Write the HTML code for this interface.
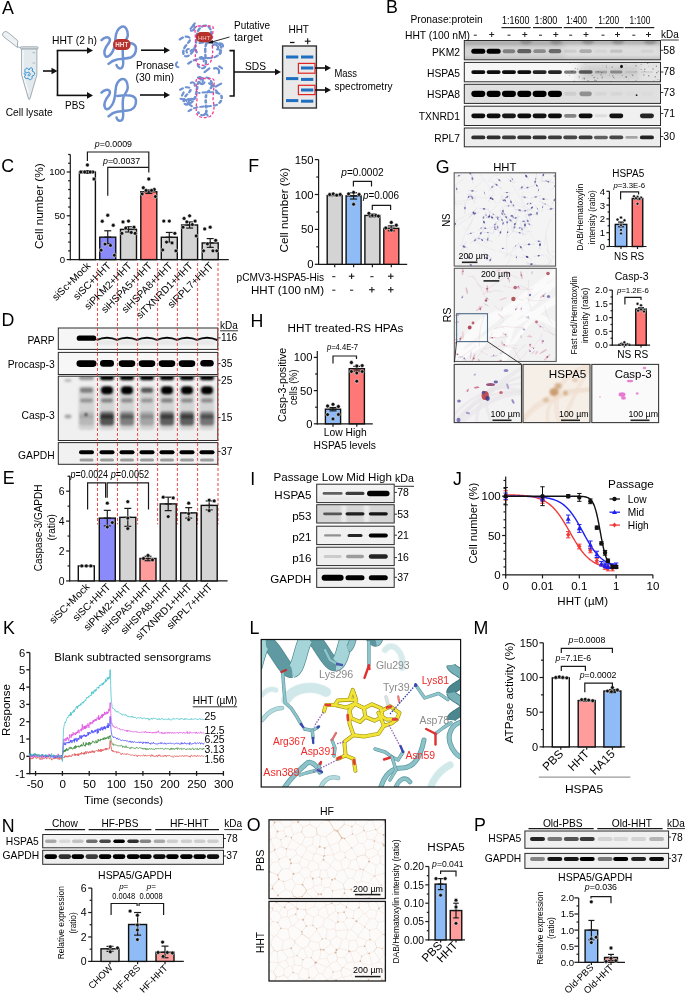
<!DOCTYPE html><html><head><meta charset="utf-8"><style>html,body{margin:0;padding:0;background:#fff;overflow:hidden}svg{display:block;will-change:transform}text{font-family:"Liberation Sans",sans-serif}</style></head><body><svg width="685" height="994" viewBox="0 0 685 994" font-family='"Liberation Sans", sans-serif'><defs><clipPath id="clb1"><rect x="464.3" y="40.5" width="196.2" height="19.3"/></clipPath><filter id="bf1_60" x="-50%" y="-100%" width="200%" height="300%"><feGaussianBlur stdDeviation="1.6"/></filter><filter id="bf2_00" x="-50%" y="-100%" width="200%" height="300%"><feGaussianBlur stdDeviation="2"/></filter><filter id="bf1_20" x="-50%" y="-100%" width="200%" height="300%"><feGaussianBlur stdDeviation="1.2"/></filter><filter id="bf1_00" x="-50%" y="-100%" width="200%" height="300%"><feGaussianBlur stdDeviation="1"/></filter><filter id="bf0_65" x="-50%" y="-100%" width="200%" height="300%"><feGaussianBlur stdDeviation="0.65"/></filter><clipPath id="clb2"><rect x="464.3" y="62.4" width="196.2" height="19.4"/></clipPath><filter id="bf4_00" x="-50%" y="-100%" width="200%" height="300%"><feGaussianBlur stdDeviation="4"/></filter><filter id="bf3_00" x="-50%" y="-100%" width="200%" height="300%"><feGaussianBlur stdDeviation="3"/></filter><clipPath id="clb3"><rect x="464.3" y="84.3" width="196.2" height="19.1"/></clipPath><clipPath id="clb4"><rect x="464.3" y="106.2" width="196.2" height="19.3"/></clipPath><clipPath id="clb5"><rect x="464.3" y="128" width="196.2" height="18.8"/></clipPath><clipPath id="clb6"><rect x="58.3" y="328" width="159.5" height="21.4"/></clipPath><filter id="bf0_45" x="-50%" y="-100%" width="200%" height="300%"><feGaussianBlur stdDeviation="0.45"/></filter><filter id="bf1_50" x="-50%" y="-100%" width="200%" height="300%"><feGaussianBlur stdDeviation="1.5"/></filter><filter id="bf0_60" x="-50%" y="-100%" width="200%" height="300%"><feGaussianBlur stdDeviation="0.6"/></filter><clipPath id="clb7"><rect x="58.3" y="352.4" width="159.5" height="22.1"/></clipPath><filter id="bf0_75" x="-50%" y="-100%" width="200%" height="300%"><feGaussianBlur stdDeviation="0.75"/></filter><clipPath id="clb8"><rect x="58.3" y="376.2" width="159.5" height="64.3"/></clipPath><clipPath id="clb9"><rect x="58.3" y="442.6" width="159.5" height="21.7"/></clipPath><clipPath id="clg1"><rect x="454.2" y="172.8" width="101.4" height="93.3"/></clipPath><clipPath id="clg2"><rect x="454.3" y="268.3" width="101.9" height="93.2"/></clipPath><clipPath id="clg3"><rect x="454.2" y="364.4" width="67.3" height="58.2"/></clipPath><clipPath id="clg4"><rect x="523" y="364.4" width="67" height="58.2"/></clipPath><clipPath id="clg5"><rect x="591.8" y="364.4" width="66.8" height="58.2"/></clipPath><clipPath id="clb10"><rect x="316.7" y="484.2" width="77.5" height="18.4"/></clipPath><filter id="bf0_70" x="-50%" y="-100%" width="200%" height="300%"><feGaussianBlur stdDeviation="0.7"/></filter><clipPath id="clb11"><rect x="316.7" y="504.7" width="77.5" height="18.3"/></clipPath><clipPath id="clb12"><rect x="316.7" y="526.2" width="77.5" height="18.4"/></clipPath><clipPath id="clb13"><rect x="316.7" y="547.2" width="77.5" height="18.4"/></clipPath><clipPath id="clb14"><rect x="316.7" y="568.2" width="77.5" height="19.2"/></clipPath><clipPath id="clL"><rect x="261.2" y="639.5" width="199.4" height="147.5"/></clipPath><clipPath id="clb15"><rect x="42.7" y="834.5" width="180.8" height="13.3"/></clipPath><clipPath id="clb16"><rect x="42.7" y="850.3" width="180.8" height="14"/></clipPath><clipPath id="clO41"><rect x="269" y="819.8" width="116.4" height="78.8"/></clipPath><clipPath id="clO42"><rect x="269" y="901.4" width="116.4" height="79.6"/></clipPath><clipPath id="clb17"><rect x="524.9" y="831" width="143.7" height="17.3"/></clipPath><clipPath id="clb18"><rect x="524.9" y="853.4" width="143.7" height="15"/></clipPath></defs><rect width="685" height="994" fill="#fff"/><path d="M17.5,47.5 L4,37 Q1.5,35 3,33 L4,32 Q5.5,30.5 8,32.5 L17,40 Q18.5,41.5 17.5,43 Z" fill="#eef2f4" stroke="#8e9aa2" stroke-width="0.8"/>
<path d="M18,47 L21,47.5" stroke="#8e9aa2" stroke-width="0.8"/>
<rect x="20.5" y="46.8" width="17.5" height="2.3" rx="0.8" fill="#dfe6ea" stroke="#8e9aa2" stroke-width="0.8"/>
<path d="M21.6,49 L21.6,75 L28.6,99.2 Q29.2,100 29.8,99.2 L36.9,75 L36.9,49 Z" fill="#e3eaee" stroke="#8e9aa2" stroke-width="0.8"/>
<path d="M23,50 L23,74 L28.5,93" stroke="#ffffff" stroke-width="1.2" fill="none" opacity="0.8"/>
<line x1="32.5" y1="52.7" x2="35.2" y2="52.7" stroke="#9aa4aa" stroke-width="0.7" />
<line x1="32.5" y1="63" x2="35.2" y2="63" stroke="#9aa4aa" stroke-width="0.7" />
<path d="M25,72 C24,68 28,67 29,70 C30,66 34,68 32,71 C36,72 35,76 32,76 C33,80 29,81 28,78 C25,80 23,76 26,75 C23,74 24,72 27,73 C28,71 31,73 30,75 C29,77 27,75 29,74" stroke="#2e8fd4" stroke-width="1" fill="none"/>
<line x1="43" y1="71" x2="52" y2="71" stroke="#111" stroke-width="1.6" />
<path d="M57.5,71 L51.5,67.7 L51.5,74.3 Z" fill="#111"/>
<line x1="57.5" y1="50.5" x2="57.5" y2="95.4" stroke="#111" stroke-width="1.6" />
<line x1="56.7" y1="50.5" x2="87.5" y2="50.5" stroke="#111" stroke-width="1.6" />
<path d="M93,50.5 L87,47.2 L87,53.8 Z" fill="#111"/>
<line x1="56.7" y1="95.4" x2="87.5" y2="95.4" stroke="#111" stroke-width="1.6" />
<path d="M93,95.4 L87,92.1 L87,98.7 Z" fill="#111"/>
<text x="52" y="43.8" font-size="10.2" textLength="45" lengthAdjust="spacingAndGlyphs" >HHT (2 h)</text>
<text x="65" y="109.2" font-size="10.2" textLength="20" lengthAdjust="spacingAndGlyphs" >PBS</text>
<text x="5.8" y="116.2" font-size="10.2" textLength="46.8" lengthAdjust="spacingAndGlyphs" >Cell lysate</text>
<path d="M101.5,40.2 C104,37.6 108,36.1 109.7,38.8 C111,41.6 107.9,43.6 106,47.1 C104.4,50.1 103.5,53.6 105.6,56.3 C107.5,58.1 111,54.6 112.6,51.6 C114.5,48.1 115.2,42.6 115.5,38.2 C115.8,33.6 116.5,29.1 121.4,26.8 C125.5,25.6 127.8,29.6 127.8,35.3 C127.5,39.6 124.3,41.1 123.2,45.6 C122.3,49.6 122.8,55.6 123.1,59.6 C123.4,63.6 123.5,66.6 121.5,68.1 C119.5,69.1 117,67.6 116.5,65.1 M108.5,63.9 C111,61.6 114,59.9 117,59.4 C121,58.6 127,58.6 130.7,57.5 C134,56.1 136,52.6 136,48.6 C136,45.1 133,43.5 130,43.1 C126,42.6 121,43.1 117.3,43.7" transform="translate(0,0)" stroke="#6f92d2" stroke-width="2.5" fill="none" stroke-linecap="round"/>
<path d="M101.5,40.2 C104,37.6 108,36.1 109.7,38.8 C111,41.6 107.9,43.6 106,47.1 C104.4,50.1 103.5,53.6 105.6,56.3 C107.5,58.1 111,54.6 112.6,51.6 C114.5,48.1 115.2,42.6 115.5,38.2 C115.8,33.6 116.5,29.1 121.4,26.8 C125.5,25.6 127.8,29.6 127.8,35.3 C127.5,39.6 124.3,41.1 123.2,45.6 C122.3,49.6 122.8,55.6 123.1,59.6 C123.4,63.6 123.5,66.6 121.5,68.1 C119.5,69.1 117,67.6 116.5,65.1 M108.5,63.9 C111,61.6 114,59.9 117,59.4 C121,58.6 127,58.6 130.7,57.5 C134,56.1 136,52.6 136,48.6 C136,45.1 133,43.5 130,43.1 C126,42.6 121,43.1 117.3,43.7" transform="translate(0,52.4)" stroke="#6f92d2" stroke-width="2.5" fill="none" stroke-linecap="round"/>
<rect x="113" y="39" width="17.6" height="11" rx="5.3" fill="#b7322c"/>
<text x="121.8" y="47.3" font-size="6.3" text-anchor="middle" fill="#f4dcdc" font-weight="bold" >HHT</text>
<line x1="141" y1="50.2" x2="164.5" y2="50.2" stroke="#111" stroke-width="1.6" />
<path d="M170,50.2 L164,46.9 L164,53.5 Z" fill="#111"/>
<line x1="140" y1="95" x2="164.5" y2="95" stroke="#111" stroke-width="1.6" />
<path d="M170,95 L164,91.7 L164,98.3 Z" fill="#111"/>
<text x="136" y="69" font-size="10.2" textLength="38" lengthAdjust="spacingAndGlyphs" >Pronase</text>
<text x="135.5" y="80.7" font-size="10.2" textLength="38.5" lengthAdjust="spacingAndGlyphs" >(30 min)</text>
<path d="M101.5,40.2 C104,37.6 108,36.1 109.7,38.8 C111,41.6 107.9,43.6 106,47.1 C104.4,50.1 103.5,53.6 105.6,56.3 C107.5,58.1 111,54.6 112.6,51.6 C114.5,48.1 115.2,42.6 115.5,38.2 C115.8,33.6 116.5,29.1 121.4,26.8 C125.5,25.6 127.8,29.6 127.8,35.3 C127.5,39.6 124.3,41.1 123.2,45.6 C122.3,49.6 122.8,55.6 123.1,59.6 C123.4,63.6 123.5,66.6 121.5,68.1 C119.5,69.1 117,67.6 116.5,65.1 M108.5,63.9 C111,61.6 114,59.9 117,59.4 C121,58.6 127,58.6 130.7,57.5 C134,56.1 136,52.6 136,48.6 C136,45.1 133,43.5 130,43.1 C126,42.6 121,43.1 117.3,43.7" transform="translate(178,25) scale(1.2,1.02) translate(-100,-26)" stroke="#6f92d2" stroke-width="2.07" fill="none" stroke-linecap="round" stroke-dasharray="3.2,2.6"/>
<path d="M101.5,40.2 C104,37.6 108,36.1 109.7,38.8 C111,41.6 107.9,43.6 106,47.1 C104.4,50.1 103.5,53.6 105.6,56.3 C107.5,58.1 111,54.6 112.6,51.6 C114.5,48.1 115.2,42.6 115.5,38.2 C115.8,33.6 116.5,29.1 121.4,26.8 C125.5,25.6 127.8,29.6 127.8,35.3 C127.5,39.6 124.3,41.1 123.2,45.6 C122.3,49.6 122.8,55.6 123.1,59.6 C123.4,63.6 123.5,66.6 121.5,68.1 C119.5,69.1 117,67.6 116.5,65.1 M108.5,63.9 C111,61.6 114,59.9 117,59.4 C121,58.6 127,58.6 130.7,57.5 C134,56.1 136,52.6 136,48.6 C136,45.1 133,43.5 130,43.1 C126,42.6 121,43.1 117.3,43.7" transform="translate(178.5,77) scale(1.2,0.9) translate(-100,-26)" stroke="#6f92d2" stroke-width="2.19" fill="none" stroke-linecap="round" stroke-dasharray="2.6,3"/>
<path d="M187.03,52.56 A2.1,2.1 0 0 1 188.71,48.95" stroke="#6f92d2" stroke-width="2.1" fill="none" stroke-linecap="round"/>
<path d="M178.42,67.22 A2.71,2.71 0 0 1 177.09,62.26" stroke="#6f92d2" stroke-width="2.1" fill="none" stroke-linecap="round"/>
<path d="M212.68,45.38 A3.3,3.3 0 0 1 218.02,48.67" stroke="#6f92d2" stroke-width="2.1" fill="none" stroke-linecap="round"/>
<path d="M199.65,57.56 A2.89,2.89 0 0 1 203.64,61.32" stroke="#6f92d2" stroke-width="2.1" fill="none" stroke-linecap="round"/>
<path d="M193.46,24.94 A3.32,3.32 0 0 1 190.98,30.73" stroke="#6f92d2" stroke-width="2.1" fill="none" stroke-linecap="round"/>
<line x1="209.42" y1="68.37" x2="204.52" y2="72.17" stroke="#6f92d2" stroke-width="2.2" stroke-linecap="round"/>
<line x1="219.17" y1="66.43" x2="222.07" y2="68.46" stroke="#6f92d2" stroke-width="2.2" stroke-linecap="round"/>
<path d="M218.68,44.22 A2.58,2.58 0 0 1 223.03,46.46" stroke="#6f92d2" stroke-width="2.1" fill="none" stroke-linecap="round"/>
<path d="M190.51,51.2 A3.39,3.39 0 0 1 196.81,52.53" stroke="#6f92d2" stroke-width="2.1" fill="none" stroke-linecap="round"/>
<path d="M214.05,68.55 A3.45,3.45 0 0 1 218.81,73.04" stroke="#6f92d2" stroke-width="2.1" fill="none" stroke-linecap="round"/>
<path d="M217.16,49.39 A2.86,2.86 0 0 1 219.99,54.03" stroke="#6f92d2" stroke-width="2.1" fill="none" stroke-linecap="round"/>
<line x1="190.54" y1="28.92" x2="194.77" y2="23.39" stroke="#6f92d2" stroke-width="2.2" stroke-linecap="round"/>
<path d="M190.76,82.81 A2.55,2.55 0 0 1 194.68,85.65" stroke="#6f92d2" stroke-width="2.1" fill="none" stroke-linecap="round"/>
<line x1="180.55" y1="98.79" x2="185.16" y2="99.9" stroke="#6f92d2" stroke-width="2.2" stroke-linecap="round"/>
<line x1="181.99" y1="95.56" x2="183.61" y2="92.46" stroke="#6f92d2" stroke-width="2.2" stroke-linecap="round"/>
<path d="M203.78,115 A2.07,2.07 0 0 1 207.65,115.64" stroke="#6f92d2" stroke-width="2.1" fill="none" stroke-linecap="round"/>
<line x1="215.77" y1="90.29" x2="217.91" y2="93.03" stroke="#6f92d2" stroke-width="2.2" stroke-linecap="round"/>
<line x1="213.91" y1="86.05" x2="209.07" y2="83.32" stroke="#6f92d2" stroke-width="2.2" stroke-linecap="round"/>
<path d="M204.56,82.41 A2.64,2.64 0 0 1 199.55,82.15" stroke="#6f92d2" stroke-width="2.1" fill="none" stroke-linecap="round"/>
<path d="M188.9,102.72 A3.05,3.05 0 0 1 193.63,99.38" stroke="#6f92d2" stroke-width="2.1" fill="none" stroke-linecap="round"/>
<path d="M186.34,101.02 A2.43,2.43 0 0 1 190.89,100.27" stroke="#6f92d2" stroke-width="2.1" fill="none" stroke-linecap="round"/>
<line x1="221.13" y1="83.6" x2="215.88" y2="86.57" stroke="#6f92d2" stroke-width="2.2" stroke-linecap="round"/>
<path d="M197.89,77.64 A3.31,3.31 0 0 1 202.55,81.87" stroke="#6f92d2" stroke-width="2.1" fill="none" stroke-linecap="round"/>
<line x1="191.8" y1="106.12" x2="187.39" y2="103.14" stroke="#6f92d2" stroke-width="2.2" stroke-linecap="round"/>
<path d="M198,26 L211,26 Q214,26 213,30 L212,44 Q214,56 210,63 Q205,67 198,64 Q194,60 196,50 L195,30 Q195,26 198,26 Z" stroke="#ee3d96" stroke-width="1.3" stroke-dasharray="3,1.8" fill="none"/>
<path d="M198,78.5 L212,78.5 Q215,79 214,84 L213,100 Q216,112 210,116.5 Q204,119 198,116 Q195,112 197,100 L196,82 Q196,78.5 198,78.5 Z" stroke="#ee3d96" stroke-width="1.3" stroke-dasharray="3,1.8" fill="none"/>
<rect x="196" y="32" width="16.3" height="10.3" rx="5" fill="#b7322c"/>
<text x="204.2" y="39.6" font-size="6" text-anchor="middle" fill="#f0c8c8" >HHT</text>
<line x1="229.5" y1="37" x2="209.5" y2="42.6" stroke="#111" stroke-width="0.9" />
<path d="M207.5,43.2 L212.5,40 L213.2,43.6 Z" fill="#111"/>
<text x="234" y="29.2" font-size="10.2" textLength="36" lengthAdjust="spacingAndGlyphs" >Putative</text>
<text x="234" y="41.4" font-size="10.2" textLength="28.6" lengthAdjust="spacingAndGlyphs" >target</text>
<polyline points="229.5,50.6 234,50.6 234,96 229.5,96" stroke="#111" stroke-width="1.6" fill="none" />
<line x1="234" y1="72" x2="275.5" y2="72" stroke="#111" stroke-width="1.6" />
<path d="M281,72 L275,68.7 L275,75.3 Z" fill="#111"/>
<text x="245" y="69.6" font-size="10.2" textLength="21" lengthAdjust="spacingAndGlyphs" >SDS</text>
<rect x="282.6" y="46" width="33.8" height="62" fill="#e9e9ea" stroke="#333" stroke-width="1.4" />
<rect x="286" y="55.5" width="12.3" height="3" fill="#1e6fc0" />
<rect x="301" y="55.5" width="12.3" height="3" fill="#1e6fc0" />
<rect x="301" y="66.5" width="12.3" height="3" fill="#1e6fc0" />
<rect x="286" y="77.1" width="12.3" height="3" fill="#1e6fc0" />
<rect x="301" y="77.9" width="12.3" height="3" fill="#1e6fc0" />
<rect x="301" y="88.5" width="12.3" height="3" fill="#1e6fc0" />
<rect x="286" y="99.1" width="12.3" height="3" fill="#1e6fc0" />
<rect x="301" y="99.7" width="12.3" height="3" fill="#1e6fc0" />
<rect x="298.4" y="63.4" width="16.6" height="9.8" fill="none" stroke="#e02525" stroke-width="1.2" />
<rect x="298.4" y="85.3" width="16.6" height="9.3" fill="none" stroke="#e02525" stroke-width="1.2" />
<line x1="315" y1="68" x2="325.5" y2="68" stroke="#111" stroke-width="1.6" />
<path d="M331,68 L325,64.7 L325,71.3 Z" fill="#111"/>
<line x1="315" y1="90" x2="325.5" y2="90" stroke="#111" stroke-width="1.6" />
<path d="M331,90 L325,86.7 L325,93.3 Z" fill="#111"/>
<text x="334.5" y="77" font-size="10.2" textLength="22.5" lengthAdjust="spacingAndGlyphs" >Mass</text>
<text x="334.5" y="90.2" font-size="10.2" textLength="58" lengthAdjust="spacingAndGlyphs" >spectrometry</text>
<text x="288.4" y="33" font-size="10.2" textLength="20.6" lengthAdjust="spacingAndGlyphs" >HHT</text>
<line x1="290" y1="42.5" x2="294.5" y2="42.5" stroke="#111" stroke-width="1.3" />
<line x1="304.8" y1="41.2" x2="310.6" y2="41.2" stroke="#111" stroke-width="1.1" />
<line x1="307.7" y1="38.2" x2="307.7" y2="44.2" stroke="#111" stroke-width="1.1" />
<text x="2.03" y="14.4" font-size="17.8" >A</text>
<text x="385.9" y="12.7" font-size="17.8" >B</text>
<text x="1.2" y="172.4" font-size="17.8" >C</text>
<text x="1.6" y="326.2" font-size="17.8" >D</text>
<text x="2.7" y="484.2" font-size="17.8" >E</text>
<text x="248.2" y="171.9" font-size="17.8" >F</text>
<text x="435.8" y="173.1" font-size="17.8" >G</text>
<text x="250.5" y="326.8" font-size="17.8" >H</text>
<text x="250.3" y="484.6" font-size="17.8" >I</text>
<text x="452.9" y="484.8" font-size="17.8" >J</text>
<text x="3.1" y="633.8" font-size="17.8" >K</text>
<text x="249.4" y="633.8" font-size="17.8" >L</text>
<text x="473.5" y="633.8" font-size="17.8" >M</text>
<text x="1.75" y="831.8" font-size="17.8" >N</text>
<text x="246.8" y="831.4" font-size="17.8" >O</text>
<text x="474.1" y="831.2" font-size="17.8" >P</text>
<text x="410.4" y="22.9" font-size="10.3" textLength="72.4" lengthAdjust="spacingAndGlyphs" >Pronase:protein</text>
<text x="405" y="38.5" font-size="10.3" textLength="65" lengthAdjust="spacingAndGlyphs" >HHT (100 nM)</text>
<line x1="501.5" y1="27.6" x2="530.7" y2="27.6" stroke="#222" stroke-width="1.2" />
<text x="502" y="23.8" font-size="10.2" textLength="27.4" lengthAdjust="spacingAndGlyphs" >1:1600</text>
<line x1="533" y1="27.6" x2="562" y2="27.6" stroke="#222" stroke-width="1.2" />
<text x="534.6" y="23.8" font-size="10.2" textLength="22.8" lengthAdjust="spacingAndGlyphs" >1:800</text>
<line x1="563.7" y1="27.6" x2="592.5" y2="27.6" stroke="#222" stroke-width="1.2" />
<text x="565.9" y="23.8" font-size="10.2" textLength="21.1" lengthAdjust="spacingAndGlyphs" >1:400</text>
<line x1="595" y1="27.6" x2="623.6" y2="27.6" stroke="#222" stroke-width="1.2" />
<text x="598.2" y="23.8" font-size="10.2" textLength="20.9" lengthAdjust="spacingAndGlyphs" >1:200</text>
<line x1="625" y1="27.6" x2="654.3" y2="27.6" stroke="#222" stroke-width="1.2" />
<text x="629.4" y="23.8" font-size="10.2" textLength="21" lengthAdjust="spacingAndGlyphs" >1:100</text>
<line x1="473.8" y1="35.2" x2="476.8" y2="35.2" stroke="#222" stroke-width="1" />
<line x1="489.2" y1="34.5" x2="494.2" y2="34.5" stroke="#222" stroke-width="1" />
<line x1="491.7" y1="32" x2="491.7" y2="37" stroke="#222" stroke-width="1" />
<line x1="507.5" y1="35.2" x2="510.5" y2="35.2" stroke="#222" stroke-width="1" />
<line x1="522.3" y1="34.5" x2="527.3" y2="34.5" stroke="#222" stroke-width="1" />
<line x1="524.8" y1="32" x2="524.8" y2="37" stroke="#222" stroke-width="1" />
<line x1="539" y1="35.2" x2="542" y2="35.2" stroke="#222" stroke-width="1" />
<line x1="553.3" y1="34.5" x2="558.3" y2="34.5" stroke="#222" stroke-width="1" />
<line x1="555.8" y1="32" x2="555.8" y2="37" stroke="#222" stroke-width="1" />
<line x1="569.2" y1="35.2" x2="572.2" y2="35.2" stroke="#222" stroke-width="1" />
<line x1="583.5" y1="34.5" x2="588.5" y2="34.5" stroke="#222" stroke-width="1" />
<line x1="586" y1="32" x2="586" y2="37" stroke="#222" stroke-width="1" />
<line x1="601.5" y1="35.2" x2="604.5" y2="35.2" stroke="#222" stroke-width="1" />
<line x1="615" y1="34.5" x2="620" y2="34.5" stroke="#222" stroke-width="1" />
<line x1="617.5" y1="32" x2="617.5" y2="37" stroke="#222" stroke-width="1" />
<line x1="632.3" y1="35.2" x2="635.3" y2="35.2" stroke="#222" stroke-width="1" />
<line x1="646" y1="34.5" x2="651" y2="34.5" stroke="#222" stroke-width="1" />
<line x1="648.5" y1="32" x2="648.5" y2="37" stroke="#222" stroke-width="1" />
<text x="661" y="38" font-size="10.3" textLength="17.7" lengthAdjust="spacingAndGlyphs" >kDa</text>
<line x1="661" y1="40" x2="678.7" y2="40" stroke="#222" stroke-width="0.9" />
<g clip-path="url(#clb1)">
<rect x="464.3" y="40.5" width="196.2" height="19.3" fill="#d4d4d4" />
<rect x="464.3" y="40.5" width="196.2" height="5" fill="#8a8a8a" opacity="0.55" filter="url(#bf1_60)"/>
<rect x="564.3" y="44.5" width="96.2" height="15.3" fill="#e2e2e2" opacity="0.7" filter="url(#bf2_00)"/>
<ellipse cx="526" cy="41.5" rx="6" ry="3" fill="#666" opacity="0.45" filter="url(#bf1_20)"/>
<ellipse cx="556" cy="41.5" rx="6" ry="3" fill="#666" opacity="0.45" filter="url(#bf1_20)"/>
<ellipse cx="588" cy="41.5" rx="6" ry="3" fill="#666" opacity="0.45" filter="url(#bf1_20)"/>
<ellipse cx="618" cy="41.5" rx="6" ry="3" fill="#666" opacity="0.45" filter="url(#bf1_20)"/>
<ellipse cx="650" cy="41.5" rx="6" ry="3" fill="#666" opacity="0.45" filter="url(#bf1_20)"/>
<rect x="464.3" y="56.8" width="196.2" height="3" fill="#b8b8b8" opacity="0.6" filter="url(#bf1_00)"/>
<g filter="url(#bf0_65)">
<rect x="471.3" y="48.65" width="14" height="5" rx="2.5" fill="#000" opacity="1"/>
<rect x="486.63" y="48.65" width="14" height="5" rx="2.5" fill="#000" opacity="1"/>
<rect x="502.71" y="49.13" width="12.5" height="4.04" rx="2.02" fill="#000" opacity="0.4"/>
<rect x="517.29" y="48.94" width="14" height="4.43" rx="2.21" fill="#000" opacity="0.55"/>
<rect x="533.37" y="49.2" width="12.5" height="3.91" rx="1.96" fill="#000" opacity="0.35"/>
<rect x="548.7" y="49" width="12.5" height="4.3" rx="2.15" fill="#000" opacity="0.5"/>
<rect x="564.03" y="49.55" width="12.5" height="3.21" rx="1.6" fill="#000" opacity="0.08"/>
<rect x="579.36" y="49.36" width="12.5" height="3.57" rx="1.79" fill="#000" opacity="0.22"/>
<rect x="594.69" y="49.6" width="12.5" height="3.1" rx="1.55" fill="#000" opacity="0.04"/>
<rect x="610.02" y="49.49" width="12.5" height="3.31" rx="1.66" fill="#000" opacity="0.12"/>
<rect x="640.68" y="49.59" width="12.5" height="3.13" rx="1.56" fill="#000" opacity="0.05"/>
</g></g>
<rect x="464.3" y="40.5" width="196.2" height="19.3" fill="none" stroke="#2a2a2a" stroke-width="1" />
<text x="460" y="55.8" font-size="10.3" text-anchor="end" >PKM2</text>
<line x1="660.8" y1="50.3" x2="663.3" y2="50.3" stroke="#222" stroke-width="0.9" />
<text x="663.3" y="53.6" font-size="10" textLength="11.7" lengthAdjust="spacingAndGlyphs" >58</text>
<g clip-path="url(#clb2)">
<rect x="464.3" y="62.4" width="196.2" height="19.4" fill="#f6f6f6" />
<rect x="579.3" y="62.4" width="81.2" height="19.4" fill="#c4c4c4" opacity="0.8" filter="url(#bf4_00)"/>
<rect x="639.3" y="64.4" width="20" height="15.4" fill="#f4f4f4" opacity="0.6" filter="url(#bf3_00)"/>
<circle cx="626.11" cy="76.79" r="0.7" fill="#555" opacity="0.6"/>
<circle cx="655.25" cy="76.75" r="0.76" fill="#555" opacity="0.6"/>
<circle cx="571.95" cy="71.43" r="0.77" fill="#555" opacity="0.6"/>
<circle cx="628.49" cy="79.88" r="0.36" fill="#555" opacity="0.6"/>
<circle cx="612.08" cy="67.18" r="0.57" fill="#555" opacity="0.6"/>
<circle cx="621.64" cy="62.65" r="0.41" fill="#555" opacity="0.6"/>
<circle cx="594.79" cy="80.18" r="0.68" fill="#555" opacity="0.6"/>
<circle cx="583.86" cy="77.86" r="0.37" fill="#555" opacity="0.6"/>
<circle cx="625.61" cy="64.86" r="0.3" fill="#555" opacity="0.6"/>
<circle cx="648.77" cy="66.46" r="0.41" fill="#555" opacity="0.6"/>
<circle cx="658.9" cy="79.32" r="0.44" fill="#555" opacity="0.6"/>
<circle cx="656.99" cy="72.86" r="0.64" fill="#555" opacity="0.6"/>
<circle cx="587.98" cy="80.65" r="0.65" fill="#555" opacity="0.6"/>
<circle cx="657.45" cy="79.74" r="0.45" fill="#555" opacity="0.6"/>
<circle cx="602.24" cy="65.62" r="0.37" fill="#555" opacity="0.6"/>
<circle cx="575.24" cy="68.25" r="0.6" fill="#555" opacity="0.6"/>
<circle cx="569.61" cy="75.55" r="0.47" fill="#555" opacity="0.6"/>
<circle cx="597.57" cy="78.28" r="0.54" fill="#555" opacity="0.6"/>
<circle cx="598.1" cy="71.74" r="0.65" fill="#555" opacity="0.6"/>
<circle cx="574.5" cy="81.32" r="0.31" fill="#555" opacity="0.6"/>
<circle cx="637.68" cy="78.79" r="0.31" fill="#555" opacity="0.6"/>
<circle cx="641.14" cy="69.5" r="0.59" fill="#555" opacity="0.6"/>
<circle cx="570.13" cy="63.31" r="0.39" fill="#555" opacity="0.6"/>
<circle cx="656.41" cy="66.21" r="0.68" fill="#555" opacity="0.6"/>
<circle cx="654.08" cy="80.68" r="0.47" fill="#555" opacity="0.6"/>
<circle cx="601.66" cy="72.58" r="0.69" fill="#555" opacity="0.6"/>
<circle cx="579.15" cy="76.92" r="0.7" fill="#555" opacity="0.6"/>
<circle cx="647.7" cy="63.11" r="0.77" fill="#555" opacity="0.6"/>
<circle cx="577.62" cy="69.01" r="0.61" fill="#555" opacity="0.6"/>
<circle cx="653.03" cy="69" r="0.76" fill="#555" opacity="0.6"/>
<circle cx="619.02" cy="68.46" r="0.46" fill="#555" opacity="0.6"/>
<circle cx="585.49" cy="63.92" r="0.37" fill="#555" opacity="0.6"/>
<circle cx="632.15" cy="81.74" r="0.38" fill="#555" opacity="0.6"/>
<circle cx="573.73" cy="81.54" r="0.57" fill="#555" opacity="0.6"/>
<circle cx="606.32" cy="67" r="0.6" fill="#555" opacity="0.6"/>
<circle cx="644.66" cy="71.24" r="0.51" fill="#555" opacity="0.6"/>
<circle cx="574.38" cy="80.17" r="0.32" fill="#555" opacity="0.6"/>
<circle cx="614.31" cy="78.67" r="0.37" fill="#555" opacity="0.6"/>
<circle cx="636.03" cy="80.83" r="0.62" fill="#555" opacity="0.6"/>
<circle cx="641.17" cy="64.47" r="0.52" fill="#555" opacity="0.6"/>
<circle cx="582.91" cy="78.79" r="0.45" fill="#555" opacity="0.6"/>
<circle cx="610.63" cy="81.79" r="0.73" fill="#555" opacity="0.6"/>
<circle cx="658.31" cy="71.2" r="0.54" fill="#555" opacity="0.6"/>
<circle cx="635.83" cy="71.69" r="0.45" fill="#555" opacity="0.6"/>
<circle cx="606.13" cy="65.24" r="0.49" fill="#555" opacity="0.6"/>
<circle cx="659.44" cy="81.02" r="0.61" fill="#555" opacity="0.6"/>
<circle cx="614.84" cy="68.97" r="0.34" fill="#555" opacity="0.6"/>
<circle cx="594.13" cy="77.57" r="0.73" fill="#555" opacity="0.6"/>
<circle cx="602.25" cy="77.65" r="0.69" fill="#555" opacity="0.6"/>
<circle cx="632.65" cy="75.28" r="0.68" fill="#555" opacity="0.6"/>
<circle cx="602.44" cy="76.07" r="0.44" fill="#555" opacity="0.6"/>
<circle cx="613.59" cy="77.33" r="0.65" fill="#555" opacity="0.6"/>
<circle cx="596.1" cy="80.74" r="0.62" fill="#555" opacity="0.6"/>
<circle cx="622.26" cy="62.62" r="0.57" fill="#555" opacity="0.6"/>
<circle cx="592.16" cy="75.43" r="0.53" fill="#555" opacity="0.6"/>
<circle cx="643.78" cy="74.96" r="0.7" fill="#555" opacity="0.6"/>
<circle cx="601.03" cy="74.89" r="0.67" fill="#555" opacity="0.6"/>
<circle cx="644.83" cy="69.19" r="0.72" fill="#555" opacity="0.6"/>
<circle cx="648.64" cy="75.75" r="0.79" fill="#555" opacity="0.6"/>
<circle cx="656.53" cy="72.45" r="0.56" fill="#555" opacity="0.6"/>
<circle cx="584.45" cy="78.63" r="0.77" fill="#555" opacity="0.6"/>
<circle cx="612.82" cy="75.81" r="0.66" fill="#555" opacity="0.6"/>
<circle cx="635.91" cy="65.73" r="0.69" fill="#555" opacity="0.6"/>
<circle cx="622.27" cy="75.31" r="0.51" fill="#555" opacity="0.6"/>
<circle cx="626.18" cy="77.43" r="0.62" fill="#555" opacity="0.6"/>
<circle cx="635" cy="62.94" r="0.38" fill="#555" opacity="0.6"/>
<circle cx="609.53" cy="75.01" r="0.41" fill="#555" opacity="0.6"/>
<circle cx="631.86" cy="74.64" r="0.32" fill="#555" opacity="0.6"/>
<circle cx="612.31" cy="66.79" r="0.33" fill="#555" opacity="0.6"/>
<circle cx="581.48" cy="68.56" r="0.39" fill="#555" opacity="0.6"/>
<ellipse cx="621.5" cy="66.5" rx="1.4" ry="1.8" fill="#111"/>
<g filter="url(#bf0_65)">
<rect x="471.3" y="70.2" width="14" height="3.8" rx="1.9" fill="#000" opacity="0.95"/>
<rect x="486.63" y="70.2" width="14" height="3.8" rx="1.9" fill="#000" opacity="0.95"/>
<rect x="501.96" y="70.2" width="14" height="3.8" rx="1.9" fill="#000" opacity="0.95"/>
<rect x="517.29" y="70.2" width="14" height="3.8" rx="1.9" fill="#000" opacity="0.95"/>
<rect x="532.62" y="70.2" width="14" height="3.8" rx="1.9" fill="#000" opacity="0.85"/>
<rect x="547.95" y="70.2" width="14" height="3.8" rx="1.9" fill="#000" opacity="0.85"/>
<rect x="564.03" y="70.47" width="12.5" height="3.27" rx="1.63" fill="#000" opacity="0.5"/>
<rect x="578.61" y="70.37" width="14" height="3.47" rx="1.73" fill="#000" opacity="0.6"/>
<rect x="594.69" y="70.74" width="12.5" height="2.71" rx="1.36" fill="#000" opacity="0.22"/>
<rect x="610.02" y="70.61" width="12.5" height="2.97" rx="1.49" fill="#000" opacity="0.35"/>
<rect x="625.35" y="70.88" width="12.5" height="2.44" rx="1.22" fill="#000" opacity="0.08"/>
<rect x="640.68" y="70.88" width="12.5" height="2.44" rx="1.22" fill="#000" opacity="0.08"/>
</g></g>
<rect x="464.3" y="62.4" width="196.2" height="19.4" fill="none" stroke="#2a2a2a" stroke-width="1" />
<text x="460" y="77.1" font-size="10.3" text-anchor="end" >HSPA5</text>
<line x1="660.8" y1="72" x2="663.3" y2="72" stroke="#222" stroke-width="0.9" />
<text x="663.3" y="75.3" font-size="10" textLength="11.7" lengthAdjust="spacingAndGlyphs" >78</text>
<g clip-path="url(#clb3)">
<rect x="464.3" y="84.3" width="196.2" height="19.1" fill="#e6e6e6" />
<rect x="464.3" y="84.3" width="196.2" height="19.1" fill="#d8d8d8" opacity="0.5" filter="url(#bf3_00)"/>
<circle cx="636.6" cy="95.2" r="0.9" fill="#222" />
<g filter="url(#bf0_65)">
<rect x="471.3" y="90.75" width="14" height="6.2" rx="3.1" fill="#000" opacity="1"/>
<rect x="486.63" y="90.75" width="14" height="6.2" rx="3.1" fill="#000" opacity="1"/>
<rect x="501.96" y="90.75" width="14" height="6.2" rx="3.1" fill="#000" opacity="1"/>
<rect x="517.29" y="90.75" width="14" height="6.2" rx="3.1" fill="#000" opacity="1"/>
<rect x="532.62" y="90.75" width="14" height="6.2" rx="3.1" fill="#000" opacity="1"/>
<rect x="547.95" y="90.75" width="14" height="6.2" rx="3.1" fill="#000" opacity="1"/>
<rect x="564.03" y="91.86" width="12.5" height="3.98" rx="1.99" fill="#000" opacity="0.08"/>
<rect x="579.36" y="91.43" width="12.5" height="4.85" rx="2.42" fill="#000" opacity="0.35"/>
<rect x="594.69" y="91.93" width="12.5" height="3.85" rx="1.92" fill="#000" opacity="0.04"/>
<rect x="610.02" y="91.93" width="12.5" height="3.85" rx="1.92" fill="#000" opacity="0.04"/>
<rect x="625.35" y="91.96" width="12.5" height="3.78" rx="1.89" fill="#000" opacity="0.02"/>
<rect x="640.68" y="91.96" width="12.5" height="3.78" rx="1.89" fill="#000" opacity="0.02"/>
</g></g>
<rect x="464.3" y="84.3" width="196.2" height="19.1" fill="none" stroke="#2a2a2a" stroke-width="1" />
<text x="460" y="98.4" font-size="10.3" text-anchor="end" >HSPA8</text>
<line x1="660.8" y1="92.5" x2="663.3" y2="92.5" stroke="#222" stroke-width="0.9" />
<text x="663.3" y="95.8" font-size="10" textLength="11.7" lengthAdjust="spacingAndGlyphs" >73</text>
<g clip-path="url(#clb4)">
<rect x="464.3" y="106.2" width="196.2" height="19.3" fill="#f0f0f0" />
<g filter="url(#bf0_65)">
<rect x="471.3" y="113.55" width="14" height="4.6" rx="2.3" fill="#000" opacity="0.95"/>
<rect x="486.63" y="113.55" width="14" height="4.6" rx="2.3" fill="#000" opacity="0.95"/>
<rect x="501.96" y="113.55" width="14" height="4.6" rx="2.3" fill="#000" opacity="0.9"/>
<rect x="517.29" y="113.55" width="14" height="4.6" rx="2.3" fill="#000" opacity="0.95"/>
<rect x="532.62" y="113.55" width="14" height="4.6" rx="2.3" fill="#000" opacity="0.92"/>
<rect x="547.95" y="113.55" width="14" height="4.6" rx="2.3" fill="#000" opacity="0.95"/>
<rect x="564.03" y="113.93" width="12.5" height="3.84" rx="1.92" fill="#000" opacity="0.45"/>
<rect x="578.61" y="113.55" width="14" height="4.6" rx="2.3" fill="#000" opacity="0.95"/>
<rect x="594.69" y="114.37" width="12.5" height="2.95" rx="1.48" fill="#000" opacity="0.08"/>
<rect x="609.27" y="113.55" width="14" height="4.6" rx="2.3" fill="#000" opacity="0.92"/>
<rect x="639.93" y="113.55" width="14" height="4.6" rx="2.3" fill="#000" opacity="0.85"/>
</g></g>
<rect x="464.3" y="106.2" width="196.2" height="19.3" fill="none" stroke="#2a2a2a" stroke-width="1" />
<text x="460" y="120" font-size="10.3" text-anchor="end" >TXNRD1</text>
<line x1="660.8" y1="113.5" x2="663.3" y2="113.5" stroke="#222" stroke-width="0.9" />
<text x="663.3" y="116.8" font-size="10" textLength="11.7" lengthAdjust="spacingAndGlyphs" >71</text>
<g clip-path="url(#clb5)">
<rect x="464.3" y="128" width="196.2" height="18.8" fill="#ededed" />
<g filter="url(#bf0_65)">
<rect x="471.3" y="135.5" width="14" height="3.8" rx="1.9" fill="#000" opacity="0.8"/>
<rect x="486.63" y="135.5" width="14" height="3.8" rx="1.9" fill="#000" opacity="0.8"/>
<rect x="501.96" y="135.52" width="14" height="3.76" rx="1.88" fill="#000" opacity="0.75"/>
<rect x="517.29" y="135.5" width="14" height="3.8" rx="1.9" fill="#000" opacity="0.78"/>
<rect x="532.62" y="135.5" width="14" height="3.8" rx="1.9" fill="#000" opacity="0.78"/>
<rect x="547.95" y="135.52" width="14" height="3.76" rx="1.88" fill="#000" opacity="0.75"/>
<rect x="563.28" y="135.57" width="14" height="3.66" rx="1.83" fill="#000" opacity="0.7"/>
<rect x="578.61" y="135.52" width="14" height="3.76" rx="1.88" fill="#000" opacity="0.75"/>
<rect x="593.94" y="135.67" width="14" height="3.47" rx="1.73" fill="#000" opacity="0.6"/>
<rect x="609.27" y="135.57" width="14" height="3.66" rx="1.83" fill="#000" opacity="0.7"/>
<rect x="625.35" y="135.96" width="12.5" height="2.87" rx="1.44" fill="#000" opacity="0.3"/>
<rect x="639.93" y="135.5" width="14" height="3.8" rx="1.9" fill="#000" opacity="0.85"/>
</g></g>
<rect x="464.3" y="128" width="196.2" height="18.8" fill="none" stroke="#2a2a2a" stroke-width="1" />
<text x="460" y="141.6" font-size="10.3" text-anchor="end" >RPL7</text>
<line x1="660.8" y1="136.5" x2="663.3" y2="136.5" stroke="#222" stroke-width="0.9" />
<text x="663.3" y="139.8" font-size="10" textLength="11.7" lengthAdjust="spacingAndGlyphs" >30</text>
<line x1="70.3" y1="154.4" x2="70.3" y2="260.2" stroke="#1a1a1a" stroke-width="1.2" />
<line x1="66.7" y1="259.6" x2="70.3" y2="259.6" stroke="#1a1a1a" stroke-width="1.2" />
<text x="65.2" y="263.06" font-size="9.6" text-anchor="end" >0</text>
<line x1="66.7" y1="215.8" x2="70.3" y2="215.8" stroke="#1a1a1a" stroke-width="1.2" />
<text x="65.2" y="219.26" font-size="9.6" text-anchor="end" >50</text>
<line x1="66.7" y1="172" x2="70.3" y2="172" stroke="#1a1a1a" stroke-width="1.2" />
<text x="65.2" y="175.46" font-size="9.6" text-anchor="end" >100</text>
<line x1="68.1" y1="250.84" x2="70.3" y2="250.84" stroke="#1a1a1a" stroke-width="1.2" />
<line x1="68.1" y1="242.08" x2="70.3" y2="242.08" stroke="#1a1a1a" stroke-width="1.2" />
<line x1="68.1" y1="233.32" x2="70.3" y2="233.32" stroke="#1a1a1a" stroke-width="1.2" />
<line x1="68.1" y1="224.56" x2="70.3" y2="224.56" stroke="#1a1a1a" stroke-width="1.2" />
<line x1="68.1" y1="207.04" x2="70.3" y2="207.04" stroke="#1a1a1a" stroke-width="1.2" />
<line x1="68.1" y1="198.28" x2="70.3" y2="198.28" stroke="#1a1a1a" stroke-width="1.2" />
<line x1="68.1" y1="189.52" x2="70.3" y2="189.52" stroke="#1a1a1a" stroke-width="1.2" />
<line x1="68.1" y1="180.76" x2="70.3" y2="180.76" stroke="#1a1a1a" stroke-width="1.2" />
<line x1="68.1" y1="163.24" x2="70.3" y2="163.24" stroke="#1a1a1a" stroke-width="1.2" />
<line x1="68.1" y1="154.48" x2="70.3" y2="154.48" stroke="#1a1a1a" stroke-width="1.2" />
<line x1="69.7" y1="259.6" x2="228.8" y2="259.6" stroke="#1a1a1a" stroke-width="1.2" />
<rect x="79.4" y="172" width="16" height="87.6" fill="#ffffff" stroke="#111" stroke-width="1.4" />
<rect x="99.75" y="237.17" width="16" height="22.43" fill="#8a8afa" stroke="#111" stroke-width="1.4" />
<rect x="120.5" y="229.38" width="16" height="30.22" fill="#d4d4d4" stroke="#111" stroke-width="1.4" />
<rect x="140.8" y="191.71" width="16" height="67.89" fill="#ff7d7d" stroke="#111" stroke-width="1.4" />
<rect x="161.3" y="237.26" width="16" height="22.34" fill="#d4d4d4" stroke="#111" stroke-width="1.4" />
<rect x="181.6" y="225" width="16" height="34.6" fill="#d4d4d4" stroke="#111" stroke-width="1.4" />
<rect x="202.2" y="242.96" width="16" height="16.64" fill="#d4d4d4" stroke="#111" stroke-width="1.4" />
<line x1="87.4" y1="172" x2="87.4" y2="170.69" stroke="#1a1a1a" stroke-width="1.2" />
<line x1="83.9" y1="170.69" x2="90.9" y2="170.69" stroke="#1a1a1a" stroke-width="1.2" />
<line x1="87.4" y1="172" x2="87.4" y2="173.31" stroke="#1a1a1a" stroke-width="1.2" />
<line x1="83.9" y1="173.31" x2="90.9" y2="173.31" stroke="#1a1a1a" stroke-width="1.2" />
<line x1="83.9" y1="172" x2="90.9" y2="172" stroke="#1a1a1a" stroke-width="1.2" />
<circle cx="87.4" cy="164.99" r="1.9" fill="#111" stroke="#fff" stroke-width="0.5" />
<circle cx="81.9" cy="172" r="1.9" fill="#111" stroke="#fff" stroke-width="0.5" />
<circle cx="92.9" cy="172" r="1.9" fill="#111" stroke="#fff" stroke-width="0.5" />
<circle cx="84.65" cy="172" r="1.9" fill="#111" stroke="#fff" stroke-width="0.5" />
<circle cx="90.15" cy="172" r="1.9" fill="#111" stroke="#fff" stroke-width="0.5" />
<circle cx="80.8" cy="172" r="1.9" fill="#111" stroke="#fff" stroke-width="0.5" />
<circle cx="94" cy="179.01" r="1.9" fill="#111" stroke="#fff" stroke-width="0.5" />
<line x1="107.75" y1="237.17" x2="107.75" y2="230.78" stroke="#1a1a1a" stroke-width="1.2" />
<line x1="104.25" y1="230.78" x2="111.25" y2="230.78" stroke="#1a1a1a" stroke-width="1.2" />
<line x1="107.75" y1="237.17" x2="107.75" y2="243.57" stroke="#1a1a1a" stroke-width="1.2" />
<line x1="104.25" y1="243.57" x2="111.25" y2="243.57" stroke="#1a1a1a" stroke-width="1.2" />
<line x1="104.25" y1="237.17" x2="111.25" y2="237.17" stroke="#1a1a1a" stroke-width="1.2" />
<circle cx="107.75" cy="215.27" r="1.9" fill="#111" stroke="#fff" stroke-width="0.5" />
<circle cx="102.25" cy="221.23" r="1.9" fill="#111" stroke="#fff" stroke-width="0.5" />
<circle cx="113.25" cy="225.26" r="1.9" fill="#111" stroke="#fff" stroke-width="0.5" />
<circle cx="105" cy="244.09" r="1.9" fill="#111" stroke="#fff" stroke-width="0.5" />
<circle cx="110.5" cy="245.41" r="1.9" fill="#111" stroke="#fff" stroke-width="0.5" />
<circle cx="101.15" cy="250.14" r="1.9" fill="#111" stroke="#fff" stroke-width="0.5" />
<circle cx="114.35" cy="255.22" r="1.9" fill="#111" stroke="#fff" stroke-width="0.5" />
<line x1="128.5" y1="229.38" x2="128.5" y2="226.75" stroke="#1a1a1a" stroke-width="1.2" />
<line x1="125" y1="226.75" x2="132" y2="226.75" stroke="#1a1a1a" stroke-width="1.2" />
<line x1="128.5" y1="229.38" x2="128.5" y2="232.01" stroke="#1a1a1a" stroke-width="1.2" />
<line x1="125" y1="232.01" x2="132" y2="232.01" stroke="#1a1a1a" stroke-width="1.2" />
<line x1="125" y1="229.38" x2="132" y2="229.38" stroke="#1a1a1a" stroke-width="1.2" />
<circle cx="128.5" cy="221.06" r="1.9" fill="#111" stroke="#fff" stroke-width="0.5" />
<circle cx="123" cy="221.93" r="1.9" fill="#111" stroke="#fff" stroke-width="0.5" />
<circle cx="134" cy="227.19" r="1.9" fill="#111" stroke="#fff" stroke-width="0.5" />
<circle cx="125.75" cy="228.06" r="1.9" fill="#111" stroke="#fff" stroke-width="0.5" />
<circle cx="131.25" cy="232.44" r="1.9" fill="#111" stroke="#fff" stroke-width="0.5" />
<circle cx="121.9" cy="233.32" r="1.9" fill="#111" stroke="#fff" stroke-width="0.5" />
<circle cx="135.1" cy="233.32" r="1.9" fill="#111" stroke="#fff" stroke-width="0.5" />
<line x1="148.8" y1="191.71" x2="148.8" y2="189.96" stroke="#1a1a1a" stroke-width="1.2" />
<line x1="145.3" y1="189.96" x2="152.3" y2="189.96" stroke="#1a1a1a" stroke-width="1.2" />
<line x1="148.8" y1="191.71" x2="148.8" y2="193.46" stroke="#1a1a1a" stroke-width="1.2" />
<line x1="145.3" y1="193.46" x2="152.3" y2="193.46" stroke="#1a1a1a" stroke-width="1.2" />
<line x1="145.3" y1="191.71" x2="152.3" y2="191.71" stroke="#1a1a1a" stroke-width="1.2" />
<circle cx="148.8" cy="179.01" r="1.9" fill="#111" stroke="#fff" stroke-width="0.5" />
<circle cx="143.3" cy="187.77" r="1.9" fill="#111" stroke="#fff" stroke-width="0.5" />
<circle cx="154.3" cy="189.52" r="1.9" fill="#111" stroke="#fff" stroke-width="0.5" />
<circle cx="146.05" cy="190.4" r="1.9" fill="#111" stroke="#fff" stroke-width="0.5" />
<circle cx="151.55" cy="190.4" r="1.9" fill="#111" stroke="#fff" stroke-width="0.5" />
<circle cx="142.2" cy="193.9" r="1.9" fill="#111" stroke="#fff" stroke-width="0.5" />
<circle cx="155.4" cy="196.53" r="1.9" fill="#111" stroke="#fff" stroke-width="0.5" />
<line x1="169.3" y1="237.26" x2="169.3" y2="232.44" stroke="#1a1a1a" stroke-width="1.2" />
<line x1="165.8" y1="232.44" x2="172.8" y2="232.44" stroke="#1a1a1a" stroke-width="1.2" />
<line x1="169.3" y1="237.26" x2="169.3" y2="242.08" stroke="#1a1a1a" stroke-width="1.2" />
<line x1="165.8" y1="242.08" x2="172.8" y2="242.08" stroke="#1a1a1a" stroke-width="1.2" />
<line x1="165.8" y1="237.26" x2="172.8" y2="237.26" stroke="#1a1a1a" stroke-width="1.2" />
<circle cx="169.3" cy="221.06" r="1.9" fill="#111" stroke="#fff" stroke-width="0.5" />
<circle cx="163.8" cy="221.06" r="1.9" fill="#111" stroke="#fff" stroke-width="0.5" />
<circle cx="174.8" cy="233.32" r="1.9" fill="#111" stroke="#fff" stroke-width="0.5" />
<circle cx="166.55" cy="242.08" r="1.9" fill="#111" stroke="#fff" stroke-width="0.5" />
<circle cx="172.05" cy="242.96" r="1.9" fill="#111" stroke="#fff" stroke-width="0.5" />
<circle cx="162.7" cy="249.96" r="1.9" fill="#111" stroke="#fff" stroke-width="0.5" />
<circle cx="175.9" cy="250.84" r="1.9" fill="#111" stroke="#fff" stroke-width="0.5" />
<line x1="189.6" y1="225" x2="189.6" y2="221.93" stroke="#1a1a1a" stroke-width="1.2" />
<line x1="186.1" y1="221.93" x2="193.1" y2="221.93" stroke="#1a1a1a" stroke-width="1.2" />
<line x1="189.6" y1="225" x2="189.6" y2="228.06" stroke="#1a1a1a" stroke-width="1.2" />
<line x1="186.1" y1="228.06" x2="193.1" y2="228.06" stroke="#1a1a1a" stroke-width="1.2" />
<line x1="186.1" y1="225" x2="193.1" y2="225" stroke="#1a1a1a" stroke-width="1.2" />
<circle cx="189.6" cy="215.8" r="1.9" fill="#111" stroke="#fff" stroke-width="0.5" />
<circle cx="184.1" cy="218.43" r="1.9" fill="#111" stroke="#fff" stroke-width="0.5" />
<circle cx="195.1" cy="221.06" r="1.9" fill="#111" stroke="#fff" stroke-width="0.5" />
<circle cx="186.85" cy="221.93" r="1.9" fill="#111" stroke="#fff" stroke-width="0.5" />
<circle cx="192.35" cy="224.56" r="1.9" fill="#111" stroke="#fff" stroke-width="0.5" />
<circle cx="183" cy="227.19" r="1.9" fill="#111" stroke="#fff" stroke-width="0.5" />
<circle cx="196.2" cy="235.95" r="1.9" fill="#111" stroke="#fff" stroke-width="0.5" />
<line x1="210.2" y1="242.96" x2="210.2" y2="238.58" stroke="#1a1a1a" stroke-width="1.2" />
<line x1="206.7" y1="238.58" x2="213.7" y2="238.58" stroke="#1a1a1a" stroke-width="1.2" />
<line x1="210.2" y1="242.96" x2="210.2" y2="247.34" stroke="#1a1a1a" stroke-width="1.2" />
<line x1="206.7" y1="247.34" x2="213.7" y2="247.34" stroke="#1a1a1a" stroke-width="1.2" />
<line x1="206.7" y1="242.96" x2="213.7" y2="242.96" stroke="#1a1a1a" stroke-width="1.2" />
<circle cx="210.2" cy="227.19" r="1.9" fill="#111" stroke="#fff" stroke-width="0.5" />
<circle cx="204.7" cy="228.94" r="1.9" fill="#111" stroke="#fff" stroke-width="0.5" />
<circle cx="215.7" cy="240.33" r="1.9" fill="#111" stroke="#fff" stroke-width="0.5" />
<circle cx="207.45" cy="243.83" r="1.9" fill="#111" stroke="#fff" stroke-width="0.5" />
<circle cx="212.95" cy="250.84" r="1.9" fill="#111" stroke="#fff" stroke-width="0.5" />
<circle cx="203.6" cy="250.84" r="1.9" fill="#111" stroke="#fff" stroke-width="0.5" />
<circle cx="216.8" cy="250.84" r="1.9" fill="#111" stroke="#fff" stroke-width="0.5" />
<polyline points="87.4,161 87.4,152 148.8,152 148.8,172.5" stroke="#1a1a1a" stroke-width="1.2" fill="none" />
<polyline points="107.75,195.8 107.75,167.3 148.8,167.3 148.8,167.3" stroke="#1a1a1a" stroke-width="1.2" fill="none" />
<text x="94.8" y="147" font-size="9.3" textLength="37.2" lengthAdjust="spacingAndGlyphs" ><tspan font-style="italic">p</tspan>=0.0009</text>
<text x="103" y="163.6" font-size="9.3" textLength="37.2" lengthAdjust="spacingAndGlyphs" ><tspan font-style="italic">p</tspan>=0.0037</text>
<text x="91.2" y="266.3" font-size="10.2" text-anchor="end" transform="rotate(-45 91.2 266.3)" >siSc+Mock</text>
<text x="111.55" y="266.3" font-size="10.2" text-anchor="end" transform="rotate(-45 111.55 266.3)" >siSC+HHT</text>
<text x="132.3" y="266.3" font-size="10.2" text-anchor="end" transform="rotate(-45 132.3 266.3)" >siPKM2+HHT</text>
<text x="152.6" y="266.3" font-size="10.2" text-anchor="end" transform="rotate(-45 152.6 266.3)" >siHSPA5+HHT</text>
<text x="173.1" y="266.3" font-size="10.2" text-anchor="end" transform="rotate(-45 173.1 266.3)" >siHSPA8+HHT</text>
<text x="193.4" y="266.3" font-size="10.2" text-anchor="end" transform="rotate(-45 193.4 266.3)" >siTXNRD1+HHT</text>
<text x="214" y="266.3" font-size="10.2" text-anchor="end" transform="rotate(-45 214 266.3)" >siRPL7+HHT</text>
<text x="43.4" y="206.2" font-size="10.8" text-anchor="middle" textLength="85.7" lengthAdjust="spacingAndGlyphs" transform="rotate(-90 43.4 206.2)" >Cell number (%)</text>
<g clip-path="url(#clb6)">
<rect x="58.3" y="328" width="159.5" height="21.4" fill="#f6f6f6" />
<g filter="url(#bf0_45)">
<path d="M96.5,340.2 Q107,335.2 117.5,340.2" stroke="#000" stroke-width="2" fill="none"/>
<path d="M116.5,340.2 Q127,335.2 137.5,340.2" stroke="#000" stroke-width="2" fill="none"/>
<path d="M136.5,340.2 Q147,335.2 157.5,340.2" stroke="#000" stroke-width="2" fill="none"/>
<path d="M156.5,340.2 Q167,335.2 177.5,340.2" stroke="#000" stroke-width="2" fill="none"/>
<path d="M176.5,340.2 Q187,335.2 197.5,340.2" stroke="#000" stroke-width="2" fill="none"/>
<path d="M196.5,340.2 Q207,335.2 217.5,340.2" stroke="#000" stroke-width="2" fill="none"/>
</g>
<rect x="95" y="340" width="120" height="5" fill="#d8d8d8" opacity="0.5" filter="url(#bf1_50)"/>
<g filter="url(#bf0_60)">
<rect x="76.75" y="335.6" width="19.5" height="5.2" rx="2.6" fill="#000" opacity="1"/>
</g></g>
<rect x="58.3" y="328" width="159.5" height="21.4" fill="none" stroke="#2a2a2a" stroke-width="1" />
<g clip-path="url(#clb7)">
<rect x="58.3" y="352.4" width="159.5" height="22.1" fill="#f7f7f7" />
<g filter="url(#bf0_75)">
<rect x="76.5" y="360.3" width="20" height="6.6" rx="3.3" fill="#000" opacity="1"/>
<rect x="100" y="360.1" width="14" height="6.6" rx="3.3" fill="#000" opacity="1"/>
<rect x="118.75" y="360.3" width="16.5" height="6.6" rx="3.3" fill="#000" opacity="1"/>
<rect x="138.75" y="360.3" width="16.5" height="6.6" rx="3.3" fill="#000" opacity="1"/>
<rect x="158.75" y="360.3" width="16.5" height="6.6" rx="3.3" fill="#000" opacity="1"/>
<rect x="178.75" y="360.3" width="16.5" height="6.6" rx="3.3" fill="#000" opacity="1"/>
<rect x="200.25" y="359.9" width="13.5" height="6.6" rx="3.3" fill="#000" opacity="1"/>
</g></g>
<rect x="58.3" y="352.4" width="159.5" height="22.1" fill="none" stroke="#2a2a2a" stroke-width="1" />
<g clip-path="url(#clb8)">
<rect x="58.3" y="376.2" width="159.5" height="64.3" fill="#f0f0f0" />
<g filter="url(#bf1_00)">
<rect x="64.5" y="379" width="7" height="3" rx="1.5" fill="#000" opacity="0.22"/>
<rect x="64.5" y="414.5" width="7" height="4" rx="2" fill="#000" opacity="0.3"/>
<rect x="79" y="375.3" width="15" height="5" rx="2.5" fill="#000" opacity="0.35"/>
<rect x="80" y="387.7" width="13" height="5" rx="2.5" fill="#000" opacity="0.4"/>
<rect x="80" y="398.5" width="13" height="4" rx="2" fill="#000" opacity="0.3"/>
<rect x="79" y="411.5" width="15" height="7" rx="2.5" fill="#000" opacity="0.1"/>
<rect x="79" y="414.5" width="15" height="11" rx="3" fill="#000" opacity="0.12"/>
<rect x="78.5" y="386" width="16" height="44" rx="3" fill="#000" opacity="0.12"/>
<rect x="100" y="375.3" width="14" height="5" rx="2.5" fill="#000" opacity="1"/>
<rect x="101" y="386.2" width="12" height="8" rx="4" fill="#000" opacity="1"/>
<rect x="101" y="398.5" width="12" height="4" rx="2" fill="#000" opacity="0.4"/>
<rect x="100" y="411.5" width="14" height="7" rx="2.5" fill="#000" opacity="0.48"/>
<rect x="100" y="414.5" width="14" height="11" rx="3" fill="#000" opacity="0.6"/>
<rect x="99.5" y="386" width="15" height="44" rx="3" fill="#000" opacity="0.12"/>
<rect x="120" y="375.3" width="14" height="5" rx="2.5" fill="#000" opacity="1"/>
<rect x="121" y="386.2" width="12" height="8" rx="4" fill="#000" opacity="1"/>
<rect x="121" y="398.5" width="12" height="4" rx="2" fill="#000" opacity="0.35"/>
<rect x="120" y="411.5" width="14" height="7" rx="2.5" fill="#000" opacity="0.32"/>
<rect x="120" y="414.5" width="14" height="11" rx="3" fill="#000" opacity="0.4"/>
<rect x="119.5" y="386" width="15" height="44" rx="3" fill="#000" opacity="0.12"/>
<rect x="140" y="375.3" width="14" height="5" rx="2.5" fill="#000" opacity="1"/>
<rect x="141" y="387.7" width="12" height="5" rx="2.5" fill="#000" opacity="0.6"/>
<rect x="141" y="398.5" width="12" height="4" rx="2" fill="#000" opacity="0.3"/>
<rect x="140" y="411.5" width="14" height="7" rx="2.5" fill="#000" opacity="0.18"/>
<rect x="140" y="414.5" width="14" height="11" rx="3" fill="#000" opacity="0.22"/>
<rect x="139.5" y="386" width="15" height="44" rx="3" fill="#000" opacity="0.12"/>
<rect x="160" y="375.3" width="14" height="5" rx="2.5" fill="#000" opacity="1"/>
<rect x="161" y="386.2" width="12" height="8" rx="4" fill="#000" opacity="1"/>
<rect x="161" y="398.5" width="12" height="4" rx="2" fill="#000" opacity="0.4"/>
<rect x="160" y="411.5" width="14" height="7" rx="2.5" fill="#000" opacity="0.44"/>
<rect x="160" y="414.5" width="14" height="11" rx="3" fill="#000" opacity="0.55"/>
<rect x="159.5" y="386" width="15" height="44" rx="3" fill="#000" opacity="0.12"/>
<rect x="180" y="375.3" width="14" height="5" rx="2.5" fill="#000" opacity="1"/>
<rect x="181" y="386.2" width="12" height="8" rx="4" fill="#000" opacity="1"/>
<rect x="181" y="398.5" width="12" height="4" rx="2" fill="#000" opacity="0.35"/>
<rect x="180" y="411.5" width="14" height="7" rx="2.5" fill="#000" opacity="0.44"/>
<rect x="180" y="414.5" width="14" height="11" rx="3" fill="#000" opacity="0.55"/>
<rect x="179.5" y="386" width="15" height="44" rx="3" fill="#000" opacity="0.12"/>
<rect x="200" y="375.3" width="14" height="5" rx="2.5" fill="#000" opacity="1"/>
<rect x="201" y="386.2" width="12" height="8" rx="4" fill="#000" opacity="1"/>
<rect x="201" y="398.5" width="12" height="4" rx="2" fill="#000" opacity="0.35"/>
<rect x="200" y="411.5" width="14" height="7" rx="2.5" fill="#000" opacity="0.36"/>
<rect x="200" y="414.5" width="14" height="11" rx="3" fill="#000" opacity="0.45"/>
<rect x="199.5" y="386" width="15" height="44" rx="3" fill="#000" opacity="0.12"/>
<rect x="84.75" y="413.25" width="2.5" height="2.5" rx="1.25" fill="#000" opacity="0.9"/>
</g></g>
<rect x="58.3" y="376.2" width="159.5" height="64.3" fill="none" stroke="#2a2a2a" stroke-width="1" />
<g clip-path="url(#clb9)">
<rect x="58.3" y="442.6" width="159.5" height="21.7" fill="#f1f1f1" />
<g filter="url(#bf0_60)">
<rect x="79" y="450.3" width="15" height="4" rx="2" fill="#000" opacity="1"/>
<rect x="99.5" y="450.3" width="15" height="4" rx="2" fill="#000" opacity="1"/>
<rect x="119.5" y="450.3" width="15" height="4" rx="2" fill="#000" opacity="1"/>
<rect x="139.5" y="450.3" width="15" height="4" rx="2" fill="#000" opacity="1"/>
<rect x="159.5" y="450.3" width="15" height="4" rx="2" fill="#000" opacity="1"/>
<rect x="179.5" y="450.3" width="15" height="4" rx="2" fill="#000" opacity="1"/>
<rect x="199.5" y="450.3" width="15" height="4" rx="2" fill="#000" opacity="1"/>
<rect x="79.5" y="458.5" width="14" height="3" rx="1.5" fill="#000" opacity="0.35"/>
<rect x="100" y="458.5" width="14" height="3" rx="1.5" fill="#000" opacity="0.35"/>
<rect x="120" y="458.5" width="14" height="3" rx="1.5" fill="#000" opacity="0.35"/>
<rect x="140" y="458.5" width="14" height="3" rx="1.5" fill="#000" opacity="0.35"/>
<rect x="160" y="458.5" width="14" height="3" rx="1.5" fill="#000" opacity="0.35"/>
<rect x="180" y="458.5" width="14" height="3" rx="1.5" fill="#000" opacity="0.35"/>
<rect x="200" y="458.5" width="14" height="3" rx="1.5" fill="#000" opacity="0.35"/>
</g></g>
<rect x="58.3" y="442.6" width="159.5" height="21.7" fill="none" stroke="#2a2a2a" stroke-width="1" />
<text x="54.7" y="343.8" font-size="10.3" text-anchor="end" >PARP</text>
<text x="54.7" y="367.8" font-size="10.3" text-anchor="end" >Procasp-3</text>
<text x="54.7" y="418.6" font-size="10.3" text-anchor="end" >Casp-3</text>
<text x="54.7" y="458.6" font-size="10.3" text-anchor="end" >GAPDH</text>
<text x="220" y="329" font-size="10.3" textLength="17.8" lengthAdjust="spacingAndGlyphs" >kDa</text>
<line x1="220" y1="330.8" x2="238" y2="330.8" stroke="#1a1a1a" stroke-width="0.9" />
<line x1="218" y1="337.9" x2="220.6" y2="337.9" stroke="#1a1a1a" stroke-width="0.9" />
<text x="221" y="341.3" font-size="10.2" >116</text>
<line x1="218" y1="363.6" x2="220.6" y2="363.6" stroke="#1a1a1a" stroke-width="0.9" />
<text x="221" y="367" font-size="10.2" >35</text>
<line x1="218" y1="380.2" x2="220.6" y2="380.2" stroke="#1a1a1a" stroke-width="0.9" />
<text x="221" y="383.6" font-size="10.2" >25</text>
<line x1="218" y1="417.6" x2="220.6" y2="417.6" stroke="#1a1a1a" stroke-width="0.9" />
<text x="221" y="421" font-size="10.2" >15</text>
<line x1="218" y1="451.6" x2="220.6" y2="451.6" stroke="#1a1a1a" stroke-width="0.9" />
<text x="221" y="455" font-size="10.2" >37</text>
<line x1="97.5" y1="263" x2="97.5" y2="524.4" stroke="#f03434" stroke-width="0.9" stroke-dasharray="3,2"/>
<line x1="117.5" y1="263" x2="117.5" y2="524.4" stroke="#f03434" stroke-width="0.9" stroke-dasharray="3,2"/>
<line x1="137.6" y1="263" x2="137.6" y2="524.4" stroke="#f03434" stroke-width="0.9" stroke-dasharray="3,2"/>
<line x1="157.6" y1="263" x2="157.6" y2="524.4" stroke="#f03434" stroke-width="0.9" stroke-dasharray="3,2"/>
<line x1="177.4" y1="263" x2="177.4" y2="524.4" stroke="#f03434" stroke-width="0.9" stroke-dasharray="3,2"/>
<line x1="197.6" y1="263" x2="197.6" y2="524.4" stroke="#f03434" stroke-width="0.9" stroke-dasharray="3,2"/>
<line x1="218" y1="263" x2="218" y2="524.4" stroke="#f03434" stroke-width="0.9" stroke-dasharray="3,2"/>
<line x1="69.7" y1="475.8" x2="69.7" y2="581.5" stroke="#1a1a1a" stroke-width="1.2" />
<line x1="66.1" y1="580.9" x2="69.7" y2="580.9" stroke="#1a1a1a" stroke-width="1.2" />
<text x="64.6" y="584.64" font-size="10.4" text-anchor="end" >0</text>
<line x1="66.1" y1="551" x2="69.7" y2="551" stroke="#1a1a1a" stroke-width="1.2" />
<text x="64.6" y="554.74" font-size="10.4" text-anchor="end" >2</text>
<line x1="66.1" y1="521.1" x2="69.7" y2="521.1" stroke="#1a1a1a" stroke-width="1.2" />
<text x="64.6" y="524.84" font-size="10.4" text-anchor="end" >4</text>
<line x1="66.1" y1="491.2" x2="69.7" y2="491.2" stroke="#1a1a1a" stroke-width="1.2" />
<text x="64.6" y="494.94" font-size="10.4" text-anchor="end" >6</text>
<line x1="67.5" y1="565.95" x2="69.7" y2="565.95" stroke="#1a1a1a" stroke-width="1.2" />
<line x1="67.5" y1="536.05" x2="69.7" y2="536.05" stroke="#1a1a1a" stroke-width="1.2" />
<line x1="67.5" y1="506.15" x2="69.7" y2="506.15" stroke="#1a1a1a" stroke-width="1.2" />
<line x1="67.5" y1="476.25" x2="69.7" y2="476.25" stroke="#1a1a1a" stroke-width="1.2" />
<line x1="69.1" y1="580.9" x2="227.6" y2="580.9" stroke="#1a1a1a" stroke-width="1.2" />
<rect x="78.3" y="565.95" width="16" height="14.95" fill="#ffffff" stroke="#111" stroke-width="1.4" />
<rect x="99.3" y="518.11" width="16" height="62.79" fill="#8a8afa" stroke="#111" stroke-width="1.4" />
<rect x="119.8" y="517.36" width="16" height="63.54" fill="#d4d4d4" stroke="#111" stroke-width="1.4" />
<rect x="140" y="558.48" width="16" height="22.42" fill="#ff9c9c" stroke="#111" stroke-width="1.4" />
<rect x="160.2" y="503.91" width="16" height="76.99" fill="#d4d4d4" stroke="#111" stroke-width="1.4" />
<rect x="180.7" y="512.88" width="16" height="68.02" fill="#d4d4d4" stroke="#111" stroke-width="1.4" />
<rect x="201.2" y="505.4" width="16" height="75.5" fill="#d4d4d4" stroke="#111" stroke-width="1.4" />
<circle cx="81.8" cy="565.95" r="1.9" fill="#111" stroke="#fff" stroke-width="0.5" />
<circle cx="86.3" cy="565.95" r="1.9" fill="#111" stroke="#fff" stroke-width="0.5" />
<circle cx="90.8" cy="565.95" r="1.9" fill="#111" stroke="#fff" stroke-width="0.5" />
<line x1="107.3" y1="518.11" x2="107.3" y2="510.34" stroke="#1a1a1a" stroke-width="1.2" />
<line x1="103.8" y1="510.34" x2="110.8" y2="510.34" stroke="#1a1a1a" stroke-width="1.2" />
<line x1="107.3" y1="518.11" x2="107.3" y2="525.88" stroke="#1a1a1a" stroke-width="1.2" />
<line x1="103.8" y1="525.88" x2="110.8" y2="525.88" stroke="#1a1a1a" stroke-width="1.2" />
<line x1="103.8" y1="518.11" x2="110.8" y2="518.11" stroke="#1a1a1a" stroke-width="1.2" />
<circle cx="107.3" cy="503.16" r="1.9" fill="#111" stroke="#fff" stroke-width="0.5" />
<circle cx="112.3" cy="522.6" r="1.9" fill="#111" stroke="#fff" stroke-width="0.5" />
<circle cx="107.3" cy="527.08" r="1.9" fill="#111" stroke="#fff" stroke-width="0.5" />
<line x1="127.8" y1="517.36" x2="127.8" y2="508.39" stroke="#1a1a1a" stroke-width="1.2" />
<line x1="124.3" y1="508.39" x2="131.3" y2="508.39" stroke="#1a1a1a" stroke-width="1.2" />
<line x1="127.8" y1="517.36" x2="127.8" y2="526.33" stroke="#1a1a1a" stroke-width="1.2" />
<line x1="124.3" y1="526.33" x2="131.3" y2="526.33" stroke="#1a1a1a" stroke-width="1.2" />
<line x1="124.3" y1="517.36" x2="131.3" y2="517.36" stroke="#1a1a1a" stroke-width="1.2" />
<circle cx="127.8" cy="501.66" r="1.9" fill="#111" stroke="#fff" stroke-width="0.5" />
<circle cx="127.8" cy="518.11" r="1.9" fill="#111" stroke="#fff" stroke-width="0.5" />
<circle cx="127.8" cy="528.57" r="1.9" fill="#111" stroke="#fff" stroke-width="0.5" />
<line x1="148" y1="558.48" x2="148" y2="556.23" stroke="#1a1a1a" stroke-width="1.2" />
<line x1="144.5" y1="556.23" x2="151.5" y2="556.23" stroke="#1a1a1a" stroke-width="1.2" />
<line x1="148" y1="558.48" x2="148" y2="560.72" stroke="#1a1a1a" stroke-width="1.2" />
<line x1="144.5" y1="560.72" x2="151.5" y2="560.72" stroke="#1a1a1a" stroke-width="1.2" />
<line x1="144.5" y1="558.48" x2="151.5" y2="558.48" stroke="#1a1a1a" stroke-width="1.2" />
<circle cx="148" cy="555.49" r="1.9" fill="#111" stroke="#fff" stroke-width="0.5" />
<circle cx="143.5" cy="558.48" r="1.9" fill="#111" stroke="#fff" stroke-width="0.5" />
<circle cx="152.5" cy="559.97" r="1.9" fill="#111" stroke="#fff" stroke-width="0.5" />
<line x1="168.2" y1="503.91" x2="168.2" y2="497.18" stroke="#1a1a1a" stroke-width="1.2" />
<line x1="164.7" y1="497.18" x2="171.7" y2="497.18" stroke="#1a1a1a" stroke-width="1.2" />
<line x1="168.2" y1="503.91" x2="168.2" y2="510.63" stroke="#1a1a1a" stroke-width="1.2" />
<line x1="164.7" y1="510.63" x2="171.7" y2="510.63" stroke="#1a1a1a" stroke-width="1.2" />
<line x1="164.7" y1="503.91" x2="171.7" y2="503.91" stroke="#1a1a1a" stroke-width="1.2" />
<circle cx="163.2" cy="497.18" r="1.9" fill="#111" stroke="#fff" stroke-width="0.5" />
<circle cx="173.2" cy="497.93" r="1.9" fill="#111" stroke="#fff" stroke-width="0.5" />
<circle cx="168.2" cy="516.62" r="1.9" fill="#111" stroke="#fff" stroke-width="0.5" />
<line x1="188.7" y1="512.88" x2="188.7" y2="507.64" stroke="#1a1a1a" stroke-width="1.2" />
<line x1="185.2" y1="507.64" x2="192.2" y2="507.64" stroke="#1a1a1a" stroke-width="1.2" />
<line x1="188.7" y1="512.88" x2="188.7" y2="518.11" stroke="#1a1a1a" stroke-width="1.2" />
<line x1="185.2" y1="518.11" x2="192.2" y2="518.11" stroke="#1a1a1a" stroke-width="1.2" />
<line x1="185.2" y1="512.88" x2="192.2" y2="512.88" stroke="#1a1a1a" stroke-width="1.2" />
<circle cx="188.7" cy="503.16" r="1.9" fill="#111" stroke="#fff" stroke-width="0.5" />
<circle cx="188.7" cy="513.62" r="1.9" fill="#111" stroke="#fff" stroke-width="0.5" />
<circle cx="188.7" cy="519.61" r="1.9" fill="#111" stroke="#fff" stroke-width="0.5" />
<line x1="209.2" y1="505.4" x2="209.2" y2="500.92" stroke="#1a1a1a" stroke-width="1.2" />
<line x1="205.7" y1="500.92" x2="212.7" y2="500.92" stroke="#1a1a1a" stroke-width="1.2" />
<line x1="209.2" y1="505.4" x2="209.2" y2="509.89" stroke="#1a1a1a" stroke-width="1.2" />
<line x1="205.7" y1="509.89" x2="212.7" y2="509.89" stroke="#1a1a1a" stroke-width="1.2" />
<line x1="205.7" y1="505.4" x2="212.7" y2="505.4" stroke="#1a1a1a" stroke-width="1.2" />
<circle cx="209.2" cy="500.17" r="1.9" fill="#111" stroke="#fff" stroke-width="0.5" />
<circle cx="214.2" cy="500.92" r="1.9" fill="#111" stroke="#fff" stroke-width="0.5" />
<circle cx="209.2" cy="510.63" r="1.9" fill="#111" stroke="#fff" stroke-width="0.5" />
<polyline points="87.6,509.6 87.6,482.8 105.6,482.8 105.6,497.7" stroke="#1a1a1a" stroke-width="1.2" fill="none" />
<polyline points="107.2,497.7 107.2,482.8 148.5,482.8 148.5,509.4" stroke="#1a1a1a" stroke-width="1.2" fill="none" />
<text x="70.5" y="478.4" font-size="10" textLength="37.6" lengthAdjust="spacingAndGlyphs" ><tspan font-style="italic">p</tspan>=0.0024</text>
<text x="110.7" y="478.4" font-size="10" textLength="38.5" lengthAdjust="spacingAndGlyphs" ><tspan font-style="italic">p</tspan>=0.0052</text>
<text x="90.1" y="587.5" font-size="10.2" text-anchor="end" transform="rotate(-45 90.1 587.5)" >siSC+Mock</text>
<text x="111.1" y="587.5" font-size="10.2" text-anchor="end" transform="rotate(-45 111.1 587.5)" >siSC+HHT</text>
<text x="131.6" y="587.5" font-size="10.2" text-anchor="end" transform="rotate(-45 131.6 587.5)" >siPKM2+HHT</text>
<text x="151.8" y="587.5" font-size="10.2" text-anchor="end" transform="rotate(-45 151.8 587.5)" >siHSPA5+HHT</text>
<text x="172" y="587.5" font-size="10.2" text-anchor="end" transform="rotate(-45 172 587.5)" >siHSPA8+HHT</text>
<text x="192.5" y="587.5" font-size="10.2" text-anchor="end" transform="rotate(-45 192.5 587.5)" >siTXNRD1+HHT</text>
<text x="213" y="587.5" font-size="10.2" text-anchor="end" transform="rotate(-45 213 587.5)" >siRPL7+HHT</text>
<text x="42" y="527.9" font-size="10" text-anchor="middle" textLength="86.8" lengthAdjust="spacingAndGlyphs" transform="rotate(-90 42 527.9)" >Caspase-3/GAPDH</text>
<text x="55.2" y="527.3" font-size="10.2" text-anchor="middle" textLength="26.6" lengthAdjust="spacingAndGlyphs" transform="rotate(-90 55.2 527.3)" >(ratio)</text>
<line x1="318.6" y1="159.5" x2="318.6" y2="264.9" stroke="#1a1a1a" stroke-width="1.2" />
<line x1="314.8" y1="264.3" x2="318.6" y2="264.3" stroke="#1a1a1a" stroke-width="1.2" />
<text x="313.5" y="268.37" font-size="11.3" text-anchor="end" >0</text>
<line x1="314.8" y1="229.4" x2="318.6" y2="229.4" stroke="#1a1a1a" stroke-width="1.2" />
<text x="313.5" y="233.47" font-size="11.3" text-anchor="end" >50</text>
<line x1="314.8" y1="194.5" x2="318.6" y2="194.5" stroke="#1a1a1a" stroke-width="1.2" />
<text x="313.5" y="198.57" font-size="11.3" text-anchor="end" >100</text>
<line x1="314.8" y1="159.6" x2="318.6" y2="159.6" stroke="#1a1a1a" stroke-width="1.2" />
<text x="313.5" y="163.67" font-size="11.3" text-anchor="end" >150</text>
<line x1="316.3" y1="246.85" x2="318.6" y2="246.85" stroke="#1a1a1a" stroke-width="1.2" />
<line x1="316.3" y1="211.95" x2="318.6" y2="211.95" stroke="#1a1a1a" stroke-width="1.2" />
<line x1="316.3" y1="177.05" x2="318.6" y2="177.05" stroke="#1a1a1a" stroke-width="1.2" />
<line x1="318" y1="264.3" x2="407.2" y2="264.3" stroke="#1a1a1a" stroke-width="1.2" />
<rect x="327.2" y="195.55" width="15" height="68.75" fill="#d4d4d4" stroke="#111" stroke-width="1.4" />
<line x1="334.7" y1="264.3" x2="334.7" y2="267.3" stroke="#1a1a1a" stroke-width="1.2" />
<rect x="346.1" y="195.9" width="15" height="68.4" fill="#8fbcf6" stroke="#111" stroke-width="1.4" />
<line x1="353.6" y1="264.3" x2="353.6" y2="267.3" stroke="#1a1a1a" stroke-width="1.2" />
<rect x="364.9" y="215.44" width="15" height="48.86" fill="#d4d4d4" stroke="#111" stroke-width="1.4" />
<line x1="372.4" y1="264.3" x2="372.4" y2="267.3" stroke="#1a1a1a" stroke-width="1.2" />
<rect x="383.8" y="228.35" width="15" height="35.95" fill="#ff7878" stroke="#111" stroke-width="1.4" />
<line x1="391.3" y1="264.3" x2="391.3" y2="267.3" stroke="#1a1a1a" stroke-width="1.2" />
<circle cx="329.7" cy="194.5" r="1.9" fill="#111" stroke="#fff" stroke-width="0.5" />
<circle cx="333.2" cy="193.8" r="1.9" fill="#111" stroke="#fff" stroke-width="0.5" />
<circle cx="336.7" cy="195.2" r="1.9" fill="#111" stroke="#fff" stroke-width="0.5" />
<circle cx="340.2" cy="194.5" r="1.9" fill="#111" stroke="#fff" stroke-width="0.5" />
<line x1="353.6" y1="195.9" x2="353.6" y2="192.76" stroke="#1a1a1a" stroke-width="1.2" />
<line x1="350.1" y1="192.76" x2="357.1" y2="192.76" stroke="#1a1a1a" stroke-width="1.2" />
<line x1="353.6" y1="195.9" x2="353.6" y2="199.04" stroke="#1a1a1a" stroke-width="1.2" />
<line x1="350.1" y1="199.04" x2="357.1" y2="199.04" stroke="#1a1a1a" stroke-width="1.2" />
<line x1="350.1" y1="195.9" x2="357.1" y2="195.9" stroke="#1a1a1a" stroke-width="1.2" />
<circle cx="353.6" cy="192.41" r="1.9" fill="#111" stroke="#fff" stroke-width="0.5" />
<circle cx="348.6" cy="193.8" r="1.9" fill="#111" stroke="#fff" stroke-width="0.5" />
<circle cx="359.1" cy="194.5" r="1.9" fill="#111" stroke="#fff" stroke-width="0.5" />
<circle cx="353.6" cy="204.27" r="1.9" fill="#111" stroke="#fff" stroke-width="0.5" />
<line x1="372.4" y1="215.44" x2="372.4" y2="214.04" stroke="#1a1a1a" stroke-width="1.2" />
<line x1="368.9" y1="214.04" x2="375.9" y2="214.04" stroke="#1a1a1a" stroke-width="1.2" />
<line x1="372.4" y1="215.44" x2="372.4" y2="216.84" stroke="#1a1a1a" stroke-width="1.2" />
<line x1="368.9" y1="216.84" x2="375.9" y2="216.84" stroke="#1a1a1a" stroke-width="1.2" />
<line x1="368.9" y1="215.44" x2="375.9" y2="215.44" stroke="#1a1a1a" stroke-width="1.2" />
<circle cx="368.9" cy="213.35" r="1.9" fill="#111" stroke="#fff" stroke-width="0.5" />
<circle cx="372.4" cy="215.44" r="1.9" fill="#111" stroke="#fff" stroke-width="0.5" />
<circle cx="375.9" cy="215.44" r="1.9" fill="#111" stroke="#fff" stroke-width="0.5" />
<circle cx="378.4" cy="216.14" r="1.9" fill="#111" stroke="#fff" stroke-width="0.5" />
<line x1="391.3" y1="228.35" x2="391.3" y2="225.91" stroke="#1a1a1a" stroke-width="1.2" />
<line x1="387.8" y1="225.91" x2="394.8" y2="225.91" stroke="#1a1a1a" stroke-width="1.2" />
<line x1="391.3" y1="228.35" x2="391.3" y2="230.8" stroke="#1a1a1a" stroke-width="1.2" />
<line x1="387.8" y1="230.8" x2="394.8" y2="230.8" stroke="#1a1a1a" stroke-width="1.2" />
<line x1="387.8" y1="228.35" x2="394.8" y2="228.35" stroke="#1a1a1a" stroke-width="1.2" />
<circle cx="391.3" cy="222.42" r="1.9" fill="#111" stroke="#fff" stroke-width="0.5" />
<circle cx="396.3" cy="225.21" r="1.9" fill="#111" stroke="#fff" stroke-width="0.5" />
<circle cx="385.8" cy="228" r="1.9" fill="#111" stroke="#fff" stroke-width="0.5" />
<circle cx="391.3" cy="230.1" r="1.9" fill="#111" stroke="#fff" stroke-width="0.5" />
<polyline points="353.4,186.5 353.4,181.4 371.5,181.4 371.5,186.5" stroke="#1a1a1a" stroke-width="1.2" fill="none" />
<polyline points="372.3,210.1 372.3,205.3 390.6,205.3 390.6,210.1" stroke="#1a1a1a" stroke-width="1.2" fill="none" />
<text x="341.3" y="176" font-size="10.2" textLength="42.3" lengthAdjust="spacingAndGlyphs" ><tspan font-style="italic">p</tspan>=0.0002</text>
<text x="363" y="199.3" font-size="10.2" textLength="36.1" lengthAdjust="spacingAndGlyphs" ><tspan font-style="italic">p</tspan>=0.006</text>
<text x="287.6" y="210.2" font-size="11.2" text-anchor="middle" textLength="84.5" lengthAdjust="spacingAndGlyphs" transform="rotate(-90 287.6 210.2)" >Cell number (%)</text>
<text x="236.6" y="280.5" font-size="11" textLength="87.4" lengthAdjust="spacingAndGlyphs" >pCMV3-HSPA5-His</text>
<text x="251" y="294.2" font-size="11" textLength="73" lengthAdjust="spacingAndGlyphs" >HHT (100 nM)</text>
<line x1="332.2" y1="276.7" x2="335.4" y2="276.7" stroke="#1a1a1a" stroke-width="1" />
<line x1="332.2" y1="290.2" x2="335.4" y2="290.2" stroke="#1a1a1a" stroke-width="1" />
<line x1="348.8" y1="276.2" x2="354.4" y2="276.2" stroke="#1a1a1a" stroke-width="1.1" />
<line x1="351.6" y1="273.4" x2="351.6" y2="279" stroke="#1a1a1a" stroke-width="1.1" />
<line x1="350" y1="290.2" x2="353.2" y2="290.2" stroke="#1a1a1a" stroke-width="1" />
<line x1="370.3" y1="276.7" x2="373.5" y2="276.7" stroke="#1a1a1a" stroke-width="1" />
<line x1="369.1" y1="289.7" x2="374.7" y2="289.7" stroke="#1a1a1a" stroke-width="1.1" />
<line x1="371.9" y1="286.9" x2="371.9" y2="292.5" stroke="#1a1a1a" stroke-width="1.1" />
<line x1="388" y1="276.2" x2="393.6" y2="276.2" stroke="#1a1a1a" stroke-width="1.1" />
<line x1="390.8" y1="273.4" x2="390.8" y2="279" stroke="#1a1a1a" stroke-width="1.1" />
<line x1="388" y1="289.7" x2="393.6" y2="289.7" stroke="#1a1a1a" stroke-width="1.1" />
<line x1="390.8" y1="286.9" x2="390.8" y2="292.5" stroke="#1a1a1a" stroke-width="1.1" />
<text x="493.2" y="170.5" font-size="11.3" textLength="23.2" lengthAdjust="spacingAndGlyphs" >HHT</text>
<g clip-path="url(#clg1)">
<rect x="454.2" y="172.8" width="101.4" height="93.3" fill="#f4f4f5" />
<path d="M500.07,225.03 Q490.61,228.22 480.98,229.66" stroke="#a8a8b2" stroke-width="0.4" fill="none" opacity="0.25"/>
<path d="M472.92,220.56 Q463.35,231.37 461.88,246.1" stroke="#a8a8b2" stroke-width="0.4" fill="none" opacity="0.25"/>
<path d="M463.39,248.34 Q465.63,256.7 458.23,255.77" stroke="#a8a8b2" stroke-width="0.4" fill="none" opacity="0.25"/>
<path d="M520.51,230.23 Q524.48,227.82 527.88,234.21" stroke="#a8a8b2" stroke-width="0.4" fill="none" opacity="0.25"/>
<path d="M473.49,195.37 Q482.65,199.72 493,197.22" stroke="#a8a8b2" stroke-width="0.4" fill="none" opacity="0.25"/>
<path d="M506.84,232.54 Q506.42,242.6 506.86,257.1" stroke="#a8a8b2" stroke-width="0.4" fill="none" opacity="0.25"/>
<path d="M555.36,265.7 Q542.25,269.18 532.84,278.06" stroke="#a8a8b2" stroke-width="0.4" fill="none" opacity="0.25"/>
<path d="M483.51,179.35 Q480.29,184.25 470.14,191.42" stroke="#a8a8b2" stroke-width="0.4" fill="none" opacity="0.25"/>
<path d="M551.35,251.85 Q562.07,251.57 564.59,251.88" stroke="#a8a8b2" stroke-width="0.4" fill="none" opacity="0.25"/>
<path d="M553.61,209.88 Q567.95,210.28 576.72,215.28" stroke="#a8a8b2" stroke-width="0.4" fill="none" opacity="0.25"/>
<path d="M463.04,203.83 Q445.83,202.81 436.26,206.87" stroke="#a8a8b2" stroke-width="0.4" fill="none" opacity="0.25"/>
<path d="M464.45,178.39 Q460.04,181.57 454.45,185.8" stroke="#a8a8b2" stroke-width="0.4" fill="none" opacity="0.25"/>
<path d="M473.54,241.09 Q480.74,245.11 495.62,250.72" stroke="#a8a8b2" stroke-width="0.4" fill="none" opacity="0.25"/>
<path d="M475.78,197.97 Q459.84,203.1 447.82,200.53" stroke="#a8a8b2" stroke-width="0.4" fill="none" opacity="0.25"/>
<path d="M475.57,209.59 Q460.78,219.79 453.99,220.21" stroke="#a8a8b2" stroke-width="0.4" fill="none" opacity="0.25"/>
<path d="M475.82,196.9 Q467.66,197.94 463.56,207.52" stroke="#a8a8b2" stroke-width="0.4" fill="none" opacity="0.25"/>
<path d="M463.34,227.17 Q470.37,234.66 479.98,243.09" stroke="#a8a8b2" stroke-width="0.4" fill="none" opacity="0.25"/>
<path d="M551.46,217.93 Q544.84,228.9 544.57,246.78" stroke="#a8a8b2" stroke-width="0.4" fill="none" opacity="0.25"/>
<path d="M546.31,249.1 Q553.22,258 555.34,258.1" stroke="#a8a8b2" stroke-width="0.4" fill="none" opacity="0.25"/>
<path d="M474.13,261.45 Q462.59,261.66 452.61,269.8" stroke="#a8a8b2" stroke-width="0.4" fill="none" opacity="0.25"/>
<path d="M458.12,262.62 Q465.07,274.58 476.88,280.06" stroke="#a8a8b2" stroke-width="0.4" fill="none" opacity="0.25"/>
<path d="M514.68,200.18 Q521.45,204.27 536.84,213.8" stroke="#a8a8b2" stroke-width="0.4" fill="none" opacity="0.25"/>
<path d="M510.92,252.33 Q512.46,256.39 505.65,266.38" stroke="#a8a8b2" stroke-width="0.4" fill="none" opacity="0.25"/>
<path d="M455.88,197.92 Q453.45,201.29 457.5,207.29" stroke="#a8a8b2" stroke-width="0.4" fill="none" opacity="0.25"/>
<path d="M512.22,185.08 Q523.38,200.38 524.92,212.55" stroke="#a8a8b2" stroke-width="0.4" fill="none" opacity="0.25"/>
<path d="M524.29,227.33 Q523.48,233.32 532.32,231.12" stroke="#a8a8b2" stroke-width="0.4" fill="none" opacity="0.25"/>
<path d="M525.28,262.63 Q537.03,265.73 549.13,264.22" stroke="#a8a8b2" stroke-width="0.4" fill="none" opacity="0.25"/>
<path d="M486.54,266.04 Q499.43,272.58 507.59,271.11" stroke="#a8a8b2" stroke-width="0.4" fill="none" opacity="0.25"/>
<path d="M528.94,238.45 Q515.16,249.64 504.35,257.13" stroke="#a8a8b2" stroke-width="0.4" fill="none" opacity="0.25"/>
<path d="M545.54,254.07 Q552.75,268.22 552.69,280.9" stroke="#a8a8b2" stroke-width="0.4" fill="none" opacity="0.25"/>
<path d="M517.57,208.47 Q510.39,221.09 511.61,230.91" stroke="#a8a8b2" stroke-width="0.4" fill="none" opacity="0.25"/>
<path d="M554.92,254.88 Q551.45,262.37 543.29,268.24" stroke="#a8a8b2" stroke-width="0.4" fill="none" opacity="0.25"/>
<path d="M498.87,251.02 Q507.08,255.51 524.7,257.98" stroke="#a8a8b2" stroke-width="0.4" fill="none" opacity="0.25"/>
<path d="M502.97,194.28 Q498.15,206.78 491.05,210.87" stroke="#a8a8b2" stroke-width="0.4" fill="none" opacity="0.25"/>
<path d="M480.14,173.85 Q484.47,180.67 494.74,194.09" stroke="#a8a8b2" stroke-width="0.4" fill="none" opacity="0.25"/>
<path d="M546.04,234.38 Q547.06,250.93 551.54,264.17" stroke="#a8a8b2" stroke-width="0.4" fill="none" opacity="0.25"/>
<path d="M474.33,213 Q465.48,220.68 449.03,230.67" stroke="#a8a8b2" stroke-width="0.4" fill="none" opacity="0.25"/>
<path d="M513.33,202.33 Q525.98,210.05 531.9,210.8" stroke="#a8a8b2" stroke-width="0.4" fill="none" opacity="0.25"/>
<path d="M526.32,261.44 Q529.77,263.86 534.21,270.78" stroke="#a8a8b2" stroke-width="0.4" fill="none" opacity="0.25"/>
<path d="M475.91,211.42 Q470.15,224.21 468.08,230.2" stroke="#a8a8b2" stroke-width="0.4" fill="none" opacity="0.25"/>
<path d="M553.78,215.02 Q561.78,211.45 562.32,217.06" stroke="#a8a8b2" stroke-width="0.4" fill="none" opacity="0.25"/>
<path d="M526.06,226.04 Q529.09,233.86 541.74,248.97" stroke="#a8a8b2" stroke-width="0.4" fill="none" opacity="0.25"/>
<path d="M500.32,175.11 Q490.74,174.13 488.33,182.21" stroke="#a8a8b2" stroke-width="0.4" fill="none" opacity="0.25"/>
<path d="M518,214.46 Q516.23,230.23 508.32,236.83" stroke="#a8a8b2" stroke-width="0.4" fill="none" opacity="0.25"/>
<path d="M523.61,191.4 Q519.2,197.34 524.58,203.83" stroke="#a8a8b2" stroke-width="0.4" fill="none" opacity="0.25"/>
<line x1="469.8" y1="193.36" x2="474.92" y2="203.07" stroke="#9a98c0" stroke-width="0.6" opacity="0.3"/>
<ellipse cx="472.36" cy="198.21" rx="1.14" ry="0.76" transform="rotate(62.24 472.36 198.21)" fill="#5a56a0" opacity="0.74"/>
<line x1="551.58" y1="179.76" x2="540.61" y2="182.12" stroke="#9a98c0" stroke-width="0.6" opacity="0.3"/>
<ellipse cx="546.09" cy="180.94" rx="0.85" ry="0.56" transform="rotate(167.88 546.09 180.94)" fill="#6a66a8" opacity="0.67"/>
<line x1="456.96" y1="220.11" x2="452.8" y2="228.12" stroke="#9a98c0" stroke-width="0.6" opacity="0.3"/>
<ellipse cx="454.88" cy="224.12" rx="1.36" ry="0.91" transform="rotate(117.49 454.88 224.12)" fill="#3e3c84" opacity="0.76"/>
<line x1="479.36" y1="237.34" x2="470.59" y2="242.97" stroke="#9a98c0" stroke-width="0.6" opacity="0.3"/>
<ellipse cx="474.98" cy="240.16" rx="1.29" ry="0.86" transform="rotate(147.31 474.98 240.16)" fill="#5a56a0" opacity="0.68"/>
<line x1="526.42" y1="227.39" x2="513.13" y2="228.36" stroke="#9a98c0" stroke-width="0.6" opacity="0.3"/>
<ellipse cx="519.77" cy="227.88" rx="0.95" ry="0.63" transform="rotate(175.83 519.77 227.88)" fill="#4c4a94" opacity="0.72"/>
<line x1="484.32" y1="225.06" x2="477.7" y2="230.96" stroke="#9a98c0" stroke-width="0.6" opacity="0.3"/>
<ellipse cx="481.01" cy="228.01" rx="0.77" ry="0.51" transform="rotate(138.29 481.01 228.01)" fill="#4c4a94" opacity="0.75"/>
<line x1="478.88" y1="212.44" x2="470.47" y2="214.71" stroke="#9a98c0" stroke-width="0.6" opacity="0.3"/>
<ellipse cx="474.67" cy="213.58" rx="1.5" ry="1" transform="rotate(164.89 474.67 213.58)" fill="#6a66a8" opacity="0.93"/>
<line x1="509.51" y1="214" x2="516.62" y2="219.93" stroke="#9a98c0" stroke-width="0.6" opacity="0.3"/>
<ellipse cx="513.07" cy="216.96" rx="0.97" ry="0.65" transform="rotate(39.86 513.07 216.96)" fill="#5a56a0" opacity="0.78"/>
<line x1="508.71" y1="196.08" x2="513.25" y2="207.68" stroke="#9a98c0" stroke-width="0.6" opacity="0.3"/>
<ellipse cx="510.98" cy="201.88" rx="1.43" ry="0.95" transform="rotate(68.62 510.98 201.88)" fill="#5a56a0" opacity="0.71"/>
<line x1="489.31" y1="211.26" x2="489.37" y2="219.37" stroke="#9a98c0" stroke-width="0.6" opacity="0.3"/>
<ellipse cx="489.34" cy="215.32" rx="0.84" ry="0.56" transform="rotate(89.58 489.34 215.32)" fill="#4c4a94" opacity="0.81"/>
<line x1="527.04" y1="209.44" x2="530.73" y2="220.87" stroke="#9a98c0" stroke-width="0.6" opacity="0.3"/>
<ellipse cx="528.88" cy="215.16" rx="1.17" ry="0.78" transform="rotate(72.11 528.88 215.16)" fill="#6a66a8" opacity="0.63"/>
<line x1="531.1" y1="209.26" x2="519.47" y2="212.22" stroke="#9a98c0" stroke-width="0.6" opacity="0.3"/>
<ellipse cx="525.29" cy="210.74" rx="1.05" ry="0.7" transform="rotate(165.75 525.29 210.74)" fill="#5a56a0" opacity="0.77"/>
<line x1="474.96" y1="231.99" x2="466.62" y2="234.69" stroke="#9a98c0" stroke-width="0.6" opacity="0.3"/>
<ellipse cx="470.79" cy="233.34" rx="0.99" ry="0.66" transform="rotate(162.11 470.79 233.34)" fill="#5a56a0" opacity="0.75"/>
<line x1="505.05" y1="248.28" x2="500.7" y2="248.59" stroke="#9a98c0" stroke-width="0.6" opacity="0.3"/>
<ellipse cx="502.87" cy="248.43" rx="0.87" ry="0.58" transform="rotate(175.92 502.87 248.43)" fill="#4c4a94" opacity="0.84"/>
<line x1="482.22" y1="238.09" x2="492.92" y2="241.75" stroke="#9a98c0" stroke-width="0.6" opacity="0.3"/>
<ellipse cx="487.57" cy="239.92" rx="0.84" ry="0.56" transform="rotate(18.88 487.57 239.92)" fill="#3e3c84" opacity="0.85"/>
<line x1="545.79" y1="169.37" x2="540.82" y2="180.57" stroke="#9a98c0" stroke-width="0.6" opacity="0.3"/>
<ellipse cx="543.3" cy="174.97" rx="1.21" ry="0.81" transform="rotate(113.95 543.3 174.97)" fill="#5a56a0" opacity="0.9"/>
<line x1="508.36" y1="227.33" x2="507.03" y2="237.11" stroke="#9a98c0" stroke-width="0.6" opacity="0.3"/>
<ellipse cx="507.7" cy="232.22" rx="0.85" ry="0.57" transform="rotate(97.74 507.7 232.22)" fill="#3e3c84" opacity="0.92"/>
<line x1="481.26" y1="253.78" x2="492.09" y2="262.63" stroke="#9a98c0" stroke-width="0.6" opacity="0.3"/>
<ellipse cx="486.68" cy="258.21" rx="1.42" ry="0.94" transform="rotate(39.27 486.68 258.21)" fill="#5a56a0" opacity="0.91"/>
<line x1="520.63" y1="222.61" x2="523.35" y2="235.74" stroke="#9a98c0" stroke-width="0.6" opacity="0.3"/>
<ellipse cx="521.99" cy="229.17" rx="1.16" ry="0.77" transform="rotate(78.27 521.99 229.17)" fill="#5a56a0" opacity="0.67"/>
<line x1="536.03" y1="178.07" x2="534.38" y2="185.46" stroke="#9a98c0" stroke-width="0.6" opacity="0.3"/>
<ellipse cx="535.2" cy="181.76" rx="1.37" ry="0.91" transform="rotate(102.59 535.2 181.76)" fill="#3e3c84" opacity="0.64"/>
<line x1="507.75" y1="194.96" x2="504.51" y2="199.88" stroke="#9a98c0" stroke-width="0.6" opacity="0.3"/>
<ellipse cx="506.13" cy="197.42" rx="0.8" ry="0.54" transform="rotate(123.43 506.13 197.42)" fill="#4c4a94" opacity="0.61"/>
<line x1="516.22" y1="254.3" x2="516.57" y2="260.19" stroke="#9a98c0" stroke-width="0.6" opacity="0.3"/>
<ellipse cx="516.4" cy="257.25" rx="0.84" ry="0.56" transform="rotate(86.64 516.4 257.25)" fill="#5a56a0" opacity="0.89"/>
<line x1="541.56" y1="180.38" x2="554.82" y2="182.99" stroke="#9a98c0" stroke-width="0.6" opacity="0.3"/>
<ellipse cx="548.19" cy="181.69" rx="1.1" ry="0.73" transform="rotate(11.15 548.19 181.69)" fill="#4c4a94" opacity="0.71"/>
<line x1="484.14" y1="215.59" x2="482.85" y2="219.52" stroke="#9a98c0" stroke-width="0.6" opacity="0.3"/>
<ellipse cx="483.49" cy="217.55" rx="1.28" ry="0.85" transform="rotate(108.18 483.49 217.55)" fill="#5a56a0" opacity="0.66"/>
<line x1="501.2" y1="198.84" x2="505.83" y2="202.09" stroke="#9a98c0" stroke-width="0.6" opacity="0.3"/>
<ellipse cx="503.52" cy="200.47" rx="1.13" ry="0.76" transform="rotate(35.13 503.52 200.47)" fill="#4c4a94" opacity="0.71"/>
<line x1="533.93" y1="185.63" x2="521.08" y2="189.42" stroke="#9a98c0" stroke-width="0.6" opacity="0.3"/>
<ellipse cx="527.5" cy="187.53" rx="1.18" ry="0.78" transform="rotate(163.59 527.5 187.53)" fill="#5a56a0" opacity="0.78"/>
<line x1="541.31" y1="195.32" x2="530.31" y2="198.47" stroke="#9a98c0" stroke-width="0.6" opacity="0.3"/>
<ellipse cx="535.81" cy="196.9" rx="1.33" ry="0.89" transform="rotate(164.05 535.81 196.9)" fill="#6a66a8" opacity="0.65"/>
<line x1="485.37" y1="212.27" x2="486.61" y2="217.95" stroke="#9a98c0" stroke-width="0.6" opacity="0.3"/>
<ellipse cx="485.99" cy="215.11" rx="0.91" ry="0.6" transform="rotate(77.7 485.99 215.11)" fill="#5a56a0" opacity="0.62"/>
<line x1="499.72" y1="215.31" x2="504.27" y2="224.65" stroke="#9a98c0" stroke-width="0.6" opacity="0.3"/>
<ellipse cx="502" cy="219.98" rx="1.22" ry="0.81" transform="rotate(64.02 502 219.98)" fill="#5a56a0" opacity="0.7"/>
<line x1="483.66" y1="190.17" x2="485.35" y2="195.74" stroke="#9a98c0" stroke-width="0.6" opacity="0.3"/>
<ellipse cx="484.51" cy="192.96" rx="0.81" ry="0.54" transform="rotate(73.11 484.51 192.96)" fill="#6a66a8" opacity="0.82"/>
<line x1="526.38" y1="263.88" x2="536.5" y2="264.61" stroke="#9a98c0" stroke-width="0.6" opacity="0.3"/>
<ellipse cx="531.44" cy="264.24" rx="1.3" ry="0.87" transform="rotate(4.11 531.44 264.24)" fill="#3e3c84" opacity="0.76"/>
<line x1="503.69" y1="192.44" x2="510.27" y2="192.66" stroke="#9a98c0" stroke-width="0.6" opacity="0.3"/>
<ellipse cx="506.98" cy="192.55" rx="0.96" ry="0.64" transform="rotate(1.94 506.98 192.55)" fill="#3e3c84" opacity="0.79"/>
<line x1="535.81" y1="214.41" x2="525.43" y2="214.57" stroke="#9a98c0" stroke-width="0.6" opacity="0.3"/>
<ellipse cx="530.62" cy="214.49" rx="1.36" ry="0.9" transform="rotate(179.13 530.62 214.49)" fill="#4c4a94" opacity="0.79"/>
<line x1="554.93" y1="208.1" x2="547.22" y2="209.61" stroke="#9a98c0" stroke-width="0.6" opacity="0.3"/>
<ellipse cx="551.07" cy="208.85" rx="1.48" ry="0.99" transform="rotate(168.96 551.07 208.85)" fill="#6a66a8" opacity="0.79"/>
<line x1="495.26" y1="215.83" x2="500.26" y2="222.05" stroke="#9a98c0" stroke-width="0.6" opacity="0.3"/>
<ellipse cx="497.76" cy="218.94" rx="0.98" ry="0.66" transform="rotate(51.2 497.76 218.94)" fill="#3e3c84" opacity="0.77"/>
<line x1="533.44" y1="206.12" x2="530.45" y2="209.16" stroke="#9a98c0" stroke-width="0.6" opacity="0.3"/>
<ellipse cx="531.94" cy="207.64" rx="1.33" ry="0.89" transform="rotate(134.6 531.94 207.64)" fill="#4c4a94" opacity="0.82"/>
<line x1="500.03" y1="210.49" x2="504.41" y2="217.16" stroke="#9a98c0" stroke-width="0.6" opacity="0.3"/>
<ellipse cx="502.22" cy="213.82" rx="1.19" ry="0.79" transform="rotate(56.73 502.22 213.82)" fill="#3e3c84" opacity="0.63"/>
<line x1="500.96" y1="217.09" x2="494.55" y2="217.63" stroke="#9a98c0" stroke-width="0.6" opacity="0.3"/>
<ellipse cx="497.75" cy="217.36" rx="1.14" ry="0.76" transform="rotate(175.18 497.75 217.36)" fill="#6a66a8" opacity="0.65"/>
<line x1="475.03" y1="238.06" x2="483.1" y2="239.35" stroke="#9a98c0" stroke-width="0.6" opacity="0.3"/>
<ellipse cx="479.06" cy="238.71" rx="0.84" ry="0.56" transform="rotate(9.07 479.06 238.71)" fill="#4c4a94" opacity="0.72"/>
<line x1="496.34" y1="222.37" x2="498.92" y2="232.04" stroke="#9a98c0" stroke-width="0.6" opacity="0.3"/>
<ellipse cx="497.63" cy="227.2" rx="1.23" ry="0.82" transform="rotate(75.06 497.63 227.2)" fill="#6a66a8" opacity="0.73"/>
<line x1="535.23" y1="183.49" x2="538.47" y2="187.67" stroke="#9a98c0" stroke-width="0.6" opacity="0.3"/>
<ellipse cx="536.85" cy="185.58" rx="1.11" ry="0.74" transform="rotate(52.23 536.85 185.58)" fill="#3e3c84" opacity="0.87"/>
<line x1="493.27" y1="194.1" x2="487.97" y2="202.16" stroke="#9a98c0" stroke-width="0.6" opacity="0.3"/>
<ellipse cx="490.62" cy="198.13" rx="1.19" ry="0.8" transform="rotate(123.32 490.62 198.13)" fill="#3e3c84" opacity="0.86"/>
<line x1="511.44" y1="269.88" x2="499.1" y2="273.22" stroke="#9a98c0" stroke-width="0.6" opacity="0.3"/>
<ellipse cx="505.27" cy="271.55" rx="0.78" ry="0.52" transform="rotate(164.84 505.27 271.55)" fill="#4c4a94" opacity="0.6"/>
<line x1="507.87" y1="218.14" x2="513.06" y2="222.51" stroke="#9a98c0" stroke-width="0.6" opacity="0.3"/>
<ellipse cx="510.47" cy="220.32" rx="1.32" ry="0.88" transform="rotate(40.06 510.47 220.32)" fill="#5a56a0" opacity="0.79"/>
<line x1="489.11" y1="215.16" x2="494.97" y2="219.73" stroke="#9a98c0" stroke-width="0.6" opacity="0.3"/>
<ellipse cx="492.04" cy="217.45" rx="1.31" ry="0.87" transform="rotate(37.92 492.04 217.45)" fill="#4c4a94" opacity="0.88"/>
<line x1="524.98" y1="184.63" x2="518.67" y2="190.24" stroke="#9a98c0" stroke-width="0.6" opacity="0.3"/>
<ellipse cx="521.82" cy="187.43" rx="1.31" ry="0.87" transform="rotate(138.42 521.82 187.43)" fill="#6a66a8" opacity="0.88"/>
<line x1="467.7" y1="169.23" x2="472.65" y2="177.33" stroke="#9a98c0" stroke-width="0.6" opacity="0.3"/>
<ellipse cx="470.18" cy="173.28" rx="1.31" ry="0.87" transform="rotate(58.57 470.18 173.28)" fill="#5a56a0" opacity="0.75"/>
<line x1="536.48" y1="240.65" x2="541.16" y2="241.83" stroke="#9a98c0" stroke-width="0.6" opacity="0.3"/>
<ellipse cx="538.82" cy="241.24" rx="1.17" ry="0.78" transform="rotate(14.13 538.82 241.24)" fill="#6a66a8" opacity="0.89"/>
<line x1="502.45" y1="211.75" x2="509.82" y2="222.59" stroke="#9a98c0" stroke-width="0.6" opacity="0.3"/>
<ellipse cx="506.13" cy="217.17" rx="1.2" ry="0.8" transform="rotate(55.83 506.13 217.17)" fill="#3e3c84" opacity="0.77"/>
<line x1="483.37" y1="251.71" x2="491.54" y2="258.42" stroke="#9a98c0" stroke-width="0.6" opacity="0.3"/>
<ellipse cx="487.45" cy="255.06" rx="1" ry="0.66" transform="rotate(39.38 487.45 255.06)" fill="#4c4a94" opacity="0.71"/>
<line x1="470.56" y1="194.05" x2="466.8" y2="199.7" stroke="#9a98c0" stroke-width="0.6" opacity="0.3"/>
<ellipse cx="468.68" cy="196.87" rx="1.15" ry="0.77" transform="rotate(123.68 468.68 196.87)" fill="#3e3c84" opacity="0.76"/>
<line x1="537.16" y1="210.96" x2="536.91" y2="215.8" stroke="#9a98c0" stroke-width="0.6" opacity="0.3"/>
<ellipse cx="537.04" cy="213.38" rx="1.37" ry="0.91" transform="rotate(92.92 537.04 213.38)" fill="#4c4a94" opacity="0.73"/>
<line x1="495.93" y1="221.56" x2="493.55" y2="233.29" stroke="#9a98c0" stroke-width="0.6" opacity="0.3"/>
<ellipse cx="494.74" cy="227.43" rx="1.16" ry="0.77" transform="rotate(101.49 494.74 227.43)" fill="#5a56a0" opacity="0.66"/>
<line x1="538.96" y1="198.74" x2="548.09" y2="199.38" stroke="#9a98c0" stroke-width="0.6" opacity="0.3"/>
<ellipse cx="543.52" cy="199.06" rx="1.16" ry="0.77" transform="rotate(4 543.52 199.06)" fill="#3e3c84" opacity="0.94"/>
<line x1="536.63" y1="172.9" x2="534.89" y2="184.65" stroke="#9a98c0" stroke-width="0.6" opacity="0.3"/>
<ellipse cx="535.76" cy="178.78" rx="0.81" ry="0.54" transform="rotate(98.43 535.76 178.78)" fill="#4c4a94" opacity="0.7"/>
<line x1="504.24" y1="221.19" x2="501.93" y2="225.59" stroke="#9a98c0" stroke-width="0.6" opacity="0.3"/>
<ellipse cx="503.08" cy="223.39" rx="1.36" ry="0.91" transform="rotate(117.65 503.08 223.39)" fill="#6a66a8" opacity="0.69"/>
<line x1="510.21" y1="194.22" x2="504.34" y2="199.57" stroke="#9a98c0" stroke-width="0.6" opacity="0.3"/>
<ellipse cx="507.27" cy="196.9" rx="1" ry="0.67" transform="rotate(137.66 507.27 196.9)" fill="#3e3c84" opacity="0.84"/>
<line x1="477.39" y1="207.3" x2="469.39" y2="217.74" stroke="#9a98c0" stroke-width="0.6" opacity="0.3"/>
<ellipse cx="473.39" cy="212.52" rx="1.06" ry="0.71" transform="rotate(127.47 473.39 212.52)" fill="#3e3c84" opacity="0.9"/>
<line x1="543.91" y1="255.02" x2="533.59" y2="256.4" stroke="#9a98c0" stroke-width="0.6" opacity="0.3"/>
<ellipse cx="538.75" cy="255.71" rx="1.14" ry="0.76" transform="rotate(172.41 538.75 255.71)" fill="#4c4a94" opacity="0.88"/>
<line x1="499.67" y1="219.43" x2="490.11" y2="229.53" stroke="#9a98c0" stroke-width="0.6" opacity="0.3"/>
<ellipse cx="494.89" cy="224.48" rx="1.03" ry="0.69" transform="rotate(133.43 494.89 224.48)" fill="#5a56a0" opacity="0.71"/>
<line x1="493.02" y1="215.21" x2="484.86" y2="218.26" stroke="#9a98c0" stroke-width="0.6" opacity="0.3"/>
<ellipse cx="488.94" cy="216.74" rx="1.3" ry="0.87" transform="rotate(159.51 488.94 216.74)" fill="#3e3c84" opacity="0.83"/>
<line x1="471.76" y1="173.74" x2="473.03" y2="183.5" stroke="#9a98c0" stroke-width="0.6" opacity="0.3"/>
<ellipse cx="472.39" cy="178.62" rx="1.43" ry="0.95" transform="rotate(82.58 472.39 178.62)" fill="#4c4a94" opacity="0.71"/>
<line x1="489.11" y1="234.53" x2="486.42" y2="242.82" stroke="#9a98c0" stroke-width="0.6" opacity="0.3"/>
<ellipse cx="487.77" cy="238.67" rx="1.13" ry="0.75" transform="rotate(108.01 487.77 238.67)" fill="#6a66a8" opacity="0.66"/>
<line x1="518.23" y1="243.28" x2="523.52" y2="251.15" stroke="#9a98c0" stroke-width="0.6" opacity="0.3"/>
<ellipse cx="520.87" cy="247.21" rx="1.36" ry="0.91" transform="rotate(56.12 520.87 247.21)" fill="#6a66a8" opacity="0.9"/>
<line x1="466.28" y1="241.08" x2="460.63" y2="251.34" stroke="#9a98c0" stroke-width="0.6" opacity="0.3"/>
<ellipse cx="463.45" cy="246.21" rx="0.82" ry="0.55" transform="rotate(118.85 463.45 246.21)" fill="#5a56a0" opacity="0.74"/>
<line x1="534.98" y1="243.95" x2="523.06" y2="244.85" stroke="#9a98c0" stroke-width="0.6" opacity="0.3"/>
<ellipse cx="529.02" cy="244.4" rx="1.33" ry="0.89" transform="rotate(175.7 529.02 244.4)" fill="#4c4a94" opacity="0.83"/>
<line x1="525.44" y1="215.39" x2="530.14" y2="226.39" stroke="#9a98c0" stroke-width="0.6" opacity="0.3"/>
<ellipse cx="527.79" cy="220.89" rx="1.28" ry="0.86" transform="rotate(66.89 527.79 220.89)" fill="#5a56a0" opacity="0.75"/>
<line x1="471.07" y1="256.03" x2="466.68" y2="259.02" stroke="#9a98c0" stroke-width="0.6" opacity="0.3"/>
<ellipse cx="468.88" cy="257.53" rx="1.31" ry="0.87" transform="rotate(145.81 468.88 257.53)" fill="#3e3c84" opacity="0.78"/>
<line x1="488.19" y1="210.41" x2="498.74" y2="218.29" stroke="#9a98c0" stroke-width="0.6" opacity="0.3"/>
<ellipse cx="493.46" cy="214.35" rx="0.86" ry="0.57" transform="rotate(36.78 493.46 214.35)" fill="#5a56a0" opacity="0.63"/>
<line x1="502.71" y1="206.86" x2="503.26" y2="215.53" stroke="#9a98c0" stroke-width="0.6" opacity="0.3"/>
<ellipse cx="502.99" cy="211.2" rx="1.47" ry="0.98" transform="rotate(86.42 502.99 211.2)" fill="#3e3c84" opacity="0.61"/>
<line x1="518.9" y1="243.25" x2="512.4" y2="248.58" stroke="#9a98c0" stroke-width="0.6" opacity="0.3"/>
<ellipse cx="515.65" cy="245.92" rx="0.78" ry="0.52" transform="rotate(140.67 515.65 245.92)" fill="#6a66a8" opacity="0.78"/>
<line x1="512.2" y1="203.45" x2="514.87" y2="207.4" stroke="#9a98c0" stroke-width="0.6" opacity="0.3"/>
<ellipse cx="513.53" cy="205.42" rx="0.98" ry="0.65" transform="rotate(55.94 513.53 205.42)" fill="#6a66a8" opacity="0.83"/>
<line x1="517.57" y1="219.42" x2="512.16" y2="228.73" stroke="#9a98c0" stroke-width="0.6" opacity="0.3"/>
<ellipse cx="514.87" cy="224.07" rx="1.31" ry="0.87" transform="rotate(120.19 514.87 224.07)" fill="#4c4a94" opacity="0.83"/>
<line x1="478.5" y1="236.66" x2="485.58" y2="243.2" stroke="#9a98c0" stroke-width="0.6" opacity="0.3"/>
<ellipse cx="482.04" cy="239.93" rx="1.09" ry="0.73" transform="rotate(42.75 482.04 239.93)" fill="#4c4a94" opacity="0.9"/>
<line x1="522.57" y1="254.55" x2="531.69" y2="259.28" stroke="#9a98c0" stroke-width="0.6" opacity="0.3"/>
<ellipse cx="527.13" cy="256.91" rx="1.45" ry="0.97" transform="rotate(27.39 527.13 256.91)" fill="#3e3c84" opacity="0.93"/>
<line x1="507.32" y1="178.74" x2="513.76" y2="183.08" stroke="#9a98c0" stroke-width="0.6" opacity="0.3"/>
<ellipse cx="510.54" cy="180.91" rx="0.83" ry="0.55" transform="rotate(33.96 510.54 180.91)" fill="#3e3c84" opacity="0.93"/>
<line x1="529.7" y1="202.47" x2="525.49" y2="205.02" stroke="#9a98c0" stroke-width="0.6" opacity="0.3"/>
<ellipse cx="527.59" cy="203.74" rx="0.86" ry="0.57" transform="rotate(148.85 527.59 203.74)" fill="#4c4a94" opacity="0.65"/>
<line x1="468.09" y1="190.33" x2="476.66" y2="191.32" stroke="#9a98c0" stroke-width="0.6" opacity="0.3"/>
<ellipse cx="472.38" cy="190.82" rx="1.28" ry="0.85" transform="rotate(6.57 472.38 190.82)" fill="#4c4a94" opacity="0.68"/>
<line x1="513.21" y1="231.37" x2="526.07" y2="234.35" stroke="#9a98c0" stroke-width="0.6" opacity="0.3"/>
<ellipse cx="519.64" cy="232.86" rx="1.07" ry="0.71" transform="rotate(13.08 519.64 232.86)" fill="#5a56a0" opacity="0.83"/>
<line x1="535.41" y1="205.3" x2="539.51" y2="212.31" stroke="#9a98c0" stroke-width="0.6" opacity="0.3"/>
<ellipse cx="537.46" cy="208.81" rx="0.76" ry="0.51" transform="rotate(59.66 537.46 208.81)" fill="#6a66a8" opacity="0.81"/>
<line x1="513.21" y1="205.66" x2="503.92" y2="206.08" stroke="#9a98c0" stroke-width="0.6" opacity="0.3"/>
<ellipse cx="508.57" cy="205.87" rx="0.95" ry="0.63" transform="rotate(177.41 508.57 205.87)" fill="#5a56a0" opacity="0.72"/>
<line x1="465.15" y1="202.09" x2="464.8" y2="213.97" stroke="#9a98c0" stroke-width="0.6" opacity="0.3"/>
<ellipse cx="464.98" cy="208.03" rx="1.37" ry="0.91" transform="rotate(91.69 464.98 208.03)" fill="#5a56a0" opacity="0.69"/>
<line x1="502.03" y1="228.16" x2="498.89" y2="236.73" stroke="#9a98c0" stroke-width="0.6" opacity="0.3"/>
<ellipse cx="500.46" cy="232.44" rx="1.18" ry="0.79" transform="rotate(110.17 500.46 232.44)" fill="#5a56a0" opacity="0.95"/>
<line x1="491.11" y1="180.93" x2="502.06" y2="188.74" stroke="#9a98c0" stroke-width="0.6" opacity="0.3"/>
<ellipse cx="496.59" cy="184.83" rx="1.22" ry="0.81" transform="rotate(35.5 496.59 184.83)" fill="#5a56a0" opacity="0.87"/>
<line x1="482.79" y1="220.01" x2="485.25" y2="224.27" stroke="#9a98c0" stroke-width="0.6" opacity="0.3"/>
<ellipse cx="484.02" cy="222.14" rx="1.4" ry="0.94" transform="rotate(60.05 484.02 222.14)" fill="#3e3c84" opacity="0.76"/>
<line x1="520.2" y1="216.38" x2="511.19" y2="219.19" stroke="#9a98c0" stroke-width="0.6" opacity="0.3"/>
<ellipse cx="515.7" cy="217.79" rx="1.17" ry="0.78" transform="rotate(162.74 515.7 217.79)" fill="#3e3c84" opacity="0.66"/>
<line x1="539.17" y1="201.08" x2="551.14" y2="206.97" stroke="#9a98c0" stroke-width="0.6" opacity="0.3"/>
<ellipse cx="545.15" cy="204.03" rx="0.75" ry="0.5" transform="rotate(26.22 545.15 204.03)" fill="#3e3c84" opacity="0.68"/>
<line x1="538.8" y1="187.76" x2="538.08" y2="192.47" stroke="#9a98c0" stroke-width="0.6" opacity="0.3"/>
<ellipse cx="538.44" cy="190.11" rx="0.77" ry="0.52" transform="rotate(98.62 538.44 190.11)" fill="#5a56a0" opacity="0.87"/>
<line x1="559.98" y1="181.37" x2="550.99" y2="190.02" stroke="#9a98c0" stroke-width="0.6" opacity="0.3"/>
<ellipse cx="555.48" cy="185.7" rx="1.43" ry="0.95" transform="rotate(136.11 555.48 185.7)" fill="#4c4a94" opacity="0.66"/>
<line x1="525.46" y1="222.7" x2="532.97" y2="225.63" stroke="#9a98c0" stroke-width="0.6" opacity="0.3"/>
<ellipse cx="529.21" cy="224.16" rx="1" ry="0.67" transform="rotate(21.29 529.21 224.16)" fill="#5a56a0" opacity="0.69"/>
<line x1="482.56" y1="232.04" x2="493.19" y2="233.31" stroke="#9a98c0" stroke-width="0.6" opacity="0.3"/>
<ellipse cx="487.87" cy="232.67" rx="0.86" ry="0.57" transform="rotate(6.82 487.87 232.67)" fill="#6a66a8" opacity="0.81"/>
<line x1="484.07" y1="228.44" x2="477.58" y2="238.03" stroke="#9a98c0" stroke-width="0.6" opacity="0.3"/>
<ellipse cx="480.82" cy="233.23" rx="1.31" ry="0.88" transform="rotate(124.08 480.82 233.23)" fill="#6a66a8" opacity="0.91"/>
<line x1="532.83" y1="202.1" x2="528.42" y2="204.81" stroke="#9a98c0" stroke-width="0.6" opacity="0.3"/>
<ellipse cx="530.63" cy="203.46" rx="0.84" ry="0.56" transform="rotate(148.53 530.63 203.46)" fill="#3e3c84" opacity="0.78"/>
<line x1="514.06" y1="209.2" x2="525.15" y2="211.13" stroke="#9a98c0" stroke-width="0.6" opacity="0.3"/>
<ellipse cx="519.61" cy="210.17" rx="1.43" ry="0.95" transform="rotate(9.84 519.61 210.17)" fill="#6a66a8" opacity="0.81"/>
<line x1="482.54" y1="227.6" x2="487.66" y2="228.74" stroke="#9a98c0" stroke-width="0.6" opacity="0.3"/>
<ellipse cx="485.1" cy="228.17" rx="1.09" ry="0.72" transform="rotate(12.56 485.1 228.17)" fill="#6a66a8" opacity="0.94"/>
<line x1="540.74" y1="239.39" x2="539.25" y2="249.85" stroke="#9a98c0" stroke-width="0.6" opacity="0.3"/>
<ellipse cx="540" cy="244.62" rx="1.46" ry="0.97" transform="rotate(98.1 540 244.62)" fill="#4c4a94" opacity="0.95"/>
<line x1="543.26" y1="202.44" x2="541.87" y2="211.98" stroke="#9a98c0" stroke-width="0.6" opacity="0.3"/>
<ellipse cx="542.57" cy="207.21" rx="0.87" ry="0.58" transform="rotate(98.32 542.57 207.21)" fill="#6a66a8" opacity="0.8"/>
<line x1="459.86" y1="244.95" x2="468.53" y2="248.5" stroke="#9a98c0" stroke-width="0.6" opacity="0.3"/>
<ellipse cx="464.19" cy="246.73" rx="1.46" ry="0.98" transform="rotate(22.28 464.19 246.73)" fill="#4c4a94" opacity="0.7"/>
<line x1="455.84" y1="184.67" x2="457.41" y2="193.03" stroke="#9a98c0" stroke-width="0.6" opacity="0.3"/>
<ellipse cx="456.63" cy="188.85" rx="1.15" ry="0.77" transform="rotate(79.34 456.63 188.85)" fill="#5a56a0" opacity="0.72"/>
<line x1="462.21" y1="174.6" x2="455.49" y2="176.81" stroke="#9a98c0" stroke-width="0.6" opacity="0.3"/>
<ellipse cx="458.85" cy="175.7" rx="1.12" ry="0.75" transform="rotate(161.74 458.85 175.7)" fill="#6a66a8" opacity="0.91"/>
<line x1="521.08" y1="196.6" x2="528.12" y2="197.91" stroke="#9a98c0" stroke-width="0.6" opacity="0.3"/>
<ellipse cx="524.6" cy="197.25" rx="1.39" ry="0.93" transform="rotate(10.61 524.6 197.25)" fill="#6a66a8" opacity="0.61"/>
<line x1="525.3" y1="221.87" x2="524.64" y2="228.2" stroke="#9a98c0" stroke-width="0.6" opacity="0.3"/>
<ellipse cx="524.97" cy="225.03" rx="1.46" ry="0.97" transform="rotate(95.96 524.97 225.03)" fill="#4c4a94" opacity="0.83"/>
<line x1="523.57" y1="172.98" x2="528.92" y2="179.2" stroke="#9a98c0" stroke-width="0.6" opacity="0.3"/>
<ellipse cx="526.24" cy="176.09" rx="1.41" ry="0.94" transform="rotate(49.3 526.24 176.09)" fill="#3e3c84" opacity="0.84"/>
<line x1="496.64" y1="177.89" x2="502.04" y2="182.45" stroke="#9a98c0" stroke-width="0.6" opacity="0.3"/>
<ellipse cx="499.34" cy="180.17" rx="1.28" ry="0.86" transform="rotate(40.19 499.34 180.17)" fill="#5a56a0" opacity="0.69"/>
<line x1="501.11" y1="195.81" x2="508.98" y2="204.92" stroke="#9a98c0" stroke-width="0.6" opacity="0.3"/>
<ellipse cx="505.04" cy="200.37" rx="1.14" ry="0.76" transform="rotate(49.2 505.04 200.37)" fill="#4c4a94" opacity="0.81"/>
<line x1="492.01" y1="257.02" x2="488.62" y2="262.88" stroke="#9a98c0" stroke-width="0.6" opacity="0.3"/>
<ellipse cx="490.31" cy="259.95" rx="1.23" ry="0.82" transform="rotate(120.07 490.31 259.95)" fill="#4c4a94" opacity="0.76"/>
<line x1="513.74" y1="215.23" x2="509.84" y2="216.4" stroke="#9a98c0" stroke-width="0.6" opacity="0.3"/>
<ellipse cx="511.79" cy="215.82" rx="1.19" ry="0.79" transform="rotate(163.34 511.79 215.82)" fill="#3e3c84" opacity="0.75"/>
<line x1="468.48" y1="263.39" x2="473.28" y2="266.64" stroke="#9a98c0" stroke-width="0.6" opacity="0.3"/>
<ellipse cx="470.88" cy="265.01" rx="1.3" ry="0.87" transform="rotate(34.12 470.88 265.01)" fill="#4c4a94" opacity="0.67"/>
<line x1="553.66" y1="170.22" x2="555.05" y2="181.65" stroke="#9a98c0" stroke-width="0.6" opacity="0.3"/>
<ellipse cx="554.36" cy="175.94" rx="1.04" ry="0.69" transform="rotate(83.1 554.36 175.94)" fill="#6a66a8" opacity="0.62"/>
<line x1="509.99" y1="175.37" x2="514.7" y2="182.84" stroke="#9a98c0" stroke-width="0.6" opacity="0.3"/>
<ellipse cx="512.34" cy="179.11" rx="0.77" ry="0.52" transform="rotate(57.75 512.34 179.11)" fill="#3e3c84" opacity="0.78"/>
<line x1="526.42" y1="220.93" x2="520.75" y2="221.8" stroke="#9a98c0" stroke-width="0.6" opacity="0.3"/>
<ellipse cx="523.58" cy="221.36" rx="1.33" ry="0.89" transform="rotate(171.29 523.58 221.36)" fill="#5a56a0" opacity="0.64"/>
<line x1="488.5" y1="194.94" x2="496.24" y2="202.98" stroke="#9a98c0" stroke-width="0.6" opacity="0.3"/>
<ellipse cx="492.37" cy="198.96" rx="1.29" ry="0.86" transform="rotate(46.11 492.37 198.96)" fill="#3e3c84" opacity="0.77"/>
<line x1="479.06" y1="208.32" x2="488.97" y2="209.42" stroke="#9a98c0" stroke-width="0.6" opacity="0.3"/>
<ellipse cx="484.01" cy="208.87" rx="1.29" ry="0.86" transform="rotate(6.36 484.01 208.87)" fill="#6a66a8" opacity="0.91"/>
<line x1="507.07" y1="218.16" x2="507.17" y2="226.51" stroke="#9a98c0" stroke-width="0.6" opacity="0.3"/>
<ellipse cx="507.12" cy="222.33" rx="1.08" ry="0.72" transform="rotate(89.31 507.12 222.33)" fill="#3e3c84" opacity="0.9"/>
<line x1="516.55" y1="222.71" x2="512.39" y2="231.57" stroke="#9a98c0" stroke-width="0.6" opacity="0.3"/>
<ellipse cx="514.47" cy="227.14" rx="1.29" ry="0.86" transform="rotate(115.18 514.47 227.14)" fill="#5a56a0" opacity="0.62"/>
<line x1="496.35" y1="182.58" x2="488.31" y2="191.23" stroke="#9a98c0" stroke-width="0.6" opacity="0.3"/>
<ellipse cx="492.33" cy="186.91" rx="1.32" ry="0.88" transform="rotate(132.93 492.33 186.91)" fill="#6a66a8" opacity="0.63"/>
<line x1="466.82" y1="193.95" x2="476.38" y2="199.2" stroke="#9a98c0" stroke-width="0.6" opacity="0.3"/>
<ellipse cx="471.6" cy="196.58" rx="1.37" ry="0.92" transform="rotate(28.77 471.6 196.58)" fill="#6a66a8" opacity="0.62"/>
<line x1="497.78" y1="229.05" x2="493.37" y2="229.46" stroke="#9a98c0" stroke-width="0.6" opacity="0.3"/>
<ellipse cx="495.57" cy="229.25" rx="1.12" ry="0.74" transform="rotate(174.71 495.57 229.25)" fill="#5a56a0" opacity="0.65"/>
<line x1="500.02" y1="209.75" x2="509.41" y2="218.6" stroke="#9a98c0" stroke-width="0.6" opacity="0.3"/>
<ellipse cx="504.72" cy="214.17" rx="0.86" ry="0.57" transform="rotate(43.31 504.72 214.17)" fill="#6a66a8" opacity="0.79"/>
<line x1="557.65" y1="195.11" x2="551.67" y2="204.55" stroke="#9a98c0" stroke-width="0.6" opacity="0.3"/>
<ellipse cx="554.66" cy="199.83" rx="1.48" ry="0.99" transform="rotate(122.38 554.66 199.83)" fill="#5a56a0" opacity="0.7"/>
</g>
<rect x="454.2" y="172.8" width="101.4" height="93.3" fill="none" stroke="#5a5a5a" stroke-width="1.1" />
<line x1="461.9" y1="262.3" x2="477.4" y2="262.3" stroke="#222" stroke-width="1.6" />
<text x="458.5" y="258.5" font-size="8.9" textLength="29.6" lengthAdjust="spacingAndGlyphs" >200 µm</text>
<text x="449.7" y="220.2" font-size="10.6" text-anchor="middle" textLength="13.3" lengthAdjust="spacingAndGlyphs" transform="rotate(-90 449.7 220.2)" >NS</text>
<g clip-path="url(#clg2)">
<rect x="454.3" y="268.3" width="101.9" height="93.2" fill="#f3f2f2" />
<path d="M447.5,366.5 Q519.48,322.75 561.2,294.44" stroke="#fbfbfb" stroke-width="3.86" fill="none" opacity="0.8"/>
<path d="M497.71,366.5 Q528.93,314.17 561.2,296.13" stroke="#fbfbfb" stroke-width="3.94" fill="none" opacity="0.8"/>
<path d="M434.55,366.5 Q493.98,319.28 561.2,267.8" stroke="#fbfbfb" stroke-width="6.18" fill="none" opacity="0.8"/>
<path d="M452.88,366.5 Q482.92,281.26 561.2,328.14" stroke="#fbfbfb" stroke-width="5.95" fill="none" opacity="0.8"/>
<path d="M504.3,366.5 Q513.57,280.68 561.2,284.68" stroke="#fbfbfb" stroke-width="4.99" fill="none" opacity="0.8"/>
<path d="M443.56,366.5 Q540.46,304.09 561.2,273.36" stroke="#fbfbfb" stroke-width="6.27" fill="none" opacity="0.8"/>
<path d="M444.29,366.5 Q538.54,310.02 561.2,299.18" stroke="#fbfbfb" stroke-width="4.37" fill="none" opacity="0.8"/>
<path d="M503.69,285.72 Q515.76,290.25 533.14,289.17" stroke="#d0b0bc" stroke-width="0.6" fill="none" opacity="0.4"/>
<path d="M475.55,358.59 Q465.48,363.79 450.16,367.38" stroke="#d0b0bc" stroke-width="0.6" fill="none" opacity="0.4"/>
<path d="M528.66,279.71 Q526.74,298.24 530.79,308.31" stroke="#d0b0bc" stroke-width="0.6" fill="none" opacity="0.4"/>
<path d="M544.74,306.47 Q547.56,320.21 552.67,324.05" stroke="#d0b0bc" stroke-width="0.6" fill="none" opacity="0.4"/>
<path d="M493.69,270.8 Q511.05,274.51 518.54,278.3" stroke="#d0b0bc" stroke-width="0.6" fill="none" opacity="0.4"/>
<path d="M504.39,319.6 Q500.71,324.98 494.86,329.24" stroke="#d0b0bc" stroke-width="0.6" fill="none" opacity="0.4"/>
<path d="M517.75,285.14 Q529.2,287.86 532.12,293.65" stroke="#d0b0bc" stroke-width="0.6" fill="none" opacity="0.4"/>
<path d="M515.16,296.88 Q522.86,301.18 524.3,299.95" stroke="#d0b0bc" stroke-width="0.6" fill="none" opacity="0.4"/>
<path d="M492.5,331.99 Q489.09,344.02 476.51,357.92" stroke="#d0b0bc" stroke-width="0.6" fill="none" opacity="0.4"/>
<path d="M555.09,357.91 Q550.78,371.1 546.65,386.78" stroke="#d0b0bc" stroke-width="0.6" fill="none" opacity="0.4"/>
<path d="M479.49,349.96 Q486.79,355.07 487.99,354.71" stroke="#d0b0bc" stroke-width="0.6" fill="none" opacity="0.4"/>
<path d="M503.54,346.31 Q508.56,346.68 517.79,348.67" stroke="#d0b0bc" stroke-width="0.6" fill="none" opacity="0.4"/>
<path d="M471.69,274.77 Q483.94,290.54 486.53,301.39" stroke="#d0b0bc" stroke-width="0.6" fill="none" opacity="0.4"/>
<path d="M503.11,291.81 Q494.91,288.45 482.14,294.53" stroke="#d0b0bc" stroke-width="0.6" fill="none" opacity="0.4"/>
<path d="M475.91,346.43 Q464.91,354.7 451.88,364.44" stroke="#d0b0bc" stroke-width="0.6" fill="none" opacity="0.4"/>
<path d="M513.52,347.46 Q517.34,358.94 525.64,365.05" stroke="#d0b0bc" stroke-width="0.6" fill="none" opacity="0.4"/>
<path d="M455.34,332.17 Q452.03,334.23 446.84,333.41" stroke="#d0b0bc" stroke-width="0.6" fill="none" opacity="0.4"/>
<path d="M541.09,322.76 Q551.94,333.37 553.62,335.87" stroke="#d0b0bc" stroke-width="0.6" fill="none" opacity="0.4"/>
<path d="M467.91,277.14 Q471.51,274.8 476.17,279.65" stroke="#d0b0bc" stroke-width="0.6" fill="none" opacity="0.4"/>
<path d="M542.68,329.38 Q550.82,333.47 562.47,337.69" stroke="#d0b0bc" stroke-width="0.6" fill="none" opacity="0.4"/>
<path d="M476.68,283.78 Q486.08,289.04 491.29,293.31" stroke="#d0b0bc" stroke-width="0.6" fill="none" opacity="0.4"/>
<path d="M459.01,334.55 Q449.29,334.91 433.77,345.11" stroke="#d0b0bc" stroke-width="0.6" fill="none" opacity="0.4"/>
<path d="M501.57,274.22 Q499.12,275.93 492.44,282.58" stroke="#d0b0bc" stroke-width="0.6" fill="none" opacity="0.4"/>
<path d="M525.3,297.53 Q532.18,302.7 542.87,299.86" stroke="#d0b0bc" stroke-width="0.6" fill="none" opacity="0.4"/>
<path d="M484.36,315.19 Q477.9,331.87 479.47,346.52" stroke="#d0b0bc" stroke-width="0.6" fill="none" opacity="0.4"/>
<path d="M506.09,336.76 Q500.25,337.83 490.42,338.39" stroke="#d0b0bc" stroke-width="0.6" fill="none" opacity="0.4"/>
<path d="M511.43,274.24 Q496.45,281.33 484.35,292.07" stroke="#d0b0bc" stroke-width="0.6" fill="none" opacity="0.4"/>
<path d="M555.51,278.33 Q563.43,282.09 565.06,280.66" stroke="#d0b0bc" stroke-width="0.6" fill="none" opacity="0.4"/>
<path d="M499.96,326.21 Q511.42,327.14 524.03,327.71" stroke="#d0b0bc" stroke-width="0.6" fill="none" opacity="0.4"/>
<path d="M493.98,305.72 Q496.82,306.19 500.98,311.72" stroke="#d0b0bc" stroke-width="0.6" fill="none" opacity="0.4"/>
<path d="M526.06,344.47 Q517.15,350.73 513.51,359.27" stroke="#d0b0bc" stroke-width="0.6" fill="none" opacity="0.4"/>
<path d="M503.9,327.19 Q498.67,327.69 493.84,328.36" stroke="#d0b0bc" stroke-width="0.6" fill="none" opacity="0.4"/>
<path d="M527.38,351.29 Q520.86,360.53 509.16,366.41" stroke="#d0b0bc" stroke-width="0.6" fill="none" opacity="0.4"/>
<path d="M541.82,333.45 Q542.15,338.24 534.14,345.31" stroke="#d0b0bc" stroke-width="0.6" fill="none" opacity="0.4"/>
<path d="M516.94,345.17 Q495.74,345.16 484.42,348.9" stroke="#d0b0bc" stroke-width="0.6" fill="none" opacity="0.4"/>
<ellipse cx="486.07" cy="304.76" rx="3.16" ry="0.63" transform="rotate(26.18 486.07 304.76)" fill="#b8a0c8" opacity="0.42"/>
<ellipse cx="492.56" cy="337.55" rx="4.47" ry="0.67" transform="rotate(176.94 492.56 337.55)" fill="#e0a8b8" opacity="0.42"/>
<circle cx="492.23" cy="337.83" r="0.77" fill="#a04060" opacity="0.8"/>
<ellipse cx="462.66" cy="270.96" rx="4.33" ry="0.99" transform="rotate(92.64 462.66 270.96)" fill="#c87898" opacity="0.42"/>
<circle cx="463.03" cy="271.4" r="0.56" fill="#a04060" opacity="0.8"/>
<ellipse cx="501.88" cy="309.02" rx="2.34" ry="0.67" transform="rotate(111.08 501.88 309.02)" fill="#e0a8b8" opacity="0.42"/>
<ellipse cx="464.38" cy="359.19" rx="2.55" ry="0.85" transform="rotate(38.73 464.38 359.19)" fill="#b8a0c8" opacity="0.42"/>
<circle cx="464.39" cy="358.26" r="0.74" fill="#8a5090" opacity="0.8"/>
<ellipse cx="500.12" cy="360.64" rx="1.94" ry="0.99" transform="rotate(169.48 500.12 360.64)" fill="#c87898" opacity="0.42"/>
<circle cx="500.91" cy="360.38" r="0.55" fill="#a04060" opacity="0.8"/>
<ellipse cx="508.25" cy="272.88" rx="2.71" ry="0.82" transform="rotate(33.76 508.25 272.88)" fill="#c87898" opacity="0.42"/>
<circle cx="508.9" cy="273.05" r="0.69" fill="#6a64a8" opacity="0.8"/>
<ellipse cx="521.42" cy="275.1" rx="4" ry="1" transform="rotate(78.44 521.42 275.1)" fill="#c87898" opacity="0.42"/>
<circle cx="521.42" cy="275.16" r="0.71" fill="#a04060" opacity="0.8"/>
<ellipse cx="502.31" cy="342.87" rx="2.31" ry="0.74" transform="rotate(60.84 502.31 342.87)" fill="#b8a0c8" opacity="0.42"/>
<ellipse cx="455.24" cy="343.51" rx="2.06" ry="0.64" transform="rotate(120.27 455.24 343.51)" fill="#c87898" opacity="0.42"/>
<circle cx="454.95" cy="342.83" r="0.73" fill="#a04060" opacity="0.8"/>
<ellipse cx="523.67" cy="329.18" rx="1.81" ry="0.97" transform="rotate(28.47 523.67 329.18)" fill="#b8a0c8" opacity="0.42"/>
<circle cx="524.05" cy="329.63" r="0.71" fill="#6a64a8" opacity="0.8"/>
<ellipse cx="487.38" cy="288.72" rx="3.68" ry="0.84" transform="rotate(90.5 487.38 288.72)" fill="#c87898" opacity="0.42"/>
<circle cx="487.11" cy="288.67" r="0.85" fill="#a04060" opacity="0.8"/>
<ellipse cx="536.51" cy="352.77" rx="2.15" ry="0.91" transform="rotate(122.31 536.51 352.77)" fill="#d890a8" opacity="0.42"/>
<ellipse cx="494.06" cy="356.08" rx="3.88" ry="0.6" transform="rotate(168.62 494.06 356.08)" fill="#b8a0c8" opacity="0.42"/>
<circle cx="493.59" cy="355.13" r="0.65" fill="#8a5090" opacity="0.8"/>
<ellipse cx="470.75" cy="355.05" rx="4.15" ry="0.68" transform="rotate(96.52 470.75 355.05)" fill="#b8a0c8" opacity="0.42"/>
<ellipse cx="529.7" cy="350.58" rx="1.75" ry="0.76" transform="rotate(65.22 529.7 350.58)" fill="#c87898" opacity="0.42"/>
<circle cx="530.05" cy="351.31" r="0.73" fill="#6a64a8" opacity="0.8"/>
<ellipse cx="547.2" cy="357.27" rx="4.45" ry="0.9" transform="rotate(135.93 547.2 357.27)" fill="#d890a8" opacity="0.42"/>
<circle cx="547.27" cy="357.01" r="0.9" fill="#a04060" opacity="0.8"/>
<ellipse cx="466.82" cy="290.67" rx="3.42" ry="0.91" transform="rotate(76.37 466.82 290.67)" fill="#c87898" opacity="0.42"/>
<ellipse cx="480.08" cy="308.39" rx="2.97" ry="0.71" transform="rotate(68.05 480.08 308.39)" fill="#e0a8b8" opacity="0.42"/>
<circle cx="480.65" cy="308.06" r="0.68" fill="#a04060" opacity="0.8"/>
<ellipse cx="529.35" cy="336.41" rx="2.63" ry="0.76" transform="rotate(178.82 529.35 336.41)" fill="#d890a8" opacity="0.42"/>
<ellipse cx="542.61" cy="295.94" rx="2.87" ry="0.79" transform="rotate(149.84 542.61 295.94)" fill="#e0a8b8" opacity="0.42"/>
<ellipse cx="457.06" cy="353.71" rx="2.5" ry="0.74" transform="rotate(23.8 457.06 353.71)" fill="#e0a8b8" opacity="0.42"/>
<circle cx="457.45" cy="354.44" r="0.8" fill="#a04060" opacity="0.8"/>
<ellipse cx="521.14" cy="336.73" rx="1.87" ry="0.96" transform="rotate(82.58 521.14 336.73)" fill="#b8a0c8" opacity="0.42"/>
<ellipse cx="462.17" cy="297" rx="1.94" ry="0.93" transform="rotate(114.06 462.17 297)" fill="#b8a0c8" opacity="0.42"/>
<circle cx="462.4" cy="297.3" r="0.71" fill="#6a64a8" opacity="0.8"/>
<ellipse cx="505" cy="334.76" rx="3.56" ry="0.73" transform="rotate(39.22 505 334.76)" fill="#b8a0c8" opacity="0.42"/>
<circle cx="505.69" cy="334.32" r="0.6" fill="#a04060" opacity="0.8"/>
<ellipse cx="460.46" cy="338.77" rx="3.03" ry="1" transform="rotate(108.34 460.46 338.77)" fill="#c87898" opacity="0.42"/>
<circle cx="460.35" cy="338.77" r="0.88" fill="#a04060" opacity="0.8"/>
<ellipse cx="498.37" cy="270.28" rx="1.93" ry="0.76" transform="rotate(171.2 498.37 270.28)" fill="#e0a8b8" opacity="0.42"/>
<ellipse cx="500.86" cy="316.18" rx="3.87" ry="0.61" transform="rotate(40.23 500.86 316.18)" fill="#e0a8b8" opacity="0.42"/>
<ellipse cx="533.24" cy="352.39" rx="2.53" ry="0.66" transform="rotate(134.85 533.24 352.39)" fill="#d890a8" opacity="0.42"/>
<ellipse cx="487.62" cy="298.9" rx="1.64" ry="0.67" transform="rotate(38.77 487.62 298.9)" fill="#c87898" opacity="0.42"/>
<circle cx="486.93" cy="298.21" r="0.72" fill="#6a64a8" opacity="0.8"/>
<ellipse cx="508.76" cy="279.07" rx="3.78" ry="0.68" transform="rotate(72.94 508.76 279.07)" fill="#c87898" opacity="0.42"/>
<circle cx="507.93" cy="278.56" r="0.74" fill="#6a64a8" opacity="0.8"/>
<ellipse cx="479.24" cy="308.55" rx="4.29" ry="0.88" transform="rotate(141.95 479.24 308.55)" fill="#d890a8" opacity="0.42"/>
<circle cx="480.16" cy="309.16" r="0.77" fill="#a04060" opacity="0.8"/>
<ellipse cx="457.8" cy="314.75" rx="3.81" ry="0.83" transform="rotate(160.46 457.8 314.75)" fill="#c87898" opacity="0.42"/>
<circle cx="458.08" cy="315.31" r="0.6" fill="#a04060" opacity="0.8"/>
<ellipse cx="527.64" cy="317.75" rx="2.52" ry="0.87" transform="rotate(29.52 527.64 317.75)" fill="#b8a0c8" opacity="0.42"/>
<circle cx="528.24" cy="316.86" r="0.61" fill="#6a64a8" opacity="0.8"/>
<ellipse cx="503.9" cy="344.78" rx="3.66" ry="0.72" transform="rotate(24.84 503.9 344.78)" fill="#e0a8b8" opacity="0.42"/>
<circle cx="504.22" cy="344.67" r="0.59" fill="#a04060" opacity="0.8"/>
<ellipse cx="530.29" cy="345.41" rx="1.82" ry="0.99" transform="rotate(92.28 530.29 345.41)" fill="#c87898" opacity="0.42"/>
<circle cx="530.02" cy="344.81" r="0.7" fill="#a04060" opacity="0.8"/>
<ellipse cx="516.28" cy="308.83" rx="1.56" ry="0.8" transform="rotate(138.68 516.28 308.83)" fill="#c87898" opacity="0.42"/>
<circle cx="515.71" cy="309.57" r="0.63" fill="#8a5090" opacity="0.8"/>
<ellipse cx="533.12" cy="347.54" rx="2.25" ry="0.74" transform="rotate(173.53 533.12 347.54)" fill="#e0a8b8" opacity="0.42"/>
<circle cx="533.52" cy="348.34" r="0.57" fill="#a04060" opacity="0.8"/>
<ellipse cx="503.22" cy="298.92" rx="4.04" ry="0.66" transform="rotate(160.46 503.22 298.92)" fill="#d890a8" opacity="0.42"/>
<ellipse cx="479.37" cy="361.2" rx="2.64" ry="0.99" transform="rotate(58.98 479.37 361.2)" fill="#c87898" opacity="0.42"/>
<ellipse cx="457.13" cy="322.16" rx="2.14" ry="0.99" transform="rotate(164.93 457.13 322.16)" fill="#c87898" opacity="0.42"/>
<ellipse cx="543.17" cy="351.58" rx="4.44" ry="0.8" transform="rotate(148.21 543.17 351.58)" fill="#c87898" opacity="0.42"/>
<ellipse cx="521.05" cy="308.43" rx="2.38" ry="0.65" transform="rotate(119.53 521.05 308.43)" fill="#e0a8b8" opacity="0.42"/>
<circle cx="521.47" cy="308.94" r="0.57" fill="#6a64a8" opacity="0.8"/>
<ellipse cx="532.08" cy="272.82" rx="1.83" ry="0.8" transform="rotate(114.6 532.08 272.82)" fill="#b8a0c8" opacity="0.42"/>
<ellipse cx="543.18" cy="295.45" rx="4.35" ry="0.82" transform="rotate(138.04 543.18 295.45)" fill="#b8a0c8" opacity="0.42"/>
<circle cx="543.58" cy="296.12" r="0.89" fill="#a04060" opacity="0.8"/>
<ellipse cx="501.51" cy="352.88" rx="2.3" ry="0.74" transform="rotate(158.65 501.51 352.88)" fill="#b8a0c8" opacity="0.42"/>
<ellipse cx="518.52" cy="287.39" rx="1.77" ry="0.92" transform="rotate(28.98 518.52 287.39)" fill="#c87898" opacity="0.42"/>
<circle cx="518.2" cy="286.72" r="0.64" fill="#6a64a8" opacity="0.8"/>
<ellipse cx="505.72" cy="272.23" rx="2.47" ry="0.87" transform="rotate(5.23 505.72 272.23)" fill="#c87898" opacity="0.42"/>
<ellipse cx="540.6" cy="326.24" rx="3.78" ry="0.64" transform="rotate(30.41 540.6 326.24)" fill="#b8a0c8" opacity="0.42"/>
<circle cx="540.26" cy="326.69" r="0.65" fill="#a04060" opacity="0.8"/>
<ellipse cx="530.32" cy="336.27" rx="2.46" ry="0.72" transform="rotate(43.94 530.32 336.27)" fill="#e0a8b8" opacity="0.42"/>
<ellipse cx="473.6" cy="357.41" rx="4.2" ry="0.79" transform="rotate(111.22 473.6 357.41)" fill="#c87898" opacity="0.42"/>
<circle cx="473.83" cy="358.37" r="0.85" fill="#a04060" opacity="0.8"/>
<ellipse cx="462.93" cy="334.91" rx="4.23" ry="0.67" transform="rotate(87.57 462.93 334.91)" fill="#d890a8" opacity="0.42"/>
<ellipse cx="455.21" cy="339.73" rx="3.06" ry="0.89" transform="rotate(177.82 455.21 339.73)" fill="#d890a8" opacity="0.42"/>
<ellipse cx="460.69" cy="356.92" rx="2.82" ry="0.83" transform="rotate(173.75 460.69 356.92)" fill="#b8a0c8" opacity="0.42"/>
<ellipse cx="542.29" cy="341.73" rx="2.3" ry="0.83" transform="rotate(87.93 542.29 341.73)" fill="#c87898" opacity="0.42"/>
<circle cx="543.14" cy="341.02" r="0.87" fill="#8a5090" opacity="0.8"/>
<circle cx="513.4" cy="299" r="2.2" fill="#a84848" opacity="0.9"/>
<circle cx="515.2" cy="287.5" r="1.8" fill="#b85868" opacity="0.9"/>
<circle cx="486" cy="300.5" r="1.3" fill="#a85060" opacity="0.9"/>
<circle cx="469.7" cy="327.5" r="1.9" fill="#a83848" opacity="0.9"/>
<circle cx="473" cy="323" r="1.4" fill="#b85060" opacity="0.9"/>
<circle cx="548.5" cy="296.5" r="1.6" fill="#7070b0" opacity="0.9"/>
<circle cx="530" cy="295" r="1.2" fill="#7070b0" opacity="0.9"/>
<circle cx="548" cy="273.5" r="1.8" fill="#b05060" opacity="0.9"/>
<circle cx="536.5" cy="322" r="1.4" fill="#c06080" opacity="0.9"/>
</g>
<rect x="454.3" y="268.3" width="101.9" height="93.2" fill="none" stroke="#5a5a5a" stroke-width="1.1" />
<line x1="483.5" y1="280.9" x2="499.3" y2="280.9" stroke="#222" stroke-width="1.6" />
<text x="480.9" y="277.2" font-size="8.9" textLength="29.6" lengthAdjust="spacingAndGlyphs" >200 µm</text>
<text x="450.6" y="315" font-size="11" text-anchor="middle" textLength="15.2" lengthAdjust="spacingAndGlyphs" transform="rotate(-90 450.6 315)" >RS</text>
<rect x="456.6" y="313.7" width="30.9" height="27.9" fill="none" stroke="#4d6b86" stroke-width="1.1" />
<line x1="456.6" y1="341.6" x2="454.4" y2="362.5" stroke="#222" stroke-width="0.9" />
<line x1="487.5" y1="341.6" x2="521.5" y2="364.3" stroke="#222" stroke-width="0.9" />
<g clip-path="url(#clg3)">
<rect x="454.2" y="364.4" width="67.3" height="58.2" fill="#f4f3f4" />
<path d="M444.81,427.6 Q469.82,386.19 526.5,383.34" stroke="#e8e6e8" stroke-width="2.42" fill="none" opacity="0.7"/>
<path d="M449.82,427.6 Q475.79,397.13 526.5,364.56" stroke="#e8e6e8" stroke-width="4.22" fill="none" opacity="0.7"/>
<path d="M477.31,427.6 Q471.03,390.47 526.5,375.07" stroke="#e8e6e8" stroke-width="3.24" fill="none" opacity="0.7"/>
<path d="M494.02,427.6 Q468.86,375.01 526.5,392.29" stroke="#e8e6e8" stroke-width="3.21" fill="none" opacity="0.7"/>
<path d="M454.12,427.6 Q480.72,385.35 526.5,392.83" stroke="#e8e6e8" stroke-width="2.63" fill="none" opacity="0.7"/>
<path d="M455.05,427.6 Q493.45,390.82 526.5,392.78" stroke="#e8e6e8" stroke-width="4.52" fill="none" opacity="0.7"/>
<ellipse cx="467.92" cy="413.08" rx="2.26" ry="1.09" transform="rotate(15.5 467.92 413.08)" fill="#8a80c0" opacity="0.73"/>
<ellipse cx="468.18" cy="389.57" rx="1.13" ry="0.78" transform="rotate(115.36 468.18 389.57)" fill="#d07090" opacity="0.57"/>
<ellipse cx="476.7" cy="387.46" rx="2.73" ry="0.92" transform="rotate(173.04 476.7 387.46)" fill="#d07090" opacity="0.95"/>
<ellipse cx="474.81" cy="374.66" rx="1.45" ry="0.91" transform="rotate(150.9 474.81 374.66)" fill="#9a90c8" opacity="0.62"/>
<ellipse cx="507.63" cy="386.21" rx="3.04" ry="1.08" transform="rotate(71.85 507.63 386.21)" fill="#9a90c8" opacity="0.81"/>
<ellipse cx="467.45" cy="390.87" rx="1.1" ry="1" transform="rotate(72.53 467.45 390.87)" fill="#d07090" opacity="0.84"/>
<ellipse cx="512.96" cy="401.48" rx="2.62" ry="1.08" transform="rotate(60.34 512.96 401.48)" fill="#8a80c0" opacity="0.89"/>
<ellipse cx="485.2" cy="395.5" rx="3.6" ry="4.5" fill="#b8303a" opacity="0.85"/>
<ellipse cx="487.6" cy="398.5" rx="2.2" ry="2.4" fill="#3a3a8a" opacity="0.85"/>
<ellipse cx="483.5" cy="392.5" rx="1.8" ry="1.8" fill="#504a9a" opacity="0.85"/>
<ellipse cx="490.5" cy="384.5" rx="4.5" ry="1.6" fill="#8a3a6a" opacity="0.85"/>
<ellipse cx="495.8" cy="382" rx="2.2" ry="1.4" fill="#5050a0" opacity="0.85"/>
<ellipse cx="501" cy="392.5" rx="1.8" ry="1.5" fill="#c05060" opacity="0.85"/>
<ellipse cx="459" cy="401" rx="1.8" ry="1.6" fill="#6a62b0" opacity="0.85"/>
<ellipse cx="458.5" cy="420" rx="2" ry="2.2" fill="#6a62b0" opacity="0.85"/>
<ellipse cx="506" cy="370.5" rx="2.5" ry="1.5" fill="#7a70b8" opacity="0.85"/>
</g>
<rect x="454.2" y="364.4" width="67.3" height="58.2" fill="none" stroke="#3a3a3a" stroke-width="1.1" />
<g clip-path="url(#clg4)">
<rect x="523" y="364.4" width="67" height="58.2" fill="#f6efe8" />
<path d="M516.87,427.6 Q543.68,383.49 595,390.91" stroke="#f0e0d0" stroke-width="3.49" fill="none" opacity="0.6"/>
<path d="M549.01,427.6 Q538.01,389.67 595,388.91" stroke="#f0e0d0" stroke-width="3.57" fill="none" opacity="0.6"/>
<path d="M560.24,427.6 Q577.09,385.53 595,359.43" stroke="#f0e0d0" stroke-width="4.27" fill="none" opacity="0.6"/>
<path d="M519.32,427.6 Q533.47,396.32 595,388.9" stroke="#f0e0d0" stroke-width="4.51" fill="none" opacity="0.6"/>
<path d="M560.67,427.6 Q543.08,376.85 595,363.63" stroke="#f0e0d0" stroke-width="4.93" fill="none" opacity="0.6"/>
<g filter="url(#bf1_20)">
<ellipse cx="554" cy="392" rx="4.5" ry="4" fill="#c08a55" opacity="0.8"/>
<ellipse cx="558" cy="386" rx="3.5" ry="3" fill="#c08a55" opacity="0.6"/>
<ellipse cx="565.5" cy="393" rx="2.2" ry="2.5" fill="#c08a55" opacity="0.6"/>
<ellipse cx="546" cy="400" rx="3" ry="2.5" fill="#c08a55" opacity="0.4"/>
<ellipse cx="575" cy="380" rx="3" ry="2" fill="#c08a55" opacity="0.35"/>
</g>
</g>
<rect x="523" y="364.4" width="67" height="58.2" fill="none" stroke="#3a3a3a" stroke-width="1.1" />
<g clip-path="url(#clg5)">
<rect x="591.8" y="364.4" width="66.8" height="58.2" fill="#fbfafb" />
<ellipse cx="622" cy="394.5" rx="3.4" ry="2.2" fill="#e060c8" opacity="0.85"/>
<ellipse cx="623.5" cy="398" rx="2.5" ry="1.8" fill="#e060c8" opacity="0.8"/>
<ellipse cx="630" cy="381" rx="3.2" ry="1.3" fill="#e060c8" opacity="0.8"/>
<ellipse cx="637.2" cy="393.5" rx="1.4" ry="1.3" fill="#e060c8" opacity="0.7"/>
<ellipse cx="644.5" cy="368" rx="1.8" ry="1.2" fill="#e060c8" opacity="0.7"/>
<ellipse cx="600" cy="397" rx="1" ry="0.8" fill="#e060c8" opacity="0.5"/>
</g>
<rect x="591.8" y="364.4" width="66.8" height="58.2" fill="none" stroke="#3a3a3a" stroke-width="1.1" />
<text x="548.8" y="378.3" font-size="11.5" textLength="37.4" lengthAdjust="spacingAndGlyphs" >HSPA5</text>
<text x="614.7" y="378.3" font-size="11.5" textLength="37" lengthAdjust="spacingAndGlyphs" >Casp-3</text>
<line x1="492.5" y1="420.3" x2="511.5" y2="420.3" stroke="#222" stroke-width="1.6" />
<text x="490.5" y="416.7" font-size="8.9" textLength="29.6" lengthAdjust="spacingAndGlyphs" >100 µm</text>
<line x1="561" y1="420.3" x2="580" y2="420.3" stroke="#222" stroke-width="1.6" />
<text x="559" y="416.7" font-size="8.9" textLength="29.6" lengthAdjust="spacingAndGlyphs" >100 µm</text>
<line x1="630.5" y1="420.3" x2="649.5" y2="420.3" stroke="#222" stroke-width="1.6" />
<text x="628.4" y="416.7" font-size="8.9" textLength="29.6" lengthAdjust="spacingAndGlyphs" >100 µm</text>
<line x1="609.4" y1="191.3" x2="609.4" y2="247.1" stroke="#1a1a1a" stroke-width="1.2" />
<line x1="606.4" y1="246.5" x2="609.4" y2="246.5" stroke="#1a1a1a" stroke-width="1.2" />
<text x="605" y="249.96" font-size="9.6" text-anchor="end" >0</text>
<line x1="606.4" y1="232.7" x2="609.4" y2="232.7" stroke="#1a1a1a" stroke-width="1.2" />
<text x="605" y="236.16" font-size="9.6" text-anchor="end" >1</text>
<line x1="606.4" y1="218.9" x2="609.4" y2="218.9" stroke="#1a1a1a" stroke-width="1.2" />
<text x="605" y="222.36" font-size="9.6" text-anchor="end" >2</text>
<line x1="606.4" y1="205.1" x2="609.4" y2="205.1" stroke="#1a1a1a" stroke-width="1.2" />
<text x="605" y="208.56" font-size="9.6" text-anchor="end" >3</text>
<line x1="606.4" y1="191.3" x2="609.4" y2="191.3" stroke="#1a1a1a" stroke-width="1.2" />
<text x="605" y="194.76" font-size="9.6" text-anchor="end" >4</text>
<line x1="607.6" y1="239.6" x2="609.4" y2="239.6" stroke="#1a1a1a" stroke-width="1.2" />
<line x1="607.6" y1="225.8" x2="609.4" y2="225.8" stroke="#1a1a1a" stroke-width="1.2" />
<line x1="607.6" y1="212" x2="609.4" y2="212" stroke="#1a1a1a" stroke-width="1.2" />
<line x1="607.6" y1="198.2" x2="609.4" y2="198.2" stroke="#1a1a1a" stroke-width="1.2" />
<line x1="608.8" y1="246.5" x2="646.5" y2="246.5" stroke="#1a1a1a" stroke-width="1.2" />
<rect x="615.25" y="224.42" width="11.5" height="22.08" fill="#8fbcf6" stroke="#111" stroke-width="1.4" />
<line x1="621" y1="246.5" x2="621" y2="249" stroke="#1a1a1a" stroke-width="1.2" />
<line x1="621" y1="224.42" x2="621" y2="222.07" stroke="#1a1a1a" stroke-width="1.2" />
<line x1="618" y1="222.07" x2="624" y2="222.07" stroke="#1a1a1a" stroke-width="1.2" />
<line x1="621" y1="224.42" x2="621" y2="226.77" stroke="#1a1a1a" stroke-width="1.2" />
<line x1="618" y1="226.77" x2="624" y2="226.77" stroke="#1a1a1a" stroke-width="1.2" />
<line x1="618" y1="224.42" x2="624" y2="224.42" stroke="#1a1a1a" stroke-width="1.2" />
<circle cx="621" cy="217.52" r="1.5" fill="#111" stroke="#fff" stroke-width="0.5" />
<circle cx="617.5" cy="219.59" r="1.5" fill="#111" stroke="#fff" stroke-width="0.5" />
<circle cx="624.5" cy="220.28" r="1.5" fill="#111" stroke="#fff" stroke-width="0.5" />
<circle cx="621" cy="225.11" r="1.5" fill="#111" stroke="#fff" stroke-width="0.5" />
<circle cx="621" cy="229.94" r="1.5" fill="#111" stroke="#fff" stroke-width="0.5" />
<circle cx="621" cy="233.39" r="1.5" fill="#111" stroke="#fff" stroke-width="0.5" />
<rect x="632.25" y="198.48" width="10.5" height="48.02" fill="#ff7878" stroke="#111" stroke-width="1.4" />
<line x1="637.5" y1="246.5" x2="637.5" y2="249" stroke="#1a1a1a" stroke-width="1.2" />
<line x1="637.5" y1="198.48" x2="637.5" y2="197.65" stroke="#1a1a1a" stroke-width="1.2" />
<line x1="634.5" y1="197.65" x2="640.5" y2="197.65" stroke="#1a1a1a" stroke-width="1.2" />
<line x1="637.5" y1="198.48" x2="637.5" y2="199.3" stroke="#1a1a1a" stroke-width="1.2" />
<line x1="634.5" y1="199.3" x2="640.5" y2="199.3" stroke="#1a1a1a" stroke-width="1.2" />
<line x1="634.5" y1="198.48" x2="640.5" y2="198.48" stroke="#1a1a1a" stroke-width="1.2" />
<circle cx="634" cy="196.13" r="1.5" fill="#111" stroke="#fff" stroke-width="0.5" />
<circle cx="637.5" cy="196.82" r="1.5" fill="#111" stroke="#fff" stroke-width="0.5" />
<circle cx="641" cy="197.51" r="1.5" fill="#111" stroke="#fff" stroke-width="0.5" />
<circle cx="636" cy="198.2" r="1.5" fill="#111" stroke="#fff" stroke-width="0.5" />
<circle cx="639.5" cy="198.89" r="1.5" fill="#111" stroke="#fff" stroke-width="0.5" />
<circle cx="637.5" cy="203.72" r="1.5" fill="#111" stroke="#fff" stroke-width="0.5" />
<polyline points="620.6,199.4 620.6,191.8 638.6,191.8 638.6,194.4" stroke="#1a1a1a" stroke-width="1.2" fill="none" />
<text x="612.3" y="177.1" font-size="10" textLength="31.9" lengthAdjust="spacingAndGlyphs" >HSPA5</text>
<text x="613.4" y="188.2" font-size="7.9" textLength="31.8" lengthAdjust="spacingAndGlyphs" ><tspan font-style="italic">p</tspan>=3.3E-6</text>
<text x="614" y="259.9" font-size="10" textLength="30.2" lengthAdjust="spacingAndGlyphs" >NS RS</text>
<text x="583.2" y="217.2" font-size="8.8" text-anchor="middle" textLength="67" lengthAdjust="spacingAndGlyphs" transform="rotate(-90 583.2 217.2)" >DAB/Hematoxylin</text>
<text x="594.8" y="217.2" font-size="8.8" text-anchor="middle" textLength="53.9" lengthAdjust="spacingAndGlyphs" transform="rotate(-90 594.8 217.2)" >intensity (ratio)</text>
<line x1="612.3" y1="290.1" x2="612.3" y2="345.7" stroke="#1a1a1a" stroke-width="1.2" />
<line x1="609.3" y1="345.1" x2="612.3" y2="345.1" stroke="#1a1a1a" stroke-width="1.2" />
<text x="607.9" y="348.41" font-size="9.2" text-anchor="end" >0.0</text>
<line x1="609.3" y1="331.35" x2="612.3" y2="331.35" stroke="#1a1a1a" stroke-width="1.2" />
<text x="607.9" y="334.66" font-size="9.2" text-anchor="end" >0.5</text>
<line x1="609.3" y1="317.6" x2="612.3" y2="317.6" stroke="#1a1a1a" stroke-width="1.2" />
<text x="607.9" y="320.91" font-size="9.2" text-anchor="end" >1.0</text>
<line x1="609.3" y1="303.85" x2="612.3" y2="303.85" stroke="#1a1a1a" stroke-width="1.2" />
<text x="607.9" y="307.16" font-size="9.2" text-anchor="end" >1.5</text>
<line x1="609.3" y1="290.1" x2="612.3" y2="290.1" stroke="#1a1a1a" stroke-width="1.2" />
<text x="607.9" y="293.41" font-size="9.2" text-anchor="end" >2.0</text>
<line x1="610.5" y1="338.23" x2="612.3" y2="338.23" stroke="#1a1a1a" stroke-width="1.2" />
<line x1="610.5" y1="324.48" x2="612.3" y2="324.48" stroke="#1a1a1a" stroke-width="1.2" />
<line x1="610.5" y1="310.73" x2="612.3" y2="310.73" stroke="#1a1a1a" stroke-width="1.2" />
<line x1="610.5" y1="296.98" x2="612.3" y2="296.98" stroke="#1a1a1a" stroke-width="1.2" />
<line x1="611.7" y1="345.1" x2="650.1" y2="345.1" stroke="#1a1a1a" stroke-width="1.2" />
<rect x="619.05" y="344.28" width="10.5" height="0.82" fill="#8fbcf6" stroke="#111" stroke-width="1.4" />
<line x1="624.3" y1="345.1" x2="624.3" y2="347.6" stroke="#1a1a1a" stroke-width="1.2" />
<line x1="624.3" y1="344.28" x2="624.3" y2="343.73" stroke="#1a1a1a" stroke-width="1.2" />
<line x1="621.3" y1="343.73" x2="627.3" y2="343.73" stroke="#1a1a1a" stroke-width="1.2" />
<line x1="624.3" y1="344.28" x2="624.3" y2="344.83" stroke="#1a1a1a" stroke-width="1.2" />
<line x1="621.3" y1="344.83" x2="627.3" y2="344.83" stroke="#1a1a1a" stroke-width="1.2" />
<line x1="621.3" y1="344.28" x2="627.3" y2="344.28" stroke="#1a1a1a" stroke-width="1.2" />
<circle cx="624.3" cy="342.35" r="1.5" fill="#111" stroke="#fff" stroke-width="0.5" />
<circle cx="621.3" cy="343.73" r="1.5" fill="#111" stroke="#fff" stroke-width="0.5" />
<circle cx="627.3" cy="344.28" r="1.5" fill="#111" stroke="#fff" stroke-width="0.5" />
<circle cx="622.8" cy="344.55" r="1.5" fill="#111" stroke="#fff" stroke-width="0.5" />
<circle cx="625.8" cy="344.83" r="1.5" fill="#111" stroke="#fff" stroke-width="0.5" />
<rect x="635.75" y="309.08" width="10.5" height="36.02" fill="#ff7878" stroke="#111" stroke-width="1.4" />
<line x1="641" y1="345.1" x2="641" y2="347.6" stroke="#1a1a1a" stroke-width="1.2" />
<line x1="641" y1="309.08" x2="641" y2="307.7" stroke="#1a1a1a" stroke-width="1.2" />
<line x1="638" y1="307.7" x2="644" y2="307.7" stroke="#1a1a1a" stroke-width="1.2" />
<line x1="641" y1="309.08" x2="641" y2="310.45" stroke="#1a1a1a" stroke-width="1.2" />
<line x1="638" y1="310.45" x2="644" y2="310.45" stroke="#1a1a1a" stroke-width="1.2" />
<line x1="638" y1="309.08" x2="644" y2="309.08" stroke="#1a1a1a" stroke-width="1.2" />
<circle cx="637.5" cy="303.85" r="1.5" fill="#111" stroke="#fff" stroke-width="0.5" />
<circle cx="641" cy="305.23" r="1.5" fill="#111" stroke="#fff" stroke-width="0.5" />
<circle cx="641" cy="309.35" r="1.5" fill="#111" stroke="#fff" stroke-width="0.5" />
<circle cx="644.5" cy="309.9" r="1.5" fill="#111" stroke="#fff" stroke-width="0.5" />
<circle cx="638" cy="310.73" r="1.5" fill="#111" stroke="#fff" stroke-width="0.5" />
<circle cx="644" cy="311.55" r="1.5" fill="#111" stroke="#fff" stroke-width="0.5" />
<polyline points="624.9,304.4 624.9,297.3 641,297.3 641,300" stroke="#1a1a1a" stroke-width="1.2" fill="none" />
<text x="614.7" y="279.9" font-size="10.5" textLength="33.9" lengthAdjust="spacingAndGlyphs" >Casp-3</text>
<text x="617" y="293" font-size="7.9" textLength="31.8" lengthAdjust="spacingAndGlyphs" ><tspan font-style="italic">p</tspan>=1.2E-6</text>
<text x="617.3" y="358" font-size="10" textLength="30.9" lengthAdjust="spacingAndGlyphs" >NS RS</text>
<text x="577" y="315.3" font-size="8.5" text-anchor="middle" textLength="78.4" lengthAdjust="spacingAndGlyphs" transform="rotate(-90 577 315.3)" >Fast red/Hematoxylin</text>
<text x="587.8" y="315.3" font-size="8.6" text-anchor="middle" textLength="55.4" lengthAdjust="spacingAndGlyphs" transform="rotate(-90 587.8 315.3)" >intensity (ratio)</text>
<text x="287.6" y="332.1" font-size="11.7" textLength="115.8" lengthAdjust="spacingAndGlyphs" >HHT treated-RS HPAs</text>
<line x1="317.3" y1="350.9" x2="317.3" y2="424.4" stroke="#1a1a1a" stroke-width="1.2" />
<line x1="313.8" y1="423.8" x2="317.3" y2="423.8" stroke="#1a1a1a" stroke-width="1.2" />
<text x="312.5" y="427.83" font-size="11.2" text-anchor="end" >0</text>
<line x1="313.8" y1="390.6" x2="317.3" y2="390.6" stroke="#1a1a1a" stroke-width="1.2" />
<text x="312.5" y="394.63" font-size="11.2" text-anchor="end" >50</text>
<line x1="313.8" y1="357.4" x2="317.3" y2="357.4" stroke="#1a1a1a" stroke-width="1.2" />
<text x="312.5" y="361.43" font-size="11.2" text-anchor="end" >100</text>
<line x1="315.1" y1="407.2" x2="317.3" y2="407.2" stroke="#1a1a1a" stroke-width="1.2" />
<line x1="315.1" y1="374" x2="317.3" y2="374" stroke="#1a1a1a" stroke-width="1.2" />
<line x1="316.7" y1="423.8" x2="372.8" y2="423.8" stroke="#1a1a1a" stroke-width="1.2" />
<rect x="325.4" y="409.19" width="15.2" height="14.61" fill="#8fbcf6" stroke="#111" stroke-width="1.4" />
<line x1="333" y1="423.8" x2="333" y2="426.8" stroke="#1a1a1a" stroke-width="1.2" />
<rect x="349.2" y="368.69" width="15.2" height="55.11" fill="#ff7878" stroke="#111" stroke-width="1.4" />
<line x1="356.8" y1="423.8" x2="356.8" y2="426.8" stroke="#1a1a1a" stroke-width="1.2" />
<line x1="333" y1="409.19" x2="333" y2="407.53" stroke="#1a1a1a" stroke-width="1.2" />
<line x1="329.5" y1="407.53" x2="336.5" y2="407.53" stroke="#1a1a1a" stroke-width="1.2" />
<line x1="333" y1="409.19" x2="333" y2="410.85" stroke="#1a1a1a" stroke-width="1.2" />
<line x1="329.5" y1="410.85" x2="336.5" y2="410.85" stroke="#1a1a1a" stroke-width="1.2" />
<line x1="329.5" y1="409.19" x2="336.5" y2="409.19" stroke="#1a1a1a" stroke-width="1.2" />
<line x1="356.8" y1="368.69" x2="356.8" y2="366.36" stroke="#1a1a1a" stroke-width="1.2" />
<line x1="353.3" y1="366.36" x2="360.3" y2="366.36" stroke="#1a1a1a" stroke-width="1.2" />
<line x1="356.8" y1="368.69" x2="356.8" y2="371.01" stroke="#1a1a1a" stroke-width="1.2" />
<line x1="353.3" y1="371.01" x2="360.3" y2="371.01" stroke="#1a1a1a" stroke-width="1.2" />
<line x1="353.3" y1="368.69" x2="360.3" y2="368.69" stroke="#1a1a1a" stroke-width="1.2" />
<circle cx="327.6" cy="406" r="1.9" fill="#111" stroke="#fff" stroke-width="0.5" />
<circle cx="333" cy="404.3" r="1.9" fill="#111" stroke="#fff" stroke-width="0.5" />
<circle cx="338.4" cy="406.5" r="1.9" fill="#111" stroke="#fff" stroke-width="0.5" />
<circle cx="327.6" cy="414.6" r="1.9" fill="#111" stroke="#fff" stroke-width="0.5" />
<circle cx="333" cy="418.9" r="1.9" fill="#111" stroke="#fff" stroke-width="0.5" />
<circle cx="338.4" cy="414.5" r="1.9" fill="#111" stroke="#fff" stroke-width="0.5" />
<circle cx="351.4" cy="362.5" r="1.9" fill="#111" stroke="#fff" stroke-width="0.5" />
<circle cx="356.8" cy="366" r="1.9" fill="#111" stroke="#fff" stroke-width="0.5" />
<circle cx="362.2" cy="365.6" r="1.9" fill="#111" stroke="#fff" stroke-width="0.5" />
<circle cx="351.4" cy="371.5" r="1.9" fill="#111" stroke="#fff" stroke-width="0.5" />
<circle cx="356.8" cy="373" r="1.9" fill="#111" stroke="#fff" stroke-width="0.5" />
<circle cx="362.2" cy="371.5" r="1.9" fill="#111" stroke="#fff" stroke-width="0.5" />
<circle cx="356.8" cy="381.2" r="1.9" fill="#111" stroke="#fff" stroke-width="0.5" />
<polyline points="333,363.5 333,356 356.5,356 356.5,359" stroke="#1a1a1a" stroke-width="1.2" fill="none" />
<text x="326.9" y="349.9" font-size="8.3" textLength="31.2" lengthAdjust="spacingAndGlyphs" ><tspan font-style="italic">p</tspan>=4.4E-7</text>
<text x="323.8" y="435.7" font-size="10.6" textLength="42.9" lengthAdjust="spacingAndGlyphs" >Low High</text>
<text x="313.6" y="449" font-size="10.6" textLength="62.3" lengthAdjust="spacingAndGlyphs" >HSPA5 levels</text>
<text x="285.8" y="384.9" font-size="10.7" text-anchor="middle" textLength="74.2" lengthAdjust="spacingAndGlyphs" transform="rotate(-90 285.8 384.9)" >Casp-3-positive</text>
<text x="297.3" y="387.2" font-size="10.2" text-anchor="middle" textLength="35.7" lengthAdjust="spacingAndGlyphs" transform="rotate(-90 297.3 387.2)" >cells (%)</text>
<text x="273.6" y="480.5" font-size="11.6" textLength="118.3" lengthAdjust="spacingAndGlyphs" >Passage Low Mid High</text>
<text x="395" y="481.5" font-size="10.5" textLength="19" lengthAdjust="spacingAndGlyphs" >kDa</text>
<line x1="395" y1="486.3" x2="414" y2="486.3" stroke="#1a1a1a" stroke-width="0.9" />
<g clip-path="url(#clb10)">
<rect x="316.7" y="484.2" width="77.5" height="18.4" fill="#f3f3f3" />
<rect x="316.7" y="496.6" width="77.5" height="6" fill="#d8d8d8" opacity="0.5" filter="url(#bf2_00)"/>
<g filter="url(#bf0_70)">
<rect x="322.6" y="492" width="20" height="2.8" rx="1.4" fill="#000" opacity="0.6"/>
<rect x="345.5" y="491.8" width="19" height="3.2" rx="1.6" fill="#000" opacity="0.75"/>
<rect x="367.05" y="490.65" width="22.5" height="5.5" rx="2.75" fill="#000" opacity="1"/>
</g></g>
<rect x="316.7" y="484.2" width="77.5" height="18.4" fill="none" stroke="#2a2a2a" stroke-width="1" />
<text x="311.5" y="499.4" font-size="11.6" text-anchor="end" >HSPA5</text>
<line x1="394.5" y1="492.4" x2="397" y2="492.4" stroke="#1a1a1a" stroke-width="0.9" />
<text x="397.2" y="496" font-size="10.5" >78</text>
<g clip-path="url(#clb11)">
<rect x="316.7" y="504.7" width="77.5" height="18.3" fill="#d6d6d6" />
<rect x="341.3" y="504.7" width="5" height="18.3" fill="#f4f4f4" opacity="0.8" filter="url(#bf1_50)"/>
<rect x="364.1" y="504.7" width="5" height="18.3" fill="#f4f4f4" opacity="0.8" filter="url(#bf1_50)"/>
<g filter="url(#bf0_70)">
<rect x="323.1" y="512.45" width="19" height="2.8" rx="1.4" fill="#000" opacity="0.6"/>
<rect x="345.5" y="512.15" width="19" height="3.4" rx="1.7" fill="#000" opacity="0.85"/>
<rect x="368.8" y="512.15" width="19" height="3.4" rx="1.7" fill="#000" opacity="0.9"/>
</g></g>
<rect x="316.7" y="504.7" width="77.5" height="18.3" fill="none" stroke="#2a2a2a" stroke-width="1" />
<text x="311.5" y="519.9" font-size="11.6" text-anchor="end" >p53</text>
<line x1="394.5" y1="514.2" x2="397" y2="514.2" stroke="#1a1a1a" stroke-width="0.9" />
<text x="397.2" y="517.8" font-size="10.5" >53</text>
<g clip-path="url(#clb12)">
<rect x="316.7" y="526.2" width="77.5" height="18.4" fill="#f1f1f1" />
<g filter="url(#bf0_70)">
<rect x="324.1" y="534.2" width="17" height="2.4" rx="1.2" fill="#000" opacity="0.4"/>
<rect x="347.5" y="533.9" width="15" height="3" rx="1.5" fill="#000" opacity="0.85"/>
<rect x="368.8" y="533.4" width="19" height="4" rx="2" fill="#000" opacity="1"/>
</g></g>
<rect x="316.7" y="526.2" width="77.5" height="18.4" fill="none" stroke="#2a2a2a" stroke-width="1" />
<text x="311.5" y="540.9" font-size="11.6" text-anchor="end" >p21</text>
<line x1="394.5" y1="535.2" x2="397" y2="535.2" stroke="#1a1a1a" stroke-width="0.9" />
<text x="397.2" y="538.8" font-size="10.5" >21</text>
<g clip-path="url(#clb13)">
<rect x="316.7" y="547.2" width="77.5" height="18.4" fill="#efefef" />
<g filter="url(#bf0_70)">
<rect x="323.6" y="554.9" width="18" height="3" rx="1.5" fill="#000" opacity="0.15"/>
<rect x="346" y="554.65" width="18" height="3.5" rx="1.75" fill="#000" opacity="0.35"/>
<rect x="368.8" y="554.15" width="19" height="4.5" rx="2.25" fill="#000" opacity="0.85"/>
</g></g>
<rect x="316.7" y="547.2" width="77.5" height="18.4" fill="none" stroke="#2a2a2a" stroke-width="1" />
<text x="311.5" y="562" font-size="11.6" text-anchor="end" >p16</text>
<line x1="394.5" y1="557.6" x2="397" y2="557.6" stroke="#1a1a1a" stroke-width="0.9" />
<text x="397.2" y="561.2" font-size="10.5" >16</text>
<g clip-path="url(#clb14)">
<rect x="316.7" y="568.2" width="77.5" height="19.2" fill="#f0f0f0" />
<g filter="url(#bf0_70)">
<rect x="321.6" y="574.8" width="22" height="6" rx="3" fill="#000" opacity="1"/>
<rect x="345.5" y="575.3" width="19" height="5" rx="2.5" fill="#000" opacity="1"/>
<rect x="368.8" y="575.3" width="19" height="5" rx="2.5" fill="#000" opacity="1"/>
</g></g>
<rect x="316.7" y="568.2" width="77.5" height="19.2" fill="none" stroke="#2a2a2a" stroke-width="1" />
<text x="311.5" y="583" font-size="11.6" text-anchor="end" >GAPDH</text>
<line x1="394.5" y1="577.3" x2="397" y2="577.3" stroke="#1a1a1a" stroke-width="0.9" />
<text x="397.2" y="580.9" font-size="10.5" >37</text>
<line x1="505.7" y1="476.6" x2="505.7" y2="575.4" stroke="#1a1a1a" stroke-width="1.2" />
<line x1="502.1" y1="574.8" x2="505.7" y2="574.8" stroke="#1a1a1a" stroke-width="1.2" />
<text x="500.7" y="578.94" font-size="11.5" text-anchor="end" >0</text>
<line x1="502.1" y1="535.5" x2="505.7" y2="535.5" stroke="#1a1a1a" stroke-width="1.2" />
<text x="500.7" y="539.64" font-size="11.5" text-anchor="end" >50</text>
<line x1="502.1" y1="496.2" x2="505.7" y2="496.2" stroke="#1a1a1a" stroke-width="1.2" />
<text x="500.7" y="500.34" font-size="11.5" text-anchor="end" >100</text>
<line x1="503.5" y1="566.94" x2="505.7" y2="566.94" stroke="#1a1a1a" stroke-width="1.2" />
<line x1="503.5" y1="559.08" x2="505.7" y2="559.08" stroke="#1a1a1a" stroke-width="1.2" />
<line x1="503.5" y1="551.22" x2="505.7" y2="551.22" stroke="#1a1a1a" stroke-width="1.2" />
<line x1="503.5" y1="543.36" x2="505.7" y2="543.36" stroke="#1a1a1a" stroke-width="1.2" />
<line x1="503.5" y1="527.64" x2="505.7" y2="527.64" stroke="#1a1a1a" stroke-width="1.2" />
<line x1="503.5" y1="519.78" x2="505.7" y2="519.78" stroke="#1a1a1a" stroke-width="1.2" />
<line x1="503.5" y1="511.92" x2="505.7" y2="511.92" stroke="#1a1a1a" stroke-width="1.2" />
<line x1="503.5" y1="504.06" x2="505.7" y2="504.06" stroke="#1a1a1a" stroke-width="1.2" />
<line x1="503.5" y1="488.34" x2="505.7" y2="488.34" stroke="#1a1a1a" stroke-width="1.2" />
<line x1="503.5" y1="480.48" x2="505.7" y2="480.48" stroke="#1a1a1a" stroke-width="1.2" />
<line x1="505.1" y1="574.8" x2="652.9" y2="574.8" stroke="#1a1a1a" stroke-width="1.2" />
<line x1="505.7" y1="574.8" x2="505.7" y2="578.4" stroke="#1a1a1a" stroke-width="1.2" />
<text x="505.7" y="590.2" font-size="11.5" text-anchor="middle" >0</text>
<line x1="542.5" y1="574.8" x2="542.5" y2="578.4" stroke="#1a1a1a" stroke-width="1.2" />
<text x="542.5" y="590.2" font-size="11.5" text-anchor="middle" >0.01</text>
<line x1="579.3" y1="574.8" x2="579.3" y2="578.4" stroke="#1a1a1a" stroke-width="1.2" />
<text x="579.3" y="590.2" font-size="11.5" text-anchor="middle" >0.1</text>
<line x1="616.1" y1="574.8" x2="616.1" y2="578.4" stroke="#1a1a1a" stroke-width="1.2" />
<text x="616.1" y="590.2" font-size="11.5" text-anchor="middle" >1</text>
<line x1="652.9" y1="574.8" x2="652.9" y2="578.4" stroke="#1a1a1a" stroke-width="1.2" />
<text x="652.9" y="590.2" font-size="11.5" text-anchor="middle" >10</text>
<text x="557.3" y="604.5" font-size="11.6" textLength="50.8" lengthAdjust="spacingAndGlyphs" >HHT (µM)</text>
<text x="477.4" y="523.2" font-size="11.2" text-anchor="middle" textLength="80.7" lengthAdjust="spacingAndGlyphs" transform="rotate(-90 477.4 523.2)" >Cell number (%)</text>
<polyline points="505.7,494.81 506.62,494.83 507.54,494.84 508.46,494.86 509.38,494.89 510.3,494.91 511.22,494.93 512.14,494.96 513.06,494.99 513.98,495.02 514.9,495.06 515.82,495.1 516.74,495.14 517.66,495.19 518.58,495.24 519.5,495.29 520.42,495.35 521.34,495.41 522.26,495.48 523.18,495.56 524.1,495.64 525.02,495.73 525.94,495.83 526.86,495.94 527.78,496.05 528.7,496.18 529.62,496.32 530.54,496.47 531.46,496.63 532.38,496.8 533.3,496.99 534.22,497.2 535.14,497.42 536.06,497.66 536.98,497.92 537.9,498.21 538.82,498.51 539.74,498.84 540.66,499.2 541.58,499.59 542.5,500 543.42,500.45 544.34,500.93 545.26,501.44 546.18,502 547.1,502.59 548.02,503.23 548.94,503.91 549.86,504.63 550.78,505.4 551.7,506.22 552.62,507.1 553.54,508.02 554.46,508.99 555.38,510.02 556.3,511.1 557.22,512.24 558.14,513.43 559.06,514.67 559.98,515.96 560.9,517.3 561.82,518.68 562.74,520.11 563.66,521.58 564.58,523.09 565.5,524.62 566.42,526.18 567.34,527.77 568.26,529.36 569.18,530.97 570.1,532.58 571.02,534.19 571.94,535.79 572.86,537.38 573.78,538.95 574.7,540.49 575.62,542 576.54,543.48 577.46,544.92 578.38,546.31 579.3,547.66 580.22,548.97 581.14,550.22 582.06,551.42 582.98,552.57 583.9,553.66 584.82,554.7 585.74,555.69 586.66,556.62 587.58,557.51 588.5,558.34 589.42,559.12 590.34,559.86 591.26,560.55 592.18,561.19 593.1,561.8 594.02,562.36 594.94,562.88 595.86,563.37 596.78,563.83 597.7,564.25 598.62,564.64 599.54,565 600.46,565.34 601.38,565.65 602.3,565.94 603.22,566.21 604.14,566.45 605.06,566.68 605.98,566.89 606.9,567.08 607.82,567.26 608.74,567.42 609.66,567.58 610.58,567.72 611.5,567.84 612.42,567.96 613.34,568.07 614.26,568.17 615.18,568.26 616.1,568.35" stroke="#f03a3a" stroke-width="1.4" fill="none" />
<polyline points="505.7,496.22 506.62,496.23 507.54,496.23 508.46,496.23 509.38,496.24 510.3,496.24 511.22,496.24 512.14,496.25 513.06,496.25 513.98,496.26 514.9,496.26 515.82,496.27 516.74,496.28 517.66,496.29 518.58,496.29 519.5,496.3 520.42,496.31 521.34,496.32 522.26,496.34 523.18,496.35 524.1,496.37 525.02,496.38 525.94,496.4 526.86,496.42 527.78,496.44 528.7,496.47 529.62,496.49 530.54,496.52 531.46,496.55 532.38,496.59 533.3,496.63 534.22,496.67 535.14,496.71 536.06,496.77 536.98,496.82 537.9,496.88 538.82,496.95 539.74,497.02 540.66,497.1 541.58,497.19 542.5,497.29 543.42,497.4 544.34,497.52 545.26,497.64 546.18,497.78 547.1,497.94 548.02,498.11 548.94,498.29 549.86,498.49 550.78,498.71 551.7,498.95 552.62,499.22 553.54,499.5 554.46,499.82 555.38,500.16 556.3,500.53 557.22,500.93 558.14,501.37 559.06,501.84 559.98,502.36 560.9,502.91 561.82,503.51 562.74,504.16 563.66,504.86 564.58,505.6 565.5,506.41 566.42,507.27 567.34,508.19 568.26,509.16 569.18,510.2 570.1,511.3 571.02,512.47 571.94,513.69 572.86,514.97 573.78,516.32 574.7,517.72 575.62,519.18 576.54,520.68 577.46,522.23 578.38,523.83 579.3,525.45 580.22,527.11 581.14,528.78 582.06,530.48 582.98,532.17 583.9,533.87 584.82,535.56 585.74,537.23 586.66,538.88 587.58,540.5 588.5,542.08 589.42,543.62 590.34,545.11 591.26,546.56 592.18,547.94 593.1,549.27 594.02,550.54 594.94,551.75 595.86,552.9 596.78,553.99 597.7,555.01 598.62,555.97 599.54,556.88 600.46,557.72 601.38,558.51 602.3,559.25 603.22,559.93 604.14,560.57 605.06,561.16 605.98,561.7 606.9,562.21 607.82,562.67 608.74,563.1 609.66,563.49 610.58,563.86 611.5,564.19 612.42,564.5 613.34,564.78 614.26,565.03 615.18,565.27 616.1,565.48" stroke="#2020f0" stroke-width="1.4" fill="none" />
<polyline points="505.7,496.2 506.62,496.2 507.54,496.2 508.46,496.2 509.38,496.2 510.3,496.2 511.22,496.2 512.14,496.2 513.06,496.2 513.98,496.2 514.9,496.2 515.82,496.2 516.74,496.2 517.66,496.2 518.58,496.2 519.5,496.2 520.42,496.2 521.34,496.2 522.26,496.2 523.18,496.2 524.1,496.2 525.02,496.2 525.94,496.2 526.86,496.2 527.78,496.2 528.7,496.2 529.62,496.2 530.54,496.2 531.46,496.2 532.38,496.2 533.3,496.2 534.22,496.2 535.14,496.2 536.06,496.2 536.98,496.2 537.9,496.2 538.82,496.2 539.74,496.2 540.66,496.2 541.58,496.2 542.5,496.2 543.42,496.2 544.34,496.2 545.26,496.2 546.18,496.2 547.1,496.2 548.02,496.2 548.94,496.2 549.86,496.2 550.78,496.2 551.7,496.2 552.62,496.2 553.54,496.2 554.46,496.2 555.38,496.2 556.3,496.2 557.22,496.2 558.14,496.2 559.06,496.2 559.98,496.2 560.9,496.2 561.82,496.2 562.74,496.2 563.66,496.2 564.58,496.2 565.5,496.2 566.42,496.2 567.34,496.2 568.26,496.2 569.18,496.2 570.1,496.21 571.02,496.21 571.94,496.21 572.86,496.21 573.78,496.22 574.7,496.22 575.62,496.23 576.54,496.24 577.46,496.26 578.38,496.28 579.3,496.3 580.22,496.34 581.14,496.38 582.06,496.44 582.98,496.52 583.9,496.63 584.82,496.77 585.74,496.96 586.66,497.21 587.58,497.53 588.5,497.97 589.42,498.54 590.34,499.29 591.26,500.26 592.18,501.51 593.1,503.1 594.02,505.12 594.94,507.61 595.86,510.64 596.78,514.23 597.7,518.36 598.62,522.95 599.54,527.88 600.46,532.95 601.38,537.97 602.3,542.74 603.22,547.09 604.14,550.93 605.06,554.22 605.98,556.95 606.9,559.17 607.82,560.95 608.74,562.35 609.66,563.44 610.58,564.29 611.5,564.93 612.42,565.42 613.34,565.8 614.26,566.08 615.18,566.29 616.1,566.45" stroke="#111111" stroke-width="1.4" fill="none" />
<line x1="505.7" y1="490.7" x2="505.7" y2="500.13" stroke="#f03a3a" stroke-width="1" />
<line x1="503.5" y1="490.7" x2="507.9" y2="490.7" stroke="#f03a3a" stroke-width="1" />
<line x1="503.5" y1="500.13" x2="507.9" y2="500.13" stroke="#f03a3a" stroke-width="1" />
<path d="M505.7,492.91 L507.9,495.41 L505.7,497.91 L503.5,495.41 Z" fill="#f03a3a"/>
<line x1="542.5" y1="498.56" x2="542.5" y2="503.27" stroke="#f03a3a" stroke-width="1" />
<line x1="540.3" y1="498.56" x2="544.7" y2="498.56" stroke="#f03a3a" stroke-width="1" />
<line x1="540.3" y1="503.27" x2="544.7" y2="503.27" stroke="#f03a3a" stroke-width="1" />
<path d="M542.5,498.42 L544.7,500.92 L542.5,503.42 L540.3,500.92 Z" fill="#f03a3a"/>
<line x1="568.22" y1="531.57" x2="568.22" y2="537.86" stroke="#f03a3a" stroke-width="1" />
<line x1="566.02" y1="531.57" x2="570.42" y2="531.57" stroke="#f03a3a" stroke-width="1" />
<line x1="566.02" y1="537.86" x2="570.42" y2="537.86" stroke="#f03a3a" stroke-width="1" />
<path d="M568.22,532.21 L570.42,534.71 L568.22,537.21 L566.02,534.71 Z" fill="#f03a3a"/>
<line x1="579.3" y1="544.15" x2="579.3" y2="548.86" stroke="#f03a3a" stroke-width="1" />
<line x1="577.1" y1="544.15" x2="581.5" y2="544.15" stroke="#f03a3a" stroke-width="1" />
<line x1="577.1" y1="548.86" x2="581.5" y2="548.86" stroke="#f03a3a" stroke-width="1" />
<path d="M579.3,544 L581.5,546.5 L579.3,549 L577.1,546.5 Z" fill="#f03a3a"/>
<line x1="590.38" y1="548.08" x2="590.38" y2="552.79" stroke="#f03a3a" stroke-width="1" />
<line x1="588.18" y1="548.08" x2="592.58" y2="548.08" stroke="#f03a3a" stroke-width="1" />
<line x1="588.18" y1="552.79" x2="592.58" y2="552.79" stroke="#f03a3a" stroke-width="1" />
<path d="M590.38,547.93 L592.58,550.43 L590.38,552.93 L588.18,550.43 Z" fill="#f03a3a"/>
<line x1="596.86" y1="558.29" x2="596.86" y2="563.01" stroke="#f03a3a" stroke-width="1" />
<line x1="594.66" y1="558.29" x2="599.06" y2="558.29" stroke="#f03a3a" stroke-width="1" />
<line x1="594.66" y1="563.01" x2="599.06" y2="563.01" stroke="#f03a3a" stroke-width="1" />
<path d="M596.86,558.15 L599.06,560.65 L596.86,563.15 L594.66,560.65 Z" fill="#f03a3a"/>
<line x1="605.02" y1="564.58" x2="605.02" y2="569.3" stroke="#f03a3a" stroke-width="1" />
<line x1="602.82" y1="564.58" x2="607.22" y2="564.58" stroke="#f03a3a" stroke-width="1" />
<line x1="602.82" y1="569.3" x2="607.22" y2="569.3" stroke="#f03a3a" stroke-width="1" />
<path d="M605.02,564.44 L607.22,566.94 L605.02,569.44 L602.82,566.94 Z" fill="#f03a3a"/>
<line x1="607.94" y1="566.15" x2="607.94" y2="570.87" stroke="#f03a3a" stroke-width="1" />
<line x1="605.74" y1="566.15" x2="610.14" y2="566.15" stroke="#f03a3a" stroke-width="1" />
<line x1="605.74" y1="570.87" x2="610.14" y2="570.87" stroke="#f03a3a" stroke-width="1" />
<path d="M607.94,566.01 L610.14,568.51 L607.94,571.01 L605.74,568.51 Z" fill="#f03a3a"/>
<line x1="612.53" y1="566.15" x2="612.53" y2="570.87" stroke="#f03a3a" stroke-width="1" />
<line x1="610.33" y1="566.15" x2="614.73" y2="566.15" stroke="#f03a3a" stroke-width="1" />
<line x1="610.33" y1="570.87" x2="614.73" y2="570.87" stroke="#f03a3a" stroke-width="1" />
<path d="M612.53,566.01 L614.73,568.51 L612.53,571.01 L610.33,568.51 Z" fill="#f03a3a"/>
<line x1="616.1" y1="565.37" x2="616.1" y2="568.51" stroke="#f03a3a" stroke-width="1" />
<line x1="613.9" y1="565.37" x2="618.3" y2="565.37" stroke="#f03a3a" stroke-width="1" />
<line x1="613.9" y1="568.51" x2="618.3" y2="568.51" stroke="#f03a3a" stroke-width="1" />
<path d="M616.1,564.44 L618.3,566.94 L616.1,569.44 L613.9,566.94 Z" fill="#f03a3a"/>
<line x1="505.7" y1="493.06" x2="505.7" y2="499.34" stroke="#2020f0" stroke-width="1" />
<line x1="503.5" y1="493.06" x2="507.9" y2="493.06" stroke="#2020f0" stroke-width="1" />
<line x1="503.5" y1="499.34" x2="507.9" y2="499.34" stroke="#2020f0" stroke-width="1" />
<path d="M505.7,493.6 L508.2,498 L503.2,498 Z" fill="#2020f0"/>
<line x1="542.5" y1="496.2" x2="542.5" y2="500.92" stroke="#2020f0" stroke-width="1" />
<line x1="540.3" y1="496.2" x2="544.7" y2="496.2" stroke="#2020f0" stroke-width="1" />
<line x1="540.3" y1="500.92" x2="544.7" y2="500.92" stroke="#2020f0" stroke-width="1" />
<path d="M542.5,495.96 L545,500.36 L540,500.36 Z" fill="#2020f0"/>
<line x1="568.22" y1="515.06" x2="568.22" y2="522.92" stroke="#2020f0" stroke-width="1" />
<line x1="566.02" y1="515.06" x2="570.42" y2="515.06" stroke="#2020f0" stroke-width="1" />
<line x1="566.02" y1="522.92" x2="570.42" y2="522.92" stroke="#2020f0" stroke-width="1" />
<path d="M568.22,516.39 L570.72,520.79 L565.72,520.79 Z" fill="#2020f0"/>
<line x1="579.3" y1="524.5" x2="579.3" y2="532.36" stroke="#2020f0" stroke-width="1" />
<line x1="577.1" y1="524.5" x2="581.5" y2="524.5" stroke="#2020f0" stroke-width="1" />
<line x1="577.1" y1="532.36" x2="581.5" y2="532.36" stroke="#2020f0" stroke-width="1" />
<path d="M579.3,525.83 L581.8,530.23 L576.8,530.23 Z" fill="#2020f0"/>
<line x1="590.38" y1="541" x2="590.38" y2="548.86" stroke="#2020f0" stroke-width="1" />
<line x1="588.18" y1="541" x2="592.58" y2="541" stroke="#2020f0" stroke-width="1" />
<line x1="588.18" y1="548.86" x2="592.58" y2="548.86" stroke="#2020f0" stroke-width="1" />
<path d="M590.38,542.33 L592.88,546.73 L587.88,546.73 Z" fill="#2020f0"/>
<line x1="596.86" y1="551.22" x2="596.86" y2="557.51" stroke="#2020f0" stroke-width="1" />
<line x1="594.66" y1="551.22" x2="599.06" y2="551.22" stroke="#2020f0" stroke-width="1" />
<line x1="594.66" y1="557.51" x2="599.06" y2="557.51" stroke="#2020f0" stroke-width="1" />
<path d="M596.86,551.76 L599.36,556.16 L594.36,556.16 Z" fill="#2020f0"/>
<line x1="601.46" y1="561.44" x2="601.46" y2="566.15" stroke="#2020f0" stroke-width="1" />
<line x1="599.26" y1="561.44" x2="603.66" y2="561.44" stroke="#2020f0" stroke-width="1" />
<line x1="599.26" y1="566.15" x2="603.66" y2="566.15" stroke="#2020f0" stroke-width="1" />
<path d="M601.46,561.2 L603.96,565.6 L598.96,565.6 Z" fill="#2020f0"/>
<line x1="605.02" y1="563.01" x2="605.02" y2="567.73" stroke="#2020f0" stroke-width="1" />
<line x1="602.82" y1="563.01" x2="607.22" y2="563.01" stroke="#2020f0" stroke-width="1" />
<line x1="602.82" y1="567.73" x2="607.22" y2="567.73" stroke="#2020f0" stroke-width="1" />
<path d="M605.02,562.77 L607.52,567.17 L602.52,567.17 Z" fill="#2020f0"/>
<line x1="607.94" y1="563.8" x2="607.94" y2="568.51" stroke="#2020f0" stroke-width="1" />
<line x1="605.74" y1="563.8" x2="610.14" y2="563.8" stroke="#2020f0" stroke-width="1" />
<line x1="605.74" y1="568.51" x2="610.14" y2="568.51" stroke="#2020f0" stroke-width="1" />
<path d="M607.94,563.55 L610.44,567.95 L605.44,567.95 Z" fill="#2020f0"/>
<line x1="612.53" y1="563.8" x2="612.53" y2="568.51" stroke="#2020f0" stroke-width="1" />
<line x1="610.33" y1="563.8" x2="614.73" y2="563.8" stroke="#2020f0" stroke-width="1" />
<line x1="610.33" y1="568.51" x2="614.73" y2="568.51" stroke="#2020f0" stroke-width="1" />
<path d="M612.53,563.55 L615.03,567.95 L610.03,567.95 Z" fill="#2020f0"/>
<line x1="616.1" y1="563.01" x2="616.1" y2="567.73" stroke="#2020f0" stroke-width="1" />
<line x1="613.9" y1="563.01" x2="618.3" y2="563.01" stroke="#2020f0" stroke-width="1" />
<line x1="613.9" y1="567.73" x2="618.3" y2="567.73" stroke="#2020f0" stroke-width="1" />
<path d="M616.1,562.77 L618.6,567.17 L613.6,567.17 Z" fill="#2020f0"/>
<line x1="505.7" y1="487.55" x2="505.7" y2="504.85" stroke="#111111" stroke-width="1" />
<line x1="503.5" y1="487.55" x2="507.9" y2="487.55" stroke="#111111" stroke-width="1" />
<line x1="503.5" y1="504.85" x2="507.9" y2="504.85" stroke="#111111" stroke-width="1" />
<circle cx="505.7" cy="496.2" r="2.2" fill="#111111" />
<line x1="542.5" y1="486.77" x2="542.5" y2="505.63" stroke="#111111" stroke-width="1" />
<line x1="540.3" y1="486.77" x2="544.7" y2="486.77" stroke="#111111" stroke-width="1" />
<line x1="540.3" y1="505.63" x2="544.7" y2="505.63" stroke="#111111" stroke-width="1" />
<circle cx="542.5" cy="496.2" r="2.2" fill="#111111" />
<line x1="568.22" y1="494.63" x2="568.22" y2="497.77" stroke="#111111" stroke-width="1" />
<line x1="566.02" y1="494.63" x2="570.42" y2="494.63" stroke="#111111" stroke-width="1" />
<line x1="566.02" y1="497.77" x2="570.42" y2="497.77" stroke="#111111" stroke-width="1" />
<circle cx="568.22" cy="496.2" r="2.2" fill="#111111" />
<line x1="579.3" y1="493.45" x2="579.3" y2="501.31" stroke="#111111" stroke-width="1" />
<line x1="577.1" y1="493.45" x2="581.5" y2="493.45" stroke="#111111" stroke-width="1" />
<line x1="577.1" y1="501.31" x2="581.5" y2="501.31" stroke="#111111" stroke-width="1" />
<circle cx="579.3" cy="497.38" r="2.2" fill="#111111" />
<line x1="590.38" y1="498.95" x2="590.38" y2="503.67" stroke="#111111" stroke-width="1" />
<line x1="588.18" y1="498.95" x2="592.58" y2="498.95" stroke="#111111" stroke-width="1" />
<line x1="588.18" y1="503.67" x2="592.58" y2="503.67" stroke="#111111" stroke-width="1" />
<circle cx="590.38" cy="501.31" r="2.2" fill="#111111" />
<line x1="596.86" y1="526.07" x2="596.86" y2="529.21" stroke="#111111" stroke-width="1" />
<line x1="594.66" y1="526.07" x2="599.06" y2="526.07" stroke="#111111" stroke-width="1" />
<line x1="594.66" y1="529.21" x2="599.06" y2="529.21" stroke="#111111" stroke-width="1" />
<circle cx="596.86" cy="527.64" r="2.2" fill="#111111" />
<line x1="601.46" y1="541.79" x2="601.46" y2="544.93" stroke="#111111" stroke-width="1" />
<line x1="599.26" y1="541.79" x2="603.66" y2="541.79" stroke="#111111" stroke-width="1" />
<line x1="599.26" y1="544.93" x2="603.66" y2="544.93" stroke="#111111" stroke-width="1" />
<circle cx="601.46" cy="543.36" r="2.2" fill="#111111" />
<line x1="605.02" y1="550.43" x2="605.02" y2="555.15" stroke="#111111" stroke-width="1" />
<line x1="602.82" y1="550.43" x2="607.22" y2="550.43" stroke="#111111" stroke-width="1" />
<line x1="602.82" y1="555.15" x2="607.22" y2="555.15" stroke="#111111" stroke-width="1" />
<circle cx="605.02" cy="552.79" r="2.2" fill="#111111" />
<line x1="607.94" y1="559.08" x2="607.94" y2="562.22" stroke="#111111" stroke-width="1" />
<line x1="605.74" y1="559.08" x2="610.14" y2="559.08" stroke="#111111" stroke-width="1" />
<line x1="605.74" y1="562.22" x2="610.14" y2="562.22" stroke="#111111" stroke-width="1" />
<circle cx="607.94" cy="560.65" r="2.2" fill="#111111" />
<line x1="612.53" y1="565.37" x2="612.53" y2="568.51" stroke="#111111" stroke-width="1" />
<line x1="610.33" y1="565.37" x2="614.73" y2="565.37" stroke="#111111" stroke-width="1" />
<line x1="610.33" y1="568.51" x2="614.73" y2="568.51" stroke="#111111" stroke-width="1" />
<circle cx="612.53" cy="566.94" r="2.2" fill="#111111" />
<line x1="616.1" y1="565.37" x2="616.1" y2="568.51" stroke="#111111" stroke-width="1" />
<line x1="613.9" y1="565.37" x2="618.3" y2="565.37" stroke="#111111" stroke-width="1" />
<line x1="613.9" y1="568.51" x2="618.3" y2="568.51" stroke="#111111" stroke-width="1" />
<circle cx="616.1" cy="566.94" r="2.2" fill="#111111" />
<text x="608.1" y="488.3" font-size="11.7" textLength="45.8" lengthAdjust="spacingAndGlyphs" >Passage</text>
<line x1="609.5" y1="499" x2="620" y2="499" stroke="#111111" stroke-width="1.3" />
<circle cx="614.5" cy="499" r="2.2" fill="#111111" />
<text x="627.8" y="502.6" font-size="10.2" >Low</text>
<line x1="609.5" y1="512.2" x2="620" y2="512.2" stroke="#2020f0" stroke-width="1.3" />
<path d="M614.5,509.6 L617,514 L612,514 Z" fill="#2020f0"/>
<text x="627.8" y="515.8" font-size="10.2" >Mid</text>
<line x1="609.5" y1="525.1" x2="620" y2="525.1" stroke="#f03a3a" stroke-width="1.3" />
<path d="M614.5,522.6 L616.7,525.1 L614.5,527.6 L612.3,525.1 Z" fill="#f03a3a"/>
<text x="627.8" y="528.7" font-size="10.2" >High</text>
<line x1="29.8" y1="652.5" x2="29.8" y2="774.2" stroke="#1a1a1a" stroke-width="1.3" />
<line x1="26.3" y1="773.6" x2="29.8" y2="773.6" stroke="#1a1a1a" stroke-width="1.3" />
<text x="25.3" y="777.6" font-size="11.2" text-anchor="end" >-1</text>
<line x1="26.3" y1="756.3" x2="29.8" y2="756.3" stroke="#1a1a1a" stroke-width="1.3" />
<text x="25.3" y="760.3" font-size="11.2" text-anchor="end" >0</text>
<line x1="26.3" y1="739" x2="29.8" y2="739" stroke="#1a1a1a" stroke-width="1.3" />
<text x="25.3" y="743" font-size="11.2" text-anchor="end" >1</text>
<line x1="26.3" y1="721.7" x2="29.8" y2="721.7" stroke="#1a1a1a" stroke-width="1.3" />
<text x="25.3" y="725.7" font-size="11.2" text-anchor="end" >2</text>
<line x1="26.3" y1="704.4" x2="29.8" y2="704.4" stroke="#1a1a1a" stroke-width="1.3" />
<text x="25.3" y="708.4" font-size="11.2" text-anchor="end" >3</text>
<line x1="26.3" y1="687.1" x2="29.8" y2="687.1" stroke="#1a1a1a" stroke-width="1.3" />
<text x="25.3" y="691.1" font-size="11.2" text-anchor="end" >4</text>
<line x1="26.3" y1="669.8" x2="29.8" y2="669.8" stroke="#1a1a1a" stroke-width="1.3" />
<text x="25.3" y="673.8" font-size="11.2" text-anchor="end" >5</text>
<line x1="26.3" y1="652.5" x2="29.8" y2="652.5" stroke="#1a1a1a" stroke-width="1.3" />
<text x="25.3" y="656.5" font-size="11.2" text-anchor="end" >6</text>
<line x1="29.2" y1="773.6" x2="223.41" y2="773.6" stroke="#1a1a1a" stroke-width="1.3" />
<line x1="35.56" y1="771" x2="35.56" y2="775.8" stroke="#1a1a1a" stroke-width="1.3" />
<text x="35.06" y="787.6" font-size="11.6" text-anchor="middle" >-50</text>
<line x1="62.4" y1="771" x2="62.4" y2="775.8" stroke="#1a1a1a" stroke-width="1.3" />
<text x="62.7" y="787.6" font-size="11.6" text-anchor="middle" >0</text>
<line x1="89.23" y1="771" x2="89.23" y2="775.8" stroke="#1a1a1a" stroke-width="1.3" />
<text x="89.53" y="787.6" font-size="11.6" text-anchor="middle" >50</text>
<line x1="116.07" y1="771" x2="116.07" y2="775.8" stroke="#1a1a1a" stroke-width="1.3" />
<text x="116.37" y="787.6" font-size="11.6" text-anchor="middle" >100</text>
<line x1="142.91" y1="771" x2="142.91" y2="775.8" stroke="#1a1a1a" stroke-width="1.3" />
<text x="143.21" y="787.6" font-size="11.6" text-anchor="middle" >150</text>
<line x1="169.74" y1="771" x2="169.74" y2="775.8" stroke="#1a1a1a" stroke-width="1.3" />
<text x="170.04" y="787.6" font-size="11.6" text-anchor="middle" >200</text>
<line x1="196.57" y1="771" x2="196.57" y2="775.8" stroke="#1a1a1a" stroke-width="1.3" />
<text x="196.88" y="787.6" font-size="11.6" text-anchor="middle" >250</text>
<line x1="223.41" y1="771" x2="223.41" y2="775.8" stroke="#1a1a1a" stroke-width="1.3" />
<text x="223.71" y="787.6" font-size="11.6" text-anchor="middle" >300</text>
<text x="54.2" y="661.4" font-size="11.6" textLength="157" lengthAdjust="spacingAndGlyphs" >Blank subtracted sensorgrams</text>
<text x="84.1" y="804" font-size="11.5" textLength="78.9" lengthAdjust="spacingAndGlyphs" >Time (seconds)</text>
<text x="10.3" y="710" font-size="11.5" text-anchor="middle" textLength="51.8" lengthAdjust="spacingAndGlyphs" transform="rotate(-90 10.3 710)" >Response</text>
<text x="192.7" y="704.2" font-size="10.2" textLength="44.5" lengthAdjust="spacingAndGlyphs" >HHT (µM)</text>
<line x1="192.7" y1="706.8" x2="237.2" y2="706.8" stroke="#1a1a1a" stroke-width="0.9" />
<text x="204.4" y="720.2" font-size="10.4" >25</text>
<text x="204.4" y="734.1" font-size="10.4" >12.5</text>
<text x="204.4" y="743.2" font-size="10.4" >6.25</text>
<text x="204.4" y="753.1" font-size="10.4" >3.13</text>
<text x="204.4" y="762.6" font-size="10.4" >1.56</text>
<polyline points="29.12,757.45 29.66,757.27 30.2,757.85 30.73,759.37 31.27,758.13 31.81,758.95 32.34,757.7 32.88,759.05 33.42,757.19 33.95,757.57 34.49,756.11 35.03,757.43 35.56,757.29 36.1,758.29 36.64,758.57 37.18,756.65 37.71,757.87 38.25,757.51 38.79,757.73 39.32,757.29 39.86,759.59 40.4,759.62 40.93,757.5 41.47,755.93 42.01,759.78 42.54,758.66 43.08,757.82 43.62,758.5 44.15,758.3 44.69,758.39 45.23,757.16 45.76,758 46.3,757.87 46.84,759.14 47.37,757.44 47.91,756.48 48.45,757.48 48.98,758.36 49.52,759.2 50.06,757.64 50.59,757.66 51.13,758.29 51.67,760.18 52.2,758.79 52.74,759.09 53.28,758.9 53.81,757.87 54.35,759.05 54.89,758.32 55.42,756.91 55.96,758.81 56.5,758.17 57.03,757.53 57.57,758.68 58.11,759.49 58.64,757.88 59.18,757.32 59.72,759.7 60.25,758.41 60.79,758.57 61.33,756.94 61.86,759.58 62.4,756.62 62.67,757.96 62.94,757.74 63.21,757.03 63.47,757.31 63.74,757.12 64.01,757.5 64.28,758.06 64.55,756.19 64.82,755.74 65.08,756.78 65.35,756.98 65.62,755.71 65.89,756.25 66.16,756.38 66.43,755.87 66.69,757.13 66.96,757.05 67.23,756.32 67.5,757.16 67.77,756.27 68.04,756.07 68.3,755.78 68.57,755.77 68.84,757.11 69.11,756.15 69.38,755.75 69.65,755.22 69.91,755.19 70.18,756.06 70.45,755.96 70.72,756.63 70.99,756.07 71.26,756.26 71.52,756.58 71.79,755.8 72.06,754.8 72.33,754.35 72.6,755.21 72.87,755.46 73.13,755.09 73.4,754.72 73.67,754.85 73.94,754.91 74.21,755.3 74.48,755.3 74.74,753.45 75.01,754.25 75.28,755.59 75.55,754.34 75.82,755.41 76.09,754.64 76.35,755.13 76.62,754.51 76.89,755.06 77.16,754.8 77.43,754.21 77.7,754.08 77.96,755.77 78.23,753.53 78.5,755.9 78.77,755.39 79.04,754.65 79.31,753.85 79.57,754.23 79.84,754.51 80.11,753.34 80.38,753.99 80.65,754 80.92,753.34 81.18,754.38 81.45,752.26 81.72,752.86 81.99,753.74 82.26,753.63 82.53,753.5 82.79,753.04 83.06,753.22 83.33,754.06 83.6,754.17 83.87,752.58 84.14,754.33 84.4,753.89 84.67,752.39 84.94,754.22 85.21,752.74 85.48,752.31 85.75,751.29 86.01,752.03 86.28,752.79 86.55,753.63 86.82,751.84 87.09,751.89 87.36,751.6 87.62,751.57 87.89,752.62 88.16,752.84 88.43,753.34 88.7,752.19 88.97,751.85 89.23,752.86 89.5,752.2 89.77,751.61 90.04,751.14 90.31,752.74 90.58,752.34 90.85,752.81 91.11,752.77 91.38,751.42 91.65,751.29 91.92,752.22 92.19,752.05 92.46,752.27 92.72,750.48 92.99,752.17 93.26,751.93 93.53,752.25 93.8,751.12 94.07,751.91 94.33,752.83 94.6,751.27 94.87,751.3 95.14,751.49 95.41,751.26 95.68,751.08 95.94,750.95 96.21,750.35 96.48,750.61 96.75,750.34 97.02,750.52 97.29,750.61 97.55,751.01 97.82,750.83 98.09,751.75 98.36,749.98 98.63,749.26 98.9,750.75 99.16,751.32 99.43,750.35 99.7,750.76 99.97,749.84 100.24,751.61 100.51,749.26 100.77,749.34 101.04,749.99 101.31,751.77 101.58,750.44 101.85,749.06 102.12,750.01 102.38,750.71 102.65,749.91 102.92,749.96 103.19,750.8 103.46,749.92 103.73,749.15 103.99,749.1 104.26,749 104.53,749.44 104.8,750.11 105.07,749.63 105.34,748.12 105.6,749.07 105.87,748.9 106.14,750.15 106.41,748.53 106.68,749.16 106.95,748.12 107.21,749.49 107.48,749.25 107.75,749.31 108.02,749.52 108.29,749.27 108.56,748.88 108.82,748.94 109.09,748.64 109.36,747.44 109.63,748.37 109.9,740.73 110.17,740.73 110.43,740.73 110.7,744.04 110.97,747.03 111.24,747.12 111.51,749.46 111.78,750.81 112.04,750.01 112.31,750.46 112.58,751.28 112.85,750.17 113.12,751.91 113.39,751.96 113.65,751.29 114.19,751.66 114.73,751.79 115.26,751.52 115.8,752.11 116.34,751.43 116.88,753.18 117.41,752.22 117.95,751.55 118.49,752.71 119.02,752.51 119.56,752.37 120.1,753.14 120.63,753.47 121.17,754.82 121.71,753.94 122.24,753.07 122.78,753.75 123.32,754.33 123.85,753.74 124.39,753.94 124.93,753.83 125.46,754.26 126,753.93 126.54,754.67 127.07,753.36 127.61,754.13 128.15,754.7 128.68,754.23 129.22,754.62 129.76,754.55 130.29,755.05 130.83,754.97 131.37,755.1 131.9,755.14 132.44,754.74 132.98,755.41 133.51,755.41 134.05,755.02 134.59,755.77 135.12,755.28 135.66,755.16 136.2,755.18 136.73,755.41 137.27,756.86 137.81,755.33 138.34,755.25 138.88,755.87 139.42,755.06 139.95,755.62 140.49,756.06 141.03,755.82 141.56,755.59 142.1,755.95 142.64,755.92 143.17,755.29 143.71,754.84 144.25,756.02 144.78,756.1 145.32,754.88 145.86,755.93 146.39,755.92 146.93,755.91 147.47,755.68 148,755.65 148.54,755.51 149.08,755.09 149.61,755.38 150.15,755.27 150.69,756.61 151.22,755.52 151.76,754.53 152.3,756.18 152.83,755.1 153.37,756.28 153.91,756.13 154.44,756.21 154.98,756.83 155.52,756.02 156.05,756.41 156.59,755.28 157.13,756.49 157.66,756.86 158.2,754.82 158.74,755.97 159.27,755.77 159.81,754.65 160.35,756.14 160.88,756.71 161.42,756.06 161.96,755.95 162.49,756.1 163.03,755.68 163.57,756.59 164.1,755.31 164.64,756.02 165.18,756.05 165.71,755.02 166.25,756.89 166.79,756.25 167.32,755.14 167.86,755.7 168.4,755.63 168.93,756.09 169.47,755.4 170.01,755.59 170.55,756.33 171.08,756.52 171.62,756.38 172.16,756.01 172.69,756.3 173.23,757.42 173.77,756.45 174.3,755.95 174.84,755.61 175.38,755.99 175.91,756.85 176.45,756.31 176.99,755.72 177.52,756.77 178.06,756.17 178.6,756.45 179.13,755.91 179.67,755.94 180.21,756.44 180.74,755.68 181.28,756.02 181.82,756.36 182.35,755.76 182.89,755.41 183.43,756.36 183.96,756.42 184.5,755.53 185.04,756.36 185.57,755.74 186.11,755.23 186.65,756.03 187.18,755.87 187.72,756.15 188.26,755.8 188.79,756.66 189.33,756.81 189.87,756.09 190.4,757.24 190.94,755.33 191.48,755.18 192.01,755.92 192.55,756.33 193.09,756.26 193.62,755.9 194.16,756.18 194.7,755.36 195.23,756.34 195.77,755.62 196.31,756.14 196.84,756.71 197.38,755.45 197.92,755.5 198.45,755.93 198.99,756.08 199.53,755.95 200.06,756.06 200.6,756.41 201.14,755.73 201.67,755.75 202.21,755.93 202.75,756.15 203.28,756.31 203.82,756.26 204.36,755.99" stroke="#e05050" stroke-width="0.75" fill="none" />
<polyline points="29.12,755.93 29.66,755.73 30.2,753.55 30.73,755.9 31.27,756.74 31.81,755.24 32.34,755.38 32.88,754.94 33.42,755.86 33.95,754.27 34.49,755.04 35.03,753.35 35.56,755.09 36.1,755.37 36.64,754.37 37.18,754.86 37.71,756.31 38.25,754.95 38.79,756.25 39.32,754.61 39.86,756.2 40.4,755.39 40.93,756.41 41.47,755.44 42.01,754.53 42.54,754.75 43.08,756.34 43.62,756.97 44.15,755.18 44.69,756.42 45.23,756.51 45.76,755.24 46.3,756.94 46.84,755.17 47.37,754.94 47.91,755.88 48.45,756.71 48.98,756.13 49.52,754.63 50.06,755.79 50.59,754.88 51.13,755.94 51.67,755.89 52.2,755.85 52.74,755.91 53.28,755.77 53.81,755.31 54.35,755.02 54.89,756.22 55.42,756.93 55.96,756.7 56.5,756.95 57.03,757.93 57.57,756.16 58.11,756.84 58.64,754.58 59.18,756.69 59.72,757.45 60.25,755.88 60.79,756.24 61.33,755.49 61.86,756.13 62.4,754.63 62.67,755.59 62.94,753.48 63.21,752.78 63.47,751.21 63.74,752.16 64.01,750.09 64.28,751.99 64.55,750.14 64.82,749.99 65.08,749.96 65.35,751.62 65.62,749.44 65.89,750.69 66.16,749.66 66.43,750.25 66.69,748.13 66.96,750.26 67.23,749.88 67.5,749.36 67.77,750.81 68.04,749.87 68.3,749.57 68.57,749.08 68.84,749.53 69.11,747.58 69.38,747.37 69.65,747.91 69.91,748.93 70.18,748.27 70.45,746.92 70.72,747.12 70.99,748 71.26,748.98 71.52,747.42 71.79,747.67 72.06,748.2 72.33,748.32 72.6,749.29 72.87,749.34 73.13,749.08 73.4,747.63 73.67,747.63 73.94,748.36 74.21,747.87 74.48,746.35 74.74,748.54 75.01,747.8 75.28,748.4 75.55,745.54 75.82,747.53 76.09,745.87 76.35,746.37 76.62,747.52 76.89,746.33 77.16,746.62 77.43,746.3 77.7,746.47 77.96,746.02 78.23,745.97 78.5,747.08 78.77,745.67 79.04,746.94 79.31,747.32 79.57,746.44 79.84,746.81 80.11,746.54 80.38,746.83 80.65,745.06 80.92,744.96 81.18,746.2 81.45,744.4 81.72,745.57 81.99,746.07 82.26,746.22 82.53,744.89 82.79,745.27 83.06,744.88 83.33,742.45 83.6,744.13 83.87,744.94 84.14,745.73 84.4,745.07 84.67,745.24 84.94,745.09 85.21,746.55 85.48,744.27 85.75,745.29 86.01,742.32 86.28,744.38 86.55,743.27 86.82,743.71 87.09,744.61 87.36,743.66 87.62,744.15 87.89,744.04 88.16,743.67 88.43,745.27 88.7,742.25 88.97,742.9 89.23,743.45 89.5,742.02 89.77,744.03 90.04,745.3 90.31,742.78 90.58,743.69 90.85,742.92 91.11,743.26 91.38,742.91 91.65,743.5 91.92,742.61 92.19,741.83 92.46,742.07 92.72,740.8 92.99,741.72 93.26,741.8 93.53,741.9 93.8,741.53 94.07,742.07 94.33,742.99 94.6,742.72 94.87,743.29 95.14,741.84 95.41,741.46 95.68,741.07 95.94,740.41 96.21,741.72 96.48,743.11 96.75,741.76 97.02,741.11 97.29,742.68 97.55,742.02 97.82,741.83 98.09,739.02 98.36,739.74 98.63,741.24 98.9,740.97 99.16,740.39 99.43,740.17 99.7,740.13 99.97,741.26 100.24,741.01 100.51,738.88 100.77,740.03 101.04,739.02 101.31,739.86 101.58,739.54 101.85,739.44 102.12,739.84 102.38,738.48 102.65,738.71 102.92,739.42 103.19,739.15 103.46,737.82 103.73,739.97 103.99,738.33 104.26,737.98 104.53,737.51 104.8,737.54 105.07,739.44 105.34,737.94 105.6,738.88 105.87,737.78 106.14,738.27 106.41,737.56 106.68,738.85 106.95,738.04 107.21,737.64 107.48,737.55 107.75,737.16 108.02,736.27 108.29,738.61 108.56,737.65 108.82,739.09 109.09,737.02 109.36,736.09 109.63,737.24 109.9,735.54 110.17,735.54 110.43,735.54 110.7,737.84 110.97,739.29 111.24,741.33 111.51,741.84 111.78,742.33 112.04,743.58 112.31,744.3 112.58,743.98 112.85,744.33 113.12,743.65 113.39,745.26 113.65,745.25 114.19,745.34 114.73,744.45 115.26,744.87 115.8,745 116.34,745.26 116.88,745.48 117.41,745.79 117.95,745.41 118.49,745.77 119.02,745.63 119.56,745.96 120.1,745.99 120.63,746.13 121.17,745.19 121.71,745.29 122.24,745.88 122.78,747.57 123.32,746.36 123.85,746.03 124.39,746.62 124.93,747.74 125.46,747.19 126,745.73 126.54,747.28 127.07,748.03 127.61,747.43 128.15,746.87 128.68,747.42 129.22,748.14 129.76,748.73 130.29,747.54 130.83,748.58 131.37,747.24 131.9,747.18 132.44,747.65 132.98,747.9 133.51,748 134.05,748.11 134.59,748.41 135.12,748.56 135.66,748.61 136.2,747.31 136.73,747.22 137.27,748.18 137.81,747.95 138.34,748.44 138.88,748.23 139.42,747.61 139.95,747.83 140.49,747.85 141.03,748.03 141.56,748 142.1,748.83 142.64,748.09 143.17,749.39 143.71,748.41 144.25,748.36 144.78,748.33 145.32,749.59 145.86,748.1 146.39,749.27 146.93,749.93 147.47,748.72 148,748.71 148.54,749.55 149.08,748.54 149.61,748.79 150.15,748.75 150.69,749.41 151.22,748.34 151.76,748.72 152.3,748.9 152.83,749.39 153.37,749.18 153.91,748.96 154.44,749.78 154.98,749.25 155.52,748.17 156.05,748.91 156.59,748.86 157.13,749.06 157.66,748.43 158.2,748.35 158.74,748.74 159.27,749.1 159.81,748.51 160.35,748.4 160.88,748.99 161.42,748.63 161.96,748.6 162.49,748.45 163.03,748.83 163.57,749.22 164.1,748.85 164.64,749.12 165.18,748.93 165.71,748.16 166.25,748.48 166.79,748.92 167.32,748.73 167.86,748.64 168.4,748.72 168.93,749.15 169.47,749.17 170.01,750.08 170.55,748.94 171.08,747.93 171.62,749.35 172.16,748.16 172.69,749.4 173.23,749.21 173.77,748.37 174.3,749.51 174.84,749.27 175.38,748.37 175.91,749.1 176.45,748.58 176.99,747.68 177.52,749.53 178.06,748.36 178.6,748.03 179.13,749.01 179.67,749.07 180.21,748.57 180.74,748.65 181.28,748.2 181.82,749.69 182.35,749.01 182.89,748.44 183.43,748.69 183.96,749.17 184.5,748.58 185.04,748.68 185.57,749.46 186.11,749.97 186.65,748.96 187.18,749.07 187.72,748.89 188.26,748.77 188.79,749.45 189.33,749.32 189.87,748.38 190.4,749.35 190.94,749.61 191.48,749.54 192.01,748.71 192.55,747.96 193.09,748.4 193.62,749.76 194.16,748.96 194.7,749.34 195.23,748.56 195.77,748.86 196.31,749.1 196.84,749.36 197.38,748.33 197.92,749.78 198.45,749.22 198.99,749.59 199.53,748.47 200.06,748.26 200.6,748.74 201.14,748.49 201.67,748.99 202.21,749.76 202.75,748.93 203.28,747.97 203.82,749.26 204.36,748.54" stroke="#3c8a3c" stroke-width="0.75" fill="none" />
<polyline points="29.12,754.72 29.66,754.49 30.2,754.8 30.73,754.28 31.27,756.15 31.81,756.04 32.34,756.35 32.88,756.29 33.42,754.52 33.95,755.28 34.49,756.34 35.03,756.3 35.56,754.58 36.1,756.59 36.64,756.07 37.18,755.21 37.71,754.56 38.25,754.54 38.79,756.12 39.32,756.8 39.86,756.67 40.4,755.36 40.93,755.56 41.47,754.71 42.01,755.03 42.54,754.83 43.08,756.68 43.62,756.75 44.15,755.82 44.69,755.46 45.23,756.51 45.76,754.72 46.3,757.31 46.84,755.98 47.37,756.7 47.91,755.56 48.45,755.5 48.98,756.24 49.52,755.66 50.06,754.87 50.59,756.62 51.13,756.68 51.67,756.89 52.2,756.37 52.74,756.94 53.28,757.64 53.81,755.52 54.35,757.19 54.89,758.17 55.42,755.73 55.96,757.28 56.5,755.75 57.03,755.27 57.57,757.14 58.11,757.29 58.64,755.3 59.18,757.77 59.72,757.36 60.25,757.01 60.79,757 61.33,755.23 61.86,756.46 62.4,757.94 62.67,752.27 62.94,750.18 63.21,748.05 63.47,742.76 63.74,743.59 64.01,743.62 64.28,744.95 64.55,744.2 64.82,742.47 65.08,743.26 65.35,744.08 65.62,745.15 65.89,743.1 66.16,743.28 66.43,742.31 66.69,742.52 66.96,742.22 67.23,742.98 67.5,742.5 67.77,743.26 68.04,742.31 68.3,742.15 68.57,742.07 68.84,743.15 69.11,741.79 69.38,742.28 69.65,743.08 69.91,741.88 70.18,741.12 70.45,742.18 70.72,739.93 70.99,741.11 71.26,740.24 71.52,740.55 71.79,742.95 72.06,742.95 72.33,740.43 72.6,741.25 72.87,741.25 73.13,740.03 73.4,740.1 73.67,740.07 73.94,741.22 74.21,738.69 74.48,742.31 74.74,738.86 75.01,740.34 75.28,738.82 75.55,739.51 75.82,739.14 76.09,737.85 76.35,739.9 76.62,741.33 76.89,739.71 77.16,741.4 77.43,739.52 77.7,739.54 77.96,738.1 78.23,739.13 78.5,738.01 78.77,739.84 79.04,737.84 79.31,738.24 79.57,736.9 79.84,735.39 80.11,736.92 80.38,736.64 80.65,738.36 80.92,738.01 81.18,735.3 81.45,738.85 81.72,737.26 81.99,736.38 82.26,735.75 82.53,737.21 82.79,736.5 83.06,735.83 83.33,734.91 83.6,736.09 83.87,736.32 84.14,734.65 84.4,734.77 84.67,736.27 84.94,735.24 85.21,735.61 85.48,735.3 85.75,737.01 86.01,734.91 86.28,735.11 86.55,736.26 86.82,734.88 87.09,735.66 87.36,735.28 87.62,734.81 87.89,732.15 88.16,733.1 88.43,735.27 88.7,732.76 88.97,734.26 89.23,732.41 89.5,732.93 89.77,732.22 90.04,732.41 90.31,733.78 90.58,733.82 90.85,732.91 91.11,732.71 91.38,731.64 91.65,730.23 91.92,732.39 92.19,730.44 92.46,731.83 92.72,731.64 92.99,733.2 93.26,731.95 93.53,731.26 93.8,732.07 94.07,732.49 94.33,731.6 94.6,730.33 94.87,730.44 95.14,731.97 95.41,730.21 95.68,731.27 95.94,731.42 96.21,729.39 96.48,730.24 96.75,730.46 97.02,730.56 97.29,733.64 97.55,729.33 97.82,728.65 98.09,732.81 98.36,732.71 98.63,730.38 98.9,728.66 99.16,729.25 99.43,728.94 99.7,730.27 99.97,730.37 100.24,728.79 100.51,730.47 100.77,727.67 101.04,728.12 101.31,728.88 101.58,729.46 101.85,726.84 102.12,728.49 102.38,730.2 102.65,729.14 102.92,730.17 103.19,727.14 103.46,729.07 103.73,727.83 103.99,727.2 104.26,726.21 104.53,728.98 104.8,726.66 105.07,727.69 105.34,727.24 105.6,729.34 105.87,726.78 106.14,726.51 106.41,726.28 106.68,725.85 106.95,727.21 107.21,728.02 107.48,725.5 107.75,727.49 108.02,723.18 108.29,726.2 108.56,727.89 108.82,724.73 109.09,725.64 109.36,726.14 109.63,725.81 109.9,716.51 110.17,716.51 110.43,716.51 110.7,724.23 110.97,729.57 111.24,731.17 111.51,732.93 111.78,734.7 112.04,735.89 112.31,736.43 112.58,736.15 112.85,736.61 113.12,737.11 113.39,736.92 113.65,737.89 114.19,737.04 114.73,736.93 115.26,737.52 115.8,737.67 116.34,738.09 116.88,739.27 117.41,738.01 117.95,738.3 118.49,739.67 119.02,739.44 119.56,739.03 120.1,739.35 120.63,740.34 121.17,740.48 121.71,740.69 122.24,740.02 122.78,739.86 123.32,740.01 123.85,740.71 124.39,740.52 124.93,741.05 125.46,740.3 126,740.95 126.54,741.25 127.07,740.52 127.61,741.27 128.15,741.52 128.68,741.96 129.22,741.54 129.76,740.79 130.29,742.25 130.83,741.12 131.37,742.4 131.9,742.31 132.44,741.37 132.98,742.5 133.51,742.21 134.05,742.32 134.59,741.46 135.12,741.93 135.66,742.52 136.2,742.52 136.73,742.14 137.27,742.76 137.81,742.08 138.34,741.88 138.88,742.13 139.42,743.11 139.95,741.84 140.49,742.61 141.03,741.84 141.56,742.4 142.1,742.79 142.64,743.73 143.17,741.8 143.71,743.21 144.25,742.59 144.78,742.33 145.32,742.11 145.86,743.42 146.39,742.01 146.93,743.28 147.47,743.11 148,741.9 148.54,743.08 149.08,743.06 149.61,743.77 150.15,743.06 150.69,744.36 151.22,742.99 151.76,742.77 152.3,743.11 152.83,743.7 153.37,742.2 153.91,743.28 154.44,743.5 154.98,743.25 155.52,743.76 156.05,743.69 156.59,744.03 157.13,743.69 157.66,744.35 158.2,743.12 158.74,743.53 159.27,743.46 159.81,743.16 160.35,743.59 160.88,742.33 161.42,743.98 161.96,743.21 162.49,743.01 163.03,743.51 163.57,743.89 164.1,743.96 164.64,742.75 165.18,743.5 165.71,743.13 166.25,744.38 166.79,743.71 167.32,743.15 167.86,743.45 168.4,743.4 168.93,743.86 169.47,742.89 170.01,743.5 170.55,743.04 171.08,743.13 171.62,743.74 172.16,743.45 172.69,743.36 173.23,743.88 173.77,743.45 174.3,743.81 174.84,744.19 175.38,743.39 175.91,743.32 176.45,743.03 176.99,743.16 177.52,743.88 178.06,743.86 178.6,742.86 179.13,743.82 179.67,744.42 180.21,744.39 180.74,743.86 181.28,742.53 181.82,744.2 182.35,742.76 182.89,743.85 183.43,743.64 183.96,743.95 184.5,742.55 185.04,742.74 185.57,743.87 186.11,743.23 186.65,744.3 187.18,743.74 187.72,743.35 188.26,743.7 188.79,743.21 189.33,744.68 189.87,742.25 190.4,743.65 190.94,744.46 191.48,743.95 192.01,744.33 192.55,744.03 193.09,742.98 193.62,743.51 194.16,742.87 194.7,742.88 195.23,742.44 195.77,743.91 196.31,744.04 196.84,743.35 197.38,742.77 197.92,742.77 198.45,743.52 198.99,743.22 199.53,742.52 200.06,742.77 200.6,744.28 201.14,743.02 201.67,742.95 202.21,743.24 202.75,743.51 203.28,744.38 203.82,743.27 204.36,742.94" stroke="#4a4aff" stroke-width="0.75" fill="none" />
<polyline points="29.12,755.35 29.66,756.43 30.2,756.57 30.73,757.68 31.27,756.22 31.81,755.96 32.34,756.65 32.88,756.57 33.42,757.64 33.95,755.08 34.49,756 35.03,756.61 35.56,755.77 36.1,756 36.64,756.21 37.18,756.47 37.71,756.24 38.25,755.89 38.79,755.57 39.32,755.54 39.86,755.94 40.4,755.49 40.93,756.45 41.47,757.68 42.01,757.61 42.54,755.53 43.08,757.75 43.62,757.01 44.15,756.29 44.69,755.47 45.23,758.13 45.76,757.31 46.3,757.02 46.84,756.96 47.37,756.3 47.91,755.6 48.45,755.76 48.98,753.82 49.52,754.91 50.06,757.5 50.59,757.64 51.13,756.54 51.67,756.59 52.2,755.35 52.74,755.75 53.28,755.58 53.81,756.31 54.35,755.9 54.89,755.96 55.42,756.49 55.96,755.78 56.5,757.54 57.03,755.46 57.57,755.77 58.11,753.75 58.64,756.37 59.18,757.67 59.72,756.88 60.25,756.48 60.79,756.99 61.33,757.41 61.86,756.66 62.4,757.56 62.67,751.64 62.94,750.3 63.21,744.78 63.47,739.7 63.74,740.21 64.01,738.88 64.28,739.9 64.55,739.15 64.82,741.13 65.08,741.41 65.35,740.37 65.62,739.36 65.89,738.16 66.16,740.71 66.43,739.83 66.69,739.83 66.96,737.71 67.23,739.23 67.5,736.96 67.77,738.62 68.04,738.93 68.3,738.72 68.57,739.78 68.84,740.75 69.11,738.04 69.38,738.09 69.65,734.39 69.91,736.27 70.18,735.53 70.45,736.28 70.72,736.52 70.99,737.9 71.26,737.5 71.52,733.99 71.79,736.17 72.06,735.98 72.33,734.3 72.6,735.33 72.87,735.18 73.13,732.21 73.4,734.06 73.67,734.83 73.94,734.67 74.21,734.88 74.48,733.38 74.74,732.96 75.01,734.19 75.28,733.61 75.55,735.09 75.82,733.33 76.09,731.93 76.35,733.81 76.62,732.59 76.89,733.15 77.16,732.68 77.43,731.56 77.7,732.95 77.96,730.19 78.23,729.81 78.5,729.77 78.77,732.16 79.04,733.22 79.31,731.4 79.57,730.37 79.84,730.42 80.11,730.41 80.38,729.99 80.65,730.28 80.92,728.88 81.18,731.25 81.45,728.87 81.72,728.53 81.99,729.69 82.26,724.29 82.53,728.29 82.79,728.14 83.06,729.77 83.33,727.8 83.6,727.67 83.87,726.39 84.14,728.18 84.4,726.06 84.67,728.87 84.94,727.05 85.21,729.08 85.48,726.74 85.75,725.63 86.01,728.26 86.28,725.36 86.55,725.47 86.82,727.81 87.09,726.89 87.36,726.17 87.62,724.72 87.89,723.47 88.16,725.82 88.43,726.01 88.7,725.13 88.97,727.8 89.23,723.75 89.5,724.32 89.77,724.34 90.04,722.15 90.31,723.97 90.58,724.35 90.85,722.04 91.11,723.65 91.38,722.87 91.65,723.13 91.92,722.61 92.19,722.14 92.46,721.84 92.72,723.47 92.99,720.29 93.26,722.18 93.53,722.04 93.8,720.34 94.07,721.75 94.33,720.44 94.6,719.47 94.87,719.56 95.14,721.01 95.41,719.09 95.68,720.39 95.94,720.91 96.21,720.79 96.48,719.23 96.75,720.26 97.02,717.67 97.29,718.11 97.55,718.22 97.82,717.37 98.09,717.44 98.36,719.34 98.63,715.24 98.9,719.84 99.16,717.7 99.43,719.94 99.7,717.88 99.97,717.9 100.24,718.85 100.51,716.37 100.77,716.72 101.04,716.68 101.31,717.76 101.58,714.64 101.85,716.43 102.12,715.1 102.38,717.61 102.65,713.92 102.92,715.88 103.19,714.12 103.46,715.61 103.73,715.02 103.99,714.2 104.26,714.65 104.53,711.87 104.8,714.46 105.07,714.39 105.34,712.59 105.6,713.51 105.87,714.67 106.14,713.71 106.41,712.29 106.68,712.93 106.95,711.48 107.21,714.06 107.48,712.13 107.75,713.23 108.02,712.58 108.29,712.71 108.56,712.81 108.82,708.8 109.09,711.26 109.36,710.34 109.63,710.66 109.9,702.67 110.17,702.67 110.43,702.67 110.7,710.09 110.97,716.71 111.24,720.4 111.51,721.5 111.78,723.65 112.04,723.29 112.31,725.78 112.58,725.63 112.85,725.33 113.12,726.41 113.39,726.17 113.65,726.01 114.19,727.25 114.73,726.86 115.26,727.82 115.8,727.47 116.34,726.8 116.88,727.17 117.41,728.23 117.95,728.46 118.49,728.95 119.02,728.37 119.56,728.6 120.1,729.86 120.63,729.81 121.17,730.15 121.71,729.56 122.24,729.68 122.78,729.88 123.32,729.77 123.85,729.92 124.39,730.34 124.93,730.18 125.46,730.83 126,730.29 126.54,730.25 127.07,731.97 127.61,730.13 128.15,731.1 128.68,730.77 129.22,731.2 129.76,730.51 130.29,731.38 130.83,731.23 131.37,731.78 131.9,731.56 132.44,731.39 132.98,732.18 133.51,731.82 134.05,732.07 134.59,731.79 135.12,731.38 135.66,731.84 136.2,731.29 136.73,732.34 137.27,732.21 137.81,732.16 138.34,732.57 138.88,731.94 139.42,732.54 139.95,732.59 140.49,732.1 141.03,732.65 141.56,732.29 142.1,732.36 142.64,731.77 143.17,731.61 143.71,732.11 144.25,732.74 144.78,731.99 145.32,731.17 145.86,732.63 146.39,732.58 146.93,731.81 147.47,732.54 148,732.69 148.54,731.93 149.08,732.99 149.61,732.04 150.15,732.98 150.69,732.3 151.22,732.62 151.76,733.02 152.3,732.18 152.83,733.35 153.37,732.33 153.91,732.72 154.44,732.1 154.98,733.26 155.52,732.17 156.05,731.6 156.59,732.98 157.13,732.66 157.66,732.18 158.2,730.79 158.74,732.55 159.27,733.04 159.81,732.57 160.35,732.78 160.88,732.93 161.42,733.39 161.96,731.93 162.49,733.53 163.03,732.82 163.57,733.7 164.1,733.89 164.64,732.44 165.18,733.48 165.71,732.36 166.25,732.72 166.79,733.25 167.32,732.38 167.86,733.48 168.4,732.36 168.93,732.15 169.47,733.43 170.01,732.67 170.55,731.95 171.08,732.59 171.62,733.42 172.16,732.23 172.69,732.74 173.23,732.64 173.77,733.47 174.3,732.59 174.84,732.63 175.38,733.39 175.91,732.53 176.45,732.96 176.99,732.38 177.52,732.39 178.06,733.24 178.6,733.5 179.13,732.11 179.67,732.48 180.21,733.13 180.74,732.24 181.28,732.51 181.82,732.58 182.35,733.07 182.89,733.12 183.43,732.15 183.96,732.85 184.5,732.96 185.04,732.49 185.57,733.38 186.11,732.87 186.65,732.82 187.18,731.4 187.72,733.66 188.26,732.81 188.79,733.16 189.33,733.66 189.87,731.7 190.4,731.96 190.94,733.02 191.48,732.95 192.01,732.92 192.55,732.87 193.09,732.98 193.62,732.66 194.16,732.23 194.7,732.6 195.23,732.3 195.77,733.51 196.31,731.94 196.84,733.12 197.38,733.29 197.92,733.24 198.45,732.51 198.99,732.84 199.53,733.42 200.06,732.85 200.6,731.72 201.14,732.68 201.67,732.97 202.21,733.2 202.75,732.61 203.28,733.34 203.82,732.87 204.36,733.42" stroke="#e050e0" stroke-width="0.75" fill="none" />
<polyline points="29.12,753.22 29.66,755.37 30.2,755.03 30.73,755.6 31.27,755.67 31.81,753.83 32.34,754.99 32.88,755.22 33.42,754.18 33.95,753.52 34.49,754.21 35.03,754.31 35.56,755.78 36.1,754.11 36.64,754.49 37.18,756.12 37.71,755.86 38.25,754.81 38.79,756.2 39.32,756.18 39.86,756.18 40.4,754.86 40.93,756.06 41.47,755.58 42.01,754.97 42.54,754.46 43.08,754.55 43.62,754.83 44.15,755.02 44.69,757.1 45.23,755.6 45.76,754.71 46.3,754.92 46.84,756.02 47.37,755.1 47.91,755.73 48.45,755.58 48.98,755.95 49.52,756.54 50.06,757.15 50.59,756.98 51.13,756.19 51.67,753.37 52.2,757.37 52.74,755.45 53.28,754.97 53.81,755.13 54.35,755.76 54.89,755.67 55.42,755.61 55.96,756.29 56.5,756.31 57.03,756.01 57.57,756 58.11,755.87 58.64,756.74 59.18,755.08 59.72,755.66 60.25,756.46 60.79,757.43 61.33,757.28 61.86,756.59 62.4,761.49 62.67,753.49 62.94,745.49 63.21,737.49 63.47,729.44 63.74,727.79 64.01,726.08 64.28,725.06 64.55,724.4 64.82,723.24 65.08,721.99 65.35,722.8 65.62,721.81 65.89,721.63 66.16,721.49 66.43,719.63 66.69,718.75 66.96,718.33 67.23,718.07 67.5,717.32 67.77,717.93 68.04,716.93 68.3,716.88 68.57,716.63 68.84,715.22 69.11,715.06 69.38,715.86 69.65,715.86 69.91,714.88 70.18,713.78 70.45,715.5 70.72,712.2 70.99,713.14 71.26,715.36 71.52,713.15 71.79,713.25 72.06,712.49 72.33,712.52 72.6,711.62 72.87,712.53 73.13,712.75 73.4,711.22 73.67,709.97 73.94,710.71 74.21,711.99 74.48,710.08 74.74,709.31 75.01,709.39 75.28,709.69 75.55,709.49 75.82,707.83 76.09,707.72 76.35,706.87 76.62,706.44 76.89,707.33 77.16,706.05 77.43,708.66 77.7,707.36 77.96,706.66 78.23,706.82 78.5,706.41 78.77,704.97 79.04,705.56 79.31,706.04 79.57,705.29 79.84,705.17 80.11,704.64 80.38,704.99 80.65,703.62 80.92,705.43 81.18,704.13 81.45,703.61 81.72,703.44 81.99,703.47 82.26,702.08 82.53,702.48 82.79,702.07 83.06,703.34 83.33,701.55 83.6,702.44 83.87,702.09 84.14,701.48 84.4,701.73 84.67,700.84 84.94,700.2 85.21,699.63 85.48,700.11 85.75,700.87 86.01,699.45 86.28,698.92 86.55,697.53 86.82,698.18 87.09,697.41 87.36,697.61 87.62,697.17 87.89,697.51 88.16,698.11 88.43,696.44 88.7,696.68 88.97,695.87 89.23,696.46 89.5,696.56 89.77,695.77 90.04,695.18 90.31,694.97 90.58,695.44 90.85,695.23 91.11,695.81 91.38,693.53 91.65,691.78 91.92,694.35 92.19,693.32 92.46,691.75 92.72,691.78 92.99,692.88 93.26,692.06 93.53,693.67 93.8,692.4 94.07,690.52 94.33,691.54 94.6,690.48 94.87,691.05 95.14,689.55 95.41,691.16 95.68,691.36 95.94,689.54 96.21,690.62 96.48,689.59 96.75,688.77 97.02,687.43 97.29,687.89 97.55,687.59 97.82,687.94 98.09,688.03 98.36,688.2 98.63,686.93 98.9,688.27 99.16,686.6 99.43,685.66 99.7,685.94 99.97,684.89 100.24,685.95 100.51,685.59 100.77,684.81 101.04,684.61 101.31,685.13 101.58,684.47 101.85,683.55 102.12,683.58 102.38,685.25 102.65,683.62 102.92,683.55 103.19,684.44 103.46,682.56 103.73,684.14 103.99,682.34 104.26,682.7 104.53,682.04 104.8,681.62 105.07,682.04 105.34,681.06 105.6,679.18 105.87,682.19 106.14,680.34 106.41,681.05 106.68,680.43 106.95,680.63 107.21,677.51 107.48,679.27 107.75,677.73 108.02,678.15 108.29,677.99 108.56,679.27 108.82,676.86 109.09,678.75 109.36,678.37 109.63,675.91 109.9,669.8 110.17,669.8 110.43,669.8 110.7,684.42 110.97,693.85 111.24,698.96 111.51,701.74 111.78,703.84 112.04,706.35 112.31,708.17 112.58,708.12 112.85,708.43 113.12,708.37 113.39,708.76 113.65,708.77 114.19,709.33 114.73,709.16 115.26,711.23 115.8,711.04 116.34,711.49 116.88,711.6 117.41,712.32 117.95,711.28 118.49,712.09 119.02,712.65 119.56,713.25 120.1,713.15 120.63,713.75 121.17,713.57 121.71,714.77 122.24,714.92 122.78,715.13 123.32,714.08 123.85,714.6 124.39,715.03 124.93,714.66 125.46,714.66 126,715.66 126.54,715.04 127.07,715.42 127.61,716.51 128.15,716.69 128.68,715.91 129.22,716.78 129.76,717.11 130.29,716.91 130.83,716.82 131.37,716.03 131.9,717.1 132.44,716.38 132.98,717.77 133.51,717.12 134.05,716.76 134.59,717.65 135.12,717.65 135.66,717.29 136.2,718.16 136.73,718.68 137.27,718.32 137.81,717.99 138.34,717.43 138.88,718.11 139.42,718.1 139.95,718.03 140.49,717.71 141.03,717.38 141.56,718.29 142.1,717.98 142.64,718.94 143.17,718.49 143.71,717.86 144.25,717.67 144.78,718.6 145.32,718.84 145.86,718.79 146.39,718.17 146.93,718.71 147.47,717.95 148,719.12 148.54,718.78 149.08,720.21 149.61,719.26 150.15,718.6 150.69,719.34 151.22,718.3 151.76,718.18 152.3,719.43 152.83,718.63 153.37,717.82 153.91,718.04 154.44,718.63 154.98,718.59 155.52,718.41 156.05,719.09 156.59,718.96 157.13,719 157.66,719.61 158.2,718.77 158.74,719.47 159.27,718.43 159.81,719.62 160.35,719.64 160.88,719.14 161.42,718.95 161.96,718.24 162.49,719 163.03,718.67 163.57,719.89 164.1,719.69 164.64,719.28 165.18,718.92 165.71,719.2 166.25,719.25 166.79,719.5 167.32,719.68 167.86,718.89 168.4,718.58 168.93,719.73 169.47,718.75 170.01,719.46 170.55,720.23 171.08,720 171.62,719.74 172.16,718.94 172.69,718.65 173.23,718.14 173.77,719.21 174.3,719.19 174.84,718.93 175.38,719.06 175.91,718.52 176.45,718.35 176.99,718.97 177.52,718.66 178.06,719.3 178.6,719.3 179.13,718.72 179.67,719.64 180.21,718.65 180.74,719.12 181.28,718.92 181.82,718 182.35,718.6 182.89,719.22 183.43,719.31 183.96,719.83 184.5,718.64 185.04,719.64 185.57,718.56 186.11,718.59 186.65,719.09 187.18,719.37 187.72,719 188.26,719.27 188.79,719.65 189.33,719.52 189.87,719.19 190.4,719.59 190.94,719.58 191.48,718.33 192.01,719.54 192.55,718.86 193.09,718.96 193.62,719.35 194.16,718.87 194.7,718.96 195.23,718.8 195.77,718.96 196.31,719.3 196.84,718.95 197.38,719.66 197.92,719.15 198.45,719.67 198.99,719.02 199.53,718.58 200.06,718.35 200.6,719.58 201.14,719.41 201.67,719.53 202.21,719.11 202.75,719.4 203.28,719.58 203.82,718.99 204.36,719.93" stroke="#40c0c8" stroke-width="0.75" fill="none" />
<g clip-path="url(#clL)">
<rect x="261.2" y="639.5" width="199.4" height="147.5" fill="#ffffff" />
<path d="M286,700 C292,688 312,684 326,692" stroke="#dfeeef" stroke-width="10.6" fill="none" stroke-linecap="round" opacity="0.9"/>
<path d="M286,700 C292,688 312,684 326,692" stroke="#cfe7e9" stroke-width="9" fill="none" stroke-linecap="round" opacity="0.9"/>
<path d="M262,695 C266,690 270,688 276,690" stroke="#dfeeef" stroke-width="5.6" fill="none" stroke-linecap="round" opacity="0.8"/>
<path d="M262,695 C266,690 270,688 276,690" stroke="#cfe7e9" stroke-width="4" fill="none" stroke-linecap="round" opacity="0.8"/>
<path d="M385,650 C392,640 405,652 402,668" stroke="#dfeeef" stroke-width="6.6" fill="none" stroke-linecap="round" opacity="0.7"/>
<path d="M385,650 C392,640 405,652 402,668" stroke="#cfe7e9" stroke-width="5" fill="none" stroke-linecap="round" opacity="0.7"/>
<path d="M450,765 C440,770 432,780 430,790" stroke="#d5eaec" stroke-width="7.6" fill="none" stroke-linecap="round" opacity="0.8"/>
<path d="M450,765 C440,770 432,780 430,790" stroke="#cfe7e9" stroke-width="6" fill="none" stroke-linecap="round" opacity="0.8"/>
<polyline points="265.87,643.52 266.37,643.52 266.88,643.6 267.41,643.76 267.95,643.99 268.49,644.29 269.05,644.67 269.62,645.11 270.2,645.62 270.79,646.19 271.39,646.82 271.99,647.51 272.61,648.25 273.23,649.04 273.86,649.87 274.5,650.74 275.14,651.65 275.78,652.59 276.43,653.55 277.08,654.53 277.73,655.52 278.39,656.53 279.05,657.54 279.7,658.54 280.36,659.54 281.01,660.53 281.66,661.5 282.3,662.44 282.95,663.36 283.58,664.24 284.21,665.09 284.84,665.89 285.45,666.65 286.06,667.35 286.67,668 287.26,668.6 287.84,669.13 288.41,669.59 288.97,669.99 289.53,670.32 290.07,670.57 290.6,670.75 291.11,670.86 291.62,670.89 292.12,670.85" stroke="#4f8890" stroke-width="14.4" fill="none" stroke-linecap="butt"/>
<polyline points="265.87,643.52 266.37,643.52 266.88,643.6 267.41,643.76 267.95,643.99 268.49,644.29 269.05,644.67 269.62,645.11 270.2,645.62 270.79,646.19 271.39,646.82 271.99,647.51 272.61,648.25 273.23,649.04 273.86,649.87 274.5,650.74 275.14,651.65 275.78,652.59 276.43,653.55 277.08,654.53 277.73,655.52 278.39,656.53 279.05,657.54 279.7,658.54 280.36,659.54 281.01,660.53 281.66,661.5 282.3,662.44 282.95,663.36 283.58,664.24 284.21,665.09 284.84,665.89 285.45,666.65 286.06,667.35 286.67,668 287.26,668.6 287.84,669.13 288.41,669.59 288.97,669.99 289.53,670.32 290.07,670.57 290.6,670.75 291.11,670.86 291.62,670.89 292.12,670.85" stroke="#5f9aa2" stroke-width="13" fill="none" stroke-linecap="butt"/>
<polyline points="309.48,636.85 309.98,636.86 310.5,636.95 311.02,637.12 311.56,637.35 312.11,637.67 312.67,638.05 313.24,638.5 313.82,639.01 314.41,639.59 315.01,640.23 315.62,640.92 316.23,641.67 316.86,642.46 317.49,643.3 318.12,644.18 318.76,645.09 319.41,646.03 320.06,646.99 320.71,647.97 321.36,648.97 322.02,649.97 322.67,650.98 323.33,651.99 323.98,652.98 324.64,653.97 325.28,654.93 325.93,655.88 326.57,656.79 327.21,657.67 327.84,658.51 328.46,659.31 329.08,660.06 329.69,660.76 330.29,661.41 330.88,661.99 331.46,662.51 332.03,662.97 332.59,663.36 333.14,663.68 333.68,663.93 334.21,664.1 334.73,664.2 335.23,664.22 335.72,664.17" stroke="#4f8890" stroke-width="14.4" fill="none" stroke-linecap="butt"/>
<polyline points="309.48,636.85 309.98,636.86 310.5,636.95 311.02,637.12 311.56,637.35 312.11,637.67 312.67,638.05 313.24,638.5 313.82,639.01 314.41,639.59 315.01,640.23 315.62,640.92 316.23,641.67 316.86,642.46 317.49,643.3 318.12,644.18 318.76,645.09 319.41,646.03 320.06,646.99 320.71,647.97 321.36,648.97 322.02,649.97 322.67,650.98 323.33,651.99 323.98,652.98 324.64,653.97 325.28,654.93 325.93,655.88 326.57,656.79 327.21,657.67 327.84,658.51 328.46,659.31 329.08,660.06 329.69,660.76 330.29,661.41 330.88,661.99 331.46,662.51 332.03,662.97 332.59,663.36 333.14,663.68 333.68,663.93 334.21,664.1 334.73,664.2 335.23,664.22 335.72,664.17" stroke="#5f9aa2" stroke-width="13" fill="none" stroke-linecap="butt"/>
<polyline points="255,667.52 255.34,666.45 255.67,665.36 256,664.23 256.33,663.1 256.65,661.95 256.98,660.79 257.3,659.63 257.63,658.48 257.95,657.34 258.28,656.21 258.61,655.1 258.95,654.02 259.29,652.96 259.63,651.94 259.99,650.97 260.35,650.03 260.71,649.15 261.09,648.32 261.47,647.54 261.86,646.83 262.26,646.18 262.67,645.59 263.1,645.07 263.53,644.63 263.97,644.26 264.43,643.96 264.9,643.73 265.38,643.59 265.87,643.52" stroke="#4f8890" stroke-width="14.4" fill="none" stroke-linecap="butt"/>
<polyline points="255,667.52 255.34,666.45 255.67,665.36 256,664.23 256.33,663.1 256.65,661.95 256.98,660.79 257.3,659.63 257.63,658.48 257.95,657.34 258.28,656.21 258.61,655.1 258.95,654.02 259.29,652.96 259.63,651.94 259.99,650.97 260.35,650.03 260.71,649.15 261.09,648.32 261.47,647.54 261.86,646.83 262.26,646.18 262.67,645.59 263.1,645.07 263.53,644.63 263.97,644.26 264.43,643.96 264.9,643.73 265.38,643.59 265.87,643.52" stroke="#a6d5d9" stroke-width="13" fill="none" stroke-linecap="butt"/>
<polyline points="292.12,670.85 292.6,670.72 293.07,670.53 293.53,670.25 293.98,669.9 294.41,669.48 294.84,668.99 295.26,668.43 295.66,667.8 296.06,667.1 296.44,666.35 296.82,665.53 297.19,664.67 297.55,663.75 297.9,662.79 298.25,661.78 298.59,660.74 298.93,659.67 299.26,658.57 299.59,657.44 299.92,656.3 300.24,655.15 300.57,654 300.89,652.84 301.22,651.69 301.54,650.54 301.87,649.42 302.21,648.31 302.54,647.23 302.88,646.18 303.23,645.17 303.58,644.19 303.94,643.27 304.31,642.39 304.68,641.56 305.07,640.79 305.46,640.09 305.86,639.44 306.28,638.86 306.7,638.35 307.13,637.92 307.58,637.55 308.04,637.26 308.51,637.05 308.99,636.91 309.48,636.85" stroke="#4f8890" stroke-width="14.4" fill="none" stroke-linecap="butt"/>
<polyline points="292.12,670.85 292.6,670.72 293.07,670.53 293.53,670.25 293.98,669.9 294.41,669.48 294.84,668.99 295.26,668.43 295.66,667.8 296.06,667.1 296.44,666.35 296.82,665.53 297.19,664.67 297.55,663.75 297.9,662.79 298.25,661.78 298.59,660.74 298.93,659.67 299.26,658.57 299.59,657.44 299.92,656.3 300.24,655.15 300.57,654 300.89,652.84 301.22,651.69 301.54,650.54 301.87,649.42 302.21,648.31 302.54,647.23 302.88,646.18 303.23,645.17 303.58,644.19 303.94,643.27 304.31,642.39 304.68,641.56 305.07,640.79 305.46,640.09 305.86,639.44 306.28,638.86 306.7,638.35 307.13,637.92 307.58,637.55 308.04,637.26 308.51,637.05 308.99,636.91 309.48,636.85" stroke="#a6d5d9" stroke-width="13" fill="none" stroke-linecap="butt"/>
<polyline points="335.72,664.17 336.21,664.04 336.68,663.83 337.13,663.55 337.58,663.19 338.02,662.76 338.44,662.26 338.86,661.69 339.26,661.06 339.65,660.35 340.04,659.59 340.42,658.77 340.78,657.9 341.14,656.98 341.5,656.01 341.84,655 342.19,653.96 342.52,652.88 342.85,651.77 343.18,650.65 343.51,649.51 343.84,648.36 344.16,647.2 344.48,646.04 344.81,644.89 345.14,643.75 345.47,642.63 345.8,641.52 346.13,640.44 346.48,639.4 346.82,638.39 347.18,637.42 347.54,636.5 347.9,635.63 348.28,634.81 348.67,634.05 349.06,633.34 349.46,632.71 349.88,632.14" stroke="#4f8890" stroke-width="14.4" fill="none" stroke-linecap="butt"/>
<polyline points="335.72,664.17 336.21,664.04 336.68,663.83 337.13,663.55 337.58,663.19 338.02,662.76 338.44,662.26 338.86,661.69 339.26,661.06 339.65,660.35 340.04,659.59 340.42,658.77 340.78,657.9 341.14,656.98 341.5,656.01 341.84,655 342.19,653.96 342.52,652.88 342.85,651.77 343.18,650.65 343.51,649.51 343.84,648.36 344.16,647.2 344.48,646.04 344.81,644.89 345.14,643.75 345.47,642.63 345.8,641.52 346.13,640.44 346.48,639.4 346.82,638.39 347.18,637.42 347.54,636.5 347.9,635.63 348.28,634.81 348.67,634.05 349.06,633.34 349.46,632.71 349.88,632.14" stroke="#a6d5d9" stroke-width="13" fill="none" stroke-linecap="butt"/>
<polyline points="347.81,648.82 347.98,648.77" stroke="#4f8890" stroke-width="7.4" fill="none" stroke-linecap="butt"/>
<polyline points="347.81,648.82 347.98,648.77" stroke="#5f97a0" stroke-width="6" fill="none" stroke-linecap="butt"/>
<polyline points="358.47,628.25 358.64,628.23 358.81,628.22 358.99,628.22 359.17,628.24 359.36,628.27 359.54,628.31 359.73,628.37 359.92,628.43 360.11,628.51 360.31,628.6 360.51,628.7 360.71,628.81 360.91,628.93 361.12,629.07 361.32,629.21 361.53,629.37 361.74,629.53 361.96,629.71 362.17,629.89 362.39,630.09 362.61,630.29 362.83,630.5 363.05,630.72 363.27,630.95 363.5,631.18 363.73,631.43 363.96,631.68 364.19,631.93 364.42,632.19 364.65,632.46 364.88,632.73 365.12,633.01 365.35,633.29 365.59,633.57 365.82,633.86 366.06,634.15 366.3,634.44 366.54,634.74 366.77,635.03 367.01,635.33 367.25,635.62 367.49,635.92 367.73,636.22 367.96,636.51 368.2,636.81 368.44,637.1 368.68,637.39 368.91,637.68 369.15,637.96 369.38,638.24 369.62,638.52 369.85,638.79 370.08,639.06 370.31,639.32 370.54,639.57 370.77,639.82 371,640.07 371.23,640.3 371.45,640.53 371.67,640.75 371.89,640.96 372.11,641.16 372.33,641.36 372.54,641.54 372.76,641.72 372.97,641.88 373.18,642.04 373.38,642.18 373.59,642.32 373.79,642.44 373.99,642.55 374.19,642.65 374.39,642.74 374.58,642.82 374.77,642.88 374.96,642.94 375.14,642.98 375.33,643.01 375.51,643.03 375.69,643.03 375.86,643.02 376.03,643 376.2,642.97" stroke="#4f8890" stroke-width="7.4" fill="none" stroke-linecap="butt"/>
<polyline points="358.47,628.25 358.64,628.23 358.81,628.22 358.99,628.22 359.17,628.24 359.36,628.27 359.54,628.31 359.73,628.37 359.92,628.43 360.11,628.51 360.31,628.6 360.51,628.7 360.71,628.81 360.91,628.93 361.12,629.07 361.32,629.21 361.53,629.37 361.74,629.53 361.96,629.71 362.17,629.89 362.39,630.09 362.61,630.29 362.83,630.5 363.05,630.72 363.27,630.95 363.5,631.18 363.73,631.43 363.96,631.68 364.19,631.93 364.42,632.19 364.65,632.46 364.88,632.73 365.12,633.01 365.35,633.29 365.59,633.57 365.82,633.86 366.06,634.15 366.3,634.44 366.54,634.74 366.77,635.03 367.01,635.33 367.25,635.62 367.49,635.92 367.73,636.22 367.96,636.51 368.2,636.81 368.44,637.1 368.68,637.39 368.91,637.68 369.15,637.96 369.38,638.24 369.62,638.52 369.85,638.79 370.08,639.06 370.31,639.32 370.54,639.57 370.77,639.82 371,640.07 371.23,640.3 371.45,640.53 371.67,640.75 371.89,640.96 372.11,641.16 372.33,641.36 372.54,641.54 372.76,641.72 372.97,641.88 373.18,642.04 373.38,642.18 373.59,642.32 373.79,642.44 373.99,642.55 374.19,642.65 374.39,642.74 374.58,642.82 374.77,642.88 374.96,642.94 375.14,642.98 375.33,643.01 375.51,643.03 375.69,643.03 375.86,643.02 376.03,643 376.2,642.97" stroke="#5f97a0" stroke-width="6" fill="none" stroke-linecap="butt"/>
<polyline points="347.98,648.77 348.15,648.72 348.31,648.65 348.47,648.58 348.63,648.48 348.79,648.38 348.94,648.26 349.09,648.14 349.24,648 349.39,647.85 349.53,647.68 349.67,647.51 349.81,647.32 349.95,647.13 350.08,646.92 350.21,646.7 350.34,646.47 350.47,646.23 350.6,645.98 350.72,645.73 350.85,645.46 350.97,645.18 351.08,644.9 351.2,644.61 351.32,644.31 351.43,644 351.54,643.68 351.65,643.36 351.76,643.04 351.87,642.7 351.98,642.37 352.09,642.02 352.19,641.67 352.3,641.32 352.4,640.97 352.5,640.61 352.61,640.25 352.71,639.88 352.81,639.52 352.91,639.15 353.02,638.79 353.12,638.42 353.22,638.05 353.32,637.69 353.42,637.32 353.52,636.96 353.63,636.59 353.73,636.24 353.83,635.88 353.94,635.53 354.04,635.18 354.15,634.83 354.26,634.49 354.37,634.16 354.48,633.83 354.59,633.51 354.7,633.19 354.81,632.88 354.93,632.58 355.04,632.28 355.16,631.99 355.28,631.72 355.4,631.45 355.53,631.18 355.65,630.93 355.78,630.69 355.91,630.46 356.04,630.24 356.17,630.03 356.31,629.83 356.45,629.64 356.59,629.46 356.73,629.29 356.88,629.13 357.02,628.99 357.17,628.86 357.33,628.74 357.48,628.63 357.64,628.54 357.8,628.45 357.96,628.38 358.13,628.33 358.3,628.28 358.47,628.25" stroke="#4f8890" stroke-width="7.4" fill="none" stroke-linecap="butt"/>
<polyline points="347.98,648.77 348.15,648.72 348.31,648.65 348.47,648.58 348.63,648.48 348.79,648.38 348.94,648.26 349.09,648.14 349.24,648 349.39,647.85 349.53,647.68 349.67,647.51 349.81,647.32 349.95,647.13 350.08,646.92 350.21,646.7 350.34,646.47 350.47,646.23 350.6,645.98 350.72,645.73 350.85,645.46 350.97,645.18 351.08,644.9 351.2,644.61 351.32,644.31 351.43,644 351.54,643.68 351.65,643.36 351.76,643.04 351.87,642.7 351.98,642.37 352.09,642.02 352.19,641.67 352.3,641.32 352.4,640.97 352.5,640.61 352.61,640.25 352.71,639.88 352.81,639.52 352.91,639.15 353.02,638.79 353.12,638.42 353.22,638.05 353.32,637.69 353.42,637.32 353.52,636.96 353.63,636.59 353.73,636.24 353.83,635.88 353.94,635.53 354.04,635.18 354.15,634.83 354.26,634.49 354.37,634.16 354.48,633.83 354.59,633.51 354.7,633.19 354.81,632.88 354.93,632.58 355.04,632.28 355.16,631.99 355.28,631.72 355.4,631.45 355.53,631.18 355.65,630.93 355.78,630.69 355.91,630.46 356.04,630.24 356.17,630.03 356.31,629.83 356.45,629.64 356.59,629.46 356.73,629.29 356.88,629.13 357.02,628.99 357.17,628.86 357.33,628.74 357.48,628.63 357.64,628.54 357.8,628.45 357.96,628.38 358.13,628.33 358.3,628.28 358.47,628.25" stroke="#8cc2c8" stroke-width="6" fill="none" stroke-linecap="butt"/>
<polyline points="376.2,642.97 376.37,642.92 376.54,642.87 376.7,642.8 376.86,642.71 377.02,642.62 377.17,642.51 377.33,642.39 377.48,642.26 377.62,642.12 377.77,641.96 377.91,641.79 378.05,641.61 378.19,641.42 378.33,641.22 378.46,641.01 378.59,640.79 378.72,640.56 378.85,640.32 378.97,640.07 379.1,639.8 379.22,639.53 379.34,639.26 379.46,638.97 379.57,638.67 379.69,638.37 379.8,638.06 379.91,637.74 380.02,637.42 380.13,637.09 380.24,636.76 380.35,636.42 380.46,636.07 380.56,635.72" stroke="#4f8890" stroke-width="7.4" fill="none" stroke-linecap="butt"/>
<polyline points="376.2,642.97 376.37,642.92 376.54,642.87 376.7,642.8 376.86,642.71 377.02,642.62 377.17,642.51 377.33,642.39 377.48,642.26 377.62,642.12 377.77,641.96 377.91,641.79 378.05,641.61 378.19,641.42 378.33,641.22 378.46,641.01 378.59,640.79 378.72,640.56 378.85,640.32 378.97,640.07 379.1,639.8 379.22,639.53 379.34,639.26 379.46,638.97 379.57,638.67 379.69,638.37 379.8,638.06 379.91,637.74 380.02,637.42 380.13,637.09 380.24,636.76 380.35,636.42 380.46,636.07 380.56,635.72" stroke="#8cc2c8" stroke-width="6" fill="none" stroke-linecap="butt"/>
<polyline points="451,665 451.01,665.27" stroke="#36707a" stroke-width="9.4" fill="none" stroke-linecap="butt"/>
<polyline points="451,665 451.01,665.27" stroke="#4c8790" stroke-width="8" fill="none" stroke-linecap="butt"/>
<polyline points="464.99,679.02 464.94,679.3 464.88,679.58 464.78,679.85 464.66,680.12 464.51,680.4 464.33,680.67 464.13,680.95 463.91,681.23 463.66,681.5 463.39,681.77 463.1,682.05 462.79,682.33 462.46,682.6 462.11,682.88 461.75,683.15 461.37,683.42 460.98,683.7 460.58,683.98 460.16,684.25 459.74,684.52 459.31,684.8 458.88,685.08 458.44,685.35 458,685.62 457.56,685.9 457.12,686.17 456.69,686.45 456.26,686.73 455.84,687 455.42,687.27 455.02,687.55 454.63,687.83 454.25,688.1 453.89,688.38 453.54,688.65 453.21,688.92 452.9,689.2 452.61,689.48 452.34,689.75 452.09,690.02 451.87,690.3 451.67,690.58 451.49,690.85 451.34,691.12 451.22,691.4 451.12,691.67 451.06,691.95 451.01,692.23 451,692.5 451.01,692.77" stroke="#36707a" stroke-width="9.4" fill="none" stroke-linecap="butt"/>
<polyline points="464.99,679.02 464.94,679.3 464.88,679.58 464.78,679.85 464.66,680.12 464.51,680.4 464.33,680.67 464.13,680.95 463.91,681.23 463.66,681.5 463.39,681.77 463.1,682.05 462.79,682.33 462.46,682.6 462.11,682.88 461.75,683.15 461.37,683.42 460.98,683.7 460.58,683.98 460.16,684.25 459.74,684.52 459.31,684.8 458.88,685.08 458.44,685.35 458,685.62 457.56,685.9 457.12,686.17 456.69,686.45 456.26,686.73 455.84,687 455.42,687.27 455.02,687.55 454.63,687.83 454.25,688.1 453.89,688.38 453.54,688.65 453.21,688.92 452.9,689.2 452.61,689.48 452.34,689.75 452.09,690.02 451.87,690.3 451.67,690.58 451.49,690.85 451.34,691.12 451.22,691.4 451.12,691.67 451.06,691.95 451.01,692.23 451,692.5 451.01,692.77" stroke="#4c8790" stroke-width="8" fill="none" stroke-linecap="butt"/>
<polyline points="464.99,706.52 464.94,706.8 464.88,707.08 464.78,707.35 464.66,707.62 464.51,707.9 464.33,708.17 464.13,708.45 463.91,708.73 463.66,709 463.39,709.27 463.1,709.55 462.79,709.83 462.46,710.1 462.11,710.38 461.75,710.65 461.37,710.92 460.98,711.2 460.58,711.48 460.16,711.75 459.74,712.02 459.31,712.3 458.88,712.58 458.44,712.85 458,713.12 457.56,713.4 457.12,713.67 456.69,713.95 456.26,714.23 455.84,714.5 455.42,714.77 455.02,715.05 454.63,715.33 454.25,715.6 453.89,715.88 453.54,716.15 453.21,716.42 452.9,716.7 452.61,716.98 452.34,717.25 452.09,717.52 451.87,717.8 451.67,718.08 451.49,718.35 451.34,718.62 451.22,718.9 451.12,719.17 451.06,719.45 451.01,719.73 451,720" stroke="#36707a" stroke-width="9.4" fill="none" stroke-linecap="butt"/>
<polyline points="464.99,706.52 464.94,706.8 464.88,707.08 464.78,707.35 464.66,707.62 464.51,707.9 464.33,708.17 464.13,708.45 463.91,708.73 463.66,709 463.39,709.27 463.1,709.55 462.79,709.83 462.46,710.1 462.11,710.38 461.75,710.65 461.37,710.92 460.98,711.2 460.58,711.48 460.16,711.75 459.74,712.02 459.31,712.3 458.88,712.58 458.44,712.85 458,713.12 457.56,713.4 457.12,713.67 456.69,713.95 456.26,714.23 455.84,714.5 455.42,714.77 455.02,715.05 454.63,715.33 454.25,715.6 453.89,715.88 453.54,716.15 453.21,716.42 452.9,716.7 452.61,716.98 452.34,717.25 452.09,717.52 451.87,717.8 451.67,718.08 451.49,718.35 451.34,718.62 451.22,718.9 451.12,719.17 451.06,719.45 451.01,719.73 451,720" stroke="#4c8790" stroke-width="8" fill="none" stroke-linecap="butt"/>
<polyline points="451.01,665.27 451.06,665.55 451.12,665.83 451.22,666.1 451.34,666.38 451.49,666.65 451.67,666.92 451.87,667.2 452.09,667.48 452.34,667.75 452.61,668.02 452.9,668.3 453.21,668.58 453.54,668.85 453.89,669.12 454.25,669.4 454.63,669.67 455.02,669.95 455.42,670.23 455.84,670.5 456.26,670.77 456.69,671.05 457.12,671.33 457.56,671.6 458,671.88 458.44,672.15 458.88,672.42 459.31,672.7 459.74,672.98 460.16,673.25 460.58,673.52 460.98,673.8 461.37,674.08 461.75,674.35 462.11,674.62 462.46,674.9 462.79,675.17 463.1,675.45 463.39,675.73 463.66,676 463.91,676.27 464.13,676.55 464.33,676.83 464.51,677.1 464.66,677.38 464.78,677.65 464.88,677.92 464.94,678.2 464.99,678.48 465,678.75 464.99,679.02" stroke="#36707a" stroke-width="9.4" fill="none" stroke-linecap="butt"/>
<polyline points="451.01,665.27 451.06,665.55 451.12,665.83 451.22,666.1 451.34,666.38 451.49,666.65 451.67,666.92 451.87,667.2 452.09,667.48 452.34,667.75 452.61,668.02 452.9,668.3 453.21,668.58 453.54,668.85 453.89,669.12 454.25,669.4 454.63,669.67 455.02,669.95 455.42,670.23 455.84,670.5 456.26,670.77 456.69,671.05 457.12,671.33 457.56,671.6 458,671.88 458.44,672.15 458.88,672.42 459.31,672.7 459.74,672.98 460.16,673.25 460.58,673.52 460.98,673.8 461.37,674.08 461.75,674.35 462.11,674.62 462.46,674.9 462.79,675.17 463.1,675.45 463.39,675.73 463.66,676 463.91,676.27 464.13,676.55 464.33,676.83 464.51,677.1 464.66,677.38 464.78,677.65 464.88,677.92 464.94,678.2 464.99,678.48 465,678.75 464.99,679.02" stroke="#78b0b8" stroke-width="8" fill="none" stroke-linecap="butt"/>
<polyline points="451.01,692.77 451.06,693.05 451.12,693.33 451.22,693.6 451.34,693.88 451.49,694.15 451.67,694.42 451.87,694.7 452.09,694.98 452.34,695.25 452.61,695.52 452.9,695.8 453.21,696.08 453.54,696.35 453.89,696.62 454.25,696.9 454.63,697.17 455.02,697.45 455.42,697.73 455.84,698 456.26,698.27 456.69,698.55 457.12,698.83 457.56,699.1 458,699.38 458.44,699.65 458.88,699.92 459.31,700.2 459.74,700.48 460.16,700.75 460.58,701.02 460.98,701.3 461.37,701.58 461.75,701.85 462.11,702.12 462.46,702.4 462.79,702.67 463.1,702.95 463.39,703.23 463.66,703.5 463.91,703.77 464.13,704.05 464.33,704.33 464.51,704.6 464.66,704.88 464.78,705.15 464.88,705.42 464.94,705.7 464.99,705.98 465,706.25 464.99,706.52" stroke="#36707a" stroke-width="9.4" fill="none" stroke-linecap="butt"/>
<polyline points="451.01,692.77 451.06,693.05 451.12,693.33 451.22,693.6 451.34,693.88 451.49,694.15 451.67,694.42 451.87,694.7 452.09,694.98 452.34,695.25 452.61,695.52 452.9,695.8 453.21,696.08 453.54,696.35 453.89,696.62 454.25,696.9 454.63,697.17 455.02,697.45 455.42,697.73 455.84,698 456.26,698.27 456.69,698.55 457.12,698.83 457.56,699.1 458,699.38 458.44,699.65 458.88,699.92 459.31,700.2 459.74,700.48 460.16,700.75 460.58,701.02 460.98,701.3 461.37,701.58 461.75,701.85 462.11,702.12 462.46,702.4 462.79,702.67 463.1,702.95 463.39,703.23 463.66,703.5 463.91,703.77 464.13,704.05 464.33,704.33 464.51,704.6 464.66,704.88 464.78,705.15 464.88,705.42 464.94,705.7 464.99,705.98 465,706.25 464.99,706.52" stroke="#78b0b8" stroke-width="8" fill="none" stroke-linecap="butt"/>
<path d="M462,722 C452,724 445,735 452,748 C458,758 462,758 465,756" stroke="#5f9ea6" stroke-width="5.1" fill="none" stroke-linecap="round" opacity="1"/>
<path d="M462,722 C452,724 445,735 452,748 C458,758 462,758 465,756" stroke="#8cc2c8" stroke-width="3.5" fill="none" stroke-linecap="round" opacity="1"/>
<path d="M380,790 C384,775 392,768 402,768 C412,768 420,760 424,740" stroke="#5f9ea6" stroke-width="5.1" fill="none" stroke-linecap="round" opacity="1"/>
<path d="M380,790 C384,775 392,768 402,768 C412,768 420,760 424,740" stroke="#8cc2c8" stroke-width="3.5" fill="none" stroke-linecap="round" opacity="1"/>
<path d="M395,790 C398,780 404,775 410,782" stroke="#5f9ea6" stroke-width="4.6" fill="none" stroke-linecap="round" opacity="1"/>
<path d="M395,790 C398,780 404,775 410,782" stroke="#8cc2c8" stroke-width="3" fill="none" stroke-linecap="round" opacity="1"/>
<path d="M283,790 C290,778 300,770 306,764 C310,760 316,764 320,772" stroke="#5f9ea6" stroke-width="5.1" fill="none" stroke-linecap="round" opacity="1"/>
<path d="M283,790 C290,778 300,770 306,764 C310,760 316,764 320,772" stroke="#8cc2c8" stroke-width="3.5" fill="none" stroke-linecap="round" opacity="1"/>
<path d="M320,790 C322,782 328,775 338,778" stroke="#8fbfc3" stroke-width="4.6" fill="none" stroke-linecap="round" opacity="1"/>
<path d="M320,790 C322,782 328,775 338,778" stroke="#b5dadd" stroke-width="3" fill="none" stroke-linecap="round" opacity="1"/>
<path d="M262,720 C268,712 274,708 282,708" stroke="#8fbfc3" stroke-width="4.6" fill="none" stroke-linecap="round" opacity="1"/>
<path d="M262,720 C268,712 274,708 282,708" stroke="#b5dadd" stroke-width="3" fill="none" stroke-linecap="round" opacity="1"/>
<polyline points="282.8,673.2 284,690 285.1,702.7 291,708 296.8,716.6 301,724" stroke="#5f8f95" stroke-width="3.4" fill="none" stroke-linejoin="round" stroke-linecap="round"/>
<polyline points="282.8,673.2 284,690 285.1,702.7 291,708 296.8,716.6 301,724" stroke="#8cc6cc" stroke-width="2.4" fill="none" stroke-linejoin="round" stroke-linecap="round"/>
<line x1="301" y1="724" x2="304.5" y2="729" stroke="#3848b0" stroke-width="2.4" stroke-linecap="round"/>
<polyline points="304.5,729 312.3,730.5 317.7,727.4" stroke="#5f8f95" stroke-width="3.4" fill="none" stroke-linejoin="round" stroke-linecap="round"/>
<polyline points="304.5,729 312.3,730.5 317.7,727.4" stroke="#8cc6cc" stroke-width="2.4" fill="none" stroke-linejoin="round" stroke-linecap="round"/>
<line x1="317.7" y1="727.4" x2="319" y2="726.5" stroke="#3848b0" stroke-width="2.4" stroke-linecap="round"/>
<polyline points="312.3,730.5 313,738" stroke="#5f8f95" stroke-width="3.4" fill="none" stroke-linejoin="round" stroke-linecap="round"/>
<polyline points="312.3,730.5 313,738" stroke="#8cc6cc" stroke-width="2.4" fill="none" stroke-linejoin="round" stroke-linecap="round"/>
<line x1="313" y1="738" x2="313.2" y2="743" stroke="#3848b0" stroke-width="2.4" stroke-linecap="round"/>
<line x1="281.5" y1="672" x2="286" y2="670" stroke="#c03030" stroke-width="2.4" stroke-linecap="round"/>
<polyline points="325,650 330,660 337,664" stroke="#5f8f95" stroke-width="3.4" fill="none" stroke-linejoin="round" stroke-linecap="round"/>
<polyline points="325,650 330,660 337,664" stroke="#8cc6cc" stroke-width="2.4" fill="none" stroke-linejoin="round" stroke-linecap="round"/>
<line x1="337" y1="664" x2="342" y2="665" stroke="#4a5ab0" stroke-width="2.4" stroke-linecap="round"/>
<polyline points="368.9,642 368.9,665.5" stroke="#5f8f95" stroke-width="3.4" fill="none" stroke-linejoin="round" stroke-linecap="round"/>
<polyline points="368.9,642 368.9,665.5" stroke="#8cc6cc" stroke-width="2.4" fill="none" stroke-linejoin="round" stroke-linecap="round"/>
<line x1="368.9" y1="665.5" x2="369.5" y2="669" stroke="#e03030" stroke-width="2.4" stroke-linecap="round"/>
<line x1="368.9" y1="665.5" x2="364.5" y2="677.9" stroke="#e03030" stroke-width="2.4" stroke-linecap="round"/>
<polyline points="447.9,699.6 438.6,693.4 424.7,698 416.1,685.6" stroke="#5f8f95" stroke-width="3.4" fill="none" stroke-linejoin="round" stroke-linecap="round"/>
<polyline points="447.9,699.6 438.6,693.4 424.7,698 416.1,685.6" stroke="#8cc6cc" stroke-width="2.4" fill="none" stroke-linejoin="round" stroke-linecap="round"/>
<line x1="416.1" y1="685.6" x2="415.5" y2="684.5" stroke="#3848b0" stroke-width="2.8" stroke-linecap="round"/>
<polyline points="451,722.8 443,728 435.5,733.7" stroke="#5f8f95" stroke-width="3.4" fill="none" stroke-linejoin="round" stroke-linecap="round"/>
<polyline points="451,722.8 443,728 435.5,733.7" stroke="#8cc6cc" stroke-width="2.4" fill="none" stroke-linejoin="round" stroke-linecap="round"/>
<line x1="435.5" y1="733.7" x2="426.2" y2="729" stroke="#e03030" stroke-width="2.4" stroke-linecap="round"/>
<line x1="435.5" y1="733.7" x2="435.5" y2="744.5" stroke="#e03030" stroke-width="2.4" stroke-linecap="round"/>
<polyline points="375,749 385,752 392,757 398,760 403,752" stroke="#5f8f95" stroke-width="3.4" fill="none" stroke-linejoin="round" stroke-linecap="round"/>
<polyline points="375,749 385,752 392,757 398,760 403,752" stroke="#8cc6cc" stroke-width="2.4" fill="none" stroke-linejoin="round" stroke-linecap="round"/>
<line x1="403" y1="752" x2="400.5" y2="746" stroke="#3848b0" stroke-width="2.4" stroke-linecap="round"/>
<line x1="392" y1="757" x2="384" y2="759.5" stroke="#e03030" stroke-width="2.4" stroke-linecap="round"/>
<polyline points="392,757 396,770 390,780" stroke="#5f8f95" stroke-width="3.4" fill="none" stroke-linejoin="round" stroke-linecap="round"/>
<polyline points="392,757 396,770 390,780" stroke="#8cc6cc" stroke-width="2.4" fill="none" stroke-linejoin="round" stroke-linecap="round"/>
<polyline points="332,740 335,748 334,756" stroke="#5f8f95" stroke-width="3.4" fill="none" stroke-linejoin="round" stroke-linecap="round"/>
<polyline points="332,740 335,748 334,756" stroke="#8cc6cc" stroke-width="2.4" fill="none" stroke-linejoin="round" stroke-linecap="round"/>
<line x1="332" y1="740" x2="336" y2="733" stroke="#e07070" stroke-width="2.4" stroke-linecap="round"/>
<polyline points="300,775 306,773 318,770 320,764" stroke="#5f8f95" stroke-width="3.4" fill="none" stroke-linejoin="round" stroke-linecap="round"/>
<polyline points="300,775 306,773 318,770 320,764" stroke="#8cc6cc" stroke-width="2.4" fill="none" stroke-linejoin="round" stroke-linecap="round"/>
<line x1="320" y1="764" x2="321" y2="762" stroke="#e03030" stroke-width="2.4" stroke-linecap="round"/>
<line x1="318" y1="770" x2="322" y2="772" stroke="#3848b0" stroke-width="2.4" stroke-linecap="round"/>
<polyline points="386,697 389,708" stroke="#e4c0c0" stroke-width="3.4" fill="none" stroke-linejoin="round" stroke-linecap="round"/>
<polyline points="386,697 389,708" stroke="#d0e8ea" stroke-width="2.4" fill="none" stroke-linejoin="round" stroke-linecap="round"/>
<polyline points="323.9,711.5 325.9,705 335.1,705 346.2,707.6 354.8,703.7 364,708.2" stroke="#9a8c10" stroke-width="4" fill="none" stroke-linejoin="round" stroke-linecap="round"/>
<polyline points="335.1,705 337.7,700.4 349.5,699.7 356.1,699.7" stroke="#9a8c10" stroke-width="4" fill="none" stroke-linejoin="round" stroke-linecap="round"/>
<polyline points="349.5,699.7 352.8,689.9 356.1,699.7 354.8,703.7" stroke="#9a8c10" stroke-width="4" fill="none" stroke-linejoin="round" stroke-linecap="round"/>
<polyline points="354.8,703.7 364,708.2 365.3,716.8 360,722 351,718 349.5,710 354.8,703.7" stroke="#9a8c10" stroke-width="4" fill="none" stroke-linejoin="round" stroke-linecap="round"/>
<polyline points="364,708.2 371.9,704.3 381,708.2 382.4,716.8 374.5,720.7 365.3,716.8" stroke="#9a8c10" stroke-width="4" fill="none" stroke-linejoin="round" stroke-linecap="round"/>
<polyline points="382.4,710.4 390.3,706.3 399.5,712.8 396.8,719.4 386.3,719.4 382.4,716.8" stroke="#9a8c10" stroke-width="4" fill="none" stroke-linejoin="round" stroke-linecap="round"/>
<polyline points="378.4,712.8 383.7,725" stroke="#9a8c10" stroke-width="4" fill="none" stroke-linejoin="round" stroke-linecap="round"/>
<polyline points="349.5,712 349.5,723.4 353.5,735.2 364,736.5 378.4,733.9 383.7,726 391.6,723.4 396.8,719.4" stroke="#9a8c10" stroke-width="4" fill="none" stroke-linejoin="round" stroke-linecap="round"/>
<polyline points="353.5,735.2 344.3,741.8 345.6,755.5 353.5,758.8 355.4,770.7" stroke="#9a8c10" stroke-width="4" fill="none" stroke-linejoin="round" stroke-linecap="round"/>
<polyline points="345.6,755.5 337.7,758.8" stroke="#9a8c10" stroke-width="4" fill="none" stroke-linejoin="round" stroke-linecap="round"/>
<polyline points="323.9,711.5 325.9,705 335.1,705 346.2,707.6 354.8,703.7 364,708.2" stroke="#f2e436" stroke-width="2.8" fill="none" stroke-linejoin="round" stroke-linecap="round"/>
<polyline points="335.1,705 337.7,700.4 349.5,699.7 356.1,699.7" stroke="#f2e436" stroke-width="2.8" fill="none" stroke-linejoin="round" stroke-linecap="round"/>
<polyline points="349.5,699.7 352.8,689.9 356.1,699.7 354.8,703.7" stroke="#f2e436" stroke-width="2.8" fill="none" stroke-linejoin="round" stroke-linecap="round"/>
<polyline points="354.8,703.7 364,708.2 365.3,716.8 360,722 351,718 349.5,710 354.8,703.7" stroke="#f2e436" stroke-width="2.8" fill="none" stroke-linejoin="round" stroke-linecap="round"/>
<polyline points="364,708.2 371.9,704.3 381,708.2 382.4,716.8 374.5,720.7 365.3,716.8" stroke="#f2e436" stroke-width="2.8" fill="none" stroke-linejoin="round" stroke-linecap="round"/>
<polyline points="382.4,710.4 390.3,706.3 399.5,712.8 396.8,719.4 386.3,719.4 382.4,716.8" stroke="#f2e436" stroke-width="2.8" fill="none" stroke-linejoin="round" stroke-linecap="round"/>
<polyline points="378.4,712.8 383.7,725" stroke="#f2e436" stroke-width="2.8" fill="none" stroke-linejoin="round" stroke-linecap="round"/>
<polyline points="349.5,712 349.5,723.4 353.5,735.2 364,736.5 378.4,733.9 383.7,726 391.6,723.4 396.8,719.4" stroke="#f2e436" stroke-width="2.8" fill="none" stroke-linejoin="round" stroke-linecap="round"/>
<polyline points="353.5,735.2 344.3,741.8 345.6,755.5 353.5,758.8 355.4,770.7" stroke="#f2e436" stroke-width="2.8" fill="none" stroke-linejoin="round" stroke-linecap="round"/>
<polyline points="345.6,755.5 337.7,758.8" stroke="#f2e436" stroke-width="2.8" fill="none" stroke-linejoin="round" stroke-linecap="round"/>
<line x1="325.9" y1="705" x2="330" y2="705" stroke="#e03a3a" stroke-width="2.6" stroke-linecap="round"/>
<line x1="347.6" y1="715" x2="348" y2="720" stroke="#e03a3a" stroke-width="2.6" stroke-linecap="round"/>
<line x1="387" y1="707.6" x2="391" y2="706.5" stroke="#e03a3a" stroke-width="2.6" stroke-linecap="round"/>
<line x1="396.8" y1="719.4" x2="393" y2="719.4" stroke="#e03a3a" stroke-width="2.6" stroke-linecap="round"/>
<line x1="337.7" y1="758.8" x2="341" y2="757.3" stroke="#e03a3a" stroke-width="2.6" stroke-linecap="round"/>
<line x1="353.8" y1="760" x2="354.5" y2="764" stroke="#e03a3a" stroke-width="2.6" stroke-linecap="round"/>
<line x1="398.2" y1="696.5" x2="399.3" y2="702" stroke="#e88080" stroke-width="2.4" stroke-linecap="round"/>
<line x1="323.5" y1="712" x2="314" y2="726.5" stroke="#9060b0" stroke-width="1.3" stroke-dasharray="1.5,1.3"/>
<line x1="337" y1="760" x2="313" y2="772" stroke="#9060b0" stroke-width="1.3" stroke-dasharray="1.5,1.3"/>
<line x1="390" y1="714" x2="415.5" y2="685" stroke="#3040a0" stroke-width="1.3" stroke-dasharray="1.5,1.3"/>
<line x1="389" y1="725" x2="400.5" y2="747" stroke="#9060b0" stroke-width="1.3" stroke-dasharray="1.5,1.3"/>
<line x1="344" y1="742" x2="336" y2="744" stroke="#9060b0" stroke-width="1.3" stroke-dasharray="1.5,1.3"/>
</g>
<rect x="261.2" y="639.5" width="199.4" height="147.5" fill="none" stroke="#111" stroke-width="1.2" />
<text x="319.1" y="677.9" font-size="10.2" fill="#8a8a8a" textLength="34.2" lengthAdjust="spacingAndGlyphs" >Lys296</text>
<text x="376" y="669.3" font-size="10.2" fill="#8a8a8a" textLength="33.6" lengthAdjust="spacingAndGlyphs" >Glu293</text>
<text x="383" y="690.6" font-size="10.2" fill="#8a8a8a" textLength="26.6" lengthAdjust="spacingAndGlyphs" >Tyr39</text>
<text x="421.7" y="684.4" font-size="10.2" fill="#f02a2a" textLength="27.4" lengthAdjust="spacingAndGlyphs" >Lys81</text>
<text x="419.4" y="723.6" font-size="10.2" fill="#8a8a8a" textLength="29.7" lengthAdjust="spacingAndGlyphs" >Asp78</text>
<text x="272.9" y="744.5" font-size="10.2" fill="#f02a2a" textLength="32.8" lengthAdjust="spacingAndGlyphs" >Arg367</text>
<text x="300.8" y="754.6" font-size="10.2" fill="#f02a2a" textLength="35.1" lengthAdjust="spacingAndGlyphs" >Asp391</text>
<text x="263.3" y="775.5" font-size="10.2" fill="#f02a2a" textLength="36.2" lengthAdjust="spacingAndGlyphs" >Asn389</text>
<text x="405.4" y="759.3" font-size="10.2" fill="#f02a2a" textLength="29.7" lengthAdjust="spacingAndGlyphs" >Asn59</text>
<line x1="543.3" y1="642.7" x2="543.3" y2="747.5" stroke="#1a1a1a" stroke-width="1.2" />
<line x1="539.5" y1="746.9" x2="543.3" y2="746.9" stroke="#1a1a1a" stroke-width="1.2" />
<text x="538.2" y="750.86" font-size="11" text-anchor="end" >0</text>
<line x1="539.5" y1="712.2" x2="543.3" y2="712.2" stroke="#1a1a1a" stroke-width="1.2" />
<text x="538.2" y="716.16" font-size="11" text-anchor="end" >50</text>
<line x1="539.5" y1="677.5" x2="543.3" y2="677.5" stroke="#1a1a1a" stroke-width="1.2" />
<text x="538.2" y="681.46" font-size="11" text-anchor="end" >100</text>
<line x1="539.5" y1="642.8" x2="543.3" y2="642.8" stroke="#1a1a1a" stroke-width="1.2" />
<text x="538.2" y="646.76" font-size="11" text-anchor="end" >150</text>
<line x1="541" y1="729.55" x2="543.3" y2="729.55" stroke="#1a1a1a" stroke-width="1.2" />
<line x1="541" y1="694.85" x2="543.3" y2="694.85" stroke="#1a1a1a" stroke-width="1.2" />
<line x1="541" y1="660.15" x2="543.3" y2="660.15" stroke="#1a1a1a" stroke-width="1.2" />
<line x1="542.7" y1="746.9" x2="625.1" y2="746.9" stroke="#1a1a1a" stroke-width="1.2" />
<rect x="552.3" y="677.85" width="17" height="69.05" fill="#ffffff" stroke="#111" stroke-width="1.4" />
<line x1="560.8" y1="746.9" x2="560.8" y2="749.7" stroke="#1a1a1a" stroke-width="1.2" />
<rect x="578.2" y="700.54" width="17" height="46.36" fill="#ff9c9c" stroke="#111" stroke-width="1.4" />
<line x1="586.7" y1="746.9" x2="586.7" y2="749.7" stroke="#1a1a1a" stroke-width="1.2" />
<rect x="603.9" y="691.03" width="17" height="55.87" fill="#8fbcf6" stroke="#111" stroke-width="1.4" />
<line x1="612.4" y1="746.9" x2="612.4" y2="749.7" stroke="#1a1a1a" stroke-width="1.2" />
<line x1="560.8" y1="677.85" x2="560.8" y2="677.36" stroke="#1a1a1a" stroke-width="1.2" />
<line x1="557.3" y1="677.36" x2="564.3" y2="677.36" stroke="#1a1a1a" stroke-width="1.2" />
<line x1="560.8" y1="677.85" x2="560.8" y2="678.33" stroke="#1a1a1a" stroke-width="1.2" />
<line x1="557.3" y1="678.33" x2="564.3" y2="678.33" stroke="#1a1a1a" stroke-width="1.2" />
<line x1="557.3" y1="677.85" x2="564.3" y2="677.85" stroke="#1a1a1a" stroke-width="1.2" />
<circle cx="555.8" cy="677.5" r="1.9" fill="#111" stroke="#fff" stroke-width="0.5" />
<circle cx="559.3" cy="676.81" r="1.9" fill="#111" stroke="#fff" stroke-width="0.5" />
<circle cx="562.8" cy="677.5" r="1.9" fill="#111" stroke="#fff" stroke-width="0.5" />
<circle cx="566.8" cy="677.85" r="1.9" fill="#111" stroke="#fff" stroke-width="0.5" />
<line x1="586.7" y1="700.54" x2="586.7" y2="699.99" stroke="#1a1a1a" stroke-width="1.2" />
<line x1="583.2" y1="699.99" x2="590.2" y2="699.99" stroke="#1a1a1a" stroke-width="1.2" />
<line x1="586.7" y1="700.54" x2="586.7" y2="701.1" stroke="#1a1a1a" stroke-width="1.2" />
<line x1="583.2" y1="701.1" x2="590.2" y2="701.1" stroke="#1a1a1a" stroke-width="1.2" />
<line x1="583.2" y1="700.54" x2="590.2" y2="700.54" stroke="#1a1a1a" stroke-width="1.2" />
<circle cx="581.7" cy="699.71" r="1.9" fill="#111" stroke="#fff" stroke-width="0.5" />
<circle cx="585.2" cy="699.36" r="1.9" fill="#111" stroke="#fff" stroke-width="0.5" />
<circle cx="588.7" cy="700.05" r="1.9" fill="#111" stroke="#fff" stroke-width="0.5" />
<circle cx="592.7" cy="700.75" r="1.9" fill="#111" stroke="#fff" stroke-width="0.5" />
<line x1="612.4" y1="691.03" x2="612.4" y2="689.51" stroke="#1a1a1a" stroke-width="1.2" />
<line x1="608.9" y1="689.51" x2="615.9" y2="689.51" stroke="#1a1a1a" stroke-width="1.2" />
<line x1="612.4" y1="691.03" x2="612.4" y2="692.56" stroke="#1a1a1a" stroke-width="1.2" />
<line x1="608.9" y1="692.56" x2="615.9" y2="692.56" stroke="#1a1a1a" stroke-width="1.2" />
<line x1="608.9" y1="691.03" x2="615.9" y2="691.03" stroke="#1a1a1a" stroke-width="1.2" />
<circle cx="612.4" cy="687.56" r="1.9" fill="#111" stroke="#fff" stroke-width="0.5" />
<circle cx="617.4" cy="689.99" r="1.9" fill="#111" stroke="#fff" stroke-width="0.5" />
<circle cx="607.4" cy="691.03" r="1.9" fill="#111" stroke="#fff" stroke-width="0.5" />
<circle cx="611.4" cy="691.73" r="1.9" fill="#111" stroke="#fff" stroke-width="0.5" />
<polyline points="561.3,652.9 561.3,648.4 612.4,648.4 612.4,652.9" stroke="#1a1a1a" stroke-width="1.2" fill="none" />
<polyline points="561.3,670.9 561.3,666.4 585.4,666.4 585.4,670.9" stroke="#1a1a1a" stroke-width="1.2" fill="none" />
<polyline points="584.8,692.3 584.8,683.1 612.4,683.1 612.4,687.2" stroke="#1a1a1a" stroke-width="1.2" fill="none" />
<text x="568.5" y="643.3" font-size="9" textLength="36.8" lengthAdjust="spacingAndGlyphs" ><tspan font-style="italic">p</tspan>=0.0008</text>
<text x="555.6" y="661.1" font-size="9" textLength="35.4" lengthAdjust="spacingAndGlyphs" ><tspan font-style="italic">p</tspan>=7.1E-6</text>
<text x="579.7" y="678" font-size="9" textLength="36.8" lengthAdjust="spacingAndGlyphs" ><tspan font-style="italic">p</tspan>=0.0002</text>
<text x="512.6" y="692.8" font-size="11.8" text-anchor="middle" textLength="101.1" lengthAdjust="spacingAndGlyphs" transform="rotate(-90 512.6 692.8)" >ATPase activity (%)</text>
<text x="564" y="754.7" font-size="11.8" text-anchor="end" transform="rotate(-45 564 754.7)" >PBS</text>
<text x="589.9" y="754.7" font-size="11.8" text-anchor="end" transform="rotate(-45 589.9 754.7)" >HHT</text>
<text x="615.6" y="754.7" font-size="11.8" text-anchor="end" transform="rotate(-45 615.6 754.7)" >HA15</text>
<line x1="538.8" y1="777.1" x2="630.4" y2="777.1" stroke="#9a9a9a" stroke-width="1.3" />
<text x="565" y="792.5" font-size="11.8" textLength="38.2" lengthAdjust="spacingAndGlyphs" >HSPA5</text>
<line x1="44.8" y1="829.6" x2="85.1" y2="829.6" stroke="#1a1a1a" stroke-width="1.2" />
<text x="51.9" y="826.8" font-size="10.3" textLength="25.9" lengthAdjust="spacingAndGlyphs" >Chow</text>
<line x1="88.6" y1="829.6" x2="151.4" y2="829.6" stroke="#1a1a1a" stroke-width="1.2" />
<text x="101.6" y="826.8" font-size="10.3" textLength="36.8" lengthAdjust="spacingAndGlyphs" >HF-PBS</text>
<line x1="155.2" y1="829.6" x2="219" y2="829.6" stroke="#1a1a1a" stroke-width="1.2" />
<text x="169.9" y="826.8" font-size="10.3" textLength="38.6" lengthAdjust="spacingAndGlyphs" >HF-HHT</text>
<text x="224.2" y="826.8" font-size="10.3" textLength="17.8" lengthAdjust="spacingAndGlyphs" >kDa</text>
<line x1="224.2" y1="829.6" x2="242" y2="829.6" stroke="#1a1a1a" stroke-width="0.9" />
<g clip-path="url(#clb15)">
<rect x="42.7" y="834.5" width="180.8" height="13.3" fill="#f2f2f2" />
<g filter="url(#bf0_70)">
<rect x="45.05" y="839.5" width="11.5" height="3.6" rx="1.8" fill="#000" opacity="0.3"/>
<rect x="59.05" y="839.5" width="11.5" height="3.6" rx="1.8" fill="#000" opacity="0.1"/>
<rect x="72.05" y="839.5" width="11.5" height="3.6" rx="1.8" fill="#000" opacity="0.2"/>
<rect x="86.05" y="839.5" width="11.5" height="3.6" rx="1.8" fill="#000" opacity="0.55"/>
<rect x="99.35" y="839.5" width="11.5" height="3.6" rx="1.8" fill="#000" opacity="0.7"/>
<rect x="113.35" y="839.5" width="11.5" height="3.6" rx="1.8" fill="#000" opacity="1"/>
<rect x="127.35" y="839.5" width="11.5" height="3.6" rx="1.8" fill="#000" opacity="0.8"/>
<rect x="139.65" y="839.5" width="11.5" height="3.6" rx="1.8" fill="#000" opacity="0.45"/>
<rect x="153.65" y="839.5" width="11.5" height="3.6" rx="1.8" fill="#000" opacity="0.3"/>
<rect x="166.65" y="839.5" width="11.5" height="3.6" rx="1.8" fill="#000" opacity="0.15"/>
<rect x="180.65" y="839.5" width="11.5" height="3.6" rx="1.8" fill="#000" opacity="0.15"/>
<rect x="193.95" y="839.5" width="11.5" height="3.6" rx="1.8" fill="#000" opacity="0.15"/>
<rect x="207.25" y="839.5" width="11.5" height="3.6" rx="1.8" fill="#000" opacity="0.15"/>
</g></g>
<rect x="42.7" y="834.5" width="180.8" height="13.3" fill="none" stroke="#2a2a2a" stroke-width="1" />
<g clip-path="url(#clb16)">
<rect x="42.7" y="850.3" width="180.8" height="14" fill="#eeeeee" />
<g filter="url(#bf0_60)">
<rect x="44.55" y="854.3" width="12.5" height="4.6" rx="2.3" fill="#000" opacity="1"/>
<rect x="58.55" y="854.3" width="12.5" height="4.6" rx="2.3" fill="#000" opacity="0.8"/>
<rect x="71.55" y="854.3" width="12.5" height="4.6" rx="2.3" fill="#000" opacity="1"/>
<rect x="85.55" y="854.3" width="12.5" height="4.6" rx="2.3" fill="#000" opacity="0.75"/>
<rect x="98.85" y="854.3" width="12.5" height="4.6" rx="2.3" fill="#000" opacity="1"/>
<rect x="112.85" y="854.3" width="12.5" height="4.6" rx="2.3" fill="#000" opacity="1"/>
<rect x="126.85" y="854.3" width="12.5" height="4.6" rx="2.3" fill="#000" opacity="1"/>
<rect x="139.15" y="854.3" width="12.5" height="4.6" rx="2.3" fill="#000" opacity="1"/>
<rect x="153.15" y="854.3" width="12.5" height="4.6" rx="2.3" fill="#000" opacity="0.95"/>
<rect x="166.15" y="854.3" width="12.5" height="4.6" rx="2.3" fill="#000" opacity="1"/>
<rect x="180.15" y="854.3" width="12.5" height="4.6" rx="2.3" fill="#000" opacity="1"/>
<rect x="193.45" y="854.3" width="12.5" height="4.6" rx="2.3" fill="#000" opacity="1"/>
<rect x="206.75" y="854.3" width="12.5" height="4.6" rx="2.3" fill="#000" opacity="0.95"/>
</g></g>
<rect x="42.7" y="850.3" width="180.8" height="14" fill="none" stroke="#2a2a2a" stroke-width="1" />
<text x="38.8" y="845.4" font-size="10.3" text-anchor="end" >HSPA5</text>
<text x="39.2" y="859" font-size="10.3" text-anchor="end" >GAPDH</text>
<line x1="223.5" y1="838.5" x2="226" y2="838.5" stroke="#1a1a1a" stroke-width="0.9" />
<text x="226.2" y="841.9" font-size="10.3" >78</text>
<line x1="223.5" y1="856" x2="226" y2="856" stroke="#1a1a1a" stroke-width="0.9" />
<text x="226.2" y="859.4" font-size="10.3" >37</text>
<text x="98.1" y="879.4" font-size="10.5" textLength="73.6" lengthAdjust="spacingAndGlyphs" >HSPA5/GAPDH</text>
<line x1="91.8" y1="888.1" x2="91.8" y2="962" stroke="#1a1a1a" stroke-width="1.2" />
<line x1="88.2" y1="961.4" x2="91.8" y2="961.4" stroke="#1a1a1a" stroke-width="1.2" />
<text x="86.6" y="965.18" font-size="10.5" text-anchor="end" >0</text>
<line x1="88.2" y1="936.96" x2="91.8" y2="936.96" stroke="#1a1a1a" stroke-width="1.2" />
<text x="86.6" y="940.74" font-size="10.5" text-anchor="end" >2</text>
<line x1="88.2" y1="912.52" x2="91.8" y2="912.52" stroke="#1a1a1a" stroke-width="1.2" />
<text x="86.6" y="916.3" font-size="10.5" text-anchor="end" >4</text>
<line x1="88.2" y1="888.08" x2="91.8" y2="888.08" stroke="#1a1a1a" stroke-width="1.2" />
<text x="86.6" y="891.86" font-size="10.5" text-anchor="end" >6</text>
<line x1="89.6" y1="949.18" x2="91.8" y2="949.18" stroke="#1a1a1a" stroke-width="1.2" />
<line x1="89.6" y1="924.74" x2="91.8" y2="924.74" stroke="#1a1a1a" stroke-width="1.2" />
<line x1="89.6" y1="900.3" x2="91.8" y2="900.3" stroke="#1a1a1a" stroke-width="1.2" />
<line x1="91.2" y1="961.4" x2="183.8" y2="961.4" stroke="#1a1a1a" stroke-width="1.2" />
<rect x="101" y="948.81" width="18" height="12.59" fill="#d4d4d4" stroke="#111" stroke-width="1.4" />
<line x1="110" y1="961.4" x2="110" y2="964.2" stroke="#1a1a1a" stroke-width="1.2" />
<rect x="128.6" y="924.5" width="18" height="36.9" fill="#8fbcf6" stroke="#111" stroke-width="1.4" />
<line x1="137.6" y1="961.4" x2="137.6" y2="964.2" stroke="#1a1a1a" stroke-width="1.2" />
<rect x="156" y="952.24" width="18" height="9.16" fill="#ff9c9c" stroke="#111" stroke-width="1.4" />
<line x1="165" y1="961.4" x2="165" y2="964.2" stroke="#1a1a1a" stroke-width="1.2" />
<line x1="110" y1="948.81" x2="110" y2="946.37" stroke="#1a1a1a" stroke-width="1.2" />
<line x1="106.5" y1="946.37" x2="113.5" y2="946.37" stroke="#1a1a1a" stroke-width="1.2" />
<line x1="110" y1="948.81" x2="110" y2="951.38" stroke="#1a1a1a" stroke-width="1.2" />
<line x1="106.5" y1="951.38" x2="113.5" y2="951.38" stroke="#1a1a1a" stroke-width="1.2" />
<line x1="106.5" y1="948.81" x2="113.5" y2="948.81" stroke="#1a1a1a" stroke-width="1.2" />
<circle cx="110.3" cy="946.8" r="1.9" fill="#111" stroke="#fff" stroke-width="0.5" />
<circle cx="117.5" cy="948" r="1.9" fill="#111" stroke="#fff" stroke-width="0.5" />
<circle cx="110.3" cy="951.8" r="1.9" fill="#111" stroke="#fff" stroke-width="0.5" />
<line x1="137.6" y1="924.5" x2="137.6" y2="912.52" stroke="#1a1a1a" stroke-width="1.2" />
<line x1="134.1" y1="912.52" x2="141.1" y2="912.52" stroke="#1a1a1a" stroke-width="1.2" />
<line x1="137.6" y1="924.5" x2="137.6" y2="935.13" stroke="#1a1a1a" stroke-width="1.2" />
<line x1="134.1" y1="935.13" x2="141.1" y2="935.13" stroke="#1a1a1a" stroke-width="1.2" />
<line x1="134.1" y1="924.5" x2="141.1" y2="924.5" stroke="#1a1a1a" stroke-width="1.2" />
<circle cx="130.1" cy="911.1" r="1.9" fill="#111" stroke="#fff" stroke-width="0.5" />
<circle cx="137.4" cy="915.3" r="1.9" fill="#111" stroke="#fff" stroke-width="0.5" />
<circle cx="137.4" cy="925" r="1.9" fill="#111" stroke="#fff" stroke-width="0.5" />
<circle cx="137.4" cy="930" r="1.9" fill="#111" stroke="#fff" stroke-width="0.5" />
<circle cx="137.4" cy="939.6" r="1.9" fill="#111" stroke="#fff" stroke-width="0.5" />
<line x1="165" y1="952.24" x2="165" y2="946.12" stroke="#1a1a1a" stroke-width="1.2" />
<line x1="161.5" y1="946.12" x2="168.5" y2="946.12" stroke="#1a1a1a" stroke-width="1.2" />
<line x1="165" y1="952.24" x2="165" y2="957.73" stroke="#1a1a1a" stroke-width="1.2" />
<line x1="161.5" y1="957.73" x2="168.5" y2="957.73" stroke="#1a1a1a" stroke-width="1.2" />
<line x1="161.5" y1="952.24" x2="168.5" y2="952.24" stroke="#1a1a1a" stroke-width="1.2" />
<circle cx="162.6" cy="942.1" r="1.9" fill="#111" stroke="#fff" stroke-width="0.5" />
<circle cx="158.1" cy="952.5" r="1.9" fill="#111" stroke="#fff" stroke-width="0.5" />
<circle cx="167.3" cy="952.5" r="1.9" fill="#111" stroke="#fff" stroke-width="0.5" />
<circle cx="172.4" cy="953" r="1.9" fill="#111" stroke="#fff" stroke-width="0.5" />
<circle cx="163.1" cy="956.4" r="1.9" fill="#111" stroke="#fff" stroke-width="0.5" />
<polyline points="111.1,914.9 111.1,903.5 137.1,903.5 137.1,906" stroke="#1a1a1a" stroke-width="1.2" fill="none" />
<polyline points="139.1,906 139.1,903.5 163.6,903.5 163.6,914.9" stroke="#1a1a1a" stroke-width="1.2" fill="none" />
<text x="123.7" y="889.2" font-size="8" text-anchor="middle" ><tspan font-style="italic">p</tspan>=</text>
<text x="112.3" y="898.5" font-size="8.2" textLength="22.8" lengthAdjust="spacingAndGlyphs" >0.0048</text>
<text x="151.4" y="889.2" font-size="8" text-anchor="middle" ><tspan font-style="italic">p</tspan>=</text>
<text x="139.6" y="898.5" font-size="8.2" textLength="23" lengthAdjust="spacingAndGlyphs" >0.0008</text>
<text x="64.2" y="922.7" font-size="8.6" text-anchor="middle" textLength="73" lengthAdjust="spacingAndGlyphs" transform="rotate(-90 64.2 922.7)" >Relative expression</text>
<text x="76" y="923" font-size="8.4" text-anchor="middle" textLength="21.2" lengthAdjust="spacingAndGlyphs" transform="rotate(-90 76 923)" >(ratio)</text>
<text x="113.2" y="968.6" font-size="9.4" text-anchor="end" transform="rotate(-45 113.2 968.6)" >CHOW</text>
<text x="141" y="968.6" font-size="9.4" text-anchor="end" transform="rotate(-45 141 968.6)" >HF-PBS</text>
<text x="168.2" y="968.6" font-size="9.4" text-anchor="end" transform="rotate(-45 168.2 968.6)" >HF-HHT</text>
<text x="319.9" y="815.2" font-size="10.5" textLength="14" lengthAdjust="spacingAndGlyphs" >HF</text>
<g clip-path="url(#clO41)">
<rect x="269" y="819.8" width="116.4" height="78.8" fill="#ecd7c6" />
<path d="M289.34,755.94L288.4,766.88L287.92,814.76L292.84,821.4L297.32,820.92L299.99,813.11ZM272.49,824.73L273.31,822.52L272.11,820.43L266.04,818.47L255.78,827.06L267.1,828.39ZM288.66,869.23L282.45,870.08L278.95,875.04L279.76,878.76L283.79,880.65L291.34,878.52L292.58,874.07ZM316.92,847.74L313.01,844.19L313.79,837.81L317.19,835.58L319.75,837.07L319.29,846.27ZM285.99,837.49L290.15,838.47L290.5,839.61L286.77,847.21L286.27,847.47L282.53,845.84L281.84,840.17ZM272.22,884.89L277.3,879.2L276.53,875.63L269.98,872.99L263.56,879.02ZM353.54,848.28L358.93,844.19L362.59,844.7L365.06,850.06L364.08,853.79L357.82,855.25ZM296.16,854.25L295.23,850.66L287.65,849.25L287.09,849.53L286.81,856.06L290.28,858.9ZM342.97,823.72L337.53,828.83L335.12,828.12L331.02,821.14L337.63,814.83L342.65,818.9ZM343.59,890.37L343.39,893.48L340.03,898.67L333.38,898.83L332.96,898.42L333.46,891.59L342.96,889.65ZM306.6,850.7L302.92,856.84L309.71,860.52L311.74,859.56L313.19,854.41ZM304.46,891.38L301.34,895.19L297.05,896.06L294.28,894.66L293.11,891.49L296.19,885.5L301.65,885.83L304.8,890.16ZM385.42,866.54L380.07,863.96L376.69,865.78L375.51,874.97L383.79,872.83L385.25,871.32L385.64,866.88ZM303.74,837.23L301.31,843.07L299.66,843.38L293,838.83L292.64,837.66L294.36,835.06L301.15,833ZM381.85,898.91L375.26,892.8L373.1,892.93L370.21,898.23L379.55,910.65ZM368.58,819.26L372,819.54L375.1,817.07L375.74,792.95L366.91,817ZM318.25,868.44L311.25,871.15L308.13,867.34L310.42,862.02L312.43,861.07L317.61,864.55ZM359.84,870.11L362.6,870.84L360.7,880.32L357.42,882.02L353.93,878.08L356.9,871.6ZM360.57,867.47L363.14,868.15L363.22,868.14L367.71,861.61L367.39,859.32L364.52,856.17L358.48,857.58L357.33,859.8ZM316.21,854.28L314.94,855.13L313.62,859.83L318.39,863.03L322.47,859.52L322.63,856.7ZM376.16,828.49L376.85,828.89L383.61,822.84L383.28,821.29L376.47,818.76L373.32,821.26ZM302.52,868.89L307.04,868.27L310.11,872.04L309.62,875.95L304.87,877.76L300.09,872.61ZM306.4,846.58L303.36,843.85L305.74,838.12L312.48,838.06L311.76,843.93ZM316.18,826.7L323.02,819.94L318.47,812.04L310.95,818.94L310.89,823.76ZM279.74,821.06L274.97,821.63L273.74,819.5L285.93,763.07L285.42,814.63ZM369.52,883.02L373.9,877.43L374.51,877.31L379.85,885.07L375.15,890.81L372.88,890.95L369.69,887.5ZM354.4,823.04L351.49,825.4L345.31,823.67L344.98,818.66L351.07,815.66L354.68,818.82ZM266.93,830.1L255.3,828.73L245.93,830.76L266.05,840.52L269.98,839.25L270.58,838.32ZM264.81,848.49L268.58,851.48L273.1,849.71L273.55,848.92L270.24,841.14L266.71,842.29ZM293.32,959.68L295.69,898.81L292.86,897.38L286.58,901.93L284.53,935.26L289.05,991.37ZM356.85,885.87L351.77,889.7L356.51,897.12L360.27,894.56L360.95,890.48ZM272.17,889.77L276.72,895.03L276.76,895.5L272.39,901L267.63,899.53L264.22,894.68ZM342.43,870.91L338.47,872.49L336.06,878.48L343.11,883.13L346.72,878.05L343.54,871.21ZM378.22,833.9L382.97,835.51L382.32,843.05L375.28,840.68L374.89,840.01ZM351.7,846.95L345.59,838.8L352.5,834.79L355.41,836.05L358,842.68L352.27,847.04ZM320.98,870.66L320.41,876.77L321.98,878.43L327.81,877.03L325.97,870.71ZM275.94,838.17L272.21,839.41L271.64,840.3L275.13,848.5L280.87,846.23L280.14,840.27ZM330.45,844.06L337.61,841.85L339.88,838.4L336.34,832.84L333.94,832.13L327.5,837.29L330.37,844.03ZM275.93,850.29L281.52,848.07L285.35,849.74L285.09,855.8L279.44,858.13L275.47,851.09ZM315.99,848.41L312.36,845.12L306.97,847.78L307.47,849.67L313.57,853.1L314.86,852.24ZM334.64,855.01L335.46,858.55L340.6,860.68L344.52,857.2L344.14,853.33L340.33,851.76L334.65,854.98ZM379.21,853.93L380.67,855.4L386.96,854.78L388.24,850.64L385.6,846.83L383.84,846.43L378.98,851.65ZM306.62,905.14L294.97,961.9L297.43,898.69L301.98,897.77ZM345.59,890.34L345.39,893.55L351.92,900.71L354.99,899.15L355.66,897.52L351.05,890.29ZM301.74,827.27L297.67,823.07L292.99,823.57L291.23,826.32L293.77,833.49L300.8,831.35ZM313.92,898.4L307.29,892.15L307.65,890.85L312.89,888.88L317.62,894.29ZM285.55,890.25L279.02,894.81L279.06,895.3L285.35,900.57L292.03,895.74L290.76,892.3ZM385.91,865.09L380.84,862.65L380.82,856.83L387.09,856.21L388.28,858.01ZM330.47,867.33L336.92,871.72L334.41,877.96L332.09,878.92L328.82,876.79L326.95,870.36ZM329.03,888.22L331.63,891.36L331.11,898.43L325.26,898.88L321.89,894.27L325.28,888.52ZM273.08,863.55L277.43,862.78L280.33,868.83L277.18,873.29L271.01,870.8L270.07,868.07ZM350.82,827.39L351.29,833.24L345.09,836.84L342.97,836.45L339.42,830.86L344.87,825.73ZM369.3,857.66L377.19,854.13L376.96,851.86L373.19,849.01L367.29,850.64L366.31,854.38ZM365.01,832.71L366.42,838.8L362.95,842.62L359.18,842.09L356.67,835.66L363.71,831.63ZM309.92,817.94L302.53,812.53L291.3,752.26L284.49,374.95L317.69,810.82ZM367.19,898.63L362.06,905.08L356.54,899.83L357.23,898.17L360.98,895.62ZM355.89,883.12L355.63,884.79L351.01,888.28L345.9,888.32L345.3,887.63L344.83,884.17L348.31,879.29L352.61,879.41ZM377.21,817.08L383.79,819.53L385.08,817.48L379.28,784.25L377.85,793.42ZM312.52,835.98L305.67,836.04L303.08,831.82L303.99,827.89L309.73,825.92L314.94,828.81L315.7,833.88ZM344.73,851.82L340.97,850.27L339.78,843.22L342.21,839.53L344.47,839.94L350.32,847.74ZM356.16,823.34L363.15,826.76L367.25,820.53L365.43,818.06L360.92,816.64L356.48,818.78ZM258.72,864.27L36.93,876.74L214.36,882.77L262.34,877.95L268.96,871.73L267.93,868.75ZM274.02,888.35L278.41,893.43L284.57,889.12L282.82,882.69L279.08,880.94L274.14,886.48ZM325.16,856.38L332.58,855.65L333.35,858.97L329.98,863.85L324.52,859.64L324.68,856.81ZM317.56,848.77L319.93,847.3L324.31,848.46L323.91,855.1L323.38,855.58L316.33,852.92ZM327.92,878.15L322.36,879.48L322.12,884.07L325.16,886.52L328.72,886.24L330.99,880.14ZM331.3,865.04L334.91,859.8L340.1,861.94L341.71,868.9L337.66,870.52L331.31,866.2ZM347.54,867.34L344.14,869.04L342.98,868.73L341.33,861.61L345.36,858.03L350.15,861ZM372.97,847.76L373.83,841.47L373.42,840.78L367.67,839.85L364.09,843.79L366.71,849.48ZM301.64,856.31L301.99,856.21L305.6,850.18L305.07,848.17L301.81,845.25L300.08,845.57L296.48,850.38L297.39,853.89ZM386.95,881.74L382.5,885.14L386.7,889.1L396.36,883.52ZM300.93,857.5L298.74,862.64L291.82,862.65L291.02,859.61L296.72,855.11ZM273.96,902.11L282,934.98L284.04,901.78L278.15,896.83ZM275.37,836.44L271.59,837.7L268.06,829.76L273.41,826.12L276.83,831.58ZM375.37,865.72L369.44,862.59L364.69,869.48L373.4,874.89L373.99,874.78L374.24,874.53ZM266.45,856.15L267.25,853.2L263.45,850.19L39.04,872.92L52.51,872.95L258.84,861.36ZM332.82,829.92L328.36,822.31L324.65,821.34L317.58,828.32L318.38,833.64L320.9,835.11L325.78,835.56ZM386.07,844.81L391.49,839.91L385.29,835.22L384.08,835.61L383.44,843.15L384.3,844.4ZM325.46,900.73L331.12,900.3L331.55,900.71L333.89,929.41L329.79,1006.22L321.87,905.55ZM387.18,867.03L386.79,871.45L406.68,879.96L985.95,904.59L1566.84,925.18L412.58,864.3ZM310.09,877.68L312,879.35L312.94,885.37L312.02,886.73L307.02,888.61L303.82,884.22L305.63,879.38ZM378.09,911.62L395.23,1054.93L362.99,905.47L367.79,899.45L368.83,899.3ZM355.73,871.07L352.77,877.54L348.21,877.42L344.97,870.45L348.28,868.79ZM387.22,865.35L389.5,858.54L410.7,863.15L387.41,865.66ZM361.82,880.39L368.09,881.79L372.17,876.56L363.71,871.32L363.63,871.33ZM313,899.13L312.95,900.78L307.99,904.04L303.6,897.05L306.73,893.22ZM290.09,863.13L288.39,867.49L282.24,868.34L279.05,861.69L279.91,859.72L285.88,857.26L289.29,860.05ZM277.99,830.78L274.71,825.56L275.49,823.46L279.93,822.93L284.05,827.41L282.89,830.13ZM377.93,829.86L384.46,824.01L388.51,827.87L384.66,833.28L383.51,833.65L378.99,832.11ZM376.58,876.6L376.35,876.83L381.15,883.8L381.73,883.86L385.99,880.61L384.01,874.69ZM299.16,873.36L304.05,878.63L302.08,883.9L296.05,883.53L293.03,878.99L294.27,874.54ZM302.11,858.02L302.45,857.93L309.05,861.5L306.8,866.7L302.32,867.31L299.93,863.14ZM298.61,863.99L300.88,867.95L298.6,871.46L294.09,872.54L290.48,868.07L292.07,864.01ZM332.77,880.58L335.1,879.61L342.45,884.48L342.96,888.22L332.99,890.26L330.35,887.09ZM308.92,823.64L308.97,818.93L302,813.82L299.35,821.6L303.24,825.59ZM386.87,845.83L392.42,840.81L449.1,832.78L745.97,820.7L389.6,849.76ZM351.19,901.32L350.44,902.47L343.3,902.62L341.27,899.55L344.72,894.22ZM355.81,824.84L352.95,827.16L353.43,833.14L356.1,834.29L362.77,830.48L362.18,827.95ZM271.27,888.21L263.23,893.17L215.3,885.05L262.59,880.3L271.39,886.26ZM268.71,856.75L269.5,853.82L274.02,852.04L277.89,858.9L277.1,860.71L272.7,861.5ZM267.53,857.4L271.82,862.51L268.55,867.43L259.38,862.98ZM324.19,887.93L320.84,893.61L318.53,893.53L313.76,888.05L314.75,886.61L321.01,885.38ZM350.28,814.09L351.87,634.46L348.92,249.16L339.03,812.86L344.22,817.06ZM375.08,830.36L375.79,830.78L376.92,833.16L373.56,839.31L368.02,838.41L366.61,832.36ZM314.82,899.19L314.76,900.92L320.43,904.5L324.03,899.66L320.76,895.18L318.49,895.1ZM361.36,881.59L368.07,883.08L368.24,887.55L361.78,889.71L357.74,885.15L358.02,883.33ZM362.33,890.84L361.71,894.63L367.5,897.43L368.54,897.29L371.4,892.04L368.41,888.81ZM333.94,853.77L339.65,850.54L338.44,843.36L330.64,845.78ZM359.14,868.54L355.6,860.14L351.12,861.42L348.52,867.73L356.14,870.06ZM350.72,859.95L346.05,857.05L345.68,853.17L351.35,849.03L351.9,849.13L356.32,856.32L355.09,858.7ZM368.42,821.76L371.76,822.03L374.5,828.99L366.53,830.87L365.31,829.87L364.73,827.36ZM392.23,839.29L450.44,831.04L389.97,828.37L385.71,834.35ZM299.12,844.72L291.95,839.83L287.83,848.24L295.42,849.65ZM379.45,862.81L379.42,856.66L377.89,855.1L369.53,858.85L369.88,861.37L376.07,864.63ZM396.79,884.98L405.09,883.69L929.27,905.98L387.3,895.32L387.54,890.32ZM319.54,870.83L319.02,876.49L313.46,877.67L311.57,876.02L312.03,872.39L318.45,869.91ZM320.26,846.26L320.72,837.26L325.58,837.7L328.71,845.04L324.54,847.39ZM335.9,927.88L333.68,900.79L339.98,900.64L341.85,903.48ZM284.21,830.76L285.44,827.88L290.11,826.65L292.7,833.95L290.88,836.69L286.37,835.63ZM286.18,888.76L284.39,882.15L291.61,880.11L294.49,884.44L291.24,890.74ZM381.47,886.19L380.86,886.13L376.41,891.56L382.99,897.66L385.46,895.43L385.7,890.18ZM289.85,825.46L285.1,826.71L280.66,821.88L286.35,815.43L291.66,822.61ZM356.05,817.21L352.48,814.09L354.07,635.5L360.11,815.27ZM329.57,865.06L323.56,860.43L319.06,864.3L319.7,868.24L320.91,869.26L326.03,869.31L329.58,866.26ZM384.99,873.99L387.15,880.42L396.95,882.28L405.96,880.88L386.42,872.51ZM276.61,836.78L280.85,838.88L285.24,836.05L283.13,831.29L278.06,831.97ZM324.82,855.06L332.74,854.28L332.76,854.25L329.47,846.28L329.38,846.24L325.21,848.59ZM377.91,850.82L382.96,845.41L382.07,844.11L374.83,841.68L373.98,847.86ZM321.06,879.31L319.48,877.64L313.44,878.93L314.46,885.39L320.8,884.14Z" fill="#fdfbfa" stroke="#fdfbfa" stroke-width="2.2" stroke-linejoin="round"/>
<path d="M378.7,776.34L386.01,818.22M389.89,827.54L458.72,830.58M389.89,827.54L384.79,822.68M458.72,830.58L805.75,816.45M386.01,818.22L384.38,820.8M384.79,822.68L384.38,820.8M285.34,901.53L282.8,942.99M285.34,901.53L293.15,895.88M293.15,895.88L296.68,897.66M296.68,897.66L293.73,973.36M282.8,942.99L288.42,1012.77M288.42,1012.77L293.73,973.36M296.68,897.66L302.14,896.55M293.73,973.36L307.69,905.39M302.14,896.55L307.69,905.39M351.23,902.97L342.82,903.16M342.82,903.16L335.23,934.29M335.23,934.29L330.29,1026.82M340.44,899.53L342.82,903.16M340.44,899.53L332.4,899.73M332.4,899.73L335.23,934.29M340.44,899.53L344.5,893.26M351.23,902.97L352.12,901.62M344.5,893.26L352.12,901.62M401.4,1088.39L362.01,905.78M362.01,905.78L355.71,899.79M352.12,901.62L355.71,899.79M389.89,827.54L385.04,834.35M458.72,830.58L392.46,839.96M385.04,834.35L392.46,839.96M378.7,776.34L376.9,787.89M384.38,820.8L376.1,817.71M376.9,787.89L376.1,817.71M374.38,840.99L373.92,840.2M374.38,840.99L382.82,843.83M383.59,834.81L382.82,843.83M383.59,834.81L377.91,832.88M373.92,840.2L377.91,832.88M384.79,822.68L376.56,830.05M385.04,834.35L383.59,834.81M377.91,832.88L376.56,830.05M285.34,901.53L277.99,895.36M282.8,942.99L272.75,901.95M277.99,895.36L272.75,901.95M272.75,901.95L267.05,900.19M292.12,879.03L295.59,884.25M292.12,879.03L283.4,881.48M295.59,884.25L291.67,891.85M283.4,881.48L285.57,889.46M291.67,891.85L285.57,889.46M293.15,895.88L291.67,891.85M277.99,895.36L277.93,894.79M277.93,894.79L285.57,889.46M307.69,905.39L313.94,901.27M330.29,1026.82L320.74,905.55M313.94,901.27L320.74,905.55M332.4,899.73L331.89,899.23M331.89,899.23L325.07,899.75M320.74,905.55L325.07,899.75M306.53,890.17L306.09,891.72M306.53,890.17L312.78,887.81M306.09,891.72L314.01,899.18M312.78,887.81L318.42,894.28M318.42,894.28L314.01,899.18M302.52,884.67L295.59,884.25M302.52,884.67L306.53,890.17M302.14,896.55L306.09,891.72M313.94,901.27L314.01,899.18M321.14,894.37L325.07,899.75M321.14,894.37L318.42,894.28M344.5,893.26L344.73,889.5M355.71,899.79L356.49,897.89M356.49,897.89L351.11,889.45M351.11,889.45L344.73,889.5M332.5,890.98L331.89,899.23M332.5,890.98L343.97,888.63M343.97,888.63L344.73,889.5M362.01,905.78L367.87,898.41M356.49,897.89L360.78,894.98M360.78,894.98L367.87,898.41M805.75,816.45L389.16,850.42M392.46,839.96L385.97,845.83M389.16,850.42L385.97,845.83M382.82,843.83L383.85,845.34M383.85,845.34L385.97,845.83M363.23,843.64L366.23,850.17M363.23,843.64L367.33,839.13M374.38,840.99L373.39,848.19M367.33,839.13L373.92,840.2M366.23,850.17L373.39,848.19M383.85,845.34L377.97,851.65M373.39,848.19L377.97,851.65M389.16,850.42L387.62,855.43M380.01,856.19L387.62,855.43M380.01,856.19L378.25,854.4M377.97,851.65L378.25,854.4M366.23,850.17L365.04,854.71M378.25,854.4L368.67,858.69M365.04,854.71L368.67,858.69M286.43,814.42L279.91,821.81M286.43,814.42L292.51,822.64M279.91,821.81L285,827.34M285,827.34L290.43,825.9M292.51,822.64L290.43,825.9M274.43,822.46L279.91,821.81M274.43,822.46L273.02,820.02M273.02,820.02L287.02,755.21M287.02,755.21L286.43,814.42M287.06,848.61L291.76,839.02M287.06,848.61L295.73,850.23M291.76,839.02L299.94,844.6M295.73,850.23L299.94,844.6M286.11,856.4L279.15,859.27M286.11,856.4L286.42,848.94M279.15,859.27L274.25,850.6M286.42,848.94L281.71,846.88M281.71,846.88L274.82,849.61M274.25,850.6L274.82,849.61M266.16,841.22L263.76,849.06M266.16,841.22L243.24,830.08M263.76,849.06L-18.36,877.64M268.54,852.85L263.76,849.06M268.54,852.85L274.25,850.6M270.63,839.76L274.82,849.61M270.63,839.76L266.16,841.22M253.91,827.78L265.92,817.72M253.91,827.78L243.24,830.08M301.35,812.38L310.02,818.74M301.35,812.38L288.18,741.69M280.19,299.06L288.18,741.69M280.19,299.06L319.13,810.38M319.13,810.38L310.02,818.74M287.02,755.21L288.18,741.69M298.06,822.05L301.35,812.38M298.06,822.05L292.51,822.64M265.92,817.72L273.02,820.02M329,821.1L337.45,813.03M329,821.1L324.66,819.96M324.66,819.96L319.13,810.38M337.45,813.03L349.68,115.76M301.77,831.85L304.95,837.05M301.77,831.85L302.89,827.02M302.89,827.02L309.95,824.59M304.95,837.05L313.38,836.97M309.95,824.59L316.36,828.15M316.36,828.15L317.3,834.39M317.3,834.39L313.38,836.97M293.44,834.39L291.33,837.58M293.44,834.39L301.77,831.85M291.33,837.58L291.76,839.02M301.97,844.22L299.94,844.6M301.97,844.22L304.95,837.05M298.06,822.05L302.89,827.02M293.44,834.39L290.43,825.9M310.02,818.74L309.95,824.59M324.66,819.96L316.36,828.15M329,821.1L334.24,830.03M320.25,836.12L317.3,834.39M320.25,836.12L325.98,836.65M325.98,836.65L334.24,830.03M337.45,813.03L343.87,818.24M349.68,115.76L353.34,592.36M353.34,592.36L351.36,814.55M343.87,818.24L351.36,814.55M334.24,830.03L337.32,830.94M337.32,830.94L344.28,824.39M343.87,818.24L344.28,824.39M344.56,838.57L352.47,833.98M344.56,838.57L341.85,838.07M352.47,833.98L351.87,826.51M341.85,838.07L337.32,830.94M344.28,824.39L351.87,826.51M363.23,843.64L358.77,843.02M358.77,843.02L355.8,835.42M355.8,835.42L364.12,830.66M367.33,839.13L365.66,831.93M364.12,830.66L365.66,831.93M376.56,830.05L375.72,829.56M365.66,831.93L375.72,829.56M376.1,817.71L372.27,820.77M372.27,820.77L375.72,829.56M262.95,894.37L272.48,888.49M262.95,894.37L206.09,884.74M206.09,884.74L262.2,879.1M262.2,879.1L272.64,886.17M272.64,886.17L272.48,888.49M277.93,894.79L272.48,888.49M267.05,900.19L262.95,894.37M-1.43,877.69L-18.36,877.64M-1.43,877.69L206.09,884.74M278.76,879.31L272.64,886.17M278.76,879.31L277.84,875.02M269.94,871.83L277.84,875.02M269.94,871.83L262.2,879.1M278.76,879.31L283.4,881.48M321.34,884.65L321.64,879.01M321.34,884.65L325.09,887.66M321.64,879.01L328.48,877.38M325.09,887.66L329.46,887.32M329.46,887.32L332.25,879.83M332.25,879.83L328.48,877.38M313.95,886.11L321.34,884.65M313.95,886.11L312.76,878.57M312.76,878.57L319.8,877.07M319.8,877.07L321.64,879.01M313.95,886.11L312.78,887.81M321.14,894.37L325.09,887.66M332.5,890.98L329.46,887.32M334.92,878.72L343.39,884.32M334.92,878.72L332.25,879.83M343.39,884.32L343.97,888.63M372.64,891.81L369.14,898.23M372.64,891.81L375.25,891.65M375.25,891.65L383.25,899.05M369.14,898.23L380.46,913.29M380.46,913.29L383.25,899.05M401.4,1088.39L380.46,913.29M367.87,898.41L369.14,898.23M1748.43,933.72L1077.75,909.94M1077.75,909.94L386.24,896.35M386.24,896.35L383.25,899.05M334.92,878.72L337.82,871.53M343.39,884.32L347.74,878.21M347.74,878.21L343.91,870M337.82,871.53L342.58,869.63M343.91,870L342.58,869.63M386.54,889.97L381.4,885.13M386.54,889.97L398.35,883.15M381.4,885.13L386.84,880.97M398.35,883.15L386.84,880.97M386.24,896.35L386.54,889.97M380.66,885.06L381.4,885.13M380.66,885.06L375.25,891.65M1077.75,909.94L408.94,881.51M408.94,881.51L398.35,883.15M408.94,881.51L385.98,871.68M386.84,880.97L384.3,873.41M385.98,871.68L384.3,873.41M374.52,876.15L380.66,885.06M374.52,876.15L374.81,875.85M384.3,873.41L374.81,875.85M374.52,876.15L373.81,876.28M373.81,876.28L363.4,869.82M363.4,869.82L369.08,861.58M369.08,861.58L376.17,865.32M374.81,875.85L376.17,865.32M380.01,856.19L380.04,863.23M369.08,861.58L368.67,858.69M376.17,865.32L380.04,863.23M415.76,863.43L386.42,866.58M415.76,863.43L389.06,857.62M389.06,857.62L386.18,866.19M386.42,866.58L386.18,866.19M1748.43,933.72L415.76,863.43M385.98,871.68L386.42,866.58M387.62,855.43L389.06,857.62M380.04,863.23L386.18,866.19M360.78,894.98L361.54,890.34M372.64,891.81L368.99,887.85M368.99,887.85L361.54,890.34M373.81,876.28L368.79,882.71M368.99,887.85L368.79,882.71M351.11,889.45L356.89,885.09M361.54,890.34L356.89,885.09M363.4,869.82L363.31,869.84M368.79,882.71L361.07,880.99M363.31,869.84L361.07,880.99M347.74,878.21L353.11,878.36M356.89,885.09L357.21,883M353.11,878.36L357.21,883M357.21,883L361.07,880.99M312.32,860.18L313.99,854.25M312.32,860.18L309.99,861.28M309.99,861.28L302.18,857.05M302.18,857.05L306.41,849.98M313.99,854.25L306.41,849.98M301.97,844.22L305.78,847.64M313.38,836.97L312.48,844.33M312.48,844.33L305.78,847.64M302.52,884.67L304.79,878.61M312.76,878.57L310.37,876.47M304.79,878.61L310.37,876.47M292.12,879.03L293.55,873.91M304.79,878.61L299.17,872.55M293.55,873.91L299.17,872.55M277.84,875.02L281.86,869.31M281.86,869.31L289.03,868.33M293.55,873.91L289.03,868.33M307.33,867.45L302.02,868.17M307.33,867.45L310.95,871.88M310.37,876.47L310.95,871.88M299.17,872.55L302.02,868.17M253.91,827.78L267.16,829.34M270.63,839.76L271.32,838.71M271.32,838.71L267.16,829.34M274.43,822.46L273.47,825.05M267.16,829.34L273.47,825.05M280.84,839.73L275.79,837.22M280.84,839.73L286.08,836.35M286.08,836.35L283.57,830.69M283.57,830.69L277.51,831.49M277.51,831.49L275.79,837.22M281.71,846.88L280.84,839.73M271.32,838.71L275.79,837.22M291.33,837.58L286.08,836.35M287.06,848.61L286.42,848.94M285,827.34L283.57,830.69M273.47,825.05L277.51,831.49M268.74,868.34L272.58,862.55M268.74,868.34L257.96,863.11M272.58,862.55L267.54,856.56M257.96,863.11L267.54,856.56M278.15,861.56L281.86,869.31M278.15,861.56L272.58,862.55M269.94,871.83L268.74,868.34M-1.43,877.69L257.96,863.11M268.54,852.85L267.54,856.56M279.15,859.27L278.15,861.56M363.39,827.5L368.05,820.42M363.39,827.5L355.44,823.62M360.85,816.01L365.98,817.61M360.85,816.01L355.8,818.43M365.98,817.61L368.05,820.42M355.8,818.43L355.44,823.62M364.12,830.66L363.39,827.5M372.27,820.77L368.05,820.42M355.8,835.42L352.47,833.98M351.87,826.51L355.44,823.62M353.34,592.36L360.85,816.01M376.9,787.89L365.98,817.61M351.36,814.55L355.8,818.43M358.77,843.02L352.2,848.01M365.04,854.71L357.41,856.5M357.41,856.5L352.2,848.01M344.56,838.57L351.56,847.9M352.2,848.01L351.56,847.9M340.36,850.92L344.87,852.78M340.36,850.92L338.94,842.49M338.94,842.49L341.85,838.07M351.56,847.9L344.87,852.78M338.94,842.49L329.77,845.33M325.98,836.65L329.67,845.29M329.67,845.29L329.77,845.33M340.36,850.92L333.65,854.73M329.77,845.33L333.65,854.73M340.69,861.47L345.31,857.35M340.69,861.47L334.61,858.95M334.61,858.95L333.64,854.77M344.87,852.78L345.31,857.35M333.65,854.73L333.64,854.77M323.49,859.79L330.37,865.1M323.49,859.79L318.34,864.22M318.34,864.22L319.07,868.74M326.32,869.96L320.46,869.9M326.32,869.96L330.38,866.46M319.07,868.74L320.46,869.9M330.38,866.46L330.37,865.1M312.32,860.18L318.34,864.22M309.99,861.28L307.33,867.45M310.95,871.88L319.07,868.74M319.8,877.07L320.46,869.9M328.48,877.38L326.32,869.96M337.82,871.53L330.38,866.46M340.69,861.47L342.58,869.63M334.61,858.95L330.37,865.1M290.07,859.65L291.01,863.24M290.07,859.65L296.8,854.33M291.01,863.24L299.19,863.22M299.19,863.22L301.77,857.16M296.8,854.33L301.77,857.16M286.11,856.4L290.07,859.65M289.03,868.33L291.01,863.24M295.73,850.23L296.8,854.33M302.02,868.17L299.19,863.22M302.18,857.05L301.77,857.16M305.78,847.64L306.41,849.98M355.97,859.29L350.81,860.77M355.97,859.29L360.06,868.98M350.81,860.77L347.81,868.04M347.81,868.04L356.59,870.73M356.59,870.73L360.06,868.98M357.41,856.5L355.97,859.29M345.31,857.35L350.81,860.77M363.31,869.84L360.06,868.98M343.91,870L347.81,868.04M353.11,878.36L356.59,870.73M324.75,848.05L324.29,855.68M324.75,848.05L319.72,846.72M319.72,846.72L317,848.41M323.69,856.23L324.29,855.68M323.69,856.23L315.59,853.18M315.59,853.18L317,848.41M329.67,845.29L324.75,848.05M333.64,854.77L324.29,855.68M320.25,836.12L319.72,846.72M312.48,844.33L317,848.41M323.49,859.79L323.69,856.23M313.99,854.25L315.59,853.18" stroke="#c99a7a" stroke-width="0.4" fill="none" opacity="0.35"/>
<circle cx="374.38" cy="840.99" r="0.82" fill="#c08a64" opacity="0.5"/>
<circle cx="384.38" cy="820.8" r="1.03" fill="#c08a64" opacity="0.5"/>
<circle cx="278.76" cy="879.31" r="0.95" fill="#c08a64" opacity="0.5"/>
<circle cx="334.92" cy="878.72" r="0.84" fill="#c08a64" opacity="0.5"/>
<circle cx="302.52" cy="884.67" r="0.91" fill="#c08a64" opacity="0.5"/>
<circle cx="302.14" cy="896.55" r="0.52" fill="#c08a64" opacity="0.5"/>
<circle cx="344.5" cy="893.26" r="0.9" fill="#c08a64" opacity="0.5"/>
<circle cx="274.43" cy="822.46" r="0.97" fill="#c08a64" opacity="0.5"/>
<circle cx="298.06" cy="822.05" r="1.1" fill="#c08a64" opacity="0.5"/>
<circle cx="383.59" cy="834.81" r="0.93" fill="#c08a64" opacity="0.5"/>
<circle cx="382.82" cy="843.83" r="0.66" fill="#c08a64" opacity="0.5"/>
<circle cx="344.56" cy="838.57" r="0.81" fill="#c08a64" opacity="0.5"/>
<circle cx="352.47" cy="833.98" r="0.69" fill="#c08a64" opacity="0.5"/>
<circle cx="277.99" cy="895.36" r="0.95" fill="#c08a64" opacity="0.5"/>
<circle cx="332.5" cy="890.98" r="0.69" fill="#c08a64" opacity="0.5"/>
<circle cx="312.76" cy="878.57" r="1.09" fill="#c08a64" opacity="0.5"/>
<circle cx="319.8" cy="877.07" r="0.53" fill="#c08a64" opacity="0.5"/>
<circle cx="283.4" cy="881.48" r="0.58" fill="#c08a64" opacity="0.5"/>
<circle cx="321.14" cy="894.37" r="1" fill="#c08a64" opacity="0.5"/>
<circle cx="318.42" cy="894.28" r="0.95" fill="#c08a64" opacity="0.5"/>
<circle cx="351.11" cy="889.45" r="1" fill="#c08a64" opacity="0.5"/>
<circle cx="360.78" cy="894.98" r="1.06" fill="#c08a64" opacity="0.5"/>
<circle cx="367.87" cy="898.41" r="0.8" fill="#c08a64" opacity="0.5"/>
<circle cx="383.85" cy="845.34" r="1.08" fill="#c08a64" opacity="0.5"/>
<circle cx="363.4" cy="869.82" r="0.54" fill="#c08a64" opacity="0.5"/>
<circle cx="369.08" cy="861.58" r="1.04" fill="#c08a64" opacity="0.5"/>
<circle cx="270.63" cy="839.76" r="0.51" fill="#c08a64" opacity="0.5"/>
<circle cx="291.33" cy="837.58" r="0.71" fill="#c08a64" opacity="0.5"/>
<circle cx="279.15" cy="859.27" r="0.58" fill="#c08a64" opacity="0.5"/>
<circle cx="286.42" cy="848.94" r="0.77" fill="#c08a64" opacity="0.5"/>
<circle cx="274.82" cy="849.61" r="0.82" fill="#c08a64" opacity="0.5"/>
<circle cx="269.94" cy="871.83" r="0.68" fill="#c08a64" opacity="0.5"/>
<circle cx="277.84" cy="875.02" r="0.8" fill="#c08a64" opacity="0.5"/>
<circle cx="301.77" cy="831.85" r="0.51" fill="#c08a64" opacity="0.5"/>
<circle cx="341.85" cy="838.07" r="0.77" fill="#c08a64" opacity="0.5"/>
<circle cx="337.32" cy="830.94" r="0.62" fill="#c08a64" opacity="0.5"/>
<circle cx="351.87" cy="826.51" r="0.76" fill="#c08a64" opacity="0.5"/>
<circle cx="364.12" cy="830.66" r="0.68" fill="#c08a64" opacity="0.5"/>
<circle cx="375.72" cy="829.56" r="0.71" fill="#c08a64" opacity="0.5"/>
<circle cx="272.48" cy="888.49" r="0.91" fill="#c08a64" opacity="0.5"/>
<circle cx="321.64" cy="879.01" r="0.8" fill="#c08a64" opacity="0.5"/>
<circle cx="332.25" cy="879.83" r="1" fill="#c08a64" opacity="0.5"/>
<circle cx="372.64" cy="891.81" r="0.75" fill="#c08a64" opacity="0.5"/>
<circle cx="369.14" cy="898.23" r="0.95" fill="#c08a64" opacity="0.5"/>
<circle cx="381.4" cy="885.13" r="1.02" fill="#c08a64" opacity="0.5"/>
<circle cx="374.81" cy="875.85" r="0.52" fill="#c08a64" opacity="0.5"/>
<circle cx="361.54" cy="890.34" r="0.6" fill="#c08a64" opacity="0.5"/>
<circle cx="293.55" cy="873.91" r="1.07" fill="#c08a64" opacity="0.5"/>
<circle cx="280.84" cy="839.73" r="0.5" fill="#c08a64" opacity="0.5"/>
<circle cx="286.08" cy="836.35" r="0.81" fill="#c08a64" opacity="0.5"/>
<circle cx="277.51" cy="831.49" r="1.08" fill="#c08a64" opacity="0.5"/>
<circle cx="351.56" cy="847.9" r="0.68" fill="#c08a64" opacity="0.5"/>
<circle cx="345.31" cy="857.35" r="0.56" fill="#c08a64" opacity="0.5"/>
<circle cx="323.49" cy="859.79" r="1.04" fill="#c08a64" opacity="0.5"/>
<circle cx="290.07" cy="859.65" r="0.89" fill="#c08a64" opacity="0.5"/>
<circle cx="291.01" cy="863.24" r="1.06" fill="#c08a64" opacity="0.5"/>
<circle cx="360.06" cy="868.98" r="0.57" fill="#c08a64" opacity="0.5"/>
<circle cx="324.75" cy="848.05" r="1" fill="#c08a64" opacity="0.5"/>
<circle cx="319.72" cy="846.72" r="0.99" fill="#c08a64" opacity="0.5"/>
<circle cx="323.69" cy="856.23" r="0.62" fill="#c08a64" opacity="0.5"/>
<circle cx="324.29" cy="855.68" r="0.71" fill="#c08a64" opacity="0.5"/>
</g>
<rect x="269" y="819.8" width="116.4" height="78.8" fill="none" stroke="#1a1a1a" stroke-width="1.3" />
<g clip-path="url(#clO42)">
<rect x="269" y="901.4" width="116.4" height="79.6" fill="#ecd7c6" />
<path d="M312.87,979.55L309.35,978.62L306.64,980.59L304.92,998.67L308.26,1025.74L317.05,985.7ZM343.44,911.47L345.42,907.58L345.29,906.78L340.23,904.41L335.8,905.92L336.57,910.87L338.45,912.17ZM274.77,976.98L273.35,980.18L268.98,981.44L259.09,975.49L268.53,971.36L272.49,972.89ZM350.94,899.56L359.08,901.1L360,900.31L367.81,854.38L362.3,729L348.85,895.24ZM376.57,911.18L374.77,918.13L369.5,918.32L366.08,913.74L370.12,909.7ZM282.07,918.44L279.08,922.42L281.55,927.24L287.45,927.88L290.76,925.04L287.76,918.34L286.85,917.78ZM323.77,919.25L318.16,915.91L314.31,917.69L313.62,924.67L316.97,927.56L322.09,925.45ZM316.53,963.66L317.08,963.48L325.8,967.24L322.39,972.86L319.32,972.26L315.79,965.53ZM324.53,949.84L330.51,945.25L335.1,949.86L334.42,952.11L328.46,953.76ZM297.16,906.19L298.39,900.47L303.06,897.14L305.43,900.22L304.37,908.15L298.41,907.58L297.21,906.36ZM324.52,905.68L318.76,909.44L315.56,906.11L316.24,900.7L316.93,900.11L321.65,901L324.84,904.91ZM350.57,928.58L348.08,929.12L347.72,928.89L344.25,922.01L347.17,918.67L352.56,919.06L354.96,921.46ZM367.47,980.59L363.39,977.59L358.29,982.8L363.68,994.73L368.48,984.03ZM336.75,980.41L342.11,977.02L343.05,977.78L344.56,984.92L337.7,983.93ZM286.9,901.77L281.84,897.58L284.7,872.24L290.9,896.64L288.38,901.39ZM307.06,914.73L304.17,919.81L306.65,924.92L311.86,924.31L312.52,917.66ZM278.73,965.54L274.76,971.6L277.08,975.76L283.05,974.45L283.4,969.4ZM360.32,971.42L353.85,970.39L354.76,962.93L359.95,962L361.81,964.38ZM340.88,967.75L336.38,962.32L330.98,964.72L330.25,966.34L333.58,971L339.79,970.08ZM333.86,929.94L334.74,931.29L335.03,935.75L330.3,939.54L326.71,937.57L327.92,930.44ZM276.3,901.13L280.01,897.35L282.71,873.48L280.74,832.51L269.92,896.59L275.93,901.22ZM303.48,947.11L306.89,944.99L308.61,940.96L308.03,939.27L302.06,935.45L296.09,940.93L296.38,942.56L301.78,947.06ZM292.21,926.53L288.73,929.52L290.49,937.44L294.57,939.62L300.89,933.82L300.72,931.84L293.65,926.53ZM277.37,978L275.84,981.42L283.45,993.32L288,981.28L286.66,978.31L283.66,976.61ZM278.57,912.87L273.06,911.07L269.96,915.62L269.94,915.94L273.25,920.44L277.36,921.11L280.34,917.14ZM326.27,903.79L323.05,899.84L330.57,887.44L332.44,893.77L331.09,902.51ZM378.72,910.81L386.25,916.19L386.4,918.7L385.41,920.25L378.32,921.31L376.01,918.44L377.81,911.51ZM326.4,981.82L331.06,990.03L316.32,1570.82L307.53,1132.66L311.59,1023.64L319.79,986.3ZM344.9,967.14L347.59,963.4L352.87,962.69L353.44,963.02L352.59,969.99L352.22,970.22ZM358.08,934.44L363.91,927.49L363.74,926.96L356.59,922.12L356.14,922.1L351.68,929.34ZM345.64,939.23L348.66,941.55L347.98,949.79L340.17,947.87L342.28,940.1ZM366.2,926.68L369.99,929.03L375.55,927.38L376.63,922.44L374.52,919.82L369.73,919.99L366.04,926.19ZM272.79,950.51L269.6,944.95L236.47,946.72L219.99,949.53L265.73,956.2ZM367.33,941.74L365.41,946.24L368.14,951.94L369.16,952.12L373.18,950.35L375.26,947.28L373.69,942.54L369.87,940.81ZM375.37,951.78L379.71,958.23L383.61,954.6L381.76,949.48L377.35,948.84ZM302.52,965.35L303.49,960.21L307.09,958.09L310.57,958.58L314.23,962.67L313.46,964.58L307.74,968.38L303.52,966.89ZM377.02,972.75L373.45,968.06L373.27,965.62L373.39,965.44L379.13,963.03L383.58,966.39L383.71,968.71L379.91,973.7ZM346.55,895.02L358.67,745.19L311.46,-4763.76L310.75,-1064.86L333.34,887.2L335.1,893.17L340.96,897.32ZM293.77,964.42L293.27,957.55L287.93,958.25L286.98,960.43L289.2,965.17L291.97,965.72ZM272.82,922.45L268.67,927.57L269.12,931.89L273.6,935.54L275.89,934.86L279.83,928.3L277.21,923.17ZM302.03,998.61L305.26,1024.85L301.05,1138.19L285.36,993.8L289.81,982.03L295.22,982.66ZM376,941.79L382.44,935.86L383.78,935.94L387.77,940.26L385.94,944.89L382.13,947.16L377.55,946.5ZM272.68,936.7L269.86,942.98L233.18,944.94L268.18,933.03ZM274.32,937.67L271.66,943.61L275.01,949.44L277.28,950.08L281.23,948.88L282.26,941.17L276.51,937.01ZM287.76,956.73L283.79,950.72L290.87,949.05L293.64,955.44L293.03,956.04ZM327.96,918.81L334.76,923.39L333.79,928.02L327.71,928.54L324.01,925.88L325.65,919.86ZM353.99,960.75L354.56,961.09L359.4,960.22L360.57,956.24L355.85,951.7L351.58,952.74ZM346.62,930.43L336.92,931.04L337.21,935.68L341.92,938.46L345.12,937.63L346.97,930.65ZM288.89,937.59L283.28,939.71L277.6,935.6L281.3,929.42L287.22,930.07ZM344.49,956.83L338.47,956.98L336.98,952.88L337.66,950.65L340.09,949.45L347.28,951.22L347.86,951.9ZM335.51,980.85L331.29,978.94L328.07,980.51L327.92,980.92L332.61,989.19L336.41,984.19ZM274.96,902.43L269,897.84L266.33,900.15L266.75,904.37L271.91,907.29ZM276.55,952.66L277.51,962L269.27,961.16L266.9,957.98L274.28,952.03ZM302.92,969.04L299.43,974.15L300.38,977.24L305.36,978.7L307.87,976.88L306.85,970.42ZM389.3,929.03L385.83,934.16L389.72,938.38L578.1,931.48L478.54,928.55ZM370.59,938.93L374.67,940.77L381.57,934.41L376.31,929L370.22,930.8ZM323.48,973.56L326.93,967.88L328.84,967.19L332.29,972.02L330.32,976.9L326.94,978.54ZM379.42,907.12L385.19,904.19L386.42,901.22L381.84,896.83L377.26,902.25ZM370.96,965.57L363.02,964.67L361.55,971.65L363.65,974.57L371.15,968.21ZM321.93,974.75L325.19,979.44L325.04,979.86L318.47,984.31L314.6,978.61L319.01,974.17ZM372.52,900.41L372.73,866.99L381.16,895.73L376.18,901.62ZM322.86,927.23L317.65,929.37L317.51,930.47L322.29,938.09L325.43,937.63L326.72,930ZM392.79,952.86L389.09,955.42L384.97,954.25L382.98,948.74L386.92,946.39ZM285.34,907.14L287.23,902.98L288.69,902.6L295.03,907.02L295.09,907.2L287.98,909.81ZM281.39,907.73L276.83,903.4L276.47,903.48L273.5,908.2L273.66,909.69L278.96,911.43ZM282.54,908.28L279.9,912.28L281.74,916.72L286.69,916.04L287.19,910.59L284.55,907.93ZM307.44,898.67L314.64,898.86L315.31,898.29L304.28,757.48L305.06,895.57ZM321.05,948.16L321.58,948.59L323.71,948.77L329.7,944.18L329.28,941.51L325.62,939.5L322.63,939.94L319.84,943.17ZM379.23,910.12L386.75,915.48L389.54,911.28L386.22,905.5L379.8,908.76ZM369.19,908.93L365.37,912.76L364.08,912.56L360.07,907.64L360.68,902.95L361.56,902.21L367.69,903.96ZM377.71,909.48L378.29,908.12L375.88,902.69L372.12,901.45L368.76,903.46L370.35,908.71L376.79,910.18ZM355.29,941.18L349.98,941.99L349.36,949.42L349.93,950.09L351.05,950.42L355.27,949.39L356.74,946.56ZM377.62,927.93L378.75,922.8L385.45,921.79L387.57,927.79L383.96,933.12L382.6,933.05ZM313.43,950.4L318.9,948.58L317.73,943.76L310.82,942.04L309.17,945.91ZM352.59,917.55L353.28,911.34L346.96,908.3L344.95,912.26L347.32,917.17ZM326.68,906.66L329.02,914.28L334.69,911.07L333.96,906.35L331.54,904.72L326.99,905.93ZM344.35,976.18L350.42,975.03L351.66,971.52L344.36,968.45L343.24,968.88L342.16,971.19L343.45,975.45ZM356.35,919.78L354.11,917.53L354.77,911.59L358.79,908.83L362.68,913.6L356.77,919.8ZM296.79,954.81L294.71,955.17L291.82,948.48L295.1,943.78L300.74,948.48ZM368.68,954.66L370.97,963.76L370.85,963.93L363.41,963.08L361.67,960.87L362.84,956.92L367.69,954.49ZM384.98,965.05L388.35,962.31L388.83,956.58L384.62,955.38L380.32,959.38L380.1,961.36ZM356.79,935.43L356.9,936.64L355.02,939.24L349.67,940.06L346.93,937.96L348.7,931.3L350.99,930.81ZM315.74,960.87L316.25,960.69L318.95,958.02L319.93,950.62L319.43,950.21L313.98,952.03L312.35,957.08ZM300.75,966.51L294.8,965.86L293.02,967.15L293.71,971.99L298.08,973.33L301.72,968ZM304.73,-1294.56L297.08,523.71L304.83,742.74L317.03,898.51L322.04,899.46L329.97,886.39ZM343.44,966.03L346.1,962.33L344.48,958.21L338.58,958.36L337.9,961.13L342.33,966.46ZM303.53,933.43L309.28,937.12L315.09,930.29L315.22,929.28L312.08,926.56L306.94,927.16L303.37,931.62ZM346.95,986.5L327.34,2339L354.23,6362.83L362.09,996.53L356.2,983.48L354.27,982.94ZM290.49,947.51L293.6,943.04L293.32,941.43L289.51,939.39L283.99,941.47L282.99,948.98L283.47,949.17ZM277.65,964.57L273.42,971.04L269.13,969.38L269.06,962.25L277.5,963.11L277.5,963.11ZM268.12,917.36L257.34,922.42L267.56,926.42L271.35,921.75ZM302.23,895.59L301.42,751.88L294.13,545.8L284.41,831.7L286.4,873.07L292.3,896.29L297.34,899.09ZM268.34,914.44L262.49,909.14L266.1,905.55L271.22,908.45L271.39,909.97ZM305,980.53L299.77,979L296.5,982.11L303.32,998.1ZM346.71,929.37L336.7,930L335.75,928.56L336.76,923.71L338.38,922.58L343.25,922.53ZM366.1,941.05L364.1,945.74L358.26,946.35L356.7,940.51L358.73,937.7ZM376.28,975.05L369.54,979.89L370.62,983.54L379.12,983.29L380.73,979.86L379.32,976.05ZM267.86,915.88L256.09,921.4L-257.6,952.65L-691.2,958.65L261.54,909.79L267.88,915.54ZM336.34,937.34L331.57,941.17L331.99,943.81L336.54,948.39L338.97,947.18L340.91,940.03ZM265.27,959.38L218.98,952.62L3.2,959.48L257.97,973.41L267.63,969.18L267.56,962.46ZM347.35,906.43L347.48,907.24L353.79,910.27L357.99,907.38L358.6,902.63L350.74,901.14ZM304.65,910.8L304.39,910.55L298.01,909.94L296.38,914.46L298.71,919.23L302.68,919.05L305.72,913.72ZM358.02,920.81L363.78,914.77L365,914.96L368.05,919.04L364.43,925.14ZM301.01,965.05L294.91,964.38L294.4,957.41L295.02,956.79L297.07,956.44L301.97,959.94ZM-224.45,953.02L-1.36,952.8L218.02,945.82L234.97,942.93L267.5,931.86L267.08,927.84L256.64,923.75ZM326.49,959.06L329.09,963.84L328.32,965.56L326.36,966.27L317.32,962.37L320.27,959.45ZM351.9,975.65L353.24,971.87L353.64,971.61L360.14,972.66L362.28,975.62L362.32,976L356.7,981.74L354.76,981.19ZM286.52,957.62L282.46,951.48L281.97,951.28L278,952.48L278.97,961.87L278.97,961.87L285.56,959.81ZM343.08,920.72L338.64,920.77L338.82,913.83L343.53,913.17L345.72,917.7ZM375.64,974.07L371.82,969.04L364.37,975.36L364.41,975.73L368.81,978.97ZM335.23,904.61L339.81,903.04L340.36,898.39L333.98,893.87L332.6,902.84ZM291.58,967.4L292.25,972.16L287.75,976.24L284.87,974.61L285.23,969.53L288.88,966.87ZM292.3,924.37L289.29,917.64L295.4,914.99L297.69,919.67L293.67,924.38ZM308.55,969.78L309.69,976.98L313.32,977.94L318.24,972.99L314.48,965.85ZM387.16,921.27L389.24,927.13L480.1,926.64L388.07,919.84ZM317.6,910.44L314.49,907.21L307.05,910.07L308.07,912.85L313.53,915.79L317.2,914.09ZM327.78,958.47L330.21,962.95L335.58,960.57L336.27,957.77L334.8,953.7L328.92,955.33ZM297.74,974.59L298.75,977.88L295.43,981.03L289.94,980.39L288.61,977.45L293.29,973.22ZM310.75,940.28L310.13,938.48L316.56,930.93L321.45,938.72L318.44,942.19ZM294.69,925.35L298.77,920.56L302.73,920.39L305.33,925.75L301.54,930.49ZM366.77,952.53L361.83,955L357.05,950.39L358.56,947.49L364.08,946.91ZM336.17,979.53L331.71,977.51L333.71,972.57L340.2,971.6L341.57,976.12ZM340.8,903.12L341.34,898.53L347.34,896.07L349.35,900.24L345.95,905.54ZM345.92,984.64L346.4,985.19L353.58,981.69L350.8,976.28L344.41,977.49ZM288.52,910.81L295.14,908.38L296.36,909.61L294.81,913.88L288.93,916.44L288.05,915.9ZM337.54,984.95L333.51,990.24L317.8,1609.29L325.58,2320.55L344.93,986.5L344.44,985.95ZM389.72,940.99L387.88,945.67L393.59,951.97L846.06,933.9L584.65,933.85ZM285.8,961.14L279.63,963.07L279.76,964.4L284.34,968.19L287.89,965.62ZM381.55,975.22L385.58,969.94L410.5,982.11L382.96,979.04ZM368.18,902.49L361.69,900.63L369.56,854.33L371.75,866.08L371.54,900.48ZM302.71,958.75L297.96,955.36L301.72,949.32L303.41,949.37L306.18,956.7ZM325.39,906.56L319.28,910.55L318.84,914.53L324.69,918.02L327.17,916.9L327.99,915.04ZM307.42,956.12L304.74,949.01L308.03,946.97L312.31,951.48L310.67,956.57ZM321.28,950.42L320.21,958.47L326.43,958.09L327.65,954.74L323.52,950.61ZM352.62,961.13L350.23,953.2L349.1,952.86L345.79,957.7L347.4,961.82ZM306.51,908.76L306.26,908.52L307.34,900.39L314.65,900.59L313.99,905.87ZM369.98,954.09L372.39,963.65L378.49,961.09L378.7,959.17L374.07,952.29ZM337.5,913.57L335.58,912.25L329.54,915.67L328.75,917.45L335.72,922.15L337.3,921.04ZM289.23,901.8L291.71,897.11L296.95,900.02L295.61,906.24ZM282.32,906.99L277.44,902.36L281.26,898.47L286.17,902.53L284.3,906.64ZM359.26,935.2L359.37,936.49L366.61,939.77L369.19,938.82L368.84,931.02L364.85,928.55Z" fill="#fdfbfa" stroke="#fdfbfa" stroke-width="2.2" stroke-linejoin="round"/>
<path d="M269.06,982.87L274.62,981.26M354.49,7273.47L323.04,2567.88M302.72,1170.91L283.65,995.39M302.72,1170.91L313.82,1724.61M313.82,1724.61L323.04,2567.88M283.65,995.39L274.62,981.26M389.41,956.17L384.54,954.78M389.41,956.17L393.8,953.14M384.54,954.78L382.18,948.27M382.18,948.27L386.85,945.48M386.85,945.48L393.8,953.14M389.41,956.17L388.86,962.8M943.57,931.18L393.8,953.14M339.5,948.33L348.42,950.53M339.5,948.33L341.91,939.46M349.2,941.11L348.42,950.53M349.2,941.11L345.75,938.47M341.91,939.46L345.75,938.47M330.85,944.15L336.5,949.82M330.85,944.15L330.33,940.87M330.33,940.87L336.24,936.12M339.5,948.33L336.5,949.82M341.91,939.46L336.24,936.12M289.06,981.09L283.65,995.39M289.06,981.09L287.48,977.57M287.48,977.57L283.9,975.55M274.62,981.26L276.43,977.19M283.9,975.55L276.43,977.19M269.06,982.87L256.47,975.29M256.47,975.29L268.49,970.03M268.49,970.03L273.52,971.98M273.52,971.98L276.43,977.19M278.32,962.68L277.17,951.43M278.32,962.68L268.4,961.67M268.4,961.67L265.56,957.84M265.56,957.84L274.44,950.67M274.44,950.67L277.17,951.43M256.47,975.29L-60.39,957.97M268.49,970.03L268.4,961.67M207.98,949.43L-60.39,957.97M207.98,949.43L265.56,957.84M207.98,949.43L228.73,945.9M270.42,943.67L228.73,945.9M270.42,943.67L274.44,950.67M270.42,943.67L273.62,936.54M228.73,945.9L268.51,932.36M268.51,932.36L273.62,936.54M277.17,951.43L281.91,949.99M283.14,940.74L281.91,949.99M283.14,940.74L276.24,935.75M276.24,935.75L273.62,936.54M-60.39,957.97L-333.3,958.24M268.51,932.36L268,927.43M268,927.43L255.23,922.43M255.23,922.43L-333.3,958.24M-830.07,965.1L-333.3,958.24M265.95,904.68L265.44,899.47M265.95,904.68L261.48,909.13M-830.07,965.1L261.48,909.13M295.64,981.85L303.9,1001.23M295.64,981.85L299.6,978.08M299.6,978.08L305.94,979.93M303.9,1001.23L305.94,979.93M302.72,1170.91L307.84,1033.14M289.06,981.09L295.64,981.85M307.84,1033.14L303.9,1001.23M354.3,962.23L360.35,961.14M354.3,962.23L353.23,970.93M360.35,961.14L362.53,963.92M353.23,970.93L360.79,972.14M362.53,963.92L360.79,972.14M350.57,951.8L349.14,951.37M350.57,951.8L353.58,961.82M349.14,951.37L344.95,957.48M344.95,957.48L346.99,962.7M346.99,962.7L353.58,961.82M354.3,962.23L353.58,961.82M361.81,956.18L360.35,961.14M361.81,956.18L355.91,950.49M355.91,950.49L350.57,951.8M336.5,949.82L335.66,952.59M348.42,950.53L349.14,951.37M337.49,957.67L335.66,952.59M337.49,957.67L344.95,957.48M293.71,472.16L302.55,721.64M293.71,472.16L281.95,818.28M281.95,818.28L284.36,868.37M302.55,721.64L303.52,895.63M284.36,868.37L291.5,896.48M291.5,896.48L297.6,899.86M297.6,899.86L303.52,895.63M302.55,721.64L316.44,899.06M316.44,899.06L315.59,899.78M315.59,899.78L306.53,899.54M303.52,895.63L306.53,899.54M305.19,909.61L297.62,908.88M305.19,909.61L306.53,899.54M297.6,899.86L296.04,907.12M297.62,908.88L296.1,907.33M296.1,907.33L296.04,907.12M291.5,896.48L288.6,901.94M296.04,907.12L288.6,901.94M284.36,868.37L281.06,897.56M281.06,897.56L286.9,902.38M288.6,901.94L286.9,902.38M312.76,925.31L313.58,917.02M312.76,925.31L306.26,926.07M306.26,926.07L303.16,919.7M303.16,919.7L306.77,913.36M313.58,917.02L306.77,913.36M315.59,899.78L314.77,906.33M305.19,909.61L305.51,909.89M314.77,906.33L305.51,909.89M303.16,919.7L298.45,919.9M295.68,914.24L298.45,919.9M295.68,914.24L297.62,908.88M306.77,913.36L305.51,909.89M386.85,945.48L389.09,939.8M943.57,931.18L625.94,931.13M625.94,931.13L389.09,939.8M293.71,472.16L302.43,-1598.89M322.15,900.14L316.44,899.06M322.15,900.14L331.18,885.26M331.18,885.26L302.43,-1598.89M281.95,818.28L268.72,896.63M265.44,899.47L268.72,896.63M303.33,-6306.05L302.43,-1598.89M390.16,911.36L386.36,904.75M387.93,900.97L386.36,904.75M363.41,704.55L303.33,-6306.05M363.41,704.55L369.73,848.36M382.11,895.39L387.93,900.97M382.11,895.39L372.22,861.73M369.73,848.36L372.22,861.73M283.9,975.55L284.35,969.23M273.52,971.98L278.49,964.39M284.35,969.23L278.49,964.39M278.32,962.68L278.32,962.68M278.32,962.68L278.49,964.39M318.2,985.95L313.27,978.7M318.2,985.95L326.55,980.29M313.27,978.7L318.88,973.06M326.55,980.29L326.75,979.76M326.75,979.76L322.61,973.79M318.88,973.06L322.61,973.79M307.84,1033.14L318.2,985.95M309.13,977.61L305.94,979.93M309.13,977.61L313.27,978.7M313.82,1724.61L332.45,990.67M332.45,990.67L326.55,980.29M329.02,966.15L326.73,966.98M329.02,966.15L333.17,971.94M333.17,971.94L330.8,977.8M330.8,977.8L326.75,979.76M326.73,966.98L322.61,973.79M353.23,970.93L352.78,971.22M346.99,962.7L343.63,967.37M352.78,971.22L343.63,967.37M329.02,966.15L329.93,964.14M333.17,971.94L340.86,970.8M329.93,964.14L336.63,961.17M336.63,961.17L342.22,967.91M340.86,970.8L342.22,967.91M336.63,961.17L337.49,957.67M342.22,967.91L343.63,967.37M319.61,959L320.86,949.56M319.61,959L326.89,958.55M328.32,954.63L326.89,958.55M328.32,954.63L323.48,949.79M323.48,949.79L320.86,949.56M329.93,964.14L326.89,958.55M326.73,966.98L316.16,962.42M316.16,962.42L319.61,959M335.66,952.59L328.32,954.63M330.85,944.15L323.48,949.79M322.16,938.94L316.57,930.03M322.16,938.94L318.72,942.9M316.57,930.03L309.22,938.67M309.22,938.67L309.94,940.72M318.72,942.9L309.94,940.72M330.33,940.87L325.83,938.4M325.83,938.4L322.16,938.94M320.86,949.56L320.22,949.04M318.72,942.9L320.22,949.04M362.53,963.92L371.87,964.98M360.79,972.14L363.27,975.58M363.27,975.58L372.1,968.09M372.1,968.09L371.87,964.98M379.57,959.41L384.54,954.78M379.57,959.41L379.31,961.7M388.86,962.8L384.97,965.97M379.31,961.7L384.97,965.97M415.02,983.51L385.13,968.91M385.13,968.91L384.97,965.97M369.83,984.25L368.54,979.86M369.83,984.25L380.05,983.95M368.54,979.86L376.64,974.05M380.05,983.95L381.99,979.82M381.99,979.82L380.3,975.25M380.3,975.25L376.64,974.05M363.32,976.02L356.8,982.69M363.32,976.02L368.54,979.86M363.69,997.94L356.8,982.69M363.69,997.94L369.83,984.25M354.49,7273.47L363.69,997.94M363.27,975.58L363.32,976.02M372.1,968.09L376.64,974.05M415.02,983.51L381.99,979.82M385.13,968.91L380.3,975.25M379.31,961.7L372.03,964.76M372.03,964.76L371.87,964.98M265.95,904.68L272.31,908.28M268.72,896.63L276.07,902.29M272.31,908.28L276.07,902.29M281.06,897.56L276.52,902.19M276.07,902.29L276.52,902.19M500.77,927.44L388.57,928.05M500.77,927.44L387.13,919.05M388.57,928.05L386,920.81M387.13,919.05L386,920.81M625.94,931.13L500.77,927.44M389.09,939.8L384.2,934.5M384.2,934.5L388.57,928.05M390.16,911.36L386.96,916.17M386.96,916.17L387.13,919.05M313.58,917.02L318.15,914.9M314.77,906.33L318.65,910.36M318.15,914.9L318.65,910.36M376.27,902.28L379.02,908.47M376.27,902.28L371.98,900.87M371.98,900.87L368.16,903.16M368.16,903.16L369.97,909.15M369.97,909.15L377.32,910.83M379.02,908.47L378.36,910.03M377.32,910.83L378.36,910.03M382.11,895.39L376.27,902.28M386.36,904.75L379.02,908.47M372.22,861.73L371.98,900.87M360.78,901.04L368.16,903.16M360.78,901.04L369.73,848.36M363.81,913.51L365.36,913.75M363.81,913.51L358.98,907.59M365.36,913.75L369.97,909.15M358.98,907.59L359.72,901.94M359.72,901.94L360.78,901.04M365.36,913.75L369.26,918.96M369.26,918.96L375.27,918.74M375.27,918.74L377.32,910.83M386.96,916.17L378.36,910.03M375.27,918.74L377.9,922.03M377.9,922.03L386,920.81M327.34,929.48L322.83,926.24M327.34,929.48L334.78,928.85M334.78,928.85L335.95,923.19M335.95,923.19L327.65,917.6M322.83,926.24L324.83,918.88M324.83,918.88L327.65,917.6M325.83,938.4L327.34,929.48M316.74,928.75L322.83,926.24M316.74,928.75L316.57,930.03M336.24,936.12L335.88,930.54M335.88,930.54L334.78,928.85M312.76,925.31L316.74,928.75M318.15,914.9L324.83,918.88M384.2,934.5L382.56,934.41M377.9,922.03L376.55,928.23M382.56,934.41L376.55,928.23M301.74,931.71L293.59,925.6M301.74,931.71L301.94,934M301.94,934L294.65,940.68M287.92,929.04L291.93,925.59M287.92,929.04L289.95,938.17M289.95,938.17L294.65,940.68M293.59,925.6L291.93,925.59M306.26,926.07L301.74,931.71M298.45,919.9L293.59,925.6M309.22,938.67L301.94,934M283.14,940.74L289.95,938.17M276.24,935.75L280.74,928.26M280.74,928.26L287.92,929.04M295.68,914.24L288.3,917.45M288.3,917.45L291.93,925.59M356.8,982.69L354.54,982.05M352.78,971.22L351.22,975.61M354.54,982.05L351.22,975.61M323.04,2567.88L345.98,986.22M354.54,982.05L345.98,986.22M268,927.43L272.74,921.59M280.74,928.26L277.75,922.4M277.75,922.4L272.74,921.59M255.23,922.43L268.71,916.1M272.74,921.59L268.71,916.1M261.48,909.13L268.73,915.71M272.31,908.28L272.51,910.16M272.51,910.16L268.73,915.71M268.73,915.71L268.71,916.1M340.86,898.15L340.23,903.59M340.86,898.15L347.99,895.22M347.99,895.22L350.38,900.18M350.38,900.18L346.34,906.46M346.34,906.46L340.23,903.59M331.18,885.26L333.41,892.86M363.41,704.55L347.99,895.22M333.41,892.86L340.86,898.15M359.72,901.94L350.38,900.18M358.98,907.59L354,911.03M354,911.03L346.5,907.43M346.5,907.43L346.34,906.46M335.79,911.4L328.59,915.48M335.79,911.4L334.87,905.42M328.59,915.48L325.62,905.81M331.8,903.35L334.87,905.42M331.8,903.35L326.01,904.88M326.01,904.88L325.62,905.81M318.65,910.36L325.62,905.81M327.65,917.6L328.59,915.48M333.41,892.86L331.8,903.35M340.23,903.59L334.87,905.42M322.15,900.14L326.01,904.88M335.95,923.19L337.84,921.87M335.79,911.4L338.07,912.98M337.84,921.87L338.07,912.98M346.5,907.43L344.11,912.13M338.07,912.98L344.11,912.13M355.91,950.49L357.77,946.91M349.2,941.11L355.94,940.08M357.77,946.91L355.94,940.08M287.48,977.57L293.07,972.51M299.6,978.08L298.4,974.14M293.07,972.51L298.4,974.14M342.49,976.15L343.61,977.05M342.49,976.15L336.09,980.2M343.61,977.05L345.41,985.57M345.41,985.57L337.22,984.39M337.22,984.39L336.09,980.2M340.86,970.8L342.49,976.15M351.22,975.61L343.61,977.05M330.8,977.8L336.09,980.2M345.98,986.22L345.41,985.57M332.45,990.67L337.22,984.39M287.19,916.77L281.38,917.57M287.19,916.77L287.77,910.39M281.38,917.57L279.23,912.36M279.23,912.36L282.32,907.68M287.77,910.39L284.67,907.27M284.67,907.27L282.32,907.68M288.3,917.45L287.19,916.77M277.75,922.4L281.38,917.57M296.1,907.33L287.77,910.39M272.51,910.16L279.23,912.36M276.52,902.19L282.32,907.68M286.9,902.38L284.67,907.27M337.84,921.87L343.53,921.81M344.11,912.13L346.92,917.94M346.92,917.94L343.53,921.81M354,911.03L353.17,918.39M346.92,917.94L353.17,918.39M335.88,930.54L347.57,929.8M343.53,921.81L347.57,929.8M345.75,938.47L347.98,930.07M347.98,930.07L347.57,929.8M361.81,956.18L367.91,953.13M357.77,946.91L364.59,946.19M364.59,946.19L367.91,953.13M382.18,948.27L376.57,947.45M382.56,934.41L374.67,941.68M376.57,947.45L374.67,941.68M379.57,959.41L374.04,951.19M376.57,947.45L374.04,951.19M372.03,964.76L369.15,953.34M374.04,951.19L369.15,953.34M367.91,953.13L369.15,953.34M376.55,928.23L369.59,930.29M374.67,941.68L370.01,939.58M369.59,930.29L370.01,939.58M355.94,940.08L358.31,936.8M364.59,946.19L366.93,940.71M358.31,936.8L366.93,940.71M370.01,939.58L366.93,940.71M281.91,949.99L282.5,950.23M294.65,940.68L295,942.67M295,942.67L291.16,948.18M282.5,950.23L291.16,948.18M320.22,949.04L313.26,951.36M309.94,940.72L307.84,945.64M307.84,945.64L313.26,951.36M364.64,926.73L364.83,927.34M364.64,926.73L356.48,921.21M364.83,927.34L358.18,935.27M356.48,921.21L355.96,921.19M355.96,921.19L350.87,929.45M350.87,929.45L358.18,935.27M369.26,918.96L364.64,926.73M369.59,930.29L364.83,927.34M363.81,913.51L356.48,921.21M358.31,936.8L358.18,935.27M353.17,918.39L355.96,921.19M347.98,930.07L350.87,929.45M293.8,956.74L287.36,957.58M293.8,956.74L294.4,965.02M288.89,965.94L286.21,960.21M288.89,965.94L292.23,966.6M286.21,960.21L287.36,957.58M292.23,966.6L294.4,965.02M282.5,950.23L287.36,957.58M291.16,948.18L294.54,956M294.54,956L293.8,956.74M284.35,969.23L288.89,965.94M278.32,962.68L286.21,960.21M293.07,972.51L292.23,966.6M295,942.67L301.59,948.17M294.54,956L296.98,955.58M301.59,948.17L296.98,955.58M307.84,945.64L303.67,948.23M301.59,948.17L303.67,948.23M311.18,957.81L307.06,957.23M311.18,957.81L315.5,962.64M314.6,964.91L315.5,962.64M314.6,964.91L307.83,969.4M307.06,957.23L302.8,959.74M302.8,959.74L301.66,965.82M307.83,969.4L302.84,967.64M302.84,967.64L301.66,965.82M313.26,951.36L311.18,957.81M303.67,948.23L307.06,957.23M316.16,962.42L315.5,962.64M318.88,973.06L314.6,964.91M309.13,977.61L307.83,969.4M296.98,955.58L302.8,959.74M294.4,965.02L301.66,965.82M298.4,974.14L302.84,967.64" stroke="#c99a7a" stroke-width="0.4" fill="none" opacity="0.35"/>
<circle cx="382.18" cy="948.27" r="0.6" fill="#c08a64" opacity="0.5"/>
<circle cx="361.81" cy="956.18" r="0.58" fill="#c08a64" opacity="0.5"/>
<circle cx="360.35" cy="961.14" r="0.85" fill="#c08a64" opacity="0.5"/>
<circle cx="312.76" cy="925.31" r="0.6" fill="#c08a64" opacity="0.5"/>
<circle cx="336.5" cy="949.82" r="1.06" fill="#c08a64" opacity="0.5"/>
<circle cx="306.26" cy="926.07" r="0.83" fill="#c08a64" opacity="0.5"/>
<circle cx="303.16" cy="919.7" r="1.04" fill="#c08a64" opacity="0.5"/>
<circle cx="333.17" cy="971.94" r="0.73" fill="#c08a64" opacity="0.5"/>
<circle cx="309.13" cy="977.61" r="0.92" fill="#c08a64" opacity="0.5"/>
<circle cx="335.66" cy="952.59" r="1.08" fill="#c08a64" opacity="0.5"/>
<circle cx="363.32" cy="976.02" r="1.07" fill="#c08a64" opacity="0.5"/>
<circle cx="349.14" cy="951.37" r="1.09" fill="#c08a64" opacity="0.5"/>
<circle cx="280.74" cy="928.26" r="0.84" fill="#c08a64" opacity="0.5"/>
<circle cx="295.68" cy="914.24" r="0.83" fill="#c08a64" opacity="0.5"/>
<circle cx="297.62" cy="908.88" r="1.03" fill="#c08a64" opacity="0.5"/>
<circle cx="288.6" cy="901.94" r="1.01" fill="#c08a64" opacity="0.5"/>
<circle cx="358.98" cy="907.59" r="0.9" fill="#c08a64" opacity="0.5"/>
<circle cx="325.83" cy="938.4" r="0.52" fill="#c08a64" opacity="0.5"/>
<circle cx="322.16" cy="938.94" r="0.74" fill="#c08a64" opacity="0.5"/>
<circle cx="316.74" cy="928.75" r="0.62" fill="#c08a64" opacity="0.5"/>
<circle cx="316.16" cy="962.42" r="0.73" fill="#c08a64" opacity="0.5"/>
<circle cx="323.48" cy="949.79" r="1.07" fill="#c08a64" opacity="0.5"/>
<circle cx="320.86" cy="949.56" r="0.84" fill="#c08a64" opacity="0.5"/>
<circle cx="385.13" cy="968.91" r="0.61" fill="#c08a64" opacity="0.5"/>
<circle cx="368.54" cy="979.86" r="0.79" fill="#c08a64" opacity="0.5"/>
<circle cx="381.99" cy="979.82" r="0.76" fill="#c08a64" opacity="0.5"/>
<circle cx="272.31" cy="908.28" r="0.65" fill="#c08a64" opacity="0.5"/>
<circle cx="276.52" cy="902.19" r="0.85" fill="#c08a64" opacity="0.5"/>
<circle cx="346.5" cy="907.43" r="0.74" fill="#c08a64" opacity="0.5"/>
<circle cx="379.02" cy="908.47" r="0.87" fill="#c08a64" opacity="0.5"/>
<circle cx="301.74" cy="931.71" r="0.82" fill="#c08a64" opacity="0.5"/>
<circle cx="301.94" cy="934" r="0.56" fill="#c08a64" opacity="0.5"/>
<circle cx="277.75" cy="922.4" r="0.73" fill="#c08a64" opacity="0.5"/>
<circle cx="346.34" cy="906.46" r="0.56" fill="#c08a64" opacity="0.5"/>
<circle cx="331.8" cy="903.35" r="0.75" fill="#c08a64" opacity="0.5"/>
<circle cx="337.84" cy="921.87" r="0.9" fill="#c08a64" opacity="0.5"/>
<circle cx="338.07" cy="912.98" r="0.69" fill="#c08a64" opacity="0.5"/>
<circle cx="344.11" cy="912.13" r="0.97" fill="#c08a64" opacity="0.5"/>
<circle cx="293.07" cy="972.51" r="0.77" fill="#c08a64" opacity="0.5"/>
<circle cx="336.09" cy="980.2" r="0.96" fill="#c08a64" opacity="0.5"/>
<circle cx="284.67" cy="907.27" r="0.91" fill="#c08a64" opacity="0.5"/>
<circle cx="346.92" cy="917.94" r="0.54" fill="#c08a64" opacity="0.5"/>
<circle cx="353.17" cy="918.39" r="0.61" fill="#c08a64" opacity="0.5"/>
<circle cx="364.59" cy="946.19" r="0.85" fill="#c08a64" opacity="0.5"/>
<circle cx="369.15" cy="953.34" r="0.88" fill="#c08a64" opacity="0.5"/>
<circle cx="369.59" cy="930.29" r="0.54" fill="#c08a64" opacity="0.5"/>
<circle cx="370.01" cy="939.58" r="0.85" fill="#c08a64" opacity="0.5"/>
<circle cx="291.16" cy="948.18" r="0.93" fill="#c08a64" opacity="0.5"/>
<circle cx="364.64" cy="926.73" r="0.51" fill="#c08a64" opacity="0.5"/>
<circle cx="356.48" cy="921.21" r="1.01" fill="#c08a64" opacity="0.5"/>
<circle cx="296.98" cy="955.58" r="0.66" fill="#c08a64" opacity="0.5"/>
<circle cx="311.18" cy="957.81" r="0.58" fill="#c08a64" opacity="0.5"/>
<circle cx="315.5" cy="962.64" r="1.04" fill="#c08a64" opacity="0.5"/>
<circle cx="302.8" cy="959.74" r="0.65" fill="#c08a64" opacity="0.5"/>
</g>
<rect x="269" y="901.4" width="116.4" height="79.6" fill="none" stroke="#1a1a1a" stroke-width="1.3" />
<text x="264" y="860.4" font-size="10.8" text-anchor="middle" textLength="21.7" lengthAdjust="spacingAndGlyphs" transform="rotate(-90 264 860.4)" >PBS</text>
<text x="264" y="942.4" font-size="10.4" text-anchor="middle" textLength="21" lengthAdjust="spacingAndGlyphs" transform="rotate(-90 264 942.4)" >HHT</text>
<rect x="352" y="883.1" width="32" height="12" fill="#fcf9f7" opacity="0.6"/>
<line x1="354.9" y1="894.6" x2="380.5" y2="894.6" stroke="#1a1a1a" stroke-width="1.5" />
<text x="353.1" y="891.6" font-size="8.9" textLength="29.8" lengthAdjust="spacingAndGlyphs" >200 µm</text>
<rect x="352" y="964.4" width="32" height="12" fill="#fcf9f7" opacity="0.6"/>
<line x1="354.9" y1="976.6" x2="380.5" y2="976.6" stroke="#1a1a1a" stroke-width="1.5" />
<text x="353.1" y="972.9" font-size="8.9" textLength="29.8" lengthAdjust="spacingAndGlyphs" >200 µm</text>
<line x1="428.8" y1="866.5" x2="428.8" y2="940.5" stroke="#1a1a1a" stroke-width="1.2" />
<line x1="425.3" y1="939.9" x2="428.8" y2="939.9" stroke="#1a1a1a" stroke-width="1.2" />
<text x="424" y="943.61" font-size="10.3" text-anchor="end" >0.00</text>
<line x1="425.3" y1="921.55" x2="428.8" y2="921.55" stroke="#1a1a1a" stroke-width="1.2" />
<text x="424" y="925.26" font-size="10.3" text-anchor="end" >0.05</text>
<line x1="425.3" y1="903.2" x2="428.8" y2="903.2" stroke="#1a1a1a" stroke-width="1.2" />
<text x="424" y="906.91" font-size="10.3" text-anchor="end" >0.10</text>
<line x1="425.3" y1="884.85" x2="428.8" y2="884.85" stroke="#1a1a1a" stroke-width="1.2" />
<text x="424" y="888.56" font-size="10.3" text-anchor="end" >0.15</text>
<line x1="425.3" y1="866.5" x2="428.8" y2="866.5" stroke="#1a1a1a" stroke-width="1.2" />
<text x="424" y="870.21" font-size="10.3" text-anchor="end" >0.20</text>
<line x1="426.8" y1="930.73" x2="428.8" y2="930.73" stroke="#1a1a1a" stroke-width="1.2" />
<line x1="426.8" y1="912.38" x2="428.8" y2="912.38" stroke="#1a1a1a" stroke-width="1.2" />
<line x1="426.8" y1="894.02" x2="428.8" y2="894.02" stroke="#1a1a1a" stroke-width="1.2" />
<line x1="426.8" y1="875.67" x2="428.8" y2="875.67" stroke="#1a1a1a" stroke-width="1.2" />
<line x1="428.2" y1="939.9" x2="465" y2="939.9" stroke="#1a1a1a" stroke-width="1.2" />
<rect x="435.1" y="884.12" width="11" height="55.78" fill="#8fbcf6" stroke="#111" stroke-width="1.4" />
<line x1="440.6" y1="939.9" x2="440.6" y2="942.5" stroke="#1a1a1a" stroke-width="1.2" />
<line x1="440.6" y1="884.12" x2="440.6" y2="878.61" stroke="#1a1a1a" stroke-width="1.2" />
<line x1="437.85" y1="878.61" x2="443.35" y2="878.61" stroke="#1a1a1a" stroke-width="1.2" />
<line x1="440.6" y1="884.12" x2="440.6" y2="889.62" stroke="#1a1a1a" stroke-width="1.2" />
<line x1="437.85" y1="889.62" x2="443.35" y2="889.62" stroke="#1a1a1a" stroke-width="1.2" />
<line x1="437.85" y1="884.12" x2="443.35" y2="884.12" stroke="#1a1a1a" stroke-width="1.2" />
<circle cx="436" cy="878.6" r="1.9" fill="#111" stroke="#fff" stroke-width="0.5" />
<circle cx="445.2" cy="878.6" r="1.9" fill="#111" stroke="#fff" stroke-width="0.5" />
<circle cx="440.6" cy="895.2" r="1.9" fill="#111" stroke="#fff" stroke-width="0.5" />
<rect x="450.25" y="910.54" width="11.5" height="29.36" fill="#ff9c9c" stroke="#111" stroke-width="1.4" />
<line x1="456" y1="939.9" x2="456" y2="942.5" stroke="#1a1a1a" stroke-width="1.2" />
<line x1="456" y1="910.54" x2="456" y2="903.2" stroke="#1a1a1a" stroke-width="1.2" />
<line x1="453.25" y1="903.2" x2="458.75" y2="903.2" stroke="#1a1a1a" stroke-width="1.2" />
<line x1="456" y1="910.54" x2="456" y2="917.88" stroke="#1a1a1a" stroke-width="1.2" />
<line x1="453.25" y1="917.88" x2="458.75" y2="917.88" stroke="#1a1a1a" stroke-width="1.2" />
<line x1="453.25" y1="910.54" x2="458.75" y2="910.54" stroke="#1a1a1a" stroke-width="1.2" />
<circle cx="456" cy="900.2" r="1.9" fill="#111" stroke="#fff" stroke-width="0.5" />
<circle cx="456" cy="907" r="1.9" fill="#111" stroke="#fff" stroke-width="0.5" />
<circle cx="456" cy="923.3" r="1.9" fill="#111" stroke="#fff" stroke-width="0.5" />
<polyline points="440.6,874 440.6,871.1 456,871.1 456,876.5" stroke="#1a1a1a" stroke-width="1.2" fill="none" />
<text x="432.1" y="866.5" font-size="8.7" textLength="31.4" lengthAdjust="spacingAndGlyphs" ><tspan font-style="italic">p</tspan>=0.041</text>
<text x="427.3" y="851.1" font-size="11.7" textLength="37.4" lengthAdjust="spacingAndGlyphs" >HSPA5</text>
<text x="443" y="946.3" font-size="11.7" text-anchor="end" transform="rotate(-45 443 946.3)" >PBS</text>
<text x="458.4" y="946.3" font-size="11.7" text-anchor="end" transform="rotate(-45 458.4 946.3)" >HHT</text>
<text x="398.6" y="901.5" font-size="8.5" text-anchor="middle" textLength="124.2" lengthAdjust="spacingAndGlyphs" transform="rotate(-90 398.6 901.5)" >DAB/Hematoxylin intensity (ratio)</text>
<line x1="528.5" y1="828.6" x2="593.7" y2="828.6" stroke="#1a1a1a" stroke-width="1.2" />
<text x="542.9" y="826.5" font-size="10.3" textLength="39.8" lengthAdjust="spacingAndGlyphs" >Old-PBS</text>
<line x1="597.3" y1="828.6" x2="662.6" y2="828.6" stroke="#1a1a1a" stroke-width="1.2" />
<text x="611.7" y="826.5" font-size="10.3" textLength="40.4" lengthAdjust="spacingAndGlyphs" >Old-HHT</text>
<text x="667" y="826.5" font-size="10.3" textLength="17.8" lengthAdjust="spacingAndGlyphs" >kDa</text>
<line x1="667" y1="828.6" x2="685" y2="828.6" stroke="#1a1a1a" stroke-width="0.9" />
<g clip-path="url(#clb17)">
<rect x="524.9" y="831" width="143.7" height="17.3" fill="#f0f0f0" />
<g filter="url(#bf0_70)">
<rect x="530" y="837" width="15" height="4" rx="2" fill="#000" opacity="0.85"/>
<rect x="547.3" y="837" width="15" height="4" rx="2" fill="#000" opacity="0.5"/>
<rect x="563.8" y="837" width="15" height="4" rx="2" fill="#000" opacity="0.65"/>
<rect x="579.7" y="837" width="15" height="4" rx="2" fill="#000" opacity="0.75"/>
<rect x="597.6" y="837" width="15" height="4" rx="2" fill="#000" opacity="0.12"/>
<rect x="613.2" y="837" width="15" height="4" rx="2" fill="#000" opacity="0.1"/>
<rect x="631.1" y="837" width="15" height="4" rx="2" fill="#000" opacity="0.12"/>
<rect x="649.1" y="837" width="15" height="4" rx="2" fill="#000" opacity="0.25"/>
</g></g>
<rect x="524.9" y="831" width="143.7" height="17.3" fill="none" stroke="#2a2a2a" stroke-width="1" />
<g clip-path="url(#clb18)">
<rect x="524.9" y="853.4" width="143.7" height="15" fill="#f0f0f0" />
<g filter="url(#bf0_70)">
<rect x="530" y="856.9" width="15" height="4.2" rx="2.1" fill="#000" opacity="0.45"/>
<rect x="547.3" y="856.9" width="15" height="4.2" rx="2.1" fill="#000" opacity="0.9"/>
<rect x="563.8" y="856.9" width="15" height="4.2" rx="2.1" fill="#000" opacity="0.9"/>
<rect x="579.7" y="856.9" width="15" height="4.2" rx="2.1" fill="#000" opacity="1"/>
<rect x="597.6" y="856.9" width="15" height="4.2" rx="2.1" fill="#000" opacity="0.5"/>
<rect x="613.2" y="856.9" width="15" height="4.2" rx="2.1" fill="#000" opacity="1"/>
<rect x="631.1" y="856.9" width="15" height="4.2" rx="2.1" fill="#000" opacity="0.85"/>
<rect x="649.1" y="856.9" width="15" height="4.2" rx="2.1" fill="#000" opacity="0.95"/>
</g></g>
<rect x="524.9" y="853.4" width="143.7" height="15" fill="none" stroke="#2a2a2a" stroke-width="1" />
<text x="521.3" y="842.3" font-size="10.3" text-anchor="end" >HSPA5</text>
<text x="521.3" y="862.4" font-size="10.3" text-anchor="end" >GAPDH</text>
<line x1="668.6" y1="837.1" x2="671" y2="837.1" stroke="#1a1a1a" stroke-width="0.9" />
<text x="671.2" y="840.5" font-size="10.3" >78</text>
<line x1="668.6" y1="858.4" x2="671" y2="858.4" stroke="#1a1a1a" stroke-width="0.9" />
<text x="671.2" y="861.8" font-size="10.3" >37</text>
<text x="558" y="881.2" font-size="10.6" textLength="74.4" lengthAdjust="spacingAndGlyphs" >HSPA5/GAPDH</text>
<text x="584.8" y="890.1" font-size="8.8" textLength="32.2" lengthAdjust="spacingAndGlyphs" ><tspan font-style="italic">p</tspan>=0.036</text>
<line x1="578.7" y1="898" x2="578.7" y2="962.9" stroke="#1a1a1a" stroke-width="1.2" />
<line x1="574.4" y1="962.3" x2="578.7" y2="962.3" stroke="#1a1a1a" stroke-width="1.2" />
<text x="574.1" y="965.76" font-size="9.6" text-anchor="end" >0.0</text>
<line x1="574.4" y1="946.2" x2="578.7" y2="946.2" stroke="#1a1a1a" stroke-width="1.2" />
<text x="574.1" y="949.66" font-size="9.6" text-anchor="end" >0.5</text>
<line x1="574.4" y1="930.1" x2="578.7" y2="930.1" stroke="#1a1a1a" stroke-width="1.2" />
<text x="574.1" y="933.56" font-size="9.6" text-anchor="end" >1.0</text>
<line x1="574.4" y1="914" x2="578.7" y2="914" stroke="#1a1a1a" stroke-width="1.2" />
<text x="574.1" y="917.46" font-size="9.6" text-anchor="end" >1.5</text>
<line x1="574.4" y1="897.9" x2="578.7" y2="897.9" stroke="#1a1a1a" stroke-width="1.2" />
<text x="574.1" y="901.36" font-size="9.6" text-anchor="end" >2.0</text>
<line x1="576.5" y1="954.25" x2="578.7" y2="954.25" stroke="#1a1a1a" stroke-width="1.2" />
<line x1="576.5" y1="938.15" x2="578.7" y2="938.15" stroke="#1a1a1a" stroke-width="1.2" />
<line x1="576.5" y1="922.05" x2="578.7" y2="922.05" stroke="#1a1a1a" stroke-width="1.2" />
<line x1="576.5" y1="905.95" x2="578.7" y2="905.95" stroke="#1a1a1a" stroke-width="1.2" />
<line x1="578.1" y1="962.3" x2="625" y2="962.3" stroke="#1a1a1a" stroke-width="1.2" />
<rect x="585.1" y="930.1" width="12.6" height="32.2" fill="#8fbcf6" stroke="#111" stroke-width="1.4" />
<line x1="591.4" y1="962.3" x2="591.4" y2="964.9" stroke="#1a1a1a" stroke-width="1.2" />
<line x1="591.4" y1="930.1" x2="591.4" y2="920.44" stroke="#1a1a1a" stroke-width="1.2" />
<line x1="588.4" y1="920.44" x2="594.4" y2="920.44" stroke="#1a1a1a" stroke-width="1.2" />
<line x1="591.4" y1="930.1" x2="591.4" y2="939.76" stroke="#1a1a1a" stroke-width="1.2" />
<line x1="588.4" y1="939.76" x2="594.4" y2="939.76" stroke="#1a1a1a" stroke-width="1.2" />
<line x1="588.4" y1="930.1" x2="594.4" y2="930.1" stroke="#1a1a1a" stroke-width="1.2" />
<circle cx="591.3" cy="901.8" r="1.9" fill="#111" stroke="#fff" stroke-width="0.5" />
<circle cx="591.3" cy="938.8" r="1.9" fill="#111" stroke="#fff" stroke-width="0.5" />
<circle cx="596.1" cy="937.2" r="1.9" fill="#111" stroke="#fff" stroke-width="0.5" />
<circle cx="591.3" cy="942.6" r="1.9" fill="#111" stroke="#fff" stroke-width="0.5" />
<rect x="604.55" y="957.47" width="12.9" height="4.83" fill="#ff9c9c" stroke="#111" stroke-width="1.4" />
<line x1="611" y1="962.3" x2="611" y2="964.9" stroke="#1a1a1a" stroke-width="1.2" />
<line x1="611" y1="957.47" x2="611" y2="954.41" stroke="#1a1a1a" stroke-width="1.2" />
<line x1="608" y1="954.41" x2="614" y2="954.41" stroke="#1a1a1a" stroke-width="1.2" />
<line x1="611" y1="957.47" x2="611" y2="960.53" stroke="#1a1a1a" stroke-width="1.2" />
<line x1="608" y1="960.53" x2="614" y2="960.53" stroke="#1a1a1a" stroke-width="1.2" />
<line x1="608" y1="957.47" x2="614" y2="957.47" stroke="#1a1a1a" stroke-width="1.2" />
<circle cx="611" cy="948" r="1.9" fill="#111" stroke="#fff" stroke-width="0.5" />
<circle cx="611" cy="958.3" r="1.9" fill="#111" stroke="#fff" stroke-width="0.5" />
<circle cx="606.1" cy="961.5" r="1.9" fill="#111" stroke="#fff" stroke-width="0.5" />
<circle cx="615.8" cy="960.7" r="1.9" fill="#111" stroke="#fff" stroke-width="0.5" />
<polyline points="591,898.5 591,896.6 611,896.6 611,903.3" stroke="#1a1a1a" stroke-width="1.2" fill="none" />
<text x="542.7" y="928.2" font-size="9.6" text-anchor="middle" textLength="73" lengthAdjust="spacingAndGlyphs" transform="rotate(-90 542.7 928.2)" >Relative expression</text>
<text x="554.3" y="928.1" font-size="9.6" text-anchor="middle" textLength="21.9" lengthAdjust="spacingAndGlyphs" transform="rotate(-90 554.3 928.1)" >(ratio)</text>
<text x="594.1" y="968.1" font-size="9.4" text-anchor="end" transform="rotate(-45 594.1 968.1)" >Old-PBS</text>
<text x="613.7" y="968.1" font-size="9.4" text-anchor="end" transform="rotate(-45 613.7 968.1)" >Old-HHT</text></svg></body></html>
